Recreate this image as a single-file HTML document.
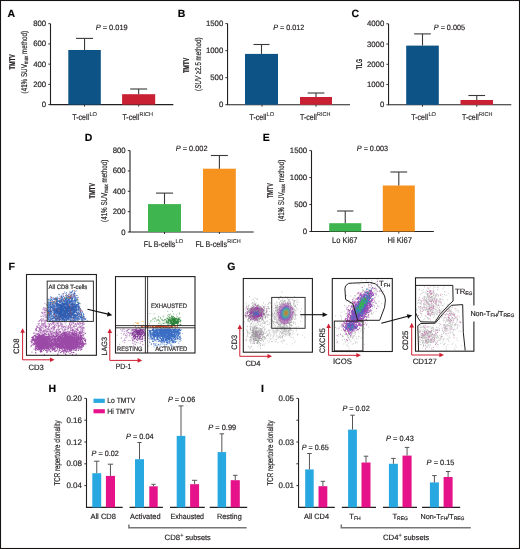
<!DOCTYPE html>
<html><head><meta charset="utf-8"><style>
html,body{margin:0;padding:0;background:#fff;}
body{width:520px;height:549px;overflow:hidden;}
svg{display:block;text-rendering:geometricPrecision;will-change:transform;font-family:"Liberation Sans",sans-serif;}
text{fill:#231f20;stroke:#231f20;stroke-width:0.18px;}
</style></head><body>
<svg width="520" height="549" viewBox="0 0 520 549">
<defs><filter id="bl" x="-50%" y="-50%" width="200%" height="200%"><feGaussianBlur stdDeviation="0.6"/></filter><filter id="bl2" x="-50%" y="-50%" width="200%" height="200%"><feGaussianBlur stdDeviation="0.9"/></filter></defs>
<rect x="0" y="0" width="520" height="549" fill="#fff"/>
<text x="7.60" y="16.70" font-size="10.5" font-weight="bold" style="fill:#000">A</text>
<line x1="50.50" y1="23.70" x2="50.50" y2="104.60" stroke="#231f20" stroke-width="1.1"/>
<line x1="48.30" y1="23.70" x2="50.50" y2="23.70" stroke="#231f20" stroke-width="0.9"/>
<text x="46.20" y="26.20" font-size="7.8" text-anchor="end">800</text>
<line x1="48.30" y1="43.93" x2="50.50" y2="43.93" stroke="#231f20" stroke-width="0.9"/>
<text x="46.20" y="46.43" font-size="7.8" text-anchor="end">600</text>
<line x1="48.30" y1="64.15" x2="50.50" y2="64.15" stroke="#231f20" stroke-width="0.9"/>
<text x="46.20" y="66.65" font-size="7.8" text-anchor="end">400</text>
<line x1="48.30" y1="84.38" x2="50.50" y2="84.38" stroke="#231f20" stroke-width="0.9"/>
<text x="46.20" y="86.88" font-size="7.8" text-anchor="end">200</text>
<line x1="48.30" y1="104.60" x2="50.50" y2="104.60" stroke="#231f20" stroke-width="0.9"/>
<text x="46.20" y="107.10" font-size="7.8" text-anchor="end">0</text>
<line x1="49.95" y1="104.60" x2="173.30" y2="104.60" stroke="#231f20" stroke-width="1.1"/>
<line x1="84.50" y1="104.60" x2="84.50" y2="106.60" stroke="#231f20" stroke-width="0.9"/>
<line x1="138.70" y1="104.60" x2="138.70" y2="106.60" stroke="#231f20" stroke-width="0.9"/>
<rect x="68.30" y="50.00" width="32.50" height="54.60" fill="#0d5386"/>
<line x1="84.55" y1="50.00" x2="84.55" y2="38.40" stroke="#3a3a3a" stroke-width="1.1"/>
<line x1="76.05" y1="38.40" x2="93.05" y2="38.40" stroke="#3a3a3a" stroke-width="1.1"/>
<rect x="122.10" y="94.20" width="33.10" height="10.40" fill="#c92133"/>
<line x1="138.65" y1="94.20" x2="138.65" y2="89.00" stroke="#3a3a3a" stroke-width="1.1"/>
<line x1="130.15" y1="89.00" x2="147.15" y2="89.00" stroke="#3a3a3a" stroke-width="1.1"/>
<text x="95.70" y="29.80" font-size="7.7" textLength="32.00" lengthAdjust="spacingAndGlyphs"><tspan font-style="italic">P</tspan> = 0.019</text>
<text x="72.30" y="119.80" font-size="8.4" textLength="16.80" lengthAdjust="spacingAndGlyphs">T-cell</text>
<text x="89.40" y="116.20" font-size="5.6" textLength="7.60" lengthAdjust="spacingAndGlyphs" style="stroke-width:0.08px">LO</text>
<text x="122.40" y="119.80" font-size="8.4" textLength="16.80" lengthAdjust="spacingAndGlyphs">T-cell</text>
<text x="139.50" y="116.20" font-size="5.6" textLength="13.40" lengthAdjust="spacingAndGlyphs" style="stroke-width:0.08px">RICH</text>
<text x="15.50" y="61.80" font-size="8.4" text-anchor="middle" font-weight="bold" textLength="15.40" lengthAdjust="spacingAndGlyphs" transform="rotate(-90 15.50 61.80)">TMTV</text>
<text x="27.2" y="62.2" font-size="8.4" text-anchor="middle" transform="rotate(-90 27.2 62.2)" textLength="62.5" lengthAdjust="spacingAndGlyphs">(41% SUV<tspan font-size="6" dy="1">max</tspan><tspan dy="-1"> method)</tspan></text>
<text x="177.80" y="16.70" font-size="10.5" font-weight="bold" style="fill:#000">B</text>
<line x1="227.55" y1="23.60" x2="227.55" y2="104.70" stroke="#231f20" stroke-width="1.1"/>
<line x1="225.35" y1="23.60" x2="227.55" y2="23.60" stroke="#231f20" stroke-width="0.9"/>
<text x="223.25" y="26.10" font-size="7.8" text-anchor="end">1500</text>
<line x1="225.35" y1="50.63" x2="227.55" y2="50.63" stroke="#231f20" stroke-width="0.9"/>
<text x="223.25" y="53.13" font-size="7.8" text-anchor="end">1000</text>
<line x1="225.35" y1="77.67" x2="227.55" y2="77.67" stroke="#231f20" stroke-width="0.9"/>
<text x="223.25" y="80.17" font-size="7.8" text-anchor="end">500</text>
<line x1="225.35" y1="104.70" x2="227.55" y2="104.70" stroke="#231f20" stroke-width="0.9"/>
<text x="223.25" y="107.20" font-size="7.8" text-anchor="end">0</text>
<line x1="227.00" y1="104.70" x2="350.00" y2="104.70" stroke="#231f20" stroke-width="1.1"/>
<line x1="262.00" y1="104.70" x2="262.00" y2="106.70" stroke="#231f20" stroke-width="0.9"/>
<line x1="316.00" y1="104.70" x2="316.00" y2="106.70" stroke="#231f20" stroke-width="0.9"/>
<rect x="245.00" y="53.90" width="33.00" height="50.80" fill="#0d5386"/>
<line x1="261.50" y1="53.90" x2="261.50" y2="44.50" stroke="#3a3a3a" stroke-width="1.1"/>
<line x1="253.50" y1="44.50" x2="269.50" y2="44.50" stroke="#3a3a3a" stroke-width="1.1"/>
<rect x="300.00" y="97.00" width="32.00" height="7.70" fill="#c92133"/>
<line x1="316.00" y1="97.00" x2="316.00" y2="93.00" stroke="#3a3a3a" stroke-width="1.1"/>
<line x1="307.65" y1="93.00" x2="324.35" y2="93.00" stroke="#3a3a3a" stroke-width="1.1"/>
<text x="273.30" y="30.00" font-size="7.7" textLength="31.00" lengthAdjust="spacingAndGlyphs"><tspan font-style="italic">P</tspan> = 0.012</text>
<text x="249.50" y="119.80" font-size="8.4" textLength="16.80" lengthAdjust="spacingAndGlyphs">T-cell</text>
<text x="266.60" y="116.20" font-size="5.6" textLength="7.60" lengthAdjust="spacingAndGlyphs" style="stroke-width:0.08px">LO</text>
<text x="300.00" y="119.80" font-size="8.4" textLength="16.80" lengthAdjust="spacingAndGlyphs">T-cell</text>
<text x="317.10" y="116.20" font-size="5.6" textLength="13.40" lengthAdjust="spacingAndGlyphs" style="stroke-width:0.08px">RICH</text>
<text x="189.00" y="65.40" font-size="8.4" text-anchor="middle" font-weight="bold" textLength="15.40" lengthAdjust="spacingAndGlyphs" transform="rotate(-90 189.00 65.40)">TMTV</text>
<text x="200.6" y="64.2" font-size="8.4" text-anchor="middle" transform="rotate(-90 200.6 64.2)" textLength="53.5" lengthAdjust="spacingAndGlyphs">(<tspan font-style="italic">SUV</tspan> ≥2.5 method)</text>
<text x="351.40" y="16.70" font-size="10.5" font-weight="bold" style="fill:#000">C</text>
<line x1="388.55" y1="23.80" x2="388.55" y2="104.80" stroke="#231f20" stroke-width="1.1"/>
<line x1="386.35" y1="23.80" x2="388.55" y2="23.80" stroke="#231f20" stroke-width="0.9"/>
<text x="384.25" y="26.30" font-size="7.8" text-anchor="end">4000</text>
<line x1="386.35" y1="44.05" x2="388.55" y2="44.05" stroke="#231f20" stroke-width="0.9"/>
<text x="384.25" y="46.55" font-size="7.8" text-anchor="end">3000</text>
<line x1="386.35" y1="64.30" x2="388.55" y2="64.30" stroke="#231f20" stroke-width="0.9"/>
<text x="384.25" y="66.80" font-size="7.8" text-anchor="end">2000</text>
<line x1="386.35" y1="84.55" x2="388.55" y2="84.55" stroke="#231f20" stroke-width="0.9"/>
<text x="384.25" y="87.05" font-size="7.8" text-anchor="end">1000</text>
<line x1="386.35" y1="104.80" x2="388.55" y2="104.80" stroke="#231f20" stroke-width="0.9"/>
<text x="384.25" y="107.30" font-size="7.8" text-anchor="end">0</text>
<line x1="388.00" y1="104.80" x2="511.30" y2="104.80" stroke="#231f20" stroke-width="1.1"/>
<line x1="422.50" y1="104.80" x2="422.50" y2="106.80" stroke="#231f20" stroke-width="0.9"/>
<line x1="476.80" y1="104.80" x2="476.80" y2="106.80" stroke="#231f20" stroke-width="0.9"/>
<rect x="406.20" y="45.60" width="32.60" height="59.20" fill="#0d5386"/>
<line x1="422.50" y1="45.60" x2="422.50" y2="33.90" stroke="#3a3a3a" stroke-width="1.1"/>
<line x1="414.15" y1="33.90" x2="430.85" y2="33.90" stroke="#3a3a3a" stroke-width="1.1"/>
<rect x="460.50" y="100.00" width="32.50" height="4.80" fill="#c92133"/>
<line x1="476.75" y1="100.00" x2="476.75" y2="95.50" stroke="#3a3a3a" stroke-width="1.1"/>
<line x1="468.40" y1="95.50" x2="485.10" y2="95.50" stroke="#3a3a3a" stroke-width="1.1"/>
<text x="433.80" y="30.00" font-size="7.7" textLength="31.20" lengthAdjust="spacingAndGlyphs"><tspan font-style="italic">P</tspan> = 0.005</text>
<text x="411.30" y="119.80" font-size="8.4" textLength="16.80" lengthAdjust="spacingAndGlyphs">T-cell</text>
<text x="428.40" y="116.20" font-size="5.6" textLength="7.60" lengthAdjust="spacingAndGlyphs" style="stroke-width:0.08px">LO</text>
<text x="462.00" y="119.80" font-size="8.4" textLength="16.80" lengthAdjust="spacingAndGlyphs">T-cell</text>
<text x="479.10" y="116.20" font-size="5.6" textLength="13.40" lengthAdjust="spacingAndGlyphs" style="stroke-width:0.08px">RICH</text>
<text x="362.00" y="64.20" font-size="8.4" text-anchor="middle" font-weight="bold" textLength="10.20" lengthAdjust="spacingAndGlyphs" transform="rotate(-90 362.00 64.20)">TLG</text>
<text x="84.80" y="141.40" font-size="10.5" font-weight="bold" style="fill:#000">D</text>
<line x1="130.00" y1="150.60" x2="130.00" y2="232.00" stroke="#231f20" stroke-width="1.1"/>
<line x1="127.80" y1="150.60" x2="130.00" y2="150.60" stroke="#231f20" stroke-width="0.9"/>
<text x="125.70" y="153.10" font-size="7.8" text-anchor="end">800</text>
<line x1="127.80" y1="170.95" x2="130.00" y2="170.95" stroke="#231f20" stroke-width="0.9"/>
<text x="125.70" y="173.45" font-size="7.8" text-anchor="end">600</text>
<line x1="127.80" y1="191.30" x2="130.00" y2="191.30" stroke="#231f20" stroke-width="0.9"/>
<text x="125.70" y="193.80" font-size="7.8" text-anchor="end">400</text>
<line x1="127.80" y1="211.65" x2="130.00" y2="211.65" stroke="#231f20" stroke-width="0.9"/>
<text x="125.70" y="214.15" font-size="7.8" text-anchor="end">200</text>
<line x1="127.80" y1="232.00" x2="130.00" y2="232.00" stroke="#231f20" stroke-width="0.9"/>
<text x="125.70" y="234.50" font-size="7.8" text-anchor="end">0</text>
<line x1="129.45" y1="232.00" x2="253.70" y2="232.00" stroke="#231f20" stroke-width="1.1"/>
<line x1="164.50" y1="232.00" x2="164.50" y2="234.00" stroke="#231f20" stroke-width="0.9"/>
<line x1="219.40" y1="232.00" x2="219.40" y2="234.00" stroke="#231f20" stroke-width="0.9"/>
<rect x="148.00" y="204.10" width="33.00" height="27.90" fill="#3eb54f"/>
<line x1="164.50" y1="204.10" x2="164.50" y2="193.10" stroke="#3a3a3a" stroke-width="1.1"/>
<line x1="156.00" y1="193.10" x2="173.00" y2="193.10" stroke="#3a3a3a" stroke-width="1.1"/>
<rect x="203.00" y="168.70" width="32.80" height="63.30" fill="#f6921e"/>
<line x1="219.40" y1="168.70" x2="219.40" y2="155.50" stroke="#3a3a3a" stroke-width="1.1"/>
<line x1="210.90" y1="155.50" x2="227.90" y2="155.50" stroke="#3a3a3a" stroke-width="1.1"/>
<text x="175.80" y="151.30" font-size="7.7" textLength="31.70" lengthAdjust="spacingAndGlyphs"><tspan font-style="italic">P</tspan> = 0.002</text>
<text x="143.80" y="247.00" font-size="8.4" textLength="31.50" lengthAdjust="spacingAndGlyphs">FL B-cells</text>
<text x="175.60" y="243.40" font-size="5.6" textLength="7.60" lengthAdjust="spacingAndGlyphs" style="stroke-width:0.08px">LO</text>
<text x="195.50" y="247.00" font-size="8.4" textLength="31.50" lengthAdjust="spacingAndGlyphs">FL B-cells</text>
<text x="227.30" y="243.40" font-size="5.6" textLength="13.40" lengthAdjust="spacingAndGlyphs" style="stroke-width:0.08px">RICH</text>
<text x="95.20" y="190.80" font-size="8.4" text-anchor="middle" font-weight="bold" textLength="15.60" lengthAdjust="spacingAndGlyphs" transform="rotate(-90 95.20 190.80)">TMTV</text>
<text x="107.0" y="190.8" font-size="8.4" text-anchor="middle" transform="rotate(-90 107.0 190.8)" textLength="62.2" lengthAdjust="spacingAndGlyphs">(41% SUV<tspan font-size="6" dy="1">max</tspan><tspan dy="-1"> method)</tspan></text>
<text x="262.80" y="141.40" font-size="10.5" font-weight="bold" style="fill:#000">E</text>
<line x1="311.50" y1="150.60" x2="311.50" y2="231.50" stroke="#231f20" stroke-width="1.1"/>
<line x1="309.30" y1="150.60" x2="311.50" y2="150.60" stroke="#231f20" stroke-width="0.9"/>
<text x="307.20" y="153.10" font-size="7.8" text-anchor="end">1500</text>
<line x1="309.30" y1="177.57" x2="311.50" y2="177.57" stroke="#231f20" stroke-width="0.9"/>
<text x="307.20" y="180.07" font-size="7.8" text-anchor="end">1000</text>
<line x1="309.30" y1="204.53" x2="311.50" y2="204.53" stroke="#231f20" stroke-width="0.9"/>
<text x="307.20" y="207.03" font-size="7.8" text-anchor="end">500</text>
<line x1="309.30" y1="231.50" x2="311.50" y2="231.50" stroke="#231f20" stroke-width="0.9"/>
<text x="307.20" y="234.00" font-size="7.8" text-anchor="end">0</text>
<line x1="310.95" y1="231.50" x2="433.80" y2="231.50" stroke="#231f20" stroke-width="1.1"/>
<line x1="345.30" y1="231.50" x2="345.30" y2="233.50" stroke="#231f20" stroke-width="0.9"/>
<line x1="398.80" y1="231.50" x2="398.80" y2="233.50" stroke="#231f20" stroke-width="0.9"/>
<rect x="329.20" y="223.20" width="32.10" height="8.30" fill="#3eb54f"/>
<line x1="345.25" y1="223.20" x2="345.25" y2="211.00" stroke="#3a3a3a" stroke-width="1.1"/>
<line x1="337.10" y1="211.00" x2="353.40" y2="211.00" stroke="#3a3a3a" stroke-width="1.1"/>
<rect x="382.80" y="185.50" width="32.00" height="46.00" fill="#f6921e"/>
<line x1="398.80" y1="185.50" x2="398.80" y2="172.00" stroke="#3a3a3a" stroke-width="1.1"/>
<line x1="390.45" y1="172.00" x2="407.15" y2="172.00" stroke="#3a3a3a" stroke-width="1.1"/>
<text x="356.80" y="150.80" font-size="7.7" textLength="31.20" lengthAdjust="spacingAndGlyphs"><tspan font-style="italic">P</tspan> = 0.003</text>
<text x="332.00" y="243.30" font-size="8.4" textLength="25.50" lengthAdjust="spacingAndGlyphs">Lo Ki67</text>
<text x="387.50" y="243.30" font-size="8.4" textLength="24.50" lengthAdjust="spacingAndGlyphs">Hi Ki67</text>
<text x="273.00" y="190.60" font-size="8.4" text-anchor="middle" font-weight="bold" textLength="14.80" lengthAdjust="spacingAndGlyphs" transform="rotate(-90 273.00 190.60)">TMTV</text>
<text x="284.2" y="190.5" font-size="8.4" text-anchor="middle" transform="rotate(-90 284.2 190.5)" textLength="61.6" lengthAdjust="spacingAndGlyphs">(41% SUV<tspan font-size="6" dy="1">max</tspan><tspan dy="-1"> method)</tspan></text>
<text x="48.50" y="392.40" font-size="10.5" font-weight="bold" style="fill:#000">H</text>
<line x1="86.50" y1="398.40" x2="86.50" y2="507.40" stroke="#231f20" stroke-width="1.1"/>
<line x1="84.30" y1="398.40" x2="86.50" y2="398.40" stroke="#231f20" stroke-width="0.9"/>
<text x="82.00" y="400.90" font-size="8.0" text-anchor="end">0.20</text>
<line x1="84.30" y1="420.20" x2="86.50" y2="420.20" stroke="#231f20" stroke-width="0.9"/>
<text x="82.00" y="422.70" font-size="8.0" text-anchor="end">0.16</text>
<line x1="84.30" y1="442.00" x2="86.50" y2="442.00" stroke="#231f20" stroke-width="0.9"/>
<text x="82.00" y="444.50" font-size="8.0" text-anchor="end">0.12</text>
<line x1="84.30" y1="463.80" x2="86.50" y2="463.80" stroke="#231f20" stroke-width="0.9"/>
<text x="82.00" y="466.30" font-size="8.0" text-anchor="end">0.08</text>
<line x1="84.30" y1="485.60" x2="86.50" y2="485.60" stroke="#231f20" stroke-width="0.9"/>
<text x="82.00" y="488.10" font-size="8.0" text-anchor="end">0.04</text>
<line x1="85.95" y1="507.40" x2="122.70" y2="507.40" stroke="#231f20" stroke-width="1.1"/>
<line x1="129.60" y1="507.40" x2="162.90" y2="507.40" stroke="#231f20" stroke-width="1.1"/>
<line x1="170.00" y1="507.40" x2="204.80" y2="507.40" stroke="#231f20" stroke-width="1.1"/>
<line x1="209.70" y1="507.40" x2="247.20" y2="507.40" stroke="#231f20" stroke-width="1.1"/>
<rect x="93.50" y="398.70" width="11.30" height="4.20" fill="#27a8e0"/>
<rect x="93.50" y="409.20" width="11.30" height="4.10" fill="#e5128a"/>
<text x="107.30" y="403.40" font-size="7.7" textLength="27.90" lengthAdjust="spacingAndGlyphs">Lo TMTV</text>
<text x="107.30" y="414.00" font-size="7.7" textLength="27.30" lengthAdjust="spacingAndGlyphs">Hi TMTV</text>
<rect x="92.30" y="473.20" width="8.90" height="34.20" fill="#27a8e0"/>
<line x1="96.75" y1="473.20" x2="96.75" y2="461.20" stroke="#555" stroke-width="1"/>
<line x1="94.05" y1="461.20" x2="99.45" y2="461.20" stroke="#555" stroke-width="1"/>
<rect x="105.90" y="475.90" width="9.10" height="31.50" fill="#e5128a"/>
<line x1="110.45" y1="475.90" x2="110.45" y2="464.20" stroke="#555" stroke-width="1"/>
<line x1="107.75" y1="464.20" x2="113.15" y2="464.20" stroke="#555" stroke-width="1"/>
<rect x="135.00" y="459.20" width="9.00" height="48.20" fill="#27a8e0"/>
<line x1="139.50" y1="459.20" x2="139.50" y2="442.50" stroke="#555" stroke-width="1"/>
<line x1="137.40" y1="442.50" x2="141.60" y2="442.50" stroke="#555" stroke-width="1"/>
<rect x="149.30" y="486.30" width="8.40" height="21.10" fill="#e5128a"/>
<line x1="153.50" y1="486.30" x2="153.50" y2="484.30" stroke="#555" stroke-width="1"/>
<line x1="151.40" y1="484.30" x2="155.60" y2="484.30" stroke="#555" stroke-width="1"/>
<rect x="176.70" y="435.90" width="8.60" height="71.50" fill="#27a8e0"/>
<line x1="181.00" y1="435.90" x2="181.00" y2="405.90" stroke="#555" stroke-width="1"/>
<line x1="178.55" y1="405.90" x2="183.45" y2="405.90" stroke="#555" stroke-width="1"/>
<rect x="190.10" y="484.20" width="9.00" height="23.20" fill="#e5128a"/>
<line x1="194.60" y1="484.20" x2="194.60" y2="480.30" stroke="#555" stroke-width="1"/>
<line x1="192.00" y1="480.30" x2="197.20" y2="480.30" stroke="#555" stroke-width="1"/>
<rect x="217.60" y="452.10" width="8.50" height="55.30" fill="#27a8e0"/>
<line x1="221.85" y1="452.10" x2="221.85" y2="433.80" stroke="#555" stroke-width="1"/>
<line x1="219.60" y1="433.80" x2="224.10" y2="433.80" stroke="#555" stroke-width="1"/>
<rect x="230.70" y="480.20" width="9.10" height="27.20" fill="#e5128a"/>
<line x1="235.25" y1="480.20" x2="235.25" y2="475.30" stroke="#555" stroke-width="1"/>
<line x1="233.00" y1="475.30" x2="237.50" y2="475.30" stroke="#555" stroke-width="1"/>
<text x="91.50" y="456.00" font-size="7.7" textLength="27.30" lengthAdjust="spacingAndGlyphs"><tspan font-style="italic">P</tspan> = 0.02</text>
<text x="126.00" y="439.20" font-size="7.7" textLength="27.60" lengthAdjust="spacingAndGlyphs"><tspan font-style="italic">P</tspan> = 0.04</text>
<text x="167.90" y="402.30" font-size="7.7" textLength="27.30" lengthAdjust="spacingAndGlyphs"><tspan font-style="italic">P</tspan> = 0.06</text>
<text x="208.30" y="429.60" font-size="7.7" textLength="27.90" lengthAdjust="spacingAndGlyphs"><tspan font-style="italic">P</tspan> = 0.99</text>
<text x="90.40" y="518.80" font-size="7.7" textLength="25.60" lengthAdjust="spacingAndGlyphs">All CD8</text>
<text x="130.10" y="518.50" font-size="7.7" textLength="30.40" lengthAdjust="spacingAndGlyphs">Activated</text>
<text x="170.60" y="518.50" font-size="7.7" textLength="33.40" lengthAdjust="spacingAndGlyphs">Exhausted</text>
<text x="217.10" y="518.50" font-size="7.7" textLength="24.60" lengthAdjust="spacingAndGlyphs">Resting</text>
<path d="M128.9 524.6 V527.7 H246.6" fill="none" stroke="#767676" stroke-width="1.5"/>
<text x="164.6" y="539.9" font-size="7.7" textLength="46.2" lengthAdjust="spacingAndGlyphs">CD8<tspan font-size="5.5" dy="-3.4">+</tspan><tspan dy="3.4" font-size="7.3"> subsets</tspan></text>
<text x="60.20" y="453.00" font-size="8.4" text-anchor="middle" textLength="65.20" lengthAdjust="spacingAndGlyphs" transform="rotate(-90 60.20 453.00)">TCR repertoire clonality</text>
<text x="261.00" y="392.40" font-size="10.5" font-weight="bold" style="fill:#000">I</text>
<line x1="298.55" y1="398.40" x2="298.55" y2="507.40" stroke="#231f20" stroke-width="1.1"/>
<line x1="296.35" y1="398.40" x2="298.55" y2="398.40" stroke="#231f20" stroke-width="0.9"/>
<text x="294.05" y="400.90" font-size="8.0" text-anchor="end">0.05</text>
<line x1="296.35" y1="420.20" x2="298.55" y2="420.20" stroke="#231f20" stroke-width="0.9"/>
<line x1="296.35" y1="442.00" x2="298.55" y2="442.00" stroke="#231f20" stroke-width="0.9"/>
<text x="294.05" y="444.50" font-size="8.0" text-anchor="end">0.03</text>
<line x1="296.35" y1="463.80" x2="298.55" y2="463.80" stroke="#231f20" stroke-width="0.9"/>
<line x1="296.35" y1="485.60" x2="298.55" y2="485.60" stroke="#231f20" stroke-width="0.9"/>
<text x="294.05" y="488.10" font-size="8.0" text-anchor="end">0.01</text>
<line x1="298.00" y1="507.40" x2="334.80" y2="507.40" stroke="#231f20" stroke-width="1.1"/>
<line x1="341.80" y1="507.40" x2="376.00" y2="507.40" stroke="#231f20" stroke-width="1.1"/>
<line x1="382.90" y1="507.40" x2="417.00" y2="507.40" stroke="#231f20" stroke-width="1.1"/>
<line x1="422.00" y1="507.40" x2="460.20" y2="507.40" stroke="#231f20" stroke-width="1.1"/>
<rect x="305.20" y="469.40" width="8.50" height="38.00" fill="#27a8e0"/>
<line x1="309.45" y1="469.40" x2="309.45" y2="453.50" stroke="#555" stroke-width="1"/>
<line x1="307.20" y1="453.50" x2="311.70" y2="453.50" stroke="#555" stroke-width="1"/>
<rect x="318.50" y="486.20" width="8.80" height="21.20" fill="#e5128a"/>
<line x1="322.90" y1="486.20" x2="322.90" y2="481.30" stroke="#555" stroke-width="1"/>
<line x1="320.65" y1="481.30" x2="325.15" y2="481.30" stroke="#555" stroke-width="1"/>
<rect x="348.10" y="429.60" width="8.80" height="77.80" fill="#27a8e0"/>
<line x1="352.50" y1="429.60" x2="352.50" y2="415.20" stroke="#555" stroke-width="1"/>
<line x1="350.25" y1="415.20" x2="354.75" y2="415.20" stroke="#555" stroke-width="1"/>
<rect x="361.50" y="462.50" width="9.00" height="44.90" fill="#e5128a"/>
<line x1="366.00" y1="462.50" x2="366.00" y2="456.20" stroke="#555" stroke-width="1"/>
<line x1="363.75" y1="456.20" x2="368.25" y2="456.20" stroke="#555" stroke-width="1"/>
<rect x="388.90" y="463.80" width="9.00" height="43.60" fill="#27a8e0"/>
<line x1="393.40" y1="463.80" x2="393.40" y2="458.40" stroke="#555" stroke-width="1"/>
<line x1="391.15" y1="458.40" x2="395.65" y2="458.40" stroke="#555" stroke-width="1"/>
<rect x="402.50" y="455.60" width="9.10" height="51.80" fill="#e5128a"/>
<line x1="407.05" y1="455.60" x2="407.05" y2="447.40" stroke="#555" stroke-width="1"/>
<line x1="404.80" y1="447.40" x2="409.30" y2="447.40" stroke="#555" stroke-width="1"/>
<rect x="429.90" y="482.40" width="9.00" height="25.00" fill="#27a8e0"/>
<line x1="434.40" y1="482.40" x2="434.40" y2="475.60" stroke="#555" stroke-width="1"/>
<line x1="432.15" y1="475.60" x2="436.65" y2="475.60" stroke="#555" stroke-width="1"/>
<rect x="443.60" y="477.00" width="9.00" height="30.40" fill="#e5128a"/>
<line x1="448.10" y1="477.00" x2="448.10" y2="471.50" stroke="#555" stroke-width="1"/>
<line x1="445.85" y1="471.50" x2="450.35" y2="471.50" stroke="#555" stroke-width="1"/>
<text x="301.70" y="450.20" font-size="7.7" textLength="27.00" lengthAdjust="spacingAndGlyphs"><tspan font-style="italic">P</tspan> = 0.65</text>
<text x="342.40" y="411.30" font-size="7.7" textLength="27.30" lengthAdjust="spacingAndGlyphs"><tspan font-style="italic">P</tspan> = 0.02</text>
<text x="386.10" y="441.40" font-size="7.7" textLength="27.70" lengthAdjust="spacingAndGlyphs"><tspan font-style="italic">P</tspan> = 0.43</text>
<text x="426.60" y="464.70" font-size="7.7" textLength="27.90" lengthAdjust="spacingAndGlyphs"><tspan font-style="italic">P</tspan> = 0.15</text>
<text x="304.00" y="518.80" font-size="7.7" textLength="25.00" lengthAdjust="spacingAndGlyphs">All CD4</text>
<text x="349.2" y="518.5" font-size="7.7">T<tspan font-size="5" dy="1.6">FH</tspan></text>
<text x="392.4" y="518.5" font-size="7.7">T<tspan font-size="5" dy="1.6">REG</tspan></text>
<text x="420.6" y="518.5" font-size="7.2">Non-T<tspan font-size="5" dy="1.6">FH</tspan><tspan dy="-1.6">/T</tspan><tspan font-size="5" dy="1.6">REG</tspan></text>
<path d="M341.3 524.6 V527.8 H470.8" fill="none" stroke="#767676" stroke-width="1.5"/>
<text x="382.9" y="539.9" font-size="7.7" textLength="46.4" lengthAdjust="spacingAndGlyphs">CD4<tspan font-size="5.5" dy="-3.4">+</tspan><tspan dy="3.4" font-size="7.3"> subsets</tspan></text>
<text x="272.70" y="453.00" font-size="8.4" text-anchor="middle" textLength="65.20" lengthAdjust="spacingAndGlyphs" transform="rotate(-90 272.70 453.00)">TCR repertoire clonality</text>
<path d="M55.5 333.9h0M48.5 333.5h0M64.9 326.2h0M48.8 324.0h0M48.0 332.6h0M44.6 323.6h0M82.5 329.9h0M55.1 331.0h0M70.1 331.3h0M71.7 324.4h0M57.4 334.4h0M58.4 327.2h0M53.1 327.4h0M63.0 336.2h0M83.1 339.3h0M44.0 319.9h0M64.0 339.1h0M60.9 325.3h0M33.2 336.9h0M82.5 332.7h0M82.5 325.2h0M45.1 314.2h0M81.8 328.5h0M81.2 333.0h0M43.2 309.3h0M69.2 332.8h0M69.6 337.3h0M40.7 332.4h0M78.0 339.8h0M54.1 338.8h0M39.1 337.1h0M82.3 333.9h0M45.1 312.0h0M55.2 337.6h0M58.4 329.7h0M63.3 332.2h0M46.6 331.7h0M56.6 325.1h0M60.7 328.4h0M82.6 338.6h0M63.6 338.7h0M70.2 332.1h0M39.3 329.4h0M38.6 336.2h0M43.2 339.1h0M49.1 329.6h0M77.3 339.8h0M64.2 328.7h0M42.1 312.8h0M74.0 322.6h0M58.5 338.3h0M59.7 334.2h0M50.6 334.1h0M80.5 335.7h0M46.9 309.9h0M73.4 326.4h0M80.1 336.6h0M74.0 333.3h0M80.1 333.0h0M65.0 336.6h0M80.1 322.9h0M67.6 327.9h0M62.1 327.0h0M58.7 328.0h0M67.0 326.4h0M70.3 328.4h0M37.1 336.6h0M79.2 339.7h0M42.6 323.8h0M61.4 339.1h0M83.2 328.8h0M75.0 334.4h0M36.1 334.2h0M45.9 320.9h0M52.4 339.2h0M75.2 326.4h0M32.9 338.0h0M45.6 326.9h0M42.5 337.1h0M43.2 337.2h0M83.2 330.7h0M43.0 311.1h0M53.5 338.0h0M81.3 339.9h0M73.3 326.5h0M57.4 322.6h0M45.1 326.1h0M61.5 323.9h0M43.4 324.6h0M77.8 330.3h0M42.3 339.8h0M43.3 331.2h0M42.8 339.9h0M53.6 336.8h0M41.1 338.4h0M51.1 339.2h0M51.4 333.7h0M51.9 336.8h0M54.6 333.3h0M33.8 337.7h0M74.8 336.8h0M46.3 339.3h0M45.7 329.4h0M75.3 337.6h0M45.1 317.6h0M78.2 330.3h0M76.4 324.9h0M41.8 330.9h0M59.9 329.1h0M70.4 330.7h0M44.8 310.1h0M83.1 323.7h0M79.1 334.5h0M77.7 322.5h0M63.0 326.2h0M39.8 328.5h0M48.7 323.2h0M55.4 333.6h0M61.3 337.9h0M39.6 332.2h0M54.3 334.7h0M66.0 322.6h0M44.1 331.3h0M74.0 331.9h0M52.7 339.0h0M73.9 333.4h0M60.1 337.7h0M45.8 320.7h0M39.7 338.4h0M61.8 326.1h0M82.4 322.8h0M53.7 332.7h0M51.6 331.4h0M40.6 330.5h0M65.2 327.2h0M39.0 325.3h0M60.8 336.7h0M43.6 326.8h0M43.5 323.9h0M42.3 325.6h0M38.1 338.4h0M68.3 335.7h0M44.9 337.0h0M63.1 338.6h0M42.0 324.9h0M68.5 333.3h0M32.9 336.5h0M80.7 330.6h0M50.1 330.7h0M80.7 329.2h0M43.0 336.1h0M49.6 336.1h0M44.4 337.2h0M58.2 334.4h0M73.5 323.4h0M42.7 325.5h0M68.0 328.6h0M51.8 333.5h0M82.1 337.5h0M80.9 333.3h0M79.5 325.9h0M47.0 329.3h0M49.2 339.5h0M81.1 325.3h0M72.3 322.1h0M59.5 332.7h0M42.9 328.7h0M36.6 326.1h0M77.3 328.6h0M75.2 326.5h0M80.6 327.1h0M57.7 336.3h0M41.4 340.0h0M36.1 339.5h0M77.7 330.1h0M41.8 326.2h0M42.4 315.9h0M53.9 332.4h0M60.0 325.9h0M38.5 324.8h0M74.5 337.2h0M64.4 330.7h0M70.8 326.3h0M48.8 325.8h0M55.2 332.1h0M70.5 338.1h0M69.3 331.9h0M59.4 340.0h0M76.9 338.6h0M62.5 329.4h0M68.4 334.0h0M54.6 338.9h0M43.1 332.9h0M76.6 333.2h0M58.1 323.0h0M68.3 333.6h0M46.9 310.0h0M68.2 327.0h0M84.3 332.1h0M79.9 326.0h0M44.0 331.8h0M39.2 337.1h0M40.1 336.5h0M77.3 334.4h0M56.3 336.2h0M45.9 309.6h0M62.4 335.4h0M68.2 326.1h0M73.1 325.6h0M63.2 333.9h0M60.4 340.0h0M83.1 322.4h0M41.4 337.8h0M66.7 325.3h0M71.8 324.4h0M42.8 327.3h0M76.5 337.5h0M52.1 333.7h0M68.5 338.3h0M37.1 333.2h0M65.5 338.4h0M44.5 330.1h0M72.8 335.1h0M69.0 333.5h0M48.7 329.9h0M68.7 325.8h0M77.1 323.2h0M33.6 339.9h0M79.9 324.6h0M55.7 336.4h0M80.0 333.3h0M81.1 333.1h0M75.0 338.2h0M66.4 327.8h0M35.3 333.1h0M58.6 324.2h0M68.0 332.3h0M79.1 339.5h0M84.3 334.3h0M77.2 329.1h0M65.5 331.1h0M38.6 327.8h0M43.2 338.3h0M50.4 333.7h0M72.8 322.7h0M46.3 334.4h0M40.1 320.1h0M83.7 327.4h0M45.5 308.3h0M47.4 336.7h0M43.1 323.4h0M40.8 331.6h0M42.4 325.1h0M78.7 323.9h0M54.5 329.6h0M80.5 335.4h0M58.6 335.8h0M41.2 334.1h0M72.9 333.5h0M49.3 329.2h0M82.4 339.1h0M60.8 321.8h0M43.4 307.5h0M45.0 333.5h0M35.8 328.7h0M82.2 329.4h0M53.7 338.6h0M61.0 339.3h0M51.9 321.8h0M78.6 336.3h0M45.9 327.8h0M62.5 337.9h0M45.0 321.3h0M48.3 326.5h0M65.7 339.2h0M46.1 319.1h0M62.8 334.4h0M64.2 326.7h0M62.9 325.1h0M43.3 321.0h0M51.2 335.3h0M47.7 331.7h0M34.0 335.7h0M56.4 330.2h0M43.5 339.3h0M51.1 327.7h0M81.0 333.7h0M74.3 330.5h0M58.5 332.2h0M75.9 324.0h0M55.1 332.1h0M53.4 322.8h0M49.3 332.3h0M38.7 323.6h0M35.3 337.7h0M51.5 324.4h0M83.7 328.3h0M40.9 325.8h0M54.7 332.3h0M48.3 334.5h0M59.9 322.7h0M61.3 333.7h0M49.4 329.3h0M36.0 337.1h0M56.4 325.4h0M32.6 338.2h0M48.9 336.9h0M59.7 338.9h0M53.4 329.5h0M48.5 335.9h0M41.2 339.8h0M37.4 333.9h0M44.7 307.8h0M39.4 328.9h0M46.2 334.2h0M56.6 334.3h0M43.6 318.6h0M84.0 324.1h0M44.8 324.9h0M60.8 322.2h0M69.5 323.3h0M40.6 334.9h0M54.2 337.3h0M83.0 335.3h0M70.8 327.2h0M54.8 327.0h0M44.9 334.7h0M36.9 337.4h0M41.9 312.4h0M80.4 323.4h0M80.1 331.8h0M42.6 337.5h0M53.6 330.7h0M55.4 338.1h0M74.3 334.0h0M60.7 338.1h0M72.2 333.0h0M62.8 339.7h0M72.4 327.5h0M44.5 321.1h0M48.0 336.3h0M40.2 327.3h0M57.7 331.4h0M41.8 328.8h0M41.4 322.3h0M67.7 338.3h0M45.1 310.1h0M77.1 334.0h0M52.1 322.6h0M67.7 333.6h0M84.3 338.7h0M48.0 323.8h0M56.6 339.8h0M41.4 329.6h0M80.4 335.1h0M81.9 339.9h0M67.2 333.3h0M70.6 325.0h0M64.3 339.1h0M50.6 336.3h0M41.3 327.8h0M52.3 323.8h0M61.8 323.2h0M83.4 322.5h0M45.1 320.1h0M43.6 323.5h0M60.8 324.1h0M56.4 335.4h0M72.9 331.0h0M36.1 334.0h0M40.3 339.4h0M44.2 315.3h0M48.0 329.0h0M63.8 337.6h0M40.1 330.6h0M74.2 338.9h0M80.3 323.8h0M38.7 335.9h0M40.9 333.6h0M39.5 334.6h0M82.4 325.0h0M83.6 324.2h0M58.1 323.7h0M38.7 327.5h0M46.4 320.5h0M63.6 331.6h0M76.5 326.0h0M77.7 335.8h0M75.8 330.3h0M44.6 309.6h0M56.7 323.3h0M50.4 337.8h0M51.4 331.8h0M59.1 336.9h0M66.2 335.4h0M78.6 335.9h0M62.2 335.9h0M49.6 330.7h0M54.3 327.8h0M66.8 329.7h0M38.6 331.5h0M62.3 324.1h0M69.4 324.7h0M72.7 331.3h0M61.4 338.6h0M69.3 331.7h0M74.3 337.8h0M59.9 326.1h0M49.4 337.0h0M45.1 310.8h0M81.8 335.6h0M75.1 333.7h0M71.0 324.5h0M64.8 336.2h0M76.8 335.4h0M36.7 339.9h0M40.1 328.0h0M50.4 337.7h0M77.5 328.3h0M49.0 336.0h0M59.8 337.7h0M42.9 339.7h0M69.2 322.3h0M82.4 329.4h0M44.4 308.1h0M49.5 326.5h0M48.9 339.8h0M74.8 335.0h0M44.1 325.8h0M52.7 329.2h0M61.6 325.1h0M49.3 325.8h0M43.4 325.1h0M38.5 338.0h0M83.6 335.6h0M52.9 334.1h0M58.7 332.7h0M39.0 327.9h0M42.1 323.4h0M40.7 329.4h0M68.2 335.2h0M55.4 332.5h0M64.7 337.9h0M52.3 327.3h0M59.8 337.0h0M58.4 336.5h0M79.5 327.5h0M35.3 330.9h0M79.0 335.7h0M46.5 310.8h0M45.3 335.2h0M82.0 332.9h0M45.4 308.3h0M46.4 332.6h0M72.6 332.9h0M57.3 338.3h0M56.0 326.2h0M70.4 327.7h0M42.7 334.4h0M77.1 339.0h0M84.4 328.1h0M52.8 326.3h0M57.9 329.9h0M59.1 335.4h0M83.6 334.7h0M65.9 339.7h0M77.3 324.4h0M37.9 323.7h0M52.5 327.2h0M40.2 338.6h0M80.5 335.8h0M59.8 322.0h0M77.5 323.4h0M43.8 330.8h0M47.5 336.5h0M65.7 332.1h0M71.5 333.4h0M44.7 330.1h0M76.8 337.2h0M67.5 334.7h0M35.5 329.4h0M39.7 339.6h0M79.7 338.4h0M74.7 334.1h0M79.5 332.2h0M47.9 339.4h0M45.1 334.4h0M41.9 318.8h0M59.6 337.2h0M77.0 332.5h0M69.1 334.3h0M65.7 334.3h0M51.2 334.6h0M46.3 328.7h0M69.7 333.1h0M46.3 339.3h0M43.5 336.5h0M60.0 339.2h0M40.5 338.7h0M63.2 335.4h0M52.6 338.1h0M69.7 325.9h0M80.1 328.0h0M73.7 330.7h0M38.7 324.1h0M74.8 326.3h0M78.3 327.7h0M39.7 330.3h0M42.2 337.3h0M63.5 327.5h0M79.6 323.2h0M62.9 330.9h0M54.8 333.1h0M68.0 328.4h0M53.7 338.6h0M41.1 335.7h0M60.1 334.9h0M80.7 332.3h0M39.1 327.5h0M60.0 336.8h0M74.6 333.7h0M72.2 328.9h0M66.2 333.8h0M42.8 309.2h0M70.6 340.0h0M51.6 328.7h0M63.3 333.1h0M43.5 325.8h0M49.9 323.3h0M80.4 333.2h0M67.8 329.7h0M78.3 339.4h0M57.2 328.0h0M41.4 316.5h0M41.7 330.2h0M45.9 323.0h0M73.4 329.5h0M81.8 329.6h0M45.8 314.6h0M83.9 333.0h0M39.2 331.9h0M56.2 330.0h0M78.7 334.5h0M59.1 326.2h0M44.6 337.1h0M57.4 324.0h0M54.0 327.6h0M44.4 326.6h0M53.5 332.3h0M68.0 330.4h0M70.3 338.1h0M41.2 333.1h0M77.2 336.5h0M63.4 333.7h0M79.8 333.3h0M37.3 326.7h0M73.8 334.8h0M48.2 331.3h0M71.5 324.5h0M80.2 329.4h0M70.9 334.8h0M69.2 338.2h0M45.0 316.9h0M43.8 336.3h0M49.7 331.6h0M83.4 332.6h0M36.3 333.8h0M62.2 339.6h0M61.9 326.6h0M71.4 330.6h0M44.9 310.5h0M45.6 339.5h0M65.5 326.9h0M59.6 339.8h0M46.4 331.5h0M54.5 328.3h0M81.3 332.9h0M41.4 337.1h0M69.6 324.1h0M53.0 326.7h0M37.8 339.5h0M52.8 331.4h0M69.8 334.3h0M58.2 338.4h0M36.6 338.7h0M45.9 337.9h0M42.3 327.2h0M58.2 330.4h0M44.0 320.5h0M78.2 338.8h0M54.1 327.8h0M43.0 334.2h0M43.6 339.4h0M57.2 323.0h0M37.2 339.4h0M38.2 321.4h0M33.1 337.5h0M47.3 339.6h0M78.4 326.8h0M83.9 339.5h0M34.6 336.8h0M40.9 328.4h0M44.2 315.0h0M74.5 325.6h0M70.3 332.8h0M58.5 327.8h0M69.8 331.4h0M43.4 308.8h0M51.3 328.9h0M40.5 319.7h0M52.2 339.5h0M80.1 326.3h0M72.3 339.6h0M45.3 333.7h0M81.0 335.9h0M62.1 329.8h0M40.4 328.5h0M36.9 338.3h0M77.5 329.9h0M77.8 332.9h0M72.5 333.0h0M69.8 323.2h0M41.6 323.9h0M45.5 317.4h0M47.4 326.2h0M66.9 337.0h0M48.7 327.2h0M76.3 333.9h0M39.1 338.2h0M45.2 327.4h0M72.7 331.6h0M56.8 338.0h0M57.3 326.1h0M58.0 325.4h0M35.6 339.5h0M47.3 331.5h0M44.6 339.8h0M73.0 330.1h0M41.6 339.3h0M40.4 330.5h0M81.8 323.6h0M80.9 333.6h0M68.1 336.4h0M44.7 337.7h0M75.3 333.3h0M80.6 334.8h0M38.3 338.5h0M70.6 326.8h0M82.2 322.5h0M50.4 332.1h0" stroke="#b47dbd" stroke-width="0.84" stroke-linecap="round"/>
<path d="M41.9 318.9h0M78.1 339.1h0M67.9 336.7h0M84.0 330.1h0M82.4 323.5h0M65.2 334.0h0M82.8 327.3h0M37.5 337.5h0M79.2 332.3h0M43.3 330.5h0M72.6 338.1h0M63.7 332.6h0M75.6 335.6h0M83.9 336.9h0M60.6 338.2h0M55.4 324.7h0M46.6 317.2h0M73.0 330.7h0M45.3 321.2h0M66.2 337.1h0M65.1 329.6h0M72.7 329.1h0M80.3 337.9h0M77.8 327.8h0M50.2 331.4h0M54.6 325.3h0M41.0 319.7h0M41.9 324.3h0M72.1 339.6h0M51.1 328.3h0M39.1 335.4h0M67.8 337.7h0M63.3 327.2h0M52.0 334.9h0M65.4 327.8h0M36.9 336.8h0M51.8 336.7h0M61.9 338.1h0M45.6 315.2h0M51.8 337.4h0M39.6 328.3h0M45.8 330.1h0M63.1 337.8h0M41.6 330.7h0M82.4 330.9h0M61.8 327.9h0M56.4 332.4h0M57.1 336.1h0M53.0 328.3h0M78.1 332.2h0M54.8 327.4h0M46.1 337.1h0M46.5 337.8h0M38.9 331.2h0M84.4 324.0h0M56.5 329.8h0M73.8 326.6h0M59.6 329.6h0M52.2 337.7h0M64.3 333.1h0M57.4 335.4h0M37.1 330.7h0M44.9 333.4h0M81.1 336.6h0M73.1 329.9h0M38.2 333.4h0M41.2 320.5h0M39.8 338.1h0M76.3 325.9h0M35.9 337.5h0M70.9 330.5h0M71.0 322.7h0M75.7 324.2h0M53.1 322.4h0M62.6 335.4h0M51.6 324.8h0M42.3 320.8h0M80.2 327.4h0M70.7 329.2h0M54.9 337.0h0M49.4 339.6h0M36.6 330.6h0M69.7 339.1h0M73.6 322.6h0M39.6 320.6h0M44.2 331.0h0M70.2 334.2h0M60.2 337.9h0M60.7 338.4h0M49.5 337.3h0M80.8 326.6h0M36.1 330.4h0M43.4 316.3h0M46.0 327.5h0M54.0 328.2h0M41.6 327.5h0M71.1 328.6h0M72.9 332.8h0M65.0 329.6h0M73.6 335.5h0M39.3 335.8h0M49.1 337.3h0M68.6 338.9h0M41.8 321.3h0M60.6 324.1h0M46.6 320.6h0M55.1 327.2h0M76.2 328.9h0M54.1 329.1h0M59.0 330.0h0M75.3 330.1h0M44.0 332.2h0M70.6 326.0h0M70.2 339.6h0M43.8 313.8h0M77.7 330.2h0M80.9 335.6h0M49.9 334.9h0M37.2 337.0h0M53.8 324.4h0M52.3 331.2h0M70.8 325.6h0M42.0 335.1h0M44.0 324.0h0M49.5 326.4h0M42.8 312.8h0M51.8 337.0h0M67.5 331.9h0M45.6 330.9h0M47.4 328.8h0M52.3 335.3h0M50.1 325.2h0M36.9 326.9h0M55.0 339.2h0M69.7 327.3h0M43.2 339.4h0M40.4 326.5h0M45.5 326.4h0M59.0 325.3h0M48.5 327.8h0M67.0 332.0h0M64.0 330.9h0M56.9 339.8h0M56.4 334.0h0M62.0 335.4h0M46.7 337.7h0M56.4 332.6h0M35.5 337.9h0M66.7 335.3h0M41.8 339.2h0M74.7 334.1h0M50.8 330.0h0M39.2 337.7h0M60.4 332.3h0M46.6 326.1h0M52.6 323.7h0M79.8 322.6h0M81.8 332.2h0M70.4 339.1h0M43.3 335.5h0M58.5 322.0h0M60.2 334.3h0M64.2 322.1h0M64.4 326.6h0M68.6 328.3h0M63.0 330.1h0M80.3 335.7h0M44.9 303.4h0M45.0 312.3h0M52.3 332.3h0M36.5 328.6h0M54.7 338.2h0M76.1 334.1h0M54.5 327.1h0M57.7 323.6h0M63.4 335.5h0M52.1 336.1h0M67.9 334.6h0M72.8 329.9h0M68.6 326.9h0M49.5 324.5h0M37.7 327.5h0M62.8 333.1h0M40.8 316.2h0M68.8 334.1h0M56.9 335.8h0M56.4 331.3h0M39.2 321.3h0M44.3 323.0h0M65.2 329.1h0M48.1 329.4h0M41.7 321.2h0M35.9 338.7h0M65.9 335.4h0M65.3 329.6h0M46.5 326.3h0M54.7 336.6h0M45.4 333.4h0M68.9 333.2h0M34.8 335.4h0M45.5 325.3h0M57.8 329.3h0M58.5 326.6h0M71.8 330.4h0M54.1 323.4h0M41.3 338.9h0M57.9 334.4h0M80.0 336.1h0M77.9 334.6h0M39.3 323.3h0M39.3 329.4h0M46.0 316.2h0M36.0 329.1h0M47.2 339.8h0M37.5 334.8h0M72.7 333.2h0M63.0 333.3h0M78.7 323.2h0M72.4 338.2h0M69.8 338.4h0M71.0 336.6h0M50.1 338.9h0M56.7 332.5h0M40.4 339.8h0M54.7 339.1h0M81.0 332.0h0M44.3 312.5h0M53.7 326.5h0M42.2 313.8h0M55.4 334.3h0M65.2 323.8h0M36.1 330.0h0M82.7 327.3h0M47.8 331.2h0M64.0 337.5h0M58.7 326.0h0M72.3 338.8h0M49.2 335.9h0M68.9 332.8h0M72.3 321.7h0M76.8 339.0h0M50.8 332.9h0M59.6 338.4h0M62.9 338.0h0M72.0 323.8h0M38.6 333.6h0M43.0 338.5h0M82.0 333.9h0M76.0 331.7h0M49.7 334.2h0M48.8 328.0h0M80.9 323.2h0M45.1 322.3h0M81.6 336.5h0M71.8 327.6h0M76.7 331.4h0M69.8 335.8h0M77.3 329.3h0M61.9 328.7h0M46.9 330.3h0M81.8 326.2h0M52.8 337.8h0M45.4 310.6h0M60.1 331.5h0M80.4 336.6h0M37.4 326.1h0M58.1 337.4h0M80.9 333.6h0M78.0 330.0h0M64.6 336.5h0M61.1 323.9h0M40.3 338.5h0M45.0 312.9h0M50.7 332.1h0M44.2 332.0h0M62.3 321.8h0M63.2 326.8h0M78.4 324.4h0M53.6 323.0h0M61.9 326.2h0M56.7 335.6h0M43.9 328.9h0M42.5 332.1h0M43.1 319.3h0M45.5 327.3h0M74.0 327.4h0M62.1 324.5h0M41.9 312.7h0M73.8 323.7h0M83.0 338.5h0M75.0 328.5h0M45.3 338.9h0M55.8 336.8h0M46.3 308.7h0M76.4 329.7h0M83.1 324.9h0M46.4 304.8h0M67.4 335.3h0M43.0 331.4h0M53.9 339.3h0M37.0 334.8h0M75.0 324.6h0M77.0 329.7h0M81.6 327.8h0M72.2 329.8h0M83.9 327.3h0M60.7 332.9h0M82.7 328.6h0M36.4 329.7h0M68.9 332.0h0M63.7 337.8h0M69.4 324.1h0M75.4 323.5h0M55.9 323.0h0M52.3 339.8h0M82.4 338.5h0M33.5 336.6h0M77.9 335.4h0M34.1 333.2h0M58.4 336.6h0M45.0 338.1h0M50.6 323.5h0M56.4 333.3h0M49.6 324.8h0M54.6 325.6h0M67.1 336.9h0M45.3 324.0h0M76.5 337.0h0M51.6 328.6h0M70.9 322.3h0M42.7 333.7h0M50.8 332.4h0M71.9 336.3h0M61.7 333.7h0M68.6 328.0h0M56.2 338.2h0M39.9 325.8h0M66.1 332.1h0M47.7 334.9h0M36.5 328.1h0M53.1 322.6h0M54.2 332.8h0M49.8 338.3h0M62.1 332.3h0M35.8 335.9h0M54.4 322.1h0M72.3 332.6h0M38.7 331.2h0M39.2 334.1h0M74.7 336.2h0" stroke="#9a4aa6" stroke-width="0.84" stroke-linecap="round"/>
<path d="M40.6 339.2h0M46.2 337.9h0M38.5 341.4h0M40.8 350.0h0M43.0 339.7h0M44.2 343.8h0M43.1 342.4h0M43.8 338.5h0M37.4 341.1h0M37.8 345.1h0M49.4 346.9h0M43.7 343.8h0M39.4 338.0h0M44.1 337.4h0M43.2 342.1h0M44.9 342.8h0M42.4 340.6h0M35.4 341.4h0M44.7 346.3h0M47.3 339.1h0M38.4 345.1h0M40.3 351.6h0M43.2 337.3h0M39.9 348.1h0M35.0 343.1h0M36.7 348.2h0M40.3 339.0h0M35.5 340.1h0M32.3 340.9h0M50.3 342.9h0M41.0 338.5h0M43.3 340.9h0M38.8 347.5h0M43.7 339.5h0M47.6 342.4h0M43.9 343.1h0M46.5 344.8h0M40.7 345.1h0M40.5 343.1h0M48.3 338.9h0M38.1 341.2h0M40.1 347.2h0M35.9 350.6h0M48.0 341.0h0M42.7 341.3h0M44.6 344.9h0M44.9 345.3h0M49.4 342.0h0M44.7 341.9h0M42.1 343.4h0M41.8 343.8h0M38.8 342.1h0M39.7 338.5h0M39.3 340.9h0M41.4 337.1h0M41.0 338.6h0M38.9 343.3h0M46.2 343.6h0M40.1 341.1h0M47.1 336.9h0M46.3 337.3h0M39.6 342.8h0M41.2 348.4h0M43.9 342.4h0M45.6 342.7h0M38.9 346.5h0M47.7 347.1h0M37.5 349.3h0M40.4 345.3h0M46.6 351.0h0M35.8 339.0h0M46.5 344.3h0M40.8 332.3h0M43.7 341.9h0M32.0 352.0h0M32.5 340.6h0M42.0 343.4h0M44.9 341.7h0M38.6 341.3h0M34.0 338.7h0M49.5 340.2h0M41.7 349.3h0M46.0 343.0h0M44.8 341.7h0M38.5 346.1h0M42.5 348.2h0M41.0 341.3h0M43.3 341.9h0M40.8 339.5h0M43.0 343.7h0M49.0 342.5h0M35.3 344.2h0M50.7 341.0h0M38.9 342.0h0M31.1 341.4h0M41.3 337.3h0M44.2 339.5h0M34.9 340.1h0M44.4 349.4h0M46.8 343.3h0M40.0 341.7h0M45.7 340.8h0M43.6 346.0h0M38.5 340.5h0M43.7 342.6h0M41.5 340.7h0M41.8 349.1h0M47.2 336.9h0M42.2 342.9h0M42.1 337.7h0M41.5 343.1h0M39.4 343.7h0M32.7 337.3h0M42.4 344.0h0M41.4 341.0h0M42.7 346.4h0M45.4 342.3h0M40.2 346.3h0M44.1 345.7h0M40.9 339.6h0M42.7 340.4h0M46.4 345.6h0M33.7 344.9h0M47.1 346.3h0M40.2 339.6h0M45.7 346.2h0M42.2 338.5h0M36.2 343.5h0M38.8 340.2h0M43.7 346.3h0M34.1 340.2h0M47.0 342.5h0M40.7 344.9h0M37.6 338.3h0M42.1 348.1h0M45.9 342.6h0M45.9 341.2h0M37.5 336.7h0M43.0 345.8h0M43.4 342.5h0M40.5 346.4h0M41.8 337.5h0M47.2 340.3h0M43.5 342.6h0M46.0 343.5h0M46.7 343.3h0M40.2 340.8h0M44.5 339.7h0M45.6 341.8h0M38.4 339.5h0M41.4 348.8h0M45.0 342.7h0M38.5 349.3h0M40.9 342.6h0M40.4 347.3h0M42.7 341.0h0M42.7 339.1h0M38.0 342.0h0M31.0 346.7h0M49.6 338.7h0M41.5 337.0h0M42.7 343.3h0M44.8 337.9h0M39.7 340.3h0M41.1 350.7h0M41.2 342.5h0M40.1 345.4h0M51.8 346.7h0M47.9 338.8h0M46.1 342.7h0M46.8 346.3h0M44.5 336.7h0M42.5 340.8h0M43.7 342.7h0M46.0 336.9h0M39.2 342.3h0M43.2 341.2h0M41.9 342.8h0M46.0 342.2h0M42.9 336.2h0M32.0 337.4h0M43.4 334.5h0M43.6 342.3h0M42.0 340.0h0M40.4 345.5h0M43.4 342.5h0M40.1 343.3h0M46.6 342.5h0M40.6 338.4h0M42.4 339.4h0M36.5 345.7h0M39.6 335.4h0M39.2 349.1h0M41.6 337.9h0M37.8 345.1h0M43.6 343.4h0M41.2 344.3h0M47.9 344.3h0M41.4 337.7h0M43.7 348.1h0M44.5 338.2h0M42.7 347.2h0M39.6 344.4h0M46.6 348.4h0M35.9 336.4h0M43.4 345.1h0M40.6 342.5h0M40.4 346.8h0M33.5 343.5h0M37.1 340.2h0M36.1 339.4h0M41.9 342.7h0M48.9 341.8h0M43.3 343.9h0M43.0 347.8h0M42.5 343.1h0M41.6 342.6h0M41.8 346.1h0M42.1 342.8h0M41.8 345.3h0M40.2 345.9h0M39.8 345.1h0M49.4 343.4h0M41.7 338.4h0M44.8 342.6h0M45.5 340.3h0M44.0 349.0h0M43.5 341.4h0M37.0 342.6h0M44.5 344.7h0M37.7 339.0h0M38.2 339.0h0M40.9 343.5h0M49.4 343.3h0M47.6 336.7h0M47.9 345.4h0M43.7 345.5h0M44.4 349.4h0M45.1 336.4h0M35.3 348.3h0M41.7 347.3h0M40.7 340.3h0M40.7 343.7h0M42.7 340.4h0M44.1 344.8h0M38.5 338.6h0M34.4 341.5h0M42.0 340.1h0M39.7 342.1h0M42.1 344.6h0M45.2 344.2h0M46.3 339.2h0M44.3 343.9h0M38.0 340.2h0M43.7 342.9h0M37.2 340.6h0M47.9 345.6h0M42.3 347.4h0M38.5 342.0h0M45.7 341.4h0M37.7 344.7h0M48.2 333.6h0M42.6 338.2h0M40.9 337.6h0M52.0 340.2h0M42.2 340.1h0M38.2 341.0h0M42.8 348.8h0M43.1 348.2h0M37.9 342.9h0M40.3 337.0h0M56.4 341.7h0M42.9 339.9h0M39.8 338.9h0M46.0 341.2h0M41.4 343.2h0M37.3 343.4h0M41.3 344.2h0M40.5 342.7h0M44.0 346.0h0M39.3 346.1h0M38.2 341.9h0M42.5 343.1h0M32.4 339.1h0M41.3 345.9h0M39.3 348.0h0M35.1 342.9h0M44.1 342.7h0M43.0 345.9h0M38.9 344.7h0M46.1 341.8h0M33.1 338.4h0M38.7 338.8h0M43.7 339.7h0M51.6 344.6h0M37.0 341.6h0M47.9 345.0h0M38.1 346.3h0M40.2 350.5h0M39.9 344.7h0M44.2 341.0h0M41.4 346.7h0M43.9 342.4h0M43.7 348.8h0M45.6 344.3h0M43.3 337.0h0M42.5 340.9h0M44.8 340.4h0M43.7 338.9h0M45.5 340.0h0M41.9 344.7h0M40.8 342.6h0M46.1 348.9h0M35.0 339.4h0M44.6 345.9h0M40.2 342.9h0M41.3 350.7h0M41.2 338.4h0M36.0 338.1h0M47.0 341.2h0M49.5 344.9h0M43.5 344.9h0M45.0 345.9h0M38.2 340.6h0M39.9 343.0h0M41.0 338.2h0M39.3 349.0h0M50.2 339.6h0M43.5 342.5h0M38.7 345.1h0M41.7 348.5h0M43.8 341.5h0M31.8 342.2h0M45.3 340.1h0M45.4 345.0h0M35.2 341.9h0M43.2 345.3h0M42.6 342.5h0M40.7 341.6h0M42.0 338.8h0M44.5 341.4h0M44.0 340.8h0M43.6 343.1h0M45.4 344.2h0M45.6 342.0h0M41.8 341.7h0M37.2 342.2h0M46.2 345.3h0M38.7 343.7h0M44.9 337.8h0M43.3 343.8h0M44.9 343.5h0M35.3 335.4h0M49.6 341.2h0M46.9 347.1h0M42.3 338.5h0M47.3 342.5h0M44.0 344.3h0M45.7 346.2h0M36.5 337.6h0M42.5 342.6h0M45.0 342.1h0M41.3 349.8h0M47.3 346.7h0M46.0 339.8h0M41.7 342.4h0M37.8 339.5h0M42.6 338.3h0M44.1 344.3h0M41.1 341.4h0M44.3 344.3h0M43.4 338.3h0M35.7 349.9h0M39.5 341.3h0M35.0 339.8h0M39.2 345.4h0M31.8 337.6h0M40.4 340.9h0M39.0 341.0h0M35.9 343.5h0M46.6 343.1h0M39.9 347.1h0M43.9 339.0h0M39.8 340.4h0M41.8 346.9h0M39.3 342.1h0M42.4 338.4h0M40.2 344.8h0M46.4 336.0h0M44.7 341.6h0M47.0 344.8h0M49.6 343.7h0M40.5 339.7h0M36.5 344.6h0M44.0 345.5h0M43.4 337.3h0M40.4 341.7h0M42.6 345.3h0M47.5 343.6h0M34.0 339.0h0M33.8 339.9h0M37.4 343.4h0M41.1 346.5h0M46.2 341.0h0M45.6 342.6h0M43.8 347.4h0M37.6 342.4h0M47.9 339.9h0M42.8 343.1h0M40.4 338.0h0M39.4 339.1h0M46.2 343.5h0M44.7 338.4h0M43.9 343.1h0M46.0 340.1h0M45.1 347.4h0M48.9 339.3h0M37.7 337.4h0M45.7 344.7h0M43.3 339.5h0M46.8 348.3h0M41.9 342.2h0M46.6 344.4h0M47.2 341.2h0M43.3 341.4h0M39.8 341.6h0M40.9 344.4h0M40.8 342.8h0M38.9 338.3h0M47.5 339.1h0M49.0 345.9h0M33.2 340.3h0M40.4 342.7h0M41.3 340.5h0M46.8 342.2h0M45.7 340.2h0M39.3 347.3h0M40.9 338.7h0M41.3 346.3h0M41.4 340.1h0M44.5 346.1h0M41.2 341.5h0M40.6 352.1h0M41.3 348.8h0M41.4 344.0h0M34.2 343.2h0M42.2 341.5h0M40.4 337.8h0M36.3 343.2h0M39.5 342.3h0M41.3 340.8h0M39.2 349.1h0M37.8 340.8h0M40.9 338.5h0M38.3 345.6h0M45.6 343.1h0M54.5 345.5h0M46.8 339.7h0M46.2 348.5h0M40.5 349.0h0M38.9 338.6h0M41.8 339.8h0M44.5 338.7h0M42.3 335.7h0M41.9 346.3h0M41.0 343.7h0M46.2 338.7h0M37.1 342.9h0M43.1 341.7h0M38.3 346.9h0M37.5 341.7h0M41.8 345.2h0M40.3 339.7h0M49.8 339.6h0M45.1 342.1h0M40.2 342.4h0M41.0 343.7h0M32.2 342.5h0M42.3 339.2h0M40.5 350.8h0M49.1 344.9h0M42.9 341.5h0M47.4 341.0h0M38.9 345.0h0M38.3 339.8h0M47.6 337.0h0M41.8 343.0h0M43.0 337.5h0M41.1 341.4h0M49.4 346.1h0M39.1 345.7h0M44.5 342.2h0M41.1 341.6h0M36.1 340.4h0M45.6 347.7h0M49.2 341.3h0M44.4 334.1h0M41.0 338.2h0M45.2 336.8h0M38.0 338.7h0M43.5 345.5h0M38.5 348.9h0M42.6 339.7h0M43.4 342.6h0M45.2 343.8h0M50.4 346.7h0M39.6 345.4h0M44.9 339.1h0M39.1 339.8h0M32.5 344.8h0M41.2 346.9h0M39.9 342.9h0M44.8 346.0h0M43.2 338.9h0M50.5 345.7h0M47.3 348.3h0M47.4 344.1h0M43.8 344.8h0M36.2 345.5h0M38.3 344.1h0M38.1 345.1h0M40.1 351.3h0M42.8 344.4h0M38.5 341.6h0M41.8 341.6h0M40.3 339.5h0M45.0 341.3h0M38.9 343.9h0M38.9 342.0h0M40.1 339.4h0M41.2 339.7h0M37.2 343.8h0M40.9 337.5h0M40.5 343.3h0M43.7 343.9h0M43.0 344.7h0M40.1 339.8h0M44.4 341.2h0M42.1 344.9h0M45.6 346.9h0M39.4 341.3h0M44.2 337.6h0M37.2 344.7h0M39.7 339.4h0M45.1 344.5h0M45.6 341.4h0M40.9 341.4h0M43.2 335.5h0M39.4 345.1h0M39.0 342.4h0M42.5 344.4h0M40.2 338.6h0M51.6 340.1h0M48.6 336.4h0M42.5 341.9h0M49.3 349.7h0M45.8 339.1h0M38.9 340.0h0M40.1 343.5h0M39.0 341.7h0M47.7 347.6h0M34.9 339.3h0M40.6 347.1h0M40.8 349.3h0M43.4 347.6h0M38.7 341.5h0M45.9 344.6h0M34.9 341.6h0M42.7 344.8h0M39.6 348.7h0M42.6 347.7h0M43.6 342.9h0M40.8 338.5h0M45.4 345.3h0M45.6 341.3h0M38.2 341.3h0M40.8 342.6h0M45.8 339.4h0M40.2 345.0h0M45.5 350.3h0M44.1 339.6h0M38.1 339.8h0M42.3 343.5h0M41.8 340.5h0M41.3 342.3h0M44.3 342.9h0M38.9 338.5h0M47.7 342.3h0M41.4 342.5h0M46.4 341.5h0M42.7 341.8h0M44.3 339.1h0M42.8 346.2h0M46.6 344.8h0M43.2 348.1h0M44.8 347.5h0M37.5 338.8h0M45.1 341.7h0M40.4 339.3h0M47.7 338.4h0M42.5 337.7h0M41.4 350.4h0M51.4 340.9h0M38.2 348.3h0M38.8 336.4h0M43.4 338.8h0M36.5 346.5h0M39.3 338.9h0M42.7 341.9h0M46.3 342.9h0M48.1 346.6h0M48.9 346.5h0M42.3 344.5h0M42.1 337.2h0M37.6 345.2h0M33.0 339.7h0M37.1 342.4h0M38.1 343.5h0M41.3 341.0h0M38.8 334.9h0M42.3 338.1h0M40.9 343.9h0M46.1 345.1h0M47.7 337.7h0M44.6 348.1h0M43.6 338.7h0M43.6 340.8h0M39.6 346.3h0M41.4 338.7h0M39.5 349.4h0M38.8 345.0h0M42.7 346.7h0M41.0 339.3h0M39.6 339.0h0M52.0 343.3h0M40.8 347.0h0M44.6 342.0h0M44.4 343.6h0M46.4 348.4h0M40.9 342.5h0M41.4 346.9h0M43.5 345.3h0M45.5 340.4h0M42.6 347.4h0M45.6 345.4h0M41.0 341.4h0M38.8 341.7h0M41.8 337.6h0M46.5 339.9h0M43.0 344.7h0M40.0 336.3h0M45.7 344.0h0M41.1 346.6h0M45.5 339.3h0M41.8 336.5h0M41.1 347.5h0M38.9 345.5h0M36.3 341.6h0M45.7 348.6h0M43.8 345.2h0M48.6 334.1h0M35.6 349.2h0M51.5 344.7h0M42.3 343.5h0M42.2 340.5h0M42.0 342.2h0M44.6 345.0h0M45.8 344.7h0M38.4 347.5h0M31.9 343.0h0M43.3 340.8h0M49.2 338.8h0M37.6 340.9h0M43.7 345.4h0M42.5 344.9h0M39.4 340.5h0M42.6 337.9h0M42.8 341.2h0M44.7 339.1h0M40.1 340.6h0M40.7 339.1h0M41.1 337.9h0M44.1 344.9h0M42.0 342.0h0M38.7 339.3h0M41.2 339.5h0M37.6 343.2h0M42.0 341.2h0M39.0 342.4h0M39.4 341.1h0M42.8 345.1h0M44.9 340.5h0M46.6 338.6h0M41.4 347.1h0M51.1 343.1h0M40.7 341.3h0M37.5 342.1h0M40.5 340.0h0M46.6 339.9h0M48.5 345.5h0M44.5 340.6h0M40.1 335.7h0M43.1 341.7h0M43.5 340.3h0M43.9 337.4h0M33.8 344.3h0M46.1 331.7h0M46.9 341.4h0M41.5 337.3h0M38.3 345.1h0M39.3 342.5h0M41.5 349.5h0M45.4 338.0h0M40.2 338.6h0M36.8 340.2h0M46.2 342.8h0M44.6 342.1h0M40.5 342.9h0M41.8 349.3h0M48.8 343.9h0M44.3 335.7h0M41.6 350.9h0M39.0 345.4h0M46.7 341.2h0M41.2 341.0h0M45.1 342.7h0M47.7 346.7h0M42.0 351.7h0M40.9 340.5h0M41.2 339.5h0M40.5 342.4h0M45.4 337.1h0M36.8 339.9h0M40.9 344.2h0M39.1 347.9h0M40.1 341.9h0M42.3 346.7h0M43.2 342.7h0M40.0 343.2h0M43.6 341.4h0M42.0 336.2h0M40.1 346.7h0M47.4 342.4h0M33.9 349.0h0M41.4 351.6h0M40.5 346.1h0M39.7 347.4h0M46.4 338.9h0M46.9 352.6h0M41.2 338.4h0M43.1 341.2h0M36.4 338.9h0M43.0 337.3h0M46.1 344.2h0M41.4 347.5h0M38.6 345.0h0M37.0 341.5h0M44.5 340.7h0M41.6 344.9h0M47.8 347.1h0M43.8 341.7h0M36.6 348.6h0M49.1 335.1h0M45.3 342.5h0M44.7 343.7h0M41.3 342.6h0M41.9 346.7h0M41.1 340.7h0M44.5 344.9h0M43.7 343.6h0M47.6 346.5h0M42.8 341.9h0M44.5 336.1h0M40.1 340.1h0M42.7 341.3h0M51.3 345.2h0M43.6 350.5h0M42.0 341.5h0M46.7 345.5h0M45.5 346.8h0M40.7 340.3h0M39.3 343.0h0M45.8 338.9h0M40.0 337.9h0M49.5 345.4h0M42.9 338.3h0M38.2 340.3h0M42.2 338.2h0M41.2 346.9h0M42.1 342.9h0M34.2 341.7h0M41.5 340.2h0M36.8 342.4h0M38.2 340.7h0M36.1 342.3h0M45.4 339.7h0M43.3 337.3h0M44.2 344.5h0M40.6 345.7h0M38.7 342.8h0M48.3 342.5h0M37.8 346.6h0M44.0 341.6h0M35.2 336.0h0M36.3 347.8h0M43.1 339.6h0M46.4 347.7h0M38.9 344.3h0M35.9 343.9h0M48.8 337.6h0M42.2 340.4h0M41.7 342.9h0M43.1 345.7h0M44.0 346.3h0M45.8 346.5h0M39.5 344.0h0M40.6 339.6h0M49.4 343.6h0M42.2 335.2h0M41.2 345.3h0M41.3 340.7h0M47.6 341.5h0M40.8 342.2h0M41.2 346.3h0M44.2 342.4h0M40.7 341.8h0M48.4 341.5h0M44.5 337.1h0M43.2 345.0h0M46.8 343.7h0M44.2 343.7h0M46.0 349.8h0M42.8 339.7h0M44.3 342.2h0M44.4 345.3h0M42.6 341.1h0M43.2 338.2h0M43.1 339.5h0M43.7 343.0h0M41.2 338.4h0M42.2 340.2h0M41.5 345.0h0M45.6 338.1h0M45.5 347.4h0M46.2 343.6h0M41.7 348.7h0M40.8 337.2h0M42.4 343.6h0M38.2 338.3h0M49.4 343.0h0M45.0 340.6h0M36.4 342.0h0M47.0 340.3h0M35.4 342.0h0M41.0 342.7h0M38.1 341.5h0M40.0 345.7h0M42.6 345.7h0M41.9 335.1h0M34.7 344.5h0M45.3 345.7h0M41.8 336.3h0M40.2 344.0h0M47.2 341.4h0M39.9 339.9h0M45.8 345.7h0M35.2 346.9h0M38.6 337.4h0M36.1 340.0h0M50.7 351.6h0M37.4 340.2h0M42.6 344.1h0M40.3 337.0h0M40.5 340.2h0M35.4 343.1h0M36.6 336.5h0M47.7 345.9h0M47.4 343.0h0M40.5 342.3h0M36.9 345.2h0M43.1 341.5h0M35.1 342.2h0M48.1 347.7h0M45.3 341.4h0M42.6 344.6h0M42.8 346.3h0M39.6 334.4h0M33.0 339.4h0M36.9 344.9h0M46.1 342.6h0M44.1 342.9h0M42.7 340.9h0M40.5 346.8h0M41.0 342.5h0M46.5 346.1h0M40.6 343.5h0M38.3 343.1h0M43.2 342.6h0M42.7 343.9h0M32.6 339.7h0M42.3 340.9h0M38.4 341.8h0M48.0 341.8h0M39.6 340.9h0M37.6 344.3h0M38.4 345.8h0M45.4 344.6h0M45.9 342.3h0M35.5 342.4h0M44.4 337.2h0M37.5 346.5h0M43.7 347.3h0M44.5 342.8h0M43.6 345.6h0M41.9 341.9h0M43.2 341.5h0M51.1 339.9h0M36.4 338.1h0M46.0 341.2h0M42.6 341.8h0M43.1 337.5h0M42.4 340.6h0M46.1 344.8h0M37.3 339.2h0M44.2 346.8h0M44.9 342.1h0M46.2 334.3h0M40.0 339.2h0M38.2 344.6h0M43.1 343.6h0M41.6 344.8h0M45.0 340.6h0M45.6 339.3h0M48.7 338.0h0M41.0 338.8h0M42.2 347.2h0M39.2 348.9h0M47.4 344.0h0M39.8 345.8h0M31.3 339.9h0M45.7 342.5h0M51.4 340.2h0M37.0 341.8h0M44.2 348.6h0M35.4 343.2h0M46.8 340.2h0M40.3 338.3h0M44.9 345.5h0M44.3 343.5h0M45.8 342.2h0M44.8 345.5h0M47.0 344.4h0M42.4 345.1h0M36.2 336.4h0M48.2 343.1h0M38.1 340.5h0M41.5 342.9h0M39.2 346.1h0M35.6 352.5h0M38.0 348.5h0M44.6 336.7h0M37.4 342.8h0M43.1 341.1h0M42.1 343.2h0M37.7 342.8h0M50.7 340.3h0M38.2 344.9h0M47.2 346.3h0M39.7 342.3h0M42.8 341.9h0M43.6 346.4h0M44.1 342.6h0M41.3 348.9h0M37.4 349.7h0M44.9 342.9h0M39.2 349.1h0M46.7 345.8h0M50.0 336.2h0M42.4 341.5h0M39.3 342.9h0M44.1 344.5h0M41.5 337.9h0M44.2 344.8h0M50.1 345.9h0M42.1 338.5h0M52.5 340.2h0M42.8 345.3h0M44.0 347.3h0M38.1 340.2h0M42.7 338.2h0M39.7 347.5h0M43.2 342.2h0M39.9 342.8h0M41.9 338.8h0M45.1 338.1h0M47.0 341.4h0M33.3 337.1h0M43.2 339.5h0M49.0 347.5h0M50.1 345.8h0M47.2 340.4h0M47.1 341.0h0M41.9 337.8h0M42.3 344.0h0M41.8 338.7h0M45.5 345.9h0M41.7 345.4h0M45.9 339.1h0M41.9 336.0h0M38.1 344.1h0M38.7 344.0h0M43.4 335.2h0M40.2 348.0h0M42.1 343.0h0M39.3 336.9h0M35.9 352.9h0M41.3 339.5h0M42.5 335.7h0M47.5 348.7h0M39.1 343.8h0M38.6 345.7h0M38.8 342.1h0M47.1 344.5h0M40.8 337.2h0M35.9 346.9h0M44.0 342.8h0M46.9 343.1h0M39.2 342.2h0M41.7 342.6h0M51.7 344.7h0M43.1 341.7h0M39.4 339.0h0M34.7 341.0h0M36.1 336.0h0M38.4 335.3h0M47.4 347.1h0M38.3 349.9h0M44.6 333.5h0M42.1 339.0h0M35.3 341.7h0M46.5 344.2h0M36.4 340.2h0M39.1 346.7h0M41.7 339.1h0M38.5 335.5h0M38.8 345.8h0M34.6 343.3h0M41.6 345.5h0M37.6 345.9h0M48.1 350.8h0M35.7 342.5h0M41.2 343.0h0M38.2 345.7h0M51.2 348.0h0M38.3 340.5h0M44.9 343.1h0M39.1 347.0h0M44.1 346.3h0M41.3 347.2h0M40.2 338.6h0M42.0 337.6h0M46.9 345.2h0M35.5 343.2h0M45.4 341.3h0M43.7 340.5h0M41.8 342.3h0M43.9 339.1h0M37.6 343.8h0M40.0 344.5h0M40.1 337.9h0M44.9 343.6h0M44.9 341.4h0M40.6 347.2h0M35.4 348.9h0M44.0 342.4h0M42.4 344.8h0M39.0 343.6h0M38.3 335.9h0M42.8 343.0h0M44.6 344.6h0M44.8 345.5h0M37.9 347.0h0M52.5 340.6h0M37.1 345.1h0M45.6 346.3h0M48.0 337.6h0M43.5 344.3h0M46.9 339.4h0M42.1 341.3h0M41.4 342.1h0M41.4 336.2h0M41.9 342.8h0M40.5 329.8h0M39.3 340.2h0M38.6 348.4h0M45.6 341.9h0M44.4 354.5h0M38.2 344.3h0M39.7 348.0h0M46.4 342.2h0M44.4 339.7h0M35.8 345.6h0M48.4 341.5h0M39.9 336.1h0M50.4 338.3h0M38.2 341.9h0M46.8 342.8h0M41.9 342.7h0M45.3 342.5h0M42.6 342.3h0M37.7 347.5h0M39.3 337.8h0M40.3 342.7h0M45.2 337.3h0M37.0 343.2h0M43.5 338.6h0M37.6 343.2h0M41.4 336.8h0M38.6 348.0h0M37.9 346.4h0M36.0 348.0h0M48.3 340.3h0M39.3 344.9h0M37.1 344.6h0M46.8 343.6h0M43.3 342.0h0M45.9 339.6h0M48.2 342.5h0M40.7 336.7h0M40.3 343.5h0M46.9 336.8h0M41.5 340.1h0M37.3 342.6h0M39.0 345.7h0M31.4 345.3h0M34.5 335.6h0M44.0 341.4h0M42.5 339.1h0M37.9 339.9h0M41.8 339.6h0M40.4 339.5h0M42.9 338.5h0M33.8 333.1h0M41.9 342.9h0M45.8 339.9h0M37.5 337.2h0M45.0 340.3h0M45.9 342.3h0M40.9 335.9h0M39.4 345.5h0M39.6 345.1h0M35.6 346.3h0M52.9 346.6h0M43.3 338.1h0M39.9 340.2h0M42.7 335.3h0M38.6 345.5h0M42.6 345.3h0M45.3 338.5h0M36.7 344.3h0M42.1 342.9h0M38.8 346.3h0M43.9 346.7h0M40.6 345.1h0M41.8 339.2h0M41.7 336.6h0M41.3 343.2h0M44.7 338.8h0M36.8 340.0h0M33.9 340.2h0M52.2 343.1h0M39.0 340.1h0M48.9 338.4h0M41.6 342.3h0M39.1 340.0h0M35.4 339.6h0M47.1 347.7h0M40.9 345.1h0M43.8 343.0h0M41.5 347.0h0M44.2 341.8h0M41.1 346.0h0M39.7 340.0h0M40.9 340.8h0M46.9 343.9h0M41.7 340.7h0M47.5 344.2h0M50.1 345.9h0M41.2 340.6h0M40.9 343.3h0M45.1 344.4h0M48.1 337.1h0M42.1 337.5h0M38.0 340.4h0M39.5 339.1h0M36.1 346.7h0M40.7 346.1h0M37.7 334.2h0M39.7 345.8h0M39.8 344.0h0" stroke="#9a4aa6" stroke-width="1.20" stroke-linecap="round"/>
<path d="M60.1 348.0h0M71.9 346.5h0M66.3 347.5h0M69.1 339.9h0M63.5 342.2h0M61.4 336.9h0M69.5 345.1h0M66.2 345.6h0M80.9 336.5h0M70.5 337.8h0M63.5 342.8h0M75.1 344.3h0M73.6 349.8h0M65.6 346.7h0M79.8 344.1h0M54.5 341.3h0M66.2 335.0h0M68.0 345.3h0M66.5 341.2h0M80.0 339.3h0M61.1 342.2h0M77.3 344.6h0M69.1 339.9h0M78.1 345.8h0M54.9 343.4h0M73.3 339.3h0M58.4 340.7h0M54.8 344.4h0M64.5 334.4h0M68.3 347.1h0M58.6 340.5h0M82.7 342.8h0M64.2 342.8h0M74.6 337.7h0M67.7 335.0h0M56.1 335.4h0M75.1 343.3h0M74.2 347.2h0M68.9 343.0h0M71.7 344.0h0M60.2 340.8h0M67.3 342.1h0M62.6 341.4h0M70.7 342.8h0M73.1 345.5h0M72.8 346.2h0M75.1 348.0h0M73.4 339.3h0M78.3 345.1h0M68.9 337.1h0M71.9 340.5h0M65.4 332.8h0M80.6 337.0h0M59.9 344.0h0M72.9 338.6h0M68.4 343.1h0M69.7 344.3h0M74.6 340.4h0M55.8 351.3h0M65.5 337.7h0M74.4 344.5h0M63.7 352.1h0M50.1 347.5h0M68.2 343.3h0M71.0 341.0h0M71.0 336.4h0M65.4 350.0h0M51.0 338.3h0M75.4 340.2h0M64.0 335.5h0M67.6 341.2h0M63.5 335.3h0M69.7 343.8h0M77.4 344.2h0M80.4 347.2h0M67.7 337.5h0M71.9 346.1h0M56.4 336.7h0M73.9 339.6h0M79.9 342.9h0M64.2 336.3h0M73.2 334.6h0M58.3 336.3h0M81.8 349.4h0M66.8 340.3h0M74.0 347.4h0M62.2 351.5h0M66.9 346.9h0M63.0 350.6h0M66.8 336.5h0M83.8 339.0h0M68.5 336.6h0M73.8 342.8h0M66.2 340.3h0M64.0 338.9h0M57.5 347.2h0M75.5 336.0h0M59.4 343.8h0M66.0 340.9h0M70.4 341.2h0M77.0 346.2h0M72.8 348.8h0M66.7 339.6h0M56.3 331.8h0M71.3 337.4h0M76.8 332.9h0M67.4 340.3h0M60.0 346.8h0M65.4 343.9h0M64.4 342.6h0M65.0 342.3h0M67.7 339.1h0M71.9 341.2h0M60.9 337.5h0M72.0 347.7h0M58.2 340.2h0M72.0 346.5h0M74.1 336.9h0M68.8 345.9h0M70.4 341.0h0M59.2 342.7h0M68.0 342.1h0M80.3 347.1h0M62.3 343.0h0M66.1 342.4h0M81.3 345.9h0M68.8 339.2h0M67.2 343.6h0M64.6 346.8h0M68.7 336.9h0M66.4 341.5h0M76.2 346.8h0M79.9 348.7h0M71.0 342.5h0M76.5 341.9h0M58.6 340.0h0M73.7 344.6h0M59.8 347.2h0M70.9 335.5h0M72.2 346.3h0M72.7 340.7h0M62.2 346.8h0M70.3 342.0h0M65.4 337.5h0M53.8 340.5h0M77.2 345.3h0M63.2 348.6h0M66.7 337.7h0M76.2 348.0h0M65.4 336.7h0M68.0 331.5h0M68.9 348.6h0M70.6 338.8h0M74.1 339.9h0M78.4 340.5h0M84.5 340.5h0M70.0 337.9h0M58.5 343.5h0M71.2 337.8h0M72.9 340.2h0M64.2 341.7h0M71.6 345.1h0M78.2 343.6h0M62.8 339.0h0M71.4 336.8h0M67.2 340.3h0M67.7 342.8h0M76.6 349.1h0M75.4 346.4h0M60.1 346.5h0M78.6 336.2h0M69.0 338.5h0M64.0 346.6h0M70.5 340.4h0M77.5 338.0h0M61.8 339.6h0M62.6 345.0h0M66.7 337.5h0M64.9 333.4h0M69.8 342.4h0M73.3 341.0h0M71.6 338.0h0M68.7 342.7h0M59.0 344.5h0M69.6 342.2h0M64.8 350.6h0M68.5 338.7h0M61.8 344.5h0M66.9 338.6h0M62.8 346.0h0M69.2 346.5h0M68.4 336.9h0M75.3 343.4h0M63.4 340.7h0M60.9 345.6h0M65.2 344.1h0M70.5 340.9h0M71.4 340.9h0M59.3 340.2h0M59.3 345.2h0M73.6 339.5h0M73.3 343.1h0M76.1 338.0h0M68.7 337.7h0M63.2 347.9h0M52.8 338.1h0M72.3 345.3h0M62.4 333.3h0M55.1 343.6h0M77.1 345.9h0M62.8 347.8h0M67.0 344.6h0M67.0 348.8h0M64.5 332.8h0M66.0 342.8h0M70.7 338.9h0M66.7 337.1h0M66.7 342.4h0M70.4 349.1h0M52.9 344.2h0M71.9 337.0h0M69.0 342.0h0M60.7 345.1h0M83.4 344.9h0M74.6 346.6h0M67.5 346.2h0M62.2 342.8h0M74.0 347.6h0M66.3 340.7h0M72.1 341.7h0M69.6 345.4h0M62.5 345.8h0M71.5 340.9h0M58.8 339.3h0M68.2 346.0h0M53.2 345.0h0M70.0 337.2h0M75.2 343.7h0M71.9 337.8h0M59.9 345.9h0M79.4 343.6h0M67.0 340.1h0M55.2 346.2h0M67.8 347.3h0M62.9 346.5h0M63.0 344.5h0M79.2 339.0h0M75.5 342.0h0M61.2 342.9h0M73.5 338.9h0M66.4 339.6h0M62.5 341.1h0M74.9 339.9h0M78.1 340.4h0M63.2 346.6h0M79.4 339.2h0M73.0 337.0h0M65.3 340.4h0M74.0 336.6h0M64.5 339.1h0M69.3 336.8h0M58.1 354.0h0M70.1 335.6h0M74.9 336.4h0M53.9 349.1h0M78.2 338.4h0M60.1 344.0h0M84.2 344.6h0M73.6 337.0h0M54.7 343.6h0M76.3 342.6h0M68.5 347.9h0M62.0 346.7h0M74.9 339.3h0M69.4 342.5h0M73.0 337.8h0M66.7 342.4h0M68.7 342.1h0M70.4 341.2h0M64.7 346.4h0M63.5 340.6h0M61.7 337.1h0M71.9 341.8h0M67.5 343.9h0M67.2 344.9h0M82.4 343.5h0M66.5 349.0h0M73.9 334.9h0M78.7 342.9h0M75.1 337.1h0M62.0 339.2h0M72.7 337.2h0M63.0 346.0h0M63.6 342.5h0M61.6 334.8h0M67.9 341.5h0M57.5 346.1h0M74.8 345.7h0M64.6 337.1h0M67.8 342.7h0M67.2 339.5h0M60.9 338.9h0M67.9 339.9h0M81.3 340.8h0M72.0 340.0h0M67.1 337.9h0M64.8 335.7h0M52.6 347.7h0M60.4 343.8h0M67.5 339.6h0M74.1 339.6h0M71.8 340.4h0M75.9 346.0h0M69.0 346.6h0M72.4 348.6h0M67.6 335.5h0M70.1 343.0h0M65.7 341.1h0M66.4 336.7h0M81.6 338.7h0M60.3 335.3h0M62.0 341.8h0M79.8 344.5h0M62.9 336.7h0M59.9 341.6h0M75.1 340.0h0M80.7 350.1h0M69.7 332.9h0M76.8 341.6h0M73.6 346.2h0M60.8 342.3h0M69.8 338.8h0M73.8 341.4h0M65.4 349.9h0M69.8 348.9h0M67.3 346.4h0M62.7 342.6h0M76.7 332.8h0M72.6 340.8h0M76.8 342.7h0M67.9 336.6h0M66.0 338.9h0M66.2 342.9h0M58.3 346.4h0M66.5 344.5h0M52.4 339.8h0M66.2 340.4h0M63.4 343.3h0M71.6 337.9h0M53.5 345.1h0M66.0 346.5h0M75.1 341.5h0M57.6 340.5h0M62.9 347.2h0M55.5 345.8h0M56.7 339.6h0M57.7 339.1h0M65.1 343.6h0M64.0 344.9h0M81.8 342.7h0M59.7 341.2h0M67.7 340.5h0M77.2 346.9h0M83.7 344.2h0M73.6 338.6h0M63.9 345.8h0M69.6 337.2h0M68.4 336.8h0M68.1 337.0h0M61.4 339.8h0M59.4 339.7h0M76.5 345.4h0M73.7 340.6h0M69.4 338.7h0M67.1 338.6h0M57.4 337.8h0M83.1 343.7h0M62.7 341.5h0M65.0 347.1h0M68.2 339.3h0M73.6 343.3h0M63.2 338.7h0M69.5 335.1h0M61.5 346.2h0M75.0 346.7h0M65.1 339.5h0M66.4 340.0h0M78.2 341.0h0M78.7 339.0h0M71.3 348.8h0M62.8 339.2h0M63.9 335.2h0M66.2 339.3h0M85.2 340.0h0M52.2 346.0h0M75.7 341.8h0M70.6 345.0h0M64.2 342.2h0M69.5 349.0h0M79.2 342.7h0M58.2 345.7h0M68.0 346.9h0M68.8 342.7h0M73.4 338.9h0M63.4 351.6h0M61.8 345.9h0M73.6 345.4h0M78.8 336.3h0M75.7 333.3h0M68.8 343.4h0M76.2 346.5h0M61.3 340.8h0M67.2 339.1h0M62.2 339.2h0M77.1 347.7h0M74.1 349.1h0M69.1 337.4h0M63.4 342.8h0M76.2 347.1h0M61.6 346.0h0M64.4 344.5h0M75.4 348.2h0M64.4 343.0h0M71.7 340.2h0M69.1 344.5h0M55.9 339.3h0M85.9 343.9h0M64.2 334.2h0M61.1 344.2h0M73.6 343.9h0M72.9 339.4h0M80.5 337.2h0M72.3 340.9h0M55.4 345.8h0M66.3 345.0h0M78.1 342.7h0M63.4 341.1h0M67.9 348.1h0M74.9 348.7h0M74.2 338.8h0M75.4 346.1h0M67.5 343.9h0M66.0 336.7h0M67.7 345.2h0M65.7 332.5h0M62.3 346.6h0M70.1 346.7h0M62.7 340.2h0M60.8 338.7h0M72.3 342.6h0M64.7 343.2h0M58.5 340.3h0M57.0 335.7h0M58.1 337.4h0M80.4 347.8h0M77.9 339.5h0M73.1 337.2h0M64.3 343.0h0M56.3 342.8h0M73.0 333.2h0M67.4 342.6h0M59.8 344.4h0M69.3 338.9h0M80.8 343.1h0M74.0 349.8h0M64.6 341.1h0M55.2 341.0h0M71.7 352.6h0M72.6 342.8h0M58.8 338.4h0M54.3 336.2h0M69.2 343.3h0M61.4 341.1h0M62.3 344.6h0M73.2 339.6h0M64.9 336.8h0M64.8 351.3h0M68.3 345.6h0M72.8 348.3h0M65.9 338.2h0M76.3 345.9h0M63.4 346.6h0M68.3 341.8h0M82.3 344.2h0M70.8 340.6h0M69.9 346.5h0M71.8 338.8h0M71.8 341.5h0M70.7 341.2h0M51.8 335.1h0M65.4 332.6h0M56.9 350.6h0M73.6 340.0h0M70.9 332.5h0M70.3 346.2h0M69.8 336.4h0M75.7 339.7h0M64.0 342.8h0M66.1 350.7h0M67.3 351.1h0M71.8 336.7h0M68.4 342.2h0M79.3 347.4h0M65.0 351.9h0M61.5 343.5h0M80.6 337.7h0M65.7 338.8h0M72.4 343.7h0M68.1 344.8h0M62.4 340.4h0M71.9 350.6h0M68.1 342.3h0M78.4 342.3h0M78.3 343.0h0M77.2 342.8h0M61.4 338.4h0M71.6 350.0h0M82.6 340.6h0M61.9 346.0h0M56.8 345.9h0M71.3 344.7h0M59.2 343.6h0M75.5 341.8h0M76.2 342.1h0M71.0 340.7h0M58.0 341.3h0M72.2 338.8h0M53.5 335.4h0M78.4 341.0h0M62.5 347.3h0M67.1 335.6h0M65.0 338.2h0M67.0 338.1h0M68.9 344.0h0M64.0 341.1h0M67.2 345.5h0M62.9 345.2h0M77.9 341.2h0M61.0 340.7h0M54.8 339.7h0M59.2 341.3h0M65.5 344.2h0M69.3 343.8h0M68.0 343.2h0M59.7 344.8h0M78.3 346.8h0M58.1 343.8h0M55.9 345.2h0M66.8 340.0h0M62.7 341.0h0M68.3 337.9h0M68.8 343.1h0M72.4 341.8h0M68.3 351.9h0M76.1 343.4h0M57.8 344.7h0M72.8 330.6h0M67.1 343.6h0M68.7 342.4h0M67.2 347.9h0M71.3 340.8h0M66.6 351.0h0M61.8 339.7h0M70.9 342.6h0M70.7 347.8h0M77.1 343.8h0M68.7 341.7h0M66.6 346.3h0M58.7 337.5h0M64.9 337.9h0M62.7 347.1h0M51.1 344.5h0M58.3 341.0h0M64.0 337.7h0M57.0 342.3h0M65.4 346.7h0M82.6 340.7h0M62.2 340.8h0M72.0 346.0h0M61.1 344.0h0M68.2 346.9h0M65.3 341.1h0M61.9 336.3h0M70.5 345.1h0M77.1 343.2h0M64.9 338.1h0M59.5 338.9h0M71.0 342.4h0M50.8 341.6h0M66.2 337.5h0M68.2 344.3h0M60.4 336.2h0M65.9 343.1h0M66.4 348.6h0M69.5 337.7h0M74.4 339.2h0M73.7 342.4h0M77.9 337.7h0M74.0 343.8h0M61.4 345.0h0M85.9 343.5h0M62.5 341.3h0M78.5 343.1h0M79.8 339.2h0M78.5 335.2h0M67.1 340.7h0M64.6 347.3h0M63.8 343.5h0M82.7 345.6h0M65.2 338.9h0M52.9 343.6h0M75.3 346.8h0M70.3 351.3h0M74.4 332.1h0M61.6 345.4h0M65.3 345.6h0M85.5 341.7h0M57.1 342.4h0M75.4 339.5h0M80.7 338.2h0M66.9 346.0h0M66.8 339.6h0M68.3 344.8h0M81.9 347.8h0M83.0 341.9h0M55.6 341.8h0M65.3 337.7h0M64.5 341.7h0M68.9 345.9h0M61.4 346.9h0M68.8 345.2h0M78.1 336.7h0M80.8 338.9h0M71.6 346.7h0M75.6 335.3h0M69.7 346.9h0M67.5 341.7h0M69.0 349.1h0M64.3 337.9h0M59.9 339.7h0M66.6 343.5h0M67.8 334.6h0M56.2 344.9h0M74.1 336.2h0M75.8 331.5h0M55.6 344.2h0M68.2 340.0h0M65.6 341.0h0M67.7 338.1h0M64.1 344.4h0M72.6 336.3h0M64.6 348.7h0M74.0 349.1h0M58.0 337.5h0M51.6 333.7h0M65.6 337.5h0M60.0 339.0h0M67.0 345.6h0M72.9 334.4h0M80.1 340.6h0M60.7 341.9h0M65.4 336.0h0M80.6 339.5h0M63.8 344.3h0M81.5 344.1h0M61.5 343.9h0M77.1 343.6h0M73.5 339.9h0M68.0 334.8h0M62.9 337.1h0M68.5 348.4h0M50.9 336.3h0M61.2 341.6h0M77.6 338.7h0M62.4 347.2h0M71.4 344.3h0M75.0 338.8h0M70.2 339.2h0M62.9 342.6h0M71.9 336.5h0M62.5 344.6h0M69.8 344.9h0M66.0 338.5h0M74.6 344.6h0M62.5 344.9h0M80.8 340.8h0M60.9 343.1h0M69.2 344.4h0M57.5 343.1h0M75.5 345.0h0M73.4 347.2h0M62.0 347.3h0M70.1 337.7h0M66.2 343.2h0M71.1 347.8h0M70.0 339.8h0M85.6 340.6h0M62.0 346.0h0M65.2 338.6h0M60.2 347.1h0M60.2 342.4h0M64.9 341.2h0M62.1 342.7h0M73.2 346.5h0M65.7 337.0h0M56.9 342.0h0M68.7 342.5h0M57.6 339.2h0M62.7 344.9h0M65.3 344.7h0M72.5 333.7h0M66.7 347.5h0M64.5 342.6h0M67.5 336.7h0M85.6 341.4h0M73.5 340.1h0M79.5 347.0h0M77.7 346.1h0M74.0 348.0h0M71.7 342.6h0M74.8 338.2h0M69.7 339.0h0M66.4 337.9h0M61.9 342.8h0M69.5 345.6h0M67.8 344.8h0M73.8 339.0h0M55.3 339.1h0M66.5 339.7h0M85.8 339.1h0M72.2 338.7h0M73.9 336.6h0M75.9 342.8h0M65.4 336.9h0M81.6 339.5h0M79.8 331.7h0M59.1 349.8h0M82.5 342.1h0M76.3 344.7h0M65.7 342.6h0M59.5 336.3h0M69.5 345.2h0M69.7 336.8h0M75.1 342.4h0M74.4 340.8h0M66.4 346.6h0M79.2 336.9h0M59.8 346.2h0M71.3 342.3h0M60.8 346.4h0M70.0 343.0h0M71.5 339.8h0M71.6 342.6h0M74.1 343.7h0M58.5 339.0h0M66.4 347.0h0M63.4 346.9h0M76.9 345.8h0M71.0 347.3h0M71.7 346.3h0M67.5 348.1h0M71.3 333.8h0M77.0 341.2h0M61.6 340.8h0M66.3 347.0h0M71.1 341.8h0M68.4 338.2h0M63.5 340.1h0M66.7 337.1h0M65.4 346.4h0M72.0 342.1h0M71.2 341.0h0M59.2 345.8h0M73.9 352.6h0M59.0 344.3h0M65.8 340.9h0M55.5 341.7h0M71.6 335.2h0M66.8 340.0h0M60.7 344.8h0M81.4 343.8h0M76.6 345.3h0M68.0 344.6h0M78.9 340.2h0M67.3 336.2h0M53.9 338.6h0M75.5 343.6h0M70.5 347.7h0M54.7 348.0h0M69.2 345.4h0M79.3 338.6h0M61.7 343.8h0M68.1 339.6h0M67.5 339.0h0M69.6 340.4h0M81.8 337.6h0M73.0 342.4h0M80.9 337.9h0M64.9 349.5h0M63.4 340.4h0M65.4 337.9h0M78.1 348.5h0M67.3 338.9h0M57.9 344.9h0M64.3 344.4h0M73.4 343.8h0M69.5 342.0h0M65.8 340.2h0M69.6 344.2h0M75.8 341.1h0M78.1 338.1h0M83.5 346.2h0M65.3 353.8h0M79.8 348.8h0M59.1 341.6h0M72.2 346.5h0M69.1 336.5h0M78.1 341.3h0M71.9 340.7h0M67.6 336.2h0M73.7 339.4h0M54.6 343.8h0M68.2 346.1h0M74.9 336.9h0M67.1 342.1h0M69.2 337.6h0M69.1 346.2h0M78.2 348.3h0M74.4 331.3h0M66.4 339.7h0M75.6 342.0h0M71.3 344.1h0M66.8 347.9h0M82.8 345.5h0M64.1 343.1h0M76.2 345.1h0M63.1 346.1h0M74.2 344.5h0M65.2 341.9h0M53.6 341.9h0M65.0 340.8h0M66.3 340.7h0M69.2 342.5h0M63.7 341.5h0M67.8 344.1h0M72.0 340.5h0M62.0 335.1h0M58.7 343.8h0M61.3 348.9h0M67.3 340.4h0M67.3 339.7h0M63.6 342.3h0M57.2 342.6h0M67.8 338.2h0M76.5 343.6h0M77.0 339.2h0M58.8 337.0h0M56.2 334.0h0M80.8 340.0h0M70.0 339.8h0M67.4 348.7h0M54.9 337.9h0M69.6 338.2h0M73.9 347.5h0M75.5 345.2h0M67.2 346.3h0M62.2 337.0h0M66.5 341.0h0M78.1 337.8h0M77.5 338.7h0M58.6 334.8h0M68.2 335.9h0M70.2 342.2h0M65.4 333.8h0M64.4 343.9h0M54.5 345.0h0M68.6 339.7h0M70.1 344.8h0M68.3 338.7h0M74.6 339.1h0M71.3 346.2h0M78.7 348.8h0M76.5 342.6h0M66.9 342.8h0M72.6 354.7h0M73.7 338.5h0M80.4 335.3h0M76.4 336.6h0M60.0 339.9h0M66.3 336.3h0M73.3 341.5h0M79.0 337.7h0M54.3 344.9h0M66.7 346.2h0M50.2 336.7h0M69.2 350.3h0M58.9 333.9h0M64.9 348.0h0M80.9 336.2h0M63.7 334.2h0M61.9 337.9h0M71.8 346.9h0M74.9 343.0h0M69.5 350.2h0M74.0 348.7h0M70.9 345.7h0M72.5 341.6h0M63.1 340.3h0M68.6 340.4h0M65.8 339.0h0M75.2 341.0h0M67.6 341.1h0M78.8 339.7h0M79.5 338.4h0M80.5 344.6h0M64.7 344.0h0M77.4 338.0h0M66.7 343.3h0M66.9 340.8h0M68.7 343.4h0M74.6 348.3h0M66.0 354.5h0M66.0 349.6h0M67.5 335.8h0M65.1 340.6h0M76.9 333.4h0M63.6 341.5h0M73.6 343.7h0M75.2 341.3h0M66.7 347.2h0M81.9 343.6h0M69.7 338.4h0M84.9 343.7h0M73.3 335.2h0M73.2 352.4h0M67.2 341.2h0M80.5 341.2h0M75.1 350.3h0M59.4 338.5h0M73.8 342.5h0M68.8 341.3h0M69.5 343.5h0M64.8 340.8h0M70.3 337.4h0M72.0 332.7h0M73.5 341.5h0M59.4 347.8h0M59.4 350.8h0M62.9 347.2h0M68.0 348.9h0M66.8 346.4h0M66.0 334.0h0M71.6 344.0h0M71.6 349.1h0M62.8 335.9h0M70.5 339.1h0M67.7 342.0h0M62.2 346.7h0M67.6 349.6h0M70.5 346.5h0M66.3 339.2h0M64.4 338.3h0M72.0 342.6h0M60.1 335.5h0M61.9 334.2h0M61.7 335.6h0M74.0 337.1h0M64.0 341.5h0M68.8 343.8h0M74.5 344.8h0M65.9 347.3h0M71.4 339.0h0M80.1 337.0h0M72.2 347.4h0M69.4 343.5h0M69.5 344.9h0M70.3 342.0h0M74.0 333.9h0M70.5 340.7h0M83.7 343.2h0M63.4 344.8h0M65.6 337.0h0M66.4 344.2h0M77.7 346.5h0M70.3 341.3h0M70.1 347.2h0M67.6 347.0h0M62.4 342.0h0M74.5 345.0h0M70.1 339.8h0M54.7 340.1h0M62.0 340.3h0M80.7 338.7h0M75.1 341.9h0M60.0 342.5h0M74.3 337.0h0M59.6 340.4h0M74.1 339.5h0M71.8 344.0h0M68.6 343.9h0M78.3 341.2h0M71.0 337.5h0M63.0 341.6h0M74.8 339.2h0M57.8 345.9h0M60.4 342.5h0M72.3 338.0h0M71.1 346.7h0M66.4 345.1h0M69.5 338.1h0M63.8 339.4h0M78.7 346.9h0M70.4 335.4h0M64.8 340.3h0M53.7 341.9h0M70.7 336.4h0M65.3 340.1h0M82.7 344.8h0M74.4 342.4h0M58.7 345.9h0M63.4 333.8h0M74.1 340.5h0M68.5 344.2h0M66.8 343.8h0M78.4 340.6h0M65.8 342.1h0M73.5 340.3h0M69.2 339.1h0M68.0 344.3h0M62.3 341.2h0M57.4 339.0h0M69.1 344.3h0M60.7 341.6h0M61.4 343.4h0M70.5 343.9h0M66.9 336.0h0M64.3 336.3h0M63.4 341.8h0M76.8 339.3h0M62.6 342.9h0M52.8 350.4h0M56.8 346.3h0M76.0 346.1h0M67.7 345.1h0M65.9 346.1h0M63.6 338.5h0M71.4 340.1h0M73.6 338.4h0M70.6 337.8h0M67.7 351.1h0M60.3 336.8h0M56.3 341.0h0M80.8 340.1h0M75.6 341.2h0M63.7 350.5h0M76.7 334.2h0M61.1 343.8h0M73.5 341.1h0M70.9 344.3h0M65.9 346.2h0M62.1 345.2h0M75.5 342.9h0M65.9 341.9h0M51.7 343.1h0M57.7 333.5h0M74.3 338.1h0M71.2 342.2h0M55.2 338.2h0M66.5 344.0h0M69.0 336.7h0M64.5 342.4h0M58.9 340.1h0M64.4 333.0h0M81.6 345.7h0M65.0 346.0h0M60.6 348.5h0M65.7 342.6h0M64.1 342.4h0M71.0 342.1h0M62.3 345.2h0M72.7 342.0h0M76.5 338.9h0M78.2 341.3h0M80.0 340.1h0M66.6 342.9h0M76.8 348.1h0M65.1 338.9h0M74.3 347.3h0M73.8 340.6h0M78.1 341.9h0M69.8 344.6h0M64.2 332.4h0M70.2 345.0h0M71.8 344.3h0M69.7 346.4h0M69.4 348.3h0M68.9 345.4h0M64.4 343.3h0M71.7 342.6h0M80.2 342.2h0M77.0 343.5h0M76.8 338.2h0M65.8 346.1h0M62.3 343.7h0M72.8 342.8h0M71.8 344.3h0M66.7 343.7h0M64.6 340.1h0M56.5 341.6h0M55.7 342.1h0M70.1 337.4h0M69.0 343.2h0M65.9 338.1h0M67.7 343.7h0M75.5 350.2h0M53.6 343.5h0M71.8 339.3h0M70.9 350.9h0M69.4 347.8h0M76.5 340.1h0M51.0 346.9h0M80.1 334.5h0M67.0 339.0h0M70.1 342.3h0M77.1 339.5h0M83.1 334.8h0M70.1 353.4h0M67.8 344.7h0M75.3 340.5h0M54.1 342.9h0M74.0 333.3h0M64.8 344.4h0M50.4 341.2h0M56.5 336.3h0M71.6 346.8h0M77.3 339.2h0M72.3 334.5h0M57.3 344.3h0M65.5 337.7h0M54.4 341.0h0M85.4 333.4h0M60.6 346.8h0M54.0 339.4h0M69.0 346.8h0M68.0 349.7h0M68.3 341.5h0M71.8 343.5h0M57.2 338.0h0M66.7 343.5h0M59.2 339.0h0M62.9 343.4h0M65.3 344.6h0M71.4 338.1h0M66.3 336.7h0M69.3 345.5h0M61.0 334.5h0M72.4 340.8h0M68.3 344.0h0M71.4 345.9h0M65.0 332.6h0M64.8 340.7h0M65.4 343.7h0M66.6 347.5h0M63.7 342.0h0M65.8 351.0h0M61.3 337.7h0M65.6 345.3h0M68.6 341.3h0M57.4 333.1h0M66.9 341.0h0M81.9 343.6h0M71.7 346.1h0M61.7 336.7h0M65.7 348.3h0M76.0 339.5h0M59.1 346.0h0M76.8 337.3h0M80.7 338.7h0M74.2 341.1h0M66.0 339.4h0M73.8 344.6h0M74.6 340.8h0M62.1 351.2h0M81.5 341.2h0M59.8 348.4h0M69.5 342.2h0M75.0 343.5h0M69.4 350.5h0M54.1 344.8h0M61.0 342.3h0M67.2 343.1h0M50.1 345.0h0M75.4 344.7h0M70.8 339.9h0M73.4 343.2h0M79.6 345.6h0M80.0 344.1h0M69.8 339.4h0M69.2 340.4h0M72.9 347.8h0M72.5 346.0h0M70.5 343.5h0M58.8 342.5h0M68.9 341.7h0M66.7 343.3h0M64.1 341.2h0M58.5 351.9h0M61.7 336.8h0M64.4 340.2h0M60.3 331.5h0M81.1 346.4h0M65.6 344.4h0M60.0 335.1h0M71.1 344.5h0M63.2 342.0h0M76.6 342.7h0M69.9 344.5h0M52.4 336.5h0M58.7 343.0h0M63.7 333.9h0M75.4 341.2h0M76.2 350.6h0M55.7 336.5h0M76.8 348.0h0M71.6 343.5h0M73.9 344.8h0M58.7 345.2h0M76.1 340.3h0M61.4 339.9h0M64.0 344.3h0M74.5 342.1h0M66.1 334.4h0M65.2 337.7h0M64.2 343.5h0M61.7 339.7h0M59.6 340.9h0M66.3 346.3h0M53.4 345.9h0M73.5 339.8h0M63.2 342.8h0M72.5 341.3h0M67.3 342.1h0M60.1 343.2h0M73.0 342.2h0M59.7 342.0h0M67.6 343.4h0M65.3 345.6h0M76.9 345.5h0M70.3 347.2h0M68.2 341.3h0M57.4 342.1h0M77.9 337.9h0M74.5 336.6h0M70.8 349.8h0M68.8 337.0h0M70.7 341.4h0M74.6 339.8h0M55.1 340.0h0M73.0 346.4h0M70.6 342.1h0M73.8 341.2h0M65.0 343.0h0M76.9 339.9h0M72.3 339.3h0M62.8 342.7h0M58.2 338.4h0M59.2 339.5h0M61.4 351.9h0M73.2 342.3h0M58.1 332.0h0M71.9 339.4h0M76.6 340.3h0M58.3 339.3h0M56.6 336.0h0M74.0 339.8h0M73.8 339.7h0M66.7 339.7h0M64.2 339.2h0M80.0 341.8h0M53.3 349.2h0M78.2 346.7h0M67.6 341.4h0M64.7 342.5h0M72.1 342.0h0M62.1 338.0h0M81.4 349.1h0M58.8 339.3h0M68.1 344.5h0M67.5 343.0h0M71.3 346.8h0M58.3 346.6h0M71.8 344.3h0M56.7 341.0h0M66.4 344.7h0M73.7 344.9h0M58.4 347.3h0M68.9 345.9h0M68.3 339.1h0M74.3 340.1h0M66.7 346.7h0M71.9 349.3h0M77.7 337.5h0M56.5 346.9h0M73.1 340.9h0M66.1 339.7h0M82.3 341.3h0M57.7 345.8h0M67.7 343.5h0M65.4 341.9h0M53.8 344.3h0M63.1 340.4h0M70.9 347.3h0M51.7 341.5h0M72.6 346.2h0M61.3 343.3h0M71.5 345.9h0M63.6 341.2h0M64.4 346.8h0M76.8 340.2h0M67.3 342.9h0M61.4 341.6h0M75.1 345.2h0M63.1 339.3h0M67.5 335.9h0M70.8 342.5h0M58.0 341.1h0M63.2 340.9h0M61.6 347.7h0M60.9 345.2h0M70.0 348.0h0M67.9 342.0h0M68.9 334.3h0M65.9 337.4h0M67.3 348.7h0M62.5 343.9h0M76.4 345.9h0M65.2 334.9h0M71.5 344.4h0M65.8 340.3h0M82.0 335.5h0M64.4 339.5h0M56.2 339.2h0M62.2 347.2h0M54.8 336.4h0M70.4 335.7h0M52.8 339.5h0M59.0 338.0h0M67.1 343.9h0M63.3 340.9h0M73.9 341.4h0M74.1 339.6h0M72.2 347.3h0M57.6 354.3h0M65.8 340.7h0M67.1 343.9h0M59.0 342.2h0M63.8 347.9h0M54.9 344.7h0M65.9 339.0h0M69.4 341.1h0M68.7 343.0h0M77.7 340.4h0M81.4 331.0h0M82.5 347.0h0M80.5 342.9h0M70.6 337.9h0M78.8 337.3h0M62.2 342.1h0M70.2 343.4h0M59.3 340.7h0M72.2 346.9h0M74.3 343.7h0M66.3 339.8h0M64.4 341.7h0M72.5 340.0h0M84.4 338.0h0M74.7 341.2h0M67.3 340.5h0M80.3 340.8h0M72.6 342.5h0M74.2 344.4h0M81.2 339.1h0M62.0 349.0h0M78.3 342.4h0M66.1 343.1h0M78.5 338.9h0M79.6 341.8h0M65.5 340.5h0M52.1 343.4h0M58.1 339.8h0M61.4 343.0h0M74.0 342.2h0M69.8 343.7h0M80.8 344.4h0M80.6 341.8h0M71.1 339.4h0M73.0 338.6h0M72.0 339.5h0M65.6 347.0h0M69.5 345.3h0M66.5 334.5h0M79.8 341.3h0M63.3 345.9h0M59.5 339.0h0M77.3 339.2h0M77.1 340.8h0M66.7 342.3h0M64.5 346.4h0M76.9 342.3h0M73.1 344.3h0M81.4 335.6h0M76.3 345.8h0M65.9 342.1h0M65.7 347.1h0M59.5 344.5h0M78.3 344.4h0M64.6 340.2h0M51.9 337.9h0M76.9 338.2h0M55.6 341.1h0M56.8 343.9h0M61.6 345.9h0M67.4 336.3h0M62.4 339.4h0M61.8 347.1h0M60.6 343.5h0M63.8 344.5h0M57.3 335.7h0M72.3 347.9h0M57.6 340.8h0M64.4 338.3h0M75.9 342.3h0M57.6 341.2h0M78.7 339.2h0M64.4 338.7h0M69.6 339.8h0M75.3 338.7h0M57.0 343.9h0M70.6 343.1h0M63.9 340.3h0M62.1 341.3h0M64.8 344.3h0M68.4 344.3h0M81.1 341.0h0M66.1 343.6h0M84.7 340.6h0M81.5 346.9h0M60.7 343.7h0M78.7 342.3h0M69.6 350.9h0M71.1 350.8h0M61.4 348.7h0M64.4 332.2h0M61.9 340.2h0M68.0 345.1h0M73.7 344.2h0M62.6 349.3h0M77.7 342.2h0M63.9 341.9h0M66.6 339.3h0M68.3 339.4h0M73.4 339.4h0M72.2 343.4h0M69.7 344.2h0M60.4 352.5h0M63.0 345.0h0M68.6 340.3h0M81.9 346.5h0M66.2 344.4h0M73.7 348.5h0M76.3 341.4h0M66.4 337.4h0M70.4 345.6h0M65.4 344.8h0M69.4 340.2h0M58.9 346.6h0M60.0 337.9h0M70.4 344.7h0M80.2 332.3h0M82.8 342.7h0M69.5 343.6h0M65.6 340.9h0M76.6 335.0h0M67.5 344.3h0M55.6 341.4h0M80.3 343.6h0M73.9 344.9h0M70.1 343.5h0M62.1 341.2h0M82.8 337.1h0M67.1 336.9h0M64.3 338.9h0M58.9 343.0h0M61.1 344.2h0M82.5 331.6h0M67.1 333.5h0M67.5 343.6h0M70.1 347.0h0M69.7 335.0h0M80.2 338.2h0M67.7 343.4h0M61.6 342.4h0M80.1 335.2h0M55.4 340.2h0M67.1 336.8h0M50.5 345.8h0M71.5 336.7h0M72.9 341.8h0M69.7 336.6h0M66.7 344.0h0M54.8 337.8h0M76.0 350.2h0M73.6 341.8h0M60.0 340.4h0M66.5 343.9h0M66.5 352.2h0M78.8 333.1h0M59.3 342.0h0M76.1 343.7h0M79.0 344.5h0M72.1 348.3h0M65.0 339.8h0M60.6 343.1h0M71.9 345.9h0M79.8 344.6h0M78.1 341.0h0M60.9 345.1h0M76.4 347.5h0M67.2 340.1h0M65.6 343.5h0M68.1 341.3h0M70.5 340.9h0M71.1 339.6h0M56.4 340.8h0M83.2 338.7h0M75.6 347.6h0M64.2 343.1h0M50.6 344.4h0M80.5 342.8h0M52.9 339.7h0M62.7 342.5h0M70.7 340.3h0M66.1 338.7h0M73.0 342.9h0M71.2 340.0h0M72.3 340.8h0M70.8 341.4h0M63.3 337.5h0M53.9 336.4h0M55.6 338.7h0M66.9 337.2h0M71.8 350.6h0M78.2 337.2h0M67.7 339.4h0M74.5 336.0h0M70.9 342.9h0M72.9 343.8h0M69.7 334.7h0M66.0 338.1h0M72.6 341.1h0M69.7 346.6h0M67.6 349.0h0M75.0 335.9h0M63.9 347.1h0M64.6 347.0h0M64.1 341.5h0M76.5 335.5h0M69.1 340.1h0M69.8 349.1h0M72.3 336.4h0M76.0 340.1h0M69.8 346.8h0M66.1 346.0h0M69.9 338.3h0M66.1 336.4h0M77.7 342.7h0M76.1 337.4h0M75.1 337.1h0M70.7 342.0h0M63.9 343.3h0M68.8 338.4h0M62.7 336.6h0M79.2 342.6h0M65.7 344.9h0M61.8 337.2h0M71.3 348.6h0M70.8 342.7h0M82.1 335.6h0M67.9 336.4h0M59.0 341.0h0M63.7 343.1h0M60.5 340.9h0M74.9 332.9h0M66.1 340.8h0M64.5 341.5h0M54.5 340.2h0M64.4 337.7h0M78.4 350.3h0M74.7 338.4h0M79.6 344.1h0M62.1 344.5h0M64.0 344.4h0M75.7 346.8h0M60.3 341.5h0M68.5 336.9h0M71.7 344.9h0M57.7 339.7h0M59.9 336.7h0M60.2 347.7h0M63.3 340.4h0M76.2 346.3h0M79.5 333.4h0M74.4 334.7h0M63.6 340.3h0M64.0 350.2h0M67.2 346.9h0M67.1 341.8h0M72.5 343.8h0M72.4 334.8h0M72.5 343.3h0M73.2 341.8h0M71.7 336.6h0M77.3 336.9h0M79.4 346.2h0M68.0 340.8h0M74.6 340.7h0M59.2 343.2h0M59.0 340.1h0M82.5 345.4h0M65.0 341.7h0M63.4 342.0h0M57.2 344.9h0M68.6 339.4h0M63.7 353.0h0M65.0 340.0h0M64.0 339.9h0M78.7 344.8h0M71.8 343.5h0M59.6 331.9h0M80.3 345.0h0M70.2 343.2h0M70.1 342.1h0M66.5 332.7h0M72.9 342.2h0M76.1 343.3h0M66.3 344.5h0M70.0 340.1h0M65.6 340.2h0M66.2 340.1h0M76.2 354.2h0M67.6 346.7h0M64.8 341.3h0M62.7 336.3h0M61.9 339.9h0M69.7 340.6h0M59.1 340.5h0M80.3 338.3h0M69.0 346.2h0M62.2 339.6h0M64.4 342.7h0M69.3 342.6h0M72.1 340.7h0M51.2 338.0h0M69.7 336.3h0M66.0 348.3h0M70.4 339.3h0M69.6 346.4h0M55.1 336.8h0M63.3 340.2h0M67.8 339.6h0M69.3 342.4h0M59.4 339.4h0M58.8 343.2h0M70.5 344.7h0M61.7 339.8h0M51.2 342.0h0M55.9 343.4h0M76.9 343.9h0M73.4 342.9h0M71.4 345.9h0M78.3 350.4h0M66.4 345.5h0M75.3 343.8h0M70.6 336.7h0M77.0 338.3h0M63.4 338.4h0M72.9 338.0h0M72.1 344.4h0M69.3 340.6h0M73.1 347.5h0M64.9 337.6h0M63.8 338.3h0M66.6 341.4h0M50.6 348.1h0M62.2 340.2h0M53.2 333.8h0M60.6 343.0h0M75.1 334.4h0M70.2 348.3h0M66.3 345.8h0" stroke="#9a4aa6" stroke-width="1.20" stroke-linecap="round"/>
<path d="M54.2 343.3h0M57.0 344.2h0M54.4 344.8h0M52.1 346.4h0M58.3 341.1h0M48.5 346.3h0M56.9 345.5h0M52.2 347.5h0M59.3 343.4h0M46.6 345.2h0M56.1 342.2h0M57.5 348.7h0M56.1 343.5h0M47.8 347.9h0M54.0 348.0h0M47.6 337.4h0M57.5 348.9h0M51.9 346.0h0M54.8 348.2h0M52.2 344.5h0M49.1 349.0h0M53.4 336.1h0M54.4 344.3h0M47.9 344.5h0M47.9 344.7h0M50.8 347.5h0M49.0 340.7h0M50.6 342.0h0M56.0 345.4h0M46.3 343.5h0M52.9 345.9h0M45.6 345.6h0M54.2 348.9h0M57.4 345.6h0M47.8 344.9h0M55.6 343.3h0M58.0 343.2h0M48.5 348.4h0M52.6 346.9h0M51.8 346.1h0M50.7 351.5h0M55.6 345.6h0M54.9 348.4h0M50.9 346.5h0M53.8 344.4h0M49.9 345.4h0M51.8 344.8h0M45.2 346.2h0M55.6 346.2h0M59.8 348.5h0M51.6 344.0h0M55.0 344.9h0M46.5 346.3h0M51.8 345.3h0M55.4 346.6h0M61.1 343.8h0M52.6 346.9h0M51.2 344.5h0M60.0 341.8h0M54.4 340.9h0M54.3 340.4h0M48.3 349.3h0M59.1 346.4h0M42.2 348.9h0M54.0 342.8h0M51.6 342.2h0M52.6 345.7h0M53.5 348.3h0M50.4 339.6h0M48.3 342.3h0M51.5 344.7h0M52.8 350.0h0M53.1 342.9h0M51.8 343.5h0M52.0 347.7h0M48.5 348.0h0M60.1 350.4h0M59.5 346.3h0M47.6 351.8h0M52.8 346.7h0M51.6 343.3h0M55.5 342.0h0M47.5 347.6h0M51.5 343.6h0M55.0 350.1h0M51.9 345.6h0M55.2 348.7h0M57.1 348.0h0M50.4 347.5h0M53.0 341.1h0M57.9 347.7h0M58.5 345.8h0M55.9 345.8h0M53.6 348.6h0M53.2 347.8h0M52.9 349.5h0M55.6 341.2h0M59.6 347.3h0M51.0 344.2h0M60.9 346.3h0M55.0 347.7h0M50.6 351.0h0M61.4 343.8h0M57.5 341.3h0M51.7 346.2h0M53.2 347.6h0M54.6 347.1h0M52.5 346.9h0M50.8 351.7h0M53.2 349.6h0M53.4 345.6h0M52.3 342.3h0M61.3 347.2h0M53.5 344.7h0M58.1 345.1h0M51.2 344.4h0M59.1 346.9h0M52.4 344.2h0M58.1 346.8h0M51.7 348.6h0M56.5 343.1h0M57.6 349.1h0M52.0 342.2h0M57.4 345.0h0M52.2 345.2h0M51.9 348.4h0M48.7 347.5h0M57.6 349.0h0M55.9 346.8h0M52.2 345.7h0M49.5 350.8h0M52.6 343.1h0M56.3 350.3h0M54.1 345.1h0M48.6 347.9h0M52.1 344.1h0M55.4 342.3h0M55.9 339.0h0M50.6 341.9h0M52.1 348.3h0M47.9 349.9h0M50.3 344.6h0M56.9 343.9h0M58.8 345.4h0M52.7 343.3h0M57.6 345.8h0M51.1 343.3h0M50.5 345.7h0M50.2 348.3h0M52.9 344.2h0M54.9 350.1h0M44.8 347.0h0M57.3 346.4h0M56.3 341.6h0M50.1 348.9h0M52.7 346.2h0M55.5 347.1h0M54.8 344.6h0M51.9 349.7h0M51.1 341.9h0M51.7 348.6h0M60.1 346.4h0M50.6 347.7h0M54.2 349.4h0M55.1 348.2h0M55.1 347.2h0M49.5 345.5h0M59.3 349.8h0M56.8 347.1h0M52.6 347.0h0M51.8 349.1h0M51.8 343.8h0M46.8 350.4h0M50.1 343.6h0M54.7 351.1h0M55.7 345.1h0M55.3 343.7h0M52.1 346.1h0M53.1 348.2h0M55.2 351.4h0M56.3 345.2h0M54.1 343.6h0M50.7 345.0h0M57.1 344.0h0M47.0 343.1h0M48.4 345.5h0M51.9 342.7h0M50.0 344.8h0M54.6 347.7h0M58.3 345.3h0M55.6 346.2h0M48.9 344.2h0M61.6 345.6h0M59.5 348.4h0M59.6 345.5h0M56.7 345.1h0M48.8 342.7h0M54.8 341.4h0M54.6 343.5h0M54.5 342.1h0" stroke="#9a4aa6" stroke-width="1.10" stroke-linecap="round"/>
<path d="M81.2 311.0h0M48.5 309.8h0M79.3 319.2h0M59.8 316.4h0M64.3 316.8h0M60.9 311.2h0M66.3 311.5h0M56.2 303.3h0M78.4 302.4h0M66.8 307.8h0M74.2 319.0h0M57.0 300.2h0M48.5 313.1h0M79.3 313.6h0M66.7 305.9h0M52.0 306.9h0M47.9 319.6h0M59.9 299.5h0M52.9 303.6h0M61.1 298.5h0M63.8 316.1h0M62.8 298.5h0M84.0 316.9h0M68.0 311.9h0M63.1 310.6h0M53.3 303.1h0M77.0 302.1h0M56.3 319.3h0M51.0 311.1h0M49.3 303.3h0M49.1 311.8h0M60.7 315.9h0M72.1 301.0h0M69.3 301.4h0M58.7 317.0h0M67.3 313.6h0M70.2 307.4h0M78.2 312.7h0M77.0 300.7h0M50.2 317.2h0M57.5 311.3h0M73.7 295.8h0M71.0 297.2h0M71.5 297.3h0M58.8 319.3h0M65.2 296.7h0M63.7 312.2h0M61.9 320.8h0M75.1 297.4h0M65.6 301.5h0M71.5 310.0h0M48.2 317.1h0M56.8 310.2h0M65.3 307.2h0M50.9 320.4h0M66.2 298.9h0M52.2 307.0h0M68.2 314.6h0M52.8 307.2h0M55.6 312.9h0M82.0 319.9h0M68.6 320.0h0M67.8 299.6h0M49.3 311.5h0M66.5 318.4h0M53.2 318.6h0M76.0 299.7h0M50.6 314.7h0M52.7 303.0h0M70.5 307.0h0M68.7 310.1h0M53.5 308.2h0M75.1 301.4h0M68.2 308.9h0M65.7 293.7h0M73.7 308.5h0M51.5 305.0h0M50.3 312.0h0M59.2 300.7h0M74.8 314.8h0M51.4 314.6h0M48.9 313.2h0M63.4 320.2h0M64.4 310.1h0M78.2 319.8h0M66.9 301.6h0M48.0 318.1h0M53.6 313.4h0M55.8 300.7h0M59.8 301.0h0M79.4 315.4h0M67.7 300.4h0M72.4 316.2h0M50.6 297.3h0M55.4 313.7h0M51.0 299.6h0M70.5 316.0h0M78.2 300.7h0M65.9 317.5h0M78.0 318.5h0M57.0 299.3h0M56.6 316.7h0M52.0 308.9h0M79.9 316.7h0M71.3 317.3h0M57.0 306.8h0M64.9 298.5h0M81.3 311.0h0M58.8 304.5h0M55.4 299.3h0M61.0 299.6h0M61.7 304.7h0M51.0 317.2h0M50.8 302.4h0M71.1 303.1h0M78.5 320.3h0M62.0 314.3h0M70.7 295.7h0M55.8 302.8h0M52.8 318.3h0M78.2 302.6h0M55.6 303.2h0M70.1 308.4h0M76.5 307.9h0M74.3 318.7h0M49.1 304.4h0M82.3 319.9h0M68.6 308.1h0M64.1 311.5h0M50.2 313.1h0M70.0 305.8h0M65.1 300.1h0M71.0 296.3h0M69.4 316.0h0M61.3 296.8h0M74.1 303.4h0M75.1 316.5h0M73.7 304.6h0M55.0 309.2h0M52.2 302.7h0M51.4 315.2h0M47.8 314.6h0M59.0 307.5h0M65.7 302.8h0M77.7 308.3h0M68.2 316.2h0M61.9 297.2h0M65.7 319.6h0M76.2 310.8h0M79.2 306.9h0M53.9 311.0h0M66.7 308.9h0M70.3 309.9h0M74.9 302.1h0M69.3 299.5h0M78.3 315.0h0M78.3 317.3h0M71.8 319.7h0M70.8 311.7h0M61.6 318.4h0M81.0 310.6h0M48.2 316.2h0M53.3 299.1h0M56.0 317.5h0M60.8 305.1h0M70.7 301.4h0M62.7 315.9h0M73.9 312.9h0M69.8 301.3h0M68.4 294.6h0M71.4 309.6h0M57.8 313.5h0M58.8 301.3h0M54.5 312.0h0M60.1 297.0h0M75.7 300.7h0M77.7 314.8h0M70.4 309.0h0M71.4 302.8h0M69.7 315.6h0M75.0 299.9h0M65.9 305.6h0M54.5 301.8h0M76.1 318.2h0M68.2 314.3h0M58.1 317.7h0M64.3 306.4h0M63.0 304.9h0M59.5 310.8h0M50.9 316.5h0M51.1 303.3h0M49.0 307.5h0M62.5 307.5h0M72.7 298.3h0M49.3 320.6h0M68.2 318.6h0M52.3 302.0h0M75.6 315.0h0M51.7 316.4h0M57.0 313.4h0M72.9 306.4h0M70.5 295.8h0M81.4 315.2h0M48.6 308.5h0M53.0 313.6h0M68.4 305.1h0M63.5 307.7h0M55.0 301.6h0M56.0 318.5h0M58.3 307.9h0M75.3 301.5h0M56.0 298.6h0M56.6 315.9h0M71.9 317.9h0M77.2 309.4h0M58.5 294.6h0M60.4 302.6h0M55.8 310.7h0M71.6 312.9h0M52.2 317.3h0M68.8 309.4h0M71.3 296.9h0M66.5 293.8h0M55.0 298.1h0M70.7 304.2h0M75.2 293.8h0M72.7 307.9h0M79.9 318.9h0M48.9 306.0h0M72.2 299.8h0M70.0 310.0h0M80.7 312.8h0M63.1 312.7h0M72.3 298.9h0M49.7 309.4h0M74.0 296.1h0M61.6 309.7h0M76.2 310.9h0M54.9 303.7h0M62.5 314.6h0M49.0 301.8h0M53.7 303.8h0M73.4 301.7h0M72.0 304.5h0M57.6 307.3h0M61.6 306.0h0M65.8 305.1h0M63.4 317.6h0M75.7 304.8h0M78.6 314.6h0M70.1 300.6h0M67.0 315.0h0M81.2 316.7h0M73.3 305.4h0M55.6 313.5h0M63.5 305.5h0M58.8 307.8h0M50.8 301.0h0M84.1 314.6h0M53.3 314.3h0M63.2 295.6h0M80.5 308.6h0M61.6 311.2h0M55.4 303.9h0M52.6 310.3h0M77.8 308.1h0M70.0 302.9h0M55.4 315.0h0M61.9 315.2h0M83.9 319.1h0M48.6 318.9h0M68.9 311.7h0M55.3 314.2h0M79.8 314.2h0M70.5 316.0h0M54.8 311.1h0M78.9 318.4h0M65.6 303.2h0M75.2 306.8h0M74.7 305.5h0M60.9 299.0h0M69.9 302.7h0M67.3 303.2h0M57.6 320.4h0M68.6 299.4h0M60.8 319.2h0M65.7 309.8h0M72.1 305.6h0M70.3 297.2h0M61.9 309.3h0M49.1 310.0h0M58.0 310.4h0M69.7 309.0h0M61.0 304.4h0M75.3 306.3h0M56.7 301.4h0M57.6 313.7h0M64.7 298.0h0M60.2 307.4h0M49.1 311.8h0M67.9 307.3h0M64.1 318.6h0M78.1 312.6h0M77.4 311.2h0M82.6 320.3h0M65.6 314.3h0M80.9 311.8h0M75.0 295.3h0M58.2 318.7h0M65.7 316.4h0M51.8 318.3h0M75.6 305.1h0M69.6 318.4h0M50.1 311.4h0M69.5 291.7h0M79.1 308.6h0M77.5 313.3h0M72.0 297.0h0M57.3 308.6h0M75.8 310.3h0M57.8 318.5h0M48.4 315.7h0M62.5 299.3h0M75.5 298.0h0M76.4 309.5h0M77.4 320.2h0M53.7 317.6h0M73.4 316.8h0M69.7 308.7h0M75.4 314.1h0M64.3 302.3h0M57.1 311.2h0M76.4 316.4h0M62.3 299.3h0M58.6 315.5h0M52.3 306.4h0M80.8 317.7h0M66.8 300.4h0M58.1 318.2h0M76.0 304.4h0M61.1 301.5h0M52.2 310.0h0M62.0 298.8h0M57.3 317.2h0M67.5 306.0h0M56.6 302.2h0M55.9 309.5h0M60.5 311.7h0M70.0 306.7h0M65.7 306.7h0M75.4 315.1h0M59.7 304.8h0M55.9 307.2h0M77.5 309.1h0M60.9 302.2h0M72.2 295.9h0M59.0 303.1h0M59.5 319.2h0M80.5 313.6h0M80.6 314.1h0M64.2 300.2h0M84.8 318.6h0M62.2 297.1h0M53.6 314.7h0M69.2 303.5h0M47.8 315.8h0M72.4 314.0h0M53.6 320.8h0M68.2 320.7h0M61.2 295.0h0M66.4 297.5h0M65.2 307.6h0M65.6 304.4h0M53.3 313.3h0M53.5 320.8h0M71.2 309.1h0M68.4 318.8h0M76.9 314.8h0M69.6 315.9h0M57.7 300.8h0M51.9 299.9h0M48.1 303.0h0M62.3 316.5h0M66.6 318.7h0M54.8 314.6h0M73.6 300.8h0M68.7 306.6h0M72.5 296.4h0M80.6 315.0h0M56.3 305.3h0M48.8 318.2h0M61.7 315.6h0M72.5 308.3h0M67.9 302.2h0M72.1 300.9h0M63.2 319.3h0M80.0 314.5h0M59.0 319.1h0M85.3 319.2h0M63.3 301.1h0M65.6 318.3h0M65.4 310.1h0M77.4 317.1h0M62.0 301.8h0M58.4 315.8h0M76.2 297.7h0M59.5 313.1h0M81.2 318.1h0M71.6 295.6h0M84.6 318.4h0M74.6 306.0h0M66.0 304.4h0M73.7 312.8h0M55.8 315.7h0M52.6 300.3h0M68.8 303.6h0M66.3 295.6h0M80.2 311.5h0M49.8 303.3h0M77.1 307.8h0M59.8 301.9h0M57.0 304.2h0M80.9 318.2h0M59.4 309.3h0M73.0 302.5h0M64.1 318.6h0M48.8 304.0h0M64.1 302.4h0M58.3 315.6h0M61.5 309.4h0M54.8 303.2h0M76.1 302.6h0M65.4 306.9h0M64.8 297.8h0M54.0 303.6h0M57.4 318.6h0M57.6 312.3h0M71.8 310.0h0M74.9 314.8h0M59.0 301.3h0M74.2 314.2h0M65.6 297.9h0M72.2 302.5h0M62.7 320.8h0M76.0 308.8h0M62.4 319.3h0M67.1 315.2h0M62.0 298.7h0M50.2 309.2h0M61.6 317.8h0M66.6 301.8h0M65.3 301.4h0M57.1 301.5h0M52.9 310.6h0M63.4 302.3h0M63.7 298.5h0M71.6 313.3h0M50.4 314.1h0M75.9 299.5h0M58.8 305.7h0M77.8 313.5h0M61.8 312.8h0M69.8 306.9h0M49.8 313.7h0M69.0 299.8h0M59.9 319.6h0M61.4 311.1h0M74.9 311.0h0M72.9 313.9h0M67.7 314.0h0M54.5 306.9h0M59.8 305.9h0M54.8 302.8h0M68.3 313.9h0M72.3 307.4h0M47.9 320.0h0M74.5 299.2h0M55.0 318.8h0M56.2 305.3h0M57.5 303.8h0M80.8 310.4h0M52.9 298.3h0M61.7 317.5h0M47.9 303.4h0M60.1 310.9h0M74.3 297.5h0M51.0 313.8h0M86.1 318.2h0M56.7 310.8h0M64.3 291.8h0M60.4 317.1h0M58.9 303.5h0M64.6 313.1h0M59.0 316.5h0M50.1 312.4h0M65.8 313.1h0M61.3 304.6h0M78.6 319.9h0M75.8 301.5h0M79.5 316.2h0M56.7 315.3h0M68.2 296.7h0M48.2 314.2h0M58.8 305.6h0M66.6 314.2h0M69.2 310.7h0M67.5 307.2h0M61.5 297.7h0M54.1 302.9h0M62.8 300.8h0M80.6 319.2h0M77.4 319.1h0M71.0 309.3h0M67.4 309.6h0M64.2 312.4h0M61.4 307.1h0M57.4 320.7h0M56.7 313.5h0M62.2 316.4h0M62.9 307.4h0M61.2 308.5h0M62.9 307.5h0M56.6 299.0h0M69.0 314.1h0M48.6 315.3h0M49.5 305.0h0M49.9 304.3h0M67.2 307.1h0M81.6 319.8h0M64.4 304.6h0M58.6 309.7h0M49.9 317.0h0M76.0 304.4h0M62.4 315.7h0M78.7 302.2h0M82.7 319.1h0M75.7 315.2h0M67.7 296.0h0M84.1 319.5h0M74.8 295.4h0M55.1 317.2h0M69.9 316.6h0M69.0 299.9h0M69.9 300.8h0M52.4 308.1h0M62.2 304.5h0M72.3 304.7h0M60.0 319.3h0M68.8 293.4h0M69.3 311.7h0" stroke="#86a8de" stroke-width="0.90" stroke-linecap="round"/>
<path d="M58.7 312.0h0M64.0 313.2h0M67.0 308.0h0M49.5 305.2h0M50.5 304.4h0M74.5 300.5h0M54.7 298.6h0M74.7 306.4h0M50.9 314.3h0M57.9 319.6h0M75.8 300.8h0M48.6 302.9h0M68.5 310.3h0M77.5 314.4h0M62.8 312.8h0M72.1 306.9h0M72.8 310.9h0M50.8 320.1h0M75.8 306.4h0M48.3 305.9h0M66.5 304.2h0M50.3 320.5h0M64.7 315.4h0M73.7 311.8h0M77.3 319.4h0M69.7 300.1h0M48.5 311.0h0M67.6 295.5h0M70.7 312.6h0M66.0 317.8h0M68.6 296.5h0M56.9 318.8h0M57.8 318.7h0M65.8 317.3h0M77.1 295.6h0M62.9 301.2h0M59.6 317.5h0M59.6 301.0h0M52.0 297.9h0M69.1 309.6h0M72.0 305.4h0M66.4 316.6h0M57.5 299.5h0M64.4 310.5h0M54.4 311.8h0M67.3 317.3h0M54.6 299.4h0M63.6 305.5h0M69.2 309.4h0M54.3 320.7h0M75.4 309.3h0M67.3 298.3h0M61.1 302.2h0M54.6 307.1h0M57.2 297.1h0M56.6 304.5h0M59.9 311.9h0M67.4 302.2h0M66.7 313.2h0M55.0 316.6h0M59.1 310.6h0M48.6 311.5h0M81.8 319.9h0M67.8 319.5h0M72.9 294.2h0M64.6 304.6h0M62.6 320.0h0M68.0 301.2h0M73.7 319.0h0M74.2 296.0h0M59.0 318.7h0M63.7 304.2h0M66.4 299.6h0M75.2 302.9h0M59.4 300.1h0M60.3 312.0h0M76.4 298.1h0M63.9 314.6h0M72.4 317.5h0M75.6 316.9h0M71.4 299.9h0M70.6 296.4h0M51.1 310.8h0M68.0 298.8h0M55.3 311.1h0M56.9 311.6h0M64.5 297.3h0M57.0 302.8h0M76.1 316.1h0M58.8 314.5h0M54.3 308.7h0M66.3 319.1h0M59.3 304.6h0M65.3 314.2h0M73.5 301.0h0M87.2 320.4h0M66.9 313.6h0M67.4 318.4h0M64.7 306.9h0M56.2 304.5h0M63.9 310.6h0M48.1 311.0h0M71.9 307.5h0M79.0 305.2h0M68.7 317.8h0M70.9 318.8h0M59.9 296.1h0M58.5 315.3h0M67.3 304.4h0M72.8 310.4h0M57.1 313.7h0M48.0 307.3h0M79.1 307.7h0M63.2 318.6h0M52.0 307.0h0M77.9 305.0h0M71.9 308.2h0M55.9 319.7h0M59.8 302.3h0M62.4 298.2h0M70.9 303.8h0M62.7 318.2h0M77.6 315.6h0M70.7 320.8h0M55.5 315.9h0M63.2 296.4h0M48.0 315.4h0M62.5 318.7h0M58.9 311.2h0M62.5 303.1h0M57.6 302.9h0M56.8 309.0h0M82.5 318.9h0M60.5 314.0h0M65.5 299.4h0M57.9 300.9h0M61.6 309.3h0M65.2 312.4h0M53.6 301.9h0M83.2 314.9h0M73.2 308.4h0M61.6 320.9h0M81.3 318.3h0M78.4 312.1h0M63.6 293.7h0M67.6 307.9h0M69.2 316.3h0M75.2 318.8h0M58.0 309.7h0M72.1 303.8h0M76.6 318.6h0M72.6 298.7h0M73.6 307.2h0M65.3 306.1h0M48.3 317.0h0M58.7 308.3h0M53.8 305.8h0M52.5 318.6h0M51.2 312.0h0M57.6 298.8h0M60.4 314.4h0M51.7 311.8h0M58.4 314.4h0M75.2 300.9h0M48.7 311.7h0M55.0 304.0h0M69.3 306.2h0M71.2 297.5h0M58.1 319.8h0M48.5 300.9h0M72.0 309.7h0M56.9 308.1h0M65.4 309.1h0M48.0 318.6h0M68.7 306.3h0M66.8 309.5h0M51.2 297.5h0M58.5 304.8h0M74.5 315.8h0M55.0 308.4h0M78.3 309.9h0M77.3 313.5h0M73.6 311.5h0M65.4 299.7h0M71.3 301.2h0M49.0 319.3h0M49.9 306.4h0M64.5 316.6h0M53.5 315.1h0M57.4 307.7h0M63.5 308.4h0M63.2 299.1h0M75.9 316.1h0M69.2 316.2h0M61.9 297.3h0M82.3 317.2h0M74.7 300.8h0M62.9 311.2h0M79.9 310.7h0M74.1 317.1h0M54.1 305.7h0M60.6 310.9h0M70.9 317.4h0M78.9 308.4h0M59.9 305.1h0M77.4 306.6h0M67.0 305.1h0M49.4 314.7h0M78.8 306.8h0M70.9 299.8h0M50.9 296.8h0M65.4 303.5h0M48.0 306.7h0M77.9 302.2h0M53.7 301.5h0M56.9 304.7h0M74.7 316.3h0M65.5 298.9h0M56.2 315.5h0M76.9 306.5h0M75.9 305.6h0M70.3 298.3h0M63.9 304.4h0M62.6 306.9h0M75.1 312.4h0M63.0 309.1h0M79.1 317.9h0M74.5 296.9h0M72.9 300.1h0M60.8 305.0h0M59.0 316.1h0M57.5 304.9h0M68.6 300.9h0M60.7 311.1h0M62.9 317.2h0M57.7 313.5h0M72.4 313.6h0M67.5 308.3h0M72.9 318.4h0M71.3 294.0h0M59.8 306.9h0M68.8 309.9h0M72.2 301.0h0M72.2 305.1h0M50.4 320.0h0M50.8 309.2h0M60.9 319.8h0M79.2 314.0h0M83.3 314.9h0M52.9 318.8h0M74.2 311.6h0M63.4 303.6h0M58.3 298.4h0M66.1 316.8h0M55.3 305.1h0M74.5 317.7h0M65.5 318.3h0M65.0 315.9h0M73.4 314.0h0M67.2 317.2h0M70.3 316.9h0M59.5 315.9h0M74.0 294.9h0M49.2 305.3h0M72.2 298.5h0M66.5 320.3h0M58.5 301.4h0M59.8 319.7h0M81.7 317.5h0M77.1 319.0h0M67.8 311.9h0M48.2 309.0h0M49.9 317.7h0M53.0 302.2h0M49.8 311.2h0M66.5 294.7h0M72.3 304.5h0M65.1 316.1h0M80.2 311.4h0M67.8 299.9h0M60.6 306.9h0M69.5 314.9h0M57.1 298.0h0M73.2 307.7h0M81.6 313.9h0M60.1 307.6h0M64.2 319.5h0M74.5 292.2h0M70.6 302.8h0M71.9 320.6h0M48.5 312.7h0M64.1 320.7h0M50.5 300.8h0M62.2 311.2h0M77.7 314.3h0M77.0 314.3h0M73.4 317.5h0M80.4 308.9h0M71.8 292.0h0M79.1 318.7h0M67.5 301.0h0M68.2 307.5h0M69.0 305.2h0M60.4 305.6h0M60.7 302.0h0M49.2 299.2h0M61.5 296.0h0M71.9 295.7h0M61.0 301.7h0M73.2 311.5h0M54.8 306.3h0M67.7 316.8h0M67.2 302.7h0M83.6 318.6h0M78.1 313.7h0M48.7 309.3h0M67.6 310.7h0M78.0 309.4h0M75.4 307.6h0M76.6 312.8h0M52.5 308.9h0M57.6 318.4h0M56.7 300.3h0M65.0 314.7h0M50.4 311.5h0M72.0 308.5h0M62.7 302.2h0M75.8 319.7h0M70.4 307.1h0M75.1 291.5h0M48.4 311.4h0M50.3 305.6h0M49.9 302.1h0M64.8 320.3h0M78.1 306.2h0M81.1 315.1h0M76.4 320.0h0M71.1 315.0h0M83.8 318.2h0M66.3 320.7h0M57.1 316.6h0M51.8 318.8h0M59.2 306.4h0M61.3 313.8h0M75.8 310.3h0M80.1 312.8h0M50.2 315.0h0M74.3 296.1h0M61.9 316.0h0M59.6 317.5h0M48.6 314.0h0M61.3 297.5h0M54.0 309.2h0M62.6 316.7h0M74.4 301.1h0M56.0 308.4h0M69.2 310.6h0M54.9 311.9h0M75.5 300.6h0M74.2 309.9h0M73.4 316.8h0M58.7 305.1h0M76.2 290.8h0M48.2 304.5h0M73.0 305.9h0M76.7 295.4h0M57.5 304.2h0M59.3 294.3h0M51.0 313.1h0M66.8 314.6h0M56.1 320.0h0M70.9 296.8h0M52.8 320.7h0M71.5 297.4h0M49.8 307.9h0M65.4 315.3h0M60.4 311.5h0M63.3 303.8h0M71.4 300.7h0M51.2 311.0h0M77.9 316.8h0M56.3 299.0h0M83.8 316.3h0M64.5 301.4h0M56.3 302.6h0M72.9 315.3h0M68.0 306.4h0M61.1 309.2h0M83.2 318.0h0M65.2 299.2h0M77.3 315.4h0M75.3 296.3h0M65.0 316.1h0M48.7 311.3h0M67.6 312.3h0M72.3 297.4h0M63.0 318.8h0M72.7 319.1h0M63.4 300.6h0M48.4 319.8h0M75.3 303.8h0M75.2 306.7h0M55.9 299.8h0M79.5 313.9h0M64.7 319.5h0M50.9 303.5h0M78.3 305.9h0M58.0 311.1h0M65.9 319.9h0M56.9 300.8h0M77.8 317.9h0M68.6 313.5h0M57.5 318.7h0M62.3 299.7h0M52.0 306.2h0M64.3 303.8h0M62.9 305.9h0M70.2 316.9h0M77.1 300.3h0M60.4 310.5h0M63.3 318.9h0M55.3 315.4h0M61.4 307.4h0M62.3 314.0h0M73.2 293.4h0M75.4 318.2h0M67.2 298.5h0M77.2 310.5h0M61.8 317.8h0M74.4 305.5h0M66.8 299.4h0M51.9 307.3h0M67.9 318.5h0M51.7 319.2h0M56.4 311.6h0M71.6 298.1h0M53.2 311.4h0M69.6 294.1h0M57.0 318.0h0M71.5 314.1h0M57.0 297.5h0M70.0 312.3h0M73.4 302.2h0M68.5 299.2h0M74.7 293.0h0M56.9 320.6h0M69.6 314.9h0M55.1 315.0h0M75.7 310.6h0M57.6 301.3h0M71.7 292.4h0M84.0 320.8h0M59.6 320.2h0M65.7 314.4h0M75.7 307.0h0M78.8 314.0h0M60.9 308.8h0M56.7 299.6h0M76.1 319.0h0M71.1 314.4h0M69.0 309.0h0M67.1 319.9h0M61.6 312.1h0M73.5 318.8h0M72.4 306.3h0M71.3 317.7h0M50.3 305.2h0M60.3 301.2h0M79.5 319.3h0M72.7 291.7h0M61.9 320.1h0M50.2 308.2h0M57.7 305.5h0M55.4 318.5h0M54.7 306.1h0M56.2 318.5h0M53.5 309.2h0M83.3 313.9h0M66.1 310.2h0M62.2 303.2h0M76.7 312.5h0M53.2 310.1h0M70.7 304.5h0M66.4 309.6h0M70.0 304.2h0M70.3 301.9h0M62.1 311.3h0M76.5 315.4h0M82.1 317.7h0M47.9 311.4h0M67.4 313.0h0M64.9 292.9h0M81.3 317.0h0M65.4 310.4h0M61.0 297.3h0M67.3 313.4h0M48.1 304.8h0M50.9 309.1h0M52.9 305.5h0M49.7 320.2h0M50.3 300.3h0M68.8 297.8h0M49.0 319.1h0M75.2 306.2h0M78.5 303.8h0M50.2 303.0h0M60.2 319.6h0M48.4 313.3h0M72.3 301.7h0M57.4 299.4h0M73.8 304.0h0M69.0 317.4h0M69.9 298.1h0M61.2 317.7h0M48.3 310.6h0M58.1 312.0h0M59.6 313.2h0M66.4 320.1h0M70.0 292.3h0M57.7 303.4h0M79.4 307.6h0M54.9 310.2h0M61.6 301.4h0M69.8 314.0h0M68.8 306.9h0M49.2 307.3h0M77.3 313.0h0M54.2 307.0h0M62.7 319.9h0M49.3 315.2h0M62.1 310.8h0M71.2 294.6h0M83.5 316.6h0M73.4 311.8h0M57.4 318.8h0M62.5 306.8h0M61.1 300.1h0M53.9 317.9h0M52.3 303.7h0M50.1 302.6h0M60.8 306.6h0M71.2 292.6h0M48.6 306.9h0M78.2 312.8h0M53.7 308.4h0M68.4 313.8h0M69.2 302.6h0M79.8 306.5h0M56.4 305.3h0M50.1 314.1h0M51.0 304.6h0M62.3 319.1h0M83.1 319.8h0M67.2 312.5h0M77.2 320.8h0M74.3 319.0h0M66.0 317.2h0M69.0 312.3h0M66.7 292.6h0M51.5 299.8h0M64.1 311.2h0M73.8 317.7h0M50.8 307.2h0M69.5 316.1h0M77.6 297.8h0M70.0 297.7h0M48.6 305.9h0M74.6 293.6h0M50.8 318.4h0M69.6 314.4h0M70.2 297.1h0M70.6 302.1h0M55.5 318.4h0M52.0 307.2h0M68.4 316.8h0M85.3 319.6h0M69.5 299.7h0M75.1 303.0h0M66.9 298.1h0M63.6 303.4h0M48.2 315.9h0M61.8 308.1h0M76.7 299.7h0M62.0 314.2h0M60.4 305.4h0M61.2 298.8h0M58.5 320.9h0M65.3 320.8h0M58.3 313.6h0M66.2 319.8h0M70.7 292.1h0M77.2 313.6h0M47.9 314.9h0M64.3 320.3h0M78.1 305.6h0M56.6 310.4h0M61.3 313.2h0M49.6 314.0h0M57.0 315.4h0M80.1 314.8h0M81.6 314.5h0M50.9 298.5h0M81.0 309.9h0M65.6 302.0h0M74.7 293.7h0M76.3 307.9h0M67.9 301.1h0M69.3 308.3h0M52.6 320.2h0M59.8 304.9h0M73.1 320.4h0M73.3 307.8h0M68.3 308.3h0M76.6 317.4h0M49.1 302.4h0M62.3 308.3h0M72.6 309.3h0M49.1 317.1h0M71.8 308.4h0M73.8 300.9h0M49.8 317.4h0M50.5 302.6h0M57.4 301.9h0M77.7 304.8h0M53.3 306.6h0M64.4 304.1h0M70.6 314.6h0M62.8 309.8h0M50.3 319.7h0M74.8 314.6h0M60.1 311.2h0M50.8 308.3h0M57.0 302.8h0M64.3 320.6h0M57.4 308.3h0M75.6 301.8h0M76.3 306.2h0M54.2 302.2h0M60.3 308.5h0M53.1 299.5h0M48.0 311.8h0M71.7 308.8h0M65.5 308.3h0M77.7 302.3h0M68.1 305.2h0M62.4 306.0h0M78.6 306.2h0M59.1 312.7h0M49.5 310.3h0M82.2 312.0h0M56.4 303.7h0M61.4 312.1h0M72.2 314.2h0M85.6 319.3h0M55.4 298.3h0M64.7 304.6h0M68.8 319.2h0M51.1 313.1h0M68.0 297.6h0M69.1 301.5h0M66.3 300.5h0M65.3 312.2h0M65.8 310.6h0M80.7 309.0h0M73.1 307.9h0M74.2 317.1h0M73.8 297.8h0M60.1 301.6h0M51.6 319.6h0M81.7 314.5h0M49.9 309.6h0M65.0 310.9h0M60.0 309.5h0M58.0 303.8h0M53.2 304.6h0M56.6 302.7h0M51.2 306.7h0M69.8 318.7h0M68.6 302.7h0M62.6 310.9h0M56.7 311.5h0M48.0 315.5h0M73.8 297.7h0M73.5 320.5h0M76.9 304.6h0M75.3 317.6h0M48.7 315.0h0M64.1 320.5h0M82.6 319.3h0M83.9 317.4h0M72.6 291.1h0M70.9 298.3h0M53.7 305.7h0M47.9 302.3h0M47.8 305.2h0M53.8 309.8h0M53.3 302.7h0M61.0 307.4h0M48.3 310.3h0M78.2 297.2h0M59.7 317.1h0M80.4 316.5h0M50.4 310.0h0M60.6 300.6h0M65.8 318.1h0M72.1 299.1h0M53.1 304.9h0M63.3 310.2h0M59.5 320.1h0M55.6 315.6h0M67.4 318.0h0M73.4 314.5h0M50.2 318.5h0M49.9 316.1h0M78.7 307.3h0M60.8 304.9h0M52.7 308.1h0M62.8 318.4h0M65.2 309.3h0M51.5 313.6h0M75.0 294.0h0M56.1 298.9h0M70.1 308.2h0M68.9 299.4h0M64.5 301.8h0M48.4 299.6h0M48.9 319.3h0M57.4 305.9h0M60.5 301.7h0M83.8 317.0h0M77.5 314.9h0M72.8 307.6h0M68.1 317.3h0M66.8 303.6h0M65.9 295.5h0M65.4 300.3h0M74.1 314.1h0M60.2 317.8h0M59.3 314.0h0M70.0 304.0h0M47.9 317.5h0M48.6 303.9h0M51.6 299.5h0M70.1 319.1h0M54.1 312.9h0M59.2 305.2h0M62.8 297.4h0M53.6 298.0h0M73.1 315.4h0M60.9 316.1h0M74.7 307.9h0M61.3 301.1h0M57.3 311.4h0M56.5 311.4h0M73.2 320.3h0M73.7 294.9h0M75.5 318.0h0M72.9 307.6h0M56.5 319.9h0M69.6 296.5h0M71.9 298.3h0M65.8 318.2h0M66.8 299.4h0M64.6 304.9h0M81.0 317.2h0M65.9 307.2h0M71.6 300.9h0M58.1 305.8h0M61.3 311.6h0M56.1 319.0h0M72.2 301.9h0M82.0 312.5h0M47.9 299.2h0M74.5 318.1h0M78.4 312.7h0M49.6 315.4h0M49.4 307.5h0M69.7 312.8h0M74.6 320.2h0M50.7 302.3h0M55.0 313.1h0M80.7 312.7h0M76.2 299.0h0M62.0 318.1h0M74.0 294.6h0M64.5 301.8h0M54.1 299.0h0M62.9 302.0h0M60.7 319.8h0M73.8 311.6h0M49.8 320.8h0M78.5 307.3h0M60.3 300.7h0M61.5 306.0h0M68.0 310.8h0M56.8 309.9h0M62.8 317.8h0M60.0 312.0h0M71.1 301.8h0M76.2 309.0h0M61.2 307.4h0M66.3 308.5h0M61.8 300.8h0M49.0 314.1h0M51.3 302.9h0M66.7 300.3h0M49.3 315.2h0M62.7 315.8h0M74.4 302.0h0M51.1 307.6h0M68.6 296.1h0M64.7 308.2h0M48.3 311.6h0M82.7 320.8h0M63.4 308.4h0M73.0 290.6h0M61.1 308.2h0M70.0 298.2h0M60.0 302.7h0M51.1 311.9h0M78.9 318.2h0M81.2 317.0h0M58.7 311.2h0M75.7 298.2h0M68.8 314.2h0M66.1 298.7h0M76.5 316.1h0M71.1 309.9h0M59.9 311.2h0M68.1 307.7h0M50.6 304.7h0M65.5 317.0h0M73.5 318.3h0M68.4 305.9h0M67.9 307.9h0M51.7 305.2h0M68.3 304.4h0M50.1 307.2h0M56.5 305.8h0M84.1 316.9h0M62.4 312.1h0M53.1 304.5h0M50.5 306.3h0M54.7 305.0h0M78.5 310.9h0M66.0 309.4h0M62.1 303.5h0M74.4 299.2h0M68.4 306.0h0M81.6 316.7h0M50.9 318.6h0M74.7 311.9h0M79.2 303.2h0M52.4 300.8h0M70.3 301.6h0M79.5 309.7h0M62.2 307.5h0M64.4 308.2h0M80.0 311.8h0M59.8 305.5h0M55.7 303.4h0M51.9 315.3h0M59.8 305.1h0M69.0 315.6h0M50.5 311.2h0M59.5 304.9h0M58.8 307.3h0M50.3 305.0h0M53.9 316.3h0M55.9 311.7h0M70.0 298.1h0M53.7 318.3h0M65.4 316.6h0M58.3 316.8h0M67.1 296.6h0M74.0 315.8h0M66.1 298.5h0M52.5 312.2h0M64.5 298.8h0M68.9 297.1h0M77.9 299.4h0M56.7 320.7h0M81.3 319.1h0M71.2 315.8h0M57.8 311.9h0M63.6 316.8h0M49.6 310.2h0M74.9 320.9h0M59.5 305.6h0M55.5 313.9h0M69.9 318.9h0M79.2 314.0h0M73.9 320.5h0M62.5 319.3h0M70.9 310.7h0M69.4 316.8h0M58.3 307.9h0M78.3 304.3h0M75.5 315.0h0M56.7 309.5h0M77.6 318.9h0M85.3 318.9h0M54.6 310.9h0M81.8 320.7h0M63.1 299.6h0M65.6 299.7h0M62.0 310.6h0M81.6 313.4h0M57.3 308.8h0M75.7 297.2h0M74.3 306.5h0M51.2 302.0h0M73.8 317.0h0M57.4 316.7h0M84.5 319.0h0M71.6 312.9h0M70.0 316.8h0M68.4 315.4h0M72.8 303.2h0M78.9 307.4h0M66.2 315.9h0M50.7 310.5h0M66.2 306.9h0M56.5 313.2h0M57.2 303.0h0M74.3 293.7h0M65.7 317.4h0M81.8 318.2h0M72.1 320.0h0M70.6 320.2h0M70.6 292.8h0M71.4 298.3h0M49.8 304.1h0M61.8 308.7h0M51.7 302.4h0M72.8 302.8h0M61.7 304.6h0M65.0 320.8h0M73.3 296.3h0M58.2 303.8h0M54.6 313.2h0M71.6 302.9h0M75.7 301.7h0M73.2 309.3h0M64.4 319.8h0M61.3 300.5h0M82.8 317.5h0M53.9 312.3h0M62.3 315.2h0M67.4 308.0h0M54.9 309.6h0M80.6 317.0h0M56.7 305.6h0M55.1 310.0h0M56.2 304.5h0M64.4 319.2h0M54.5 309.8h0M74.6 315.7h0M76.2 300.2h0M75.7 320.1h0M78.9 313.7h0M61.3 304.2h0M61.4 305.2h0M71.0 294.8h0M68.6 296.7h0M66.7 297.1h0M71.6 307.7h0M66.7 302.9h0M52.3 318.5h0M77.5 313.6h0M66.6 301.6h0M80.3 310.1h0M59.7 302.4h0M67.6 311.9h0M76.3 305.4h0M59.5 318.7h0M75.6 309.9h0M70.3 295.7h0M54.3 299.9h0M62.8 294.0h0M71.6 313.1h0M63.8 300.6h0M79.3 310.8h0M62.4 318.7h0M67.5 306.7h0M75.3 320.8h0M67.2 308.1h0M71.0 316.2h0M81.6 315.3h0M71.7 307.3h0M54.1 305.8h0M48.5 307.8h0M50.0 311.6h0M61.5 315.8h0M61.1 299.6h0M57.1 304.4h0M60.2 315.6h0M52.1 304.5h0M54.3 314.6h0M69.9 301.5h0" stroke="#4470c0" stroke-width="1.00" stroke-linecap="round"/>
<path d="M73.8 312.5h0M66.7 310.1h0M65.6 315.8h0M61.7 311.4h0M58.1 314.8h0M65.2 308.1h0M64.4 300.4h0M49.3 312.0h0M72.5 307.9h0M60.9 305.7h0M68.0 311.3h0M62.4 303.2h0M66.0 315.5h0M58.0 317.5h0M63.7 315.4h0M61.6 312.9h0M75.3 306.8h0M79.6 308.8h0M74.9 298.7h0M68.8 303.6h0M73.1 306.1h0M78.1 304.4h0M60.3 308.9h0M50.7 308.2h0M72.4 303.6h0M61.1 307.5h0M66.4 310.3h0M58.2 300.6h0M76.0 309.3h0M69.3 311.9h0M64.9 313.9h0M67.7 301.0h0M61.7 306.1h0M60.3 314.3h0M71.3 317.4h0M59.8 317.4h0M74.1 311.6h0M62.0 319.2h0M66.7 312.0h0M60.7 313.9h0M75.6 307.2h0M67.0 309.6h0M69.3 307.6h0M67.3 311.5h0M63.5 304.6h0M58.5 306.2h0M63.7 309.4h0M73.1 312.6h0M66.0 306.4h0M59.6 313.7h0M64.0 313.5h0M53.9 310.0h0M52.1 314.9h0M62.2 307.0h0M55.6 298.1h0M66.6 304.8h0M64.7 306.0h0M56.4 309.6h0M65.3 307.7h0M70.8 306.3h0M71.1 310.1h0M63.1 309.7h0M66.6 311.1h0M59.2 307.8h0M74.2 304.5h0M67.2 302.0h0M67.2 312.9h0M73.5 311.7h0M59.3 307.3h0M58.7 313.4h0M64.4 317.0h0M69.1 301.2h0M73.9 312.3h0M59.6 313.2h0M54.9 312.6h0M63.8 314.6h0M61.1 315.4h0M63.1 312.1h0M69.7 301.3h0M73.0 312.9h0M56.4 299.0h0M73.6 304.0h0M66.4 316.3h0M69.2 303.2h0M51.8 306.9h0M55.8 319.8h0M66.4 315.5h0M73.5 310.0h0M56.8 300.8h0M69.0 308.0h0M55.6 319.8h0M64.2 306.5h0M67.8 313.0h0M61.5 315.2h0M62.1 314.5h0M67.1 305.5h0M64.6 304.8h0M64.3 307.2h0M66.6 306.0h0M61.8 306.0h0M72.3 303.1h0M68.3 307.3h0M73.2 309.2h0M70.5 310.5h0M71.1 310.5h0M62.6 315.2h0M63.6 304.2h0M67.5 310.9h0M52.7 316.8h0M71.7 313.4h0M72.7 308.0h0M62.0 307.8h0M69.7 320.0h0M60.5 308.0h0M49.5 314.7h0M57.3 313.8h0M68.5 317.3h0M74.5 312.4h0M76.5 312.0h0M68.6 319.0h0M63.3 304.4h0M52.6 308.8h0M67.7 307.0h0M65.1 312.5h0M68.6 308.8h0M58.9 305.3h0M63.0 299.9h0M66.5 302.0h0M55.8 299.7h0M77.7 317.7h0M75.7 316.6h0M76.8 304.5h0M68.9 315.4h0M73.0 312.7h0M69.0 308.0h0M60.7 308.3h0M64.1 313.1h0M67.6 311.1h0M54.4 313.7h0M56.8 311.1h0M83.5 314.0h0M69.8 301.2h0M70.3 306.1h0M48.1 312.9h0M54.4 310.6h0M66.4 303.5h0M69.5 314.9h0M71.7 315.9h0M74.9 316.0h0M64.4 319.6h0M72.1 315.8h0M60.4 313.2h0M68.5 299.5h0M74.5 309.3h0M76.8 309.8h0M59.4 305.1h0M64.4 316.6h0M59.4 311.7h0M75.4 309.3h0M63.2 296.2h0M55.9 312.7h0M72.1 308.1h0M63.0 315.6h0M66.5 317.5h0M71.8 314.6h0M60.8 311.0h0M58.5 317.6h0M69.1 313.3h0M78.2 309.0h0M63.1 309.5h0M57.2 312.2h0M52.9 318.8h0M50.2 313.2h0M73.5 308.3h0M63.1 312.7h0M66.2 308.2h0M53.9 303.0h0M59.6 312.7h0M69.9 301.3h0M71.9 320.0h0M65.1 317.0h0M73.4 310.8h0M60.3 309.3h0M69.0 316.3h0M72.0 313.7h0M66.1 319.4h0M59.1 309.7h0M70.3 313.6h0M68.5 300.0h0M71.6 306.1h0M69.4 302.2h0M53.6 310.5h0M70.4 311.4h0M72.0 312.0h0M75.9 318.1h0M60.9 305.7h0M67.6 316.2h0M63.6 313.3h0M72.9 313.2h0M75.0 311.4h0M70.0 308.8h0M60.1 314.2h0M57.2 305.2h0M77.2 315.4h0M70.7 310.8h0M68.0 314.1h0M74.3 310.4h0M47.9 315.9h0M60.4 311.8h0M55.1 319.9h0M64.3 311.7h0M51.8 316.4h0M65.0 311.3h0M73.1 304.6h0M69.2 309.3h0M72.5 304.4h0M58.6 314.0h0M54.9 317.6h0M61.8 306.9h0M65.1 317.5h0M64.3 309.0h0M61.5 308.1h0M67.8 317.9h0M67.9 318.7h0M66.3 313.7h0M73.7 306.1h0M59.1 319.0h0M63.3 314.7h0M71.6 309.5h0M74.4 307.7h0M72.3 305.1h0M71.3 308.6h0M60.5 313.6h0M63.6 316.0h0M67.3 315.6h0M57.0 306.4h0M81.7 317.3h0M57.1 310.3h0M64.9 304.7h0M61.8 314.3h0M60.9 312.6h0M66.0 311.9h0M59.7 309.6h0M69.8 312.5h0M57.7 310.1h0M73.0 307.7h0M60.4 315.6h0M56.5 301.6h0M63.3 317.9h0M59.1 305.0h0M66.9 308.7h0M65.9 308.1h0M70.8 315.3h0M67.4 311.0h0M58.3 311.3h0M61.7 309.9h0M70.9 316.0h0M66.6 311.9h0M64.3 316.7h0M73.4 311.3h0M56.2 318.4h0M69.1 307.4h0M72.7 300.3h0M62.7 302.8h0M61.7 314.6h0M79.3 303.4h0M68.0 314.6h0M75.3 315.7h0M53.4 307.7h0M62.1 316.6h0M67.5 315.6h0M63.5 315.4h0M62.7 306.5h0M69.9 311.3h0M67.1 317.8h0M48.7 313.8h0M59.9 298.4h0M61.2 305.5h0M71.6 310.3h0M56.6 305.7h0M71.0 317.4h0M71.3 301.3h0M56.2 316.2h0M61.7 306.0h0M65.2 311.9h0M68.3 313.9h0M72.9 309.4h0M59.3 315.2h0M67.6 314.8h0M63.6 304.1h0M69.2 311.5h0M61.0 307.8h0M59.4 309.2h0M59.8 304.4h0M74.6 308.1h0M62.0 309.2h0M66.6 307.5h0M52.6 304.7h0M61.7 312.1h0M68.2 309.3h0M67.3 308.6h0M58.4 313.9h0M61.4 314.1h0M60.0 309.1h0M61.6 316.9h0M56.1 308.2h0M59.2 313.6h0M61.1 303.0h0M62.9 307.4h0M61.0 313.8h0M56.4 319.1h0M69.2 301.7h0M54.1 317.5h0M71.3 303.7h0M65.2 314.3h0M67.1 318.1h0M62.9 317.1h0M70.8 310.1h0M69.0 303.5h0M54.9 306.7h0M68.5 317.2h0M75.7 306.4h0M74.1 313.6h0M52.8 306.3h0M78.4 317.0h0M50.8 312.8h0M58.9 312.5h0M76.1 309.4h0M68.7 306.2h0M64.7 306.7h0M62.2 308.7h0M71.9 315.1h0M70.0 308.4h0M57.3 318.2h0M51.9 317.3h0M57.8 311.9h0M64.4 313.2h0M53.0 320.1h0M61.0 315.5h0M58.0 310.6h0M60.5 315.4h0M68.7 311.7h0M74.4 319.7h0M78.6 309.3h0M72.2 310.3h0M60.7 312.5h0M52.6 315.7h0M68.1 313.1h0M72.8 313.8h0M56.4 315.1h0M60.4 310.2h0M76.6 305.6h0M64.2 306.6h0M58.6 318.8h0M67.9 319.2h0M70.4 315.0h0M69.1 306.8h0M67.4 307.4h0M62.7 309.8h0M63.6 310.8h0M58.4 308.1h0M59.2 309.8h0M60.6 316.7h0M66.6 310.0h0M65.3 308.5h0M60.7 311.0h0M73.0 316.9h0M74.6 311.8h0M64.6 320.6h0M65.5 303.5h0M68.3 311.7h0M74.1 303.7h0M71.7 301.5h0M71.7 305.2h0M61.2 307.9h0M60.7 313.1h0M73.1 314.8h0M78.4 308.0h0M56.1 316.0h0M62.4 310.4h0M68.0 311.0h0M64.1 310.5h0M60.8 317.5h0M63.5 310.6h0M56.4 311.8h0M66.0 309.1h0M53.5 314.2h0M59.6 308.9h0M72.4 307.4h0M57.3 307.1h0M73.8 311.5h0M72.1 307.3h0M64.0 307.4h0M60.0 318.0h0M54.4 310.6h0M59.1 313.9h0M78.2 310.2h0M73.0 311.9h0M60.6 317.4h0M72.9 306.5h0M73.7 309.1h0M68.0 304.2h0M65.0 300.6h0M55.2 308.1h0M59.9 318.7h0M54.8 316.9h0M54.9 318.0h0M59.4 319.9h0M64.5 306.5h0M49.0 312.1h0M71.6 307.4h0M59.5 301.5h0M50.1 306.8h0M54.5 314.6h0M58.8 304.9h0M70.2 310.8h0M63.5 314.7h0M62.6 305.5h0M63.4 306.3h0M63.3 319.0h0M71.4 317.0h0M79.1 316.3h0M64.4 311.8h0M57.8 303.8h0M55.2 316.5h0M64.9 305.9h0M69.6 309.7h0M65.9 304.5h0M67.4 306.6h0M61.3 312.1h0M74.6 307.8h0M56.5 313.3h0M65.5 299.9h0M65.8 312.6h0M72.0 304.5h0M65.5 302.8h0M50.0 316.5h0M71.3 318.2h0M59.6 312.3h0M54.6 313.5h0M55.1 310.9h0M56.5 313.6h0M67.3 306.9h0M48.1 317.8h0M57.0 305.0h0M75.5 308.1h0M65.6 310.9h0M64.3 314.7h0M56.4 311.8h0M70.9 314.0h0M70.4 316.6h0M58.9 313.1h0M56.5 310.6h0M71.8 310.1h0M68.8 308.0h0M65.0 306.7h0M54.6 313.9h0M65.1 307.2h0M60.7 316.0h0M73.2 305.9h0M71.3 315.5h0M76.2 309.2h0M67.4 301.3h0M70.9 317.4h0M62.2 304.1h0M59.7 312.0h0M68.4 309.8h0M69.9 313.0h0M64.4 315.5h0M60.1 304.9h0M65.0 301.5h0M71.1 304.8h0M55.4 312.5h0M75.1 299.3h0M50.3 311.0h0M65.9 316.5h0M62.2 319.4h0M57.6 312.4h0M57.9 309.3h0M78.3 306.5h0M63.0 310.7h0M67.8 308.2h0M73.4 317.7h0M68.6 308.6h0M70.5 310.2h0M76.0 310.4h0M58.3 309.8h0M61.5 306.8h0M67.3 309.7h0M66.8 310.4h0M61.2 315.7h0M66.1 305.2h0M71.9 299.6h0M74.6 306.9h0M60.6 306.7h0M60.3 315.1h0M60.4 312.2h0M63.5 310.1h0M59.7 312.7h0M67.6 308.4h0M61.2 301.1h0M66.0 317.9h0M73.3 312.0h0M52.3 310.2h0M63.2 304.6h0M66.1 309.4h0M63.1 310.0h0M71.9 311.9h0M77.3 304.9h0M64.5 311.2h0M65.0 310.8h0M67.5 312.7h0M57.1 317.6h0M73.7 309.1h0M56.6 316.3h0M66.6 309.6h0M71.5 310.3h0M73.2 314.8h0M68.2 318.6h0M61.4 313.1h0M56.7 311.0h0M63.6 318.3h0M56.8 308.6h0M64.1 309.8h0M78.4 319.0h0M57.4 310.9h0M71.7 308.7h0M59.9 308.0h0M67.9 316.1h0M56.8 312.0h0M80.5 317.1h0M53.3 308.7h0M64.4 306.8h0M63.1 314.4h0M70.0 306.4h0M75.6 311.8h0M56.9 311.3h0M58.2 311.6h0M62.4 304.2h0M60.4 304.2h0M64.7 318.0h0M62.5 315.7h0M70.6 307.6h0M63.3 316.3h0M78.2 316.2h0M76.7 307.4h0M59.3 317.0h0M64.9 314.7h0M67.6 304.7h0M68.8 317.7h0M56.2 303.5h0M66.5 310.2h0M58.8 313.2h0M61.1 312.3h0M60.6 310.3h0M66.7 319.6h0M61.4 318.4h0M59.1 308.3h0M66.4 312.1h0M67.2 307.2h0M66.0 304.7h0M72.2 309.3h0M63.9 319.5h0M59.7 313.0h0M61.6 309.6h0M59.3 317.5h0M62.1 304.8h0M58.3 316.0h0M68.4 307.6h0M57.9 311.0h0M56.7 314.1h0M73.1 311.8h0M66.8 309.8h0M72.3 314.6h0M60.5 306.1h0M71.9 304.5h0M57.8 312.7h0M61.8 309.3h0M61.9 313.5h0M69.9 306.1h0M64.2 313.7h0M60.1 319.5h0M65.9 308.9h0M69.4 311.2h0M60.4 307.1h0M63.3 313.2h0M65.7 309.5h0M79.6 313.2h0M51.6 311.4h0M63.3 301.1h0M79.6 315.9h0M69.0 310.3h0M69.9 315.2h0M74.8 304.1h0M54.5 317.9h0M82.6 312.0h0M49.2 312.0h0M64.1 308.4h0M65.5 307.8h0M61.9 303.4h0M63.7 306.0h0M63.9 311.3h0M60.6 311.6h0M59.1 304.8h0M49.9 307.9h0M59.3 301.8h0M66.5 304.2h0M62.1 314.7h0M70.0 313.7h0M70.1 311.1h0M72.4 310.5h0M59.8 305.8h0M70.9 320.7h0M55.6 302.9h0M61.9 309.3h0M64.6 307.7h0M60.3 310.3h0M60.4 313.2h0M61.7 307.5h0M69.2 309.6h0M61.1 313.4h0M51.8 307.6h0M70.3 319.7h0M68.7 305.6h0M59.8 311.2h0M60.8 313.8h0M67.1 307.2h0M67.3 301.3h0M58.9 312.5h0M55.7 311.3h0M57.5 310.0h0M73.3 313.5h0M74.5 317.8h0M67.9 313.6h0M66.5 310.2h0M71.8 311.3h0M57.0 303.8h0M67.2 311.4h0M61.9 305.2h0M78.0 315.9h0M78.1 303.6h0M64.6 306.2h0M50.3 314.8h0M59.6 313.3h0M61.0 311.7h0M75.1 311.0h0M77.1 318.9h0M64.9 304.5h0M59.9 308.1h0M72.8 304.4h0M62.5 309.6h0M78.0 306.4h0M66.4 302.4h0M69.4 312.1h0M57.2 310.4h0M60.2 316.7h0M75.4 300.5h0M51.9 307.3h0M70.6 311.9h0M65.6 313.4h0M49.8 313.2h0M83.0 316.2h0M63.9 319.0h0M62.6 316.3h0M65.3 303.0h0M63.2 305.6h0M76.5 310.5h0M64.6 303.7h0M58.0 306.3h0M59.7 313.6h0M60.3 307.0h0M73.9 315.0h0M57.7 307.5h0M65.3 314.3h0M54.4 314.1h0M64.1 310.8h0M53.8 316.7h0M70.9 307.0h0M56.8 311.6h0M68.4 305.2h0M55.7 309.9h0M71.7 309.9h0M67.7 308.1h0M54.6 308.9h0M64.4 307.5h0M56.0 308.3h0M70.3 315.2h0M53.8 316.9h0M53.7 310.0h0M74.1 315.1h0M72.3 298.8h0M50.5 300.2h0M63.4 314.1h0M57.3 309.9h0M62.9 308.7h0M60.7 308.6h0M68.8 308.0h0M58.6 309.0h0M62.4 315.1h0M69.4 306.8h0M63.7 311.3h0M67.8 313.9h0M60.4 311.3h0M64.1 312.4h0M73.8 309.7h0M62.4 310.0h0M55.4 312.1h0M65.4 316.6h0M71.4 309.1h0M53.2 312.1h0M48.6 312.2h0M73.1 304.6h0M64.0 316.8h0M74.5 304.3h0M74.1 309.7h0M65.0 311.9h0M67.1 309.9h0M75.1 316.0h0M67.5 305.2h0M61.9 307.1h0M58.2 305.3h0M58.7 316.7h0M55.8 315.0h0M56.8 316.6h0M63.3 315.2h0M61.5 315.2h0M76.1 312.1h0M73.7 308.5h0M73.9 315.3h0M71.3 300.5h0M54.3 310.0h0M72.5 305.2h0M70.8 311.9h0M74.5 310.4h0M67.1 301.6h0M69.0 309.8h0M57.6 311.4h0M65.0 316.7h0M57.6 315.2h0M65.5 313.5h0M81.3 315.3h0M64.8 315.5h0M63.9 306.5h0M54.4 314.9h0M69.1 309.0h0M76.7 308.6h0M65.2 310.9h0M61.6 312.4h0M69.0 306.0h0M62.0 306.5h0M70.6 308.3h0M63.1 313.4h0M76.3 305.7h0M80.0 316.8h0M60.2 313.2h0M74.2 307.1h0M63.3 308.1h0M76.7 312.5h0M64.1 320.8h0M73.2 306.3h0M66.1 308.9h0M66.4 308.5h0M75.1 305.0h0M55.2 306.1h0M70.5 304.7h0M65.5 316.3h0M55.8 312.3h0M66.2 303.5h0M50.1 309.4h0M71.2 307.5h0M61.0 312.3h0M55.7 311.2h0M50.6 303.0h0M63.2 306.6h0M63.7 317.1h0M70.3 309.3h0M75.1 314.7h0M71.8 312.8h0M72.0 310.5h0M62.6 305.7h0M62.7 318.1h0M68.6 306.0h0M59.2 303.9h0M68.3 318.0h0M63.6 304.1h0M64.2 303.8h0M67.7 304.2h0M77.7 314.6h0M77.0 311.9h0M66.8 310.8h0M61.4 296.4h0M61.2 299.3h0M76.7 314.1h0M48.7 307.6h0M70.3 298.6h0M75.1 312.3h0M64.0 313.4h0M61.3 310.1h0M55.5 309.4h0M61.1 308.6h0M59.2 316.1h0M68.5 311.3h0M69.2 306.4h0M57.4 319.0h0M65.9 313.3h0M71.3 313.1h0M65.0 316.6h0M69.2 316.3h0M64.1 305.1h0M70.4 310.2h0M70.6 312.9h0M61.5 309.0h0M59.1 307.1h0M60.0 313.2h0M76.2 315.7h0M70.6 315.0h0M72.7 308.8h0M66.8 310.7h0M58.6 309.5h0M53.8 306.2h0M56.1 317.0h0M67.4 304.6h0M64.5 303.4h0M68.8 314.1h0M67.9 307.2h0M57.5 309.7h0M66.5 310.9h0M63.1 308.3h0M58.7 311.2h0M75.2 305.5h0M78.5 303.8h0M65.8 315.1h0M61.7 309.1h0M72.1 307.2h0M60.2 316.3h0M59.7 312.2h0M76.0 306.0h0M67.9 315.4h0M58.6 310.3h0M64.6 315.4h0M51.8 307.3h0M60.1 314.8h0M57.9 311.4h0M65.5 310.7h0M61.1 314.1h0M66.9 304.4h0M50.8 311.8h0M69.4 308.4h0M54.8 309.8h0M71.0 316.9h0M62.7 312.1h0M69.3 313.6h0M48.4 312.5h0M54.1 316.6h0M67.5 302.6h0M58.2 317.4h0M68.3 315.1h0M72.0 313.9h0M72.7 306.8h0M78.1 307.7h0M69.9 313.3h0M68.6 317.3h0M59.1 319.8h0M69.3 302.1h0M66.0 312.1h0M54.1 308.0h0M74.5 310.7h0M75.9 307.4h0M51.0 311.6h0M65.5 309.9h0M73.0 312.9h0M55.9 320.5h0M61.9 306.0h0M76.2 304.8h0M61.5 310.5h0M74.6 309.7h0M56.8 311.3h0M64.0 308.6h0M60.1 314.7h0M60.8 317.8h0M61.4 309.2h0M56.4 308.2h0M55.8 312.0h0M66.3 298.1h0M55.2 311.9h0M61.1 309.9h0M66.2 312.7h0M54.2 305.3h0M64.6 307.6h0M65.6 316.7h0M67.7 303.4h0M54.9 318.3h0M73.0 307.1h0M56.1 306.8h0M60.1 314.7h0M60.4 308.6h0M69.7 317.2h0M66.0 316.3h0M56.6 305.7h0M73.9 306.7h0" stroke="#2f5cb0" stroke-width="1.00" stroke-linecap="round"/>
<path d="M69.1 294.9h0M83.7 318.1h0M70.3 297.7h0M80.5 311.0h0M77.9 298.9h0M70.1 296.1h0M67.4 297.5h0M55.5 298.5h0M72.2 297.3h0M52.2 301.5h0M65.8 295.8h0M63.4 300.0h0M82.0 310.9h0M59.3 298.7h0M54.8 302.8h0M68.8 295.1h0M70.3 296.9h0M80.0 308.2h0M51.7 297.6h0M74.7 290.5h0M71.3 295.9h0M61.2 297.2h0M73.1 294.7h0M52.5 303.6h0M69.7 297.5h0M74.9 295.6h0M69.0 298.3h0M54.9 301.5h0M56.5 300.3h0M61.0 300.9h0" stroke="#d9452f" stroke-width="0.84" stroke-linecap="round"/>
<path d="M58.2 317.2h0M48.6 312.7h0M80.6 314.3h0M54.6 308.8h0M70.4 309.4h0M72.9 318.4h0M80.9 310.5h0M58.5 310.7h0M72.3 305.9h0M70.3 315.0h0M54.5 316.5h0M59.6 318.8h0M49.7 315.0h0M69.8 305.8h0M64.6 298.3h0M71.5 313.4h0M55.9 315.4h0M70.1 311.8h0M54.4 314.4h0M78.5 314.2h0M56.2 319.1h0M50.5 310.7h0M69.4 304.8h0M49.0 313.5h0M63.1 293.8h0" stroke="#d9452f" stroke-width="0.84" stroke-linecap="round"/>
<path d="M49.1 300.2h0M77.3 299.6h0M65.2 297.8h0M52.8 302.8h0M69.2 298.4h0M82.4 316.0h0M66.5 298.2h0M48.2 302.8h0M76.9 301.1h0M66.6 296.1h0M80.3 303.7h0M56.6 298.8h0M62.9 300.2h0M55.1 301.0h0M78.7 302.5h0" stroke="#3b9a48" stroke-width="0.84" stroke-linecap="round"/>
<rect x="26.50" y="274.50" width="69.90" height="80.80" fill="none" stroke="#231f20" stroke-width="1.1"/>
<rect x="47.20" y="281.10" width="46.20" height="40.30" fill="none" stroke="#333" stroke-width="1.0"/>
<text x="48.50" y="288.90" font-size="6.3" textLength="38.80" lengthAdjust="spacingAndGlyphs">All CD8 T-cells</text>
<line x1="87.50" y1="309.20" x2="107.93" y2="314.14" stroke="#111" stroke-width="1.1"/>
<path d="M112.3 315.2 L106.9 316.4 L108.0 311.7 Z" fill="#111"/>
<path d="M22.6 331.2 V359.8 H51.6" fill="none" stroke="#cf1f33" stroke-width="1.0"/>
<path d="M20.3 332.8 L22.6 328.2 L24.9 332.8 Z" fill="#cf1f33"/>
<path d="M50.0 357.5 L54.6 359.8 L50.0 362.1 Z" fill="#cf1f33"/>
<text x="19.30" y="346.20" font-size="7.9" text-anchor="middle" textLength="15.60" lengthAdjust="spacingAndGlyphs" transform="rotate(-90 19.30 346.20)">CD8</text>
<text x="28.40" y="369.60" font-size="7.7" textLength="15.40" lengthAdjust="spacingAndGlyphs">CD3</text>
<path d="M137.2 329.8h0M136.5 342.6h0M138.9 343.0h0M129.1 333.0h0M135.3 336.4h0M123.9 333.2h0M143.0 344.4h0M124.3 340.3h0M132.1 339.6h0M131.9 331.5h0M121.1 338.0h0M125.1 330.2h0M137.4 336.5h0M129.9 336.9h0M122.3 329.6h0M122.0 331.1h0M134.2 334.5h0M127.5 332.8h0M132.2 333.2h0M135.0 338.0h0M120.7 329.6h0M129.3 329.4h0M132.4 343.1h0M125.6 335.5h0M142.7 344.9h0M138.7 333.2h0M135.3 335.1h0M123.2 328.9h0M138.7 329.4h0M127.9 329.3h0M132.5 339.8h0M144.8 335.0h0M124.7 339.0h0M136.3 338.0h0M140.3 337.2h0M126.4 335.8h0M144.3 335.6h0M140.3 341.1h0M127.0 336.3h0M126.7 337.8h0M133.3 339.4h0M132.6 334.2h0M132.2 337.8h0M128.9 340.6h0M125.4 337.7h0M135.3 338.5h0M135.9 332.4h0M140.2 330.3h0M130.2 340.6h0M129.1 335.1h0M133.4 329.5h0M126.4 333.2h0M137.3 333.2h0M121.2 333.5h0M135.2 334.8h0M131.0 329.8h0M131.7 335.6h0M124.1 340.4h0M133.2 343.8h0M132.4 340.1h0M121.7 337.9h0M130.6 333.1h0M122.9 341.3h0M133.6 340.9h0M140.6 329.5h0M117.2 335.1h0M130.1 332.3h0M125.2 334.9h0M127.3 334.9h0M141.5 339.4h0M134.9 342.8h0M132.6 335.8h0M144.4 336.7h0M125.8 340.6h0M132.4 329.7h0M140.6 339.1h0M137.0 342.6h0M129.4 335.6h0M124.3 331.6h0M140.3 337.4h0M134.6 331.4h0M124.0 329.2h0M123.6 334.7h0M122.2 331.1h0M133.6 346.0h0M119.6 344.3h0M124.7 342.5h0M134.1 338.4h0M126.5 331.4h0M124.4 333.6h0" stroke="#a66fb3" stroke-width="0.84" stroke-linecap="round"/>
<path d="M137.4 332.7h0M137.3 336.6h0M134.0 335.6h0M140.4 336.7h0M139.1 338.8h0M137.6 338.9h0M135.2 334.6h0M140.9 331.4h0M140.8 331.8h0M141.1 333.5h0M133.4 332.2h0M141.6 334.3h0M143.8 332.4h0M135.4 330.0h0M137.0 336.1h0M144.7 334.0h0M137.0 336.4h0M134.0 336.9h0M137.8 332.7h0M134.8 335.8h0M142.0 337.2h0M137.6 340.5h0M128.4 332.7h0M141.4 335.0h0M136.5 333.0h0M136.9 334.5h0M140.3 329.1h0M137.8 334.5h0M134.6 332.1h0M140.7 343.1h0M140.0 334.9h0M140.7 330.3h0M139.2 331.7h0M138.3 332.2h0M140.3 334.7h0M138.2 332.2h0M141.0 334.4h0M137.3 330.4h0M132.1 329.9h0M141.7 332.3h0M135.0 329.6h0M144.5 332.8h0M143.6 331.4h0M138.0 336.5h0M142.1 333.2h0M137.1 333.8h0M138.2 335.4h0M135.0 341.4h0M141.1 338.9h0M139.6 332.0h0M136.7 331.7h0M142.3 337.2h0M136.7 329.7h0M140.9 334.3h0M138.5 330.6h0M132.9 335.2h0M143.6 332.4h0M134.3 335.3h0M144.7 334.8h0M135.1 333.7h0M141.0 336.3h0M135.5 337.0h0M139.5 332.0h0M143.9 329.2h0M139.7 330.3h0M143.3 335.5h0M139.6 332.5h0M131.9 330.2h0M141.9 341.4h0M139.1 329.0h0M134.1 331.2h0M134.0 336.8h0M134.7 338.7h0M143.1 333.7h0M135.7 329.3h0M142.5 338.7h0M134.3 331.6h0M133.0 333.4h0M138.2 334.3h0M137.4 332.6h0M142.3 338.6h0M140.5 334.2h0M142.6 341.6h0M139.9 328.8h0M136.6 334.0h0M142.6 336.4h0M133.7 337.3h0M138.7 333.9h0M144.6 333.3h0M136.9 330.7h0M144.3 334.1h0M139.7 331.0h0M131.4 333.1h0M139.1 333.8h0M133.6 333.1h0M144.2 329.6h0M139.7 333.1h0M144.6 340.3h0M144.3 330.4h0M135.8 334.3h0M142.4 333.1h0M139.4 332.1h0M138.4 332.7h0M136.4 330.2h0M137.4 330.9h0M138.2 332.7h0M134.1 329.9h0M136.5 331.8h0M140.4 333.8h0M135.4 337.3h0M144.0 333.8h0M137.9 331.2h0M139.8 330.2h0M144.4 331.8h0M142.3 339.6h0M136.9 334.0h0M127.6 330.8h0M139.6 337.3h0M138.5 332.0h0M142.6 334.2h0M144.7 335.2h0M140.4 330.0h0M133.7 331.9h0M136.9 330.7h0M142.5 331.7h0M140.0 334.2h0M137.1 328.8h0M132.9 330.7h0M142.9 336.8h0M141.2 330.4h0M137.4 331.1h0M141.1 335.4h0M137.9 337.8h0M134.7 335.9h0M136.4 332.0h0M139.9 332.7h0M142.7 331.1h0M133.5 336.4h0M140.2 337.8h0M135.1 329.4h0M140.3 330.6h0M133.9 336.0h0M138.6 330.5h0M138.7 332.9h0M138.3 332.2h0M140.6 330.9h0M137.3 333.3h0M134.8 335.3h0M135.0 337.8h0M139.6 338.8h0M142.4 330.7h0M135.9 336.3h0M135.7 336.8h0M141.0 333.3h0M142.2 333.2h0M136.3 331.5h0M133.9 338.7h0M142.8 330.6h0M142.3 336.5h0M140.3 330.0h0M138.2 333.3h0M141.2 329.3h0M132.8 334.2h0M144.1 333.5h0M134.7 339.0h0M136.3 331.3h0M132.8 340.7h0M133.2 329.7h0M136.8 333.6h0M134.7 333.4h0M131.1 333.9h0M142.9 339.0h0M135.2 332.2h0M133.4 336.4h0M135.1 331.2h0M139.7 336.4h0M135.7 330.2h0M135.1 334.9h0M132.5 332.8h0M138.6 335.7h0M139.4 333.7h0M139.5 334.2h0M137.4 332.7h0M143.7 332.3h0M139.0 339.7h0M136.9 336.5h0M136.1 332.1h0M136.3 332.0h0M135.2 344.4h0M134.0 336.2h0M137.5 336.3h0M137.8 331.6h0M139.2 330.6h0M139.4 334.5h0M136.3 339.5h0M140.5 329.5h0M138.2 334.9h0M140.3 331.6h0M135.8 338.1h0M137.3 335.0h0M138.2 334.3h0M138.8 332.4h0M142.7 330.2h0M138.2 332.0h0M139.2 338.4h0M141.6 329.7h0M141.3 330.2h0M128.6 329.7h0M142.7 330.4h0M140.5 332.3h0M140.0 336.1h0M137.6 337.2h0M130.0 333.8h0M139.9 337.5h0M143.6 335.5h0M140.2 336.4h0M137.5 337.1h0M137.4 331.3h0M137.0 339.8h0M133.8 334.4h0M142.0 333.1h0M127.1 330.3h0M140.8 335.3h0M143.1 331.8h0M131.8 334.9h0M139.2 334.0h0M132.4 334.1h0M143.5 329.9h0M142.8 334.6h0M144.4 338.1h0M142.6 331.9h0M139.0 331.9h0M135.5 332.0h0M136.6 329.1h0M141.4 334.9h0M142.2 329.8h0M142.3 330.5h0M140.9 331.6h0M132.0 338.0h0M140.8 339.4h0M139.2 331.0h0M138.8 332.8h0M134.8 335.6h0M138.2 331.7h0M135.6 336.1h0M141.8 332.0h0M135.6 330.6h0M142.9 329.4h0M132.6 333.0h0M141.4 332.3h0M135.4 332.5h0M142.0 330.0h0M133.4 333.0h0M132.8 333.8h0M142.2 332.8h0M139.1 335.7h0M138.9 338.7h0M140.2 334.2h0M138.6 334.0h0M134.0 330.8h0" stroke="#7d3390" stroke-width="0.90" stroke-linecap="round"/>
<path d="M152.7 329.6h0M162.4 329.9h0M166.8 337.6h0M174.1 338.6h0M164.9 335.8h0M151.7 333.5h0M151.2 336.2h0M173.1 340.6h0M179.3 336.3h0M161.0 343.1h0M149.4 339.8h0M158.2 334.1h0M171.1 342.7h0M151.3 332.7h0M157.0 336.7h0M153.2 336.0h0M153.8 335.6h0M156.7 332.3h0M164.0 339.9h0M155.4 345.1h0M159.4 336.4h0M171.7 341.1h0M163.3 335.1h0M167.3 332.0h0M148.7 346.1h0M169.9 340.1h0M170.2 334.9h0M148.4 334.6h0M166.9 331.7h0M173.9 339.9h0M170.0 339.0h0M158.2 335.5h0M171.0 345.2h0M167.1 331.0h0M162.9 344.3h0M170.6 336.4h0M159.9 345.1h0M161.1 338.7h0M155.8 331.0h0M173.3 336.6h0M164.9 329.3h0M159.1 334.1h0M160.5 341.0h0M168.0 332.3h0M169.4 335.9h0M161.1 344.3h0M175.6 342.2h0M168.5 331.9h0M166.3 339.5h0M170.4 345.1h0M177.2 336.5h0M173.9 339.9h0M180.1 341.6h0M150.2 337.8h0M159.4 340.4h0M165.1 331.5h0M165.6 332.2h0M156.7 337.9h0M168.8 343.3h0M168.4 337.5h0M166.1 333.7h0M171.4 349.0h0M176.3 329.8h0M172.0 338.0h0M180.2 335.3h0M172.8 345.8h0M153.9 336.4h0M166.3 342.9h0M151.4 336.0h0M153.0 334.1h0M167.3 342.9h0M165.2 336.0h0M155.3 334.8h0M175.4 338.8h0M181.8 329.5h0M157.4 337.2h0M168.3 332.2h0M159.8 332.6h0M169.9 332.7h0M156.3 343.5h0M169.9 331.6h0M155.7 330.6h0M170.9 330.8h0M168.8 330.9h0M171.0 332.3h0M182.6 333.5h0M162.3 339.7h0M165.4 333.1h0M158.3 334.3h0M148.6 334.8h0M173.0 337.5h0M163.3 347.0h0M162.1 331.4h0M161.5 334.2h0M178.3 339.2h0M154.7 336.4h0M164.1 343.9h0M170.8 333.8h0M175.0 341.2h0M170.2 338.0h0M167.8 336.9h0M163.8 332.1h0M171.4 333.6h0M154.9 343.9h0M163.7 332.9h0M158.4 335.8h0M164.4 332.4h0M179.0 332.8h0M155.9 345.7h0M172.5 338.5h0M166.8 335.8h0M161.8 331.0h0M149.1 342.0h0M156.8 341.4h0M159.6 332.5h0M171.9 335.4h0M164.1 346.9h0M168.8 338.0h0M165.5 341.5h0M169.8 336.7h0M157.8 332.8h0M169.4 337.9h0M170.9 330.6h0M159.1 333.8h0M151.2 339.2h0M163.4 330.6h0M173.4 336.4h0M161.3 334.7h0M161.5 339.9h0M171.7 337.7h0M169.3 339.7h0M149.3 329.9h0M177.6 338.6h0M178.2 341.1h0M149.7 337.1h0M172.3 343.1h0M156.5 345.5h0M174.1 334.8h0M158.2 334.4h0M169.6 341.0h0M171.3 338.3h0M161.8 342.6h0M165.7 336.9h0M155.4 344.2h0M159.7 346.0h0M157.4 333.1h0M163.5 338.9h0M164.2 345.1h0M175.8 332.0h0M170.6 334.0h0M153.9 330.6h0M162.8 340.5h0M163.5 337.1h0M173.3 348.6h0M153.1 330.1h0M173.5 340.2h0M174.5 342.6h0M152.0 334.2h0M162.5 343.1h0M177.9 332.3h0M159.5 332.1h0M154.4 340.7h0M166.0 336.7h0M169.0 331.2h0M153.8 344.5h0M161.9 331.8h0M151.9 332.7h0M160.5 344.3h0M168.8 334.9h0M153.9 334.9h0M161.3 332.5h0M179.8 341.3h0M161.4 336.1h0M173.6 331.6h0M175.3 337.7h0M150.8 334.5h0M148.5 333.1h0M171.5 346.5h0M176.1 347.7h0M160.5 341.0h0M149.8 335.2h0M163.6 341.3h0M151.5 344.6h0M172.4 339.0h0M160.1 337.2h0M165.8 344.7h0M154.8 334.2h0M150.6 339.2h0M166.3 331.3h0M178.8 343.6h0M172.0 340.2h0M179.4 346.4h0M169.2 332.2h0M157.4 331.3h0M168.5 338.0h0M162.5 332.1h0M161.7 342.6h0M153.1 335.9h0M169.2 332.2h0M160.2 338.5h0M169.5 343.7h0M160.6 341.4h0M170.3 337.5h0M157.2 331.4h0M171.0 332.7h0M166.2 334.7h0M155.6 340.9h0M160.5 337.8h0M153.8 336.1h0M165.9 332.3h0M179.2 345.8h0M152.7 333.1h0M169.4 341.8h0M162.9 335.4h0M169.8 330.2h0M178.0 329.8h0M153.9 346.2h0M160.7 341.8h0M166.1 342.4h0M176.5 337.1h0M165.5 338.1h0M157.6 335.3h0M165.4 335.1h0M172.3 339.5h0M164.3 342.1h0M165.3 340.1h0M159.5 340.3h0M176.6 341.2h0M172.3 339.6h0M178.6 343.2h0M161.3 338.6h0M162.7 331.9h0M162.1 341.7h0M162.1 342.8h0M168.9 339.9h0M154.9 332.5h0M174.9 341.0h0M153.1 339.5h0M154.2 347.3h0M148.7 338.5h0M160.0 330.0h0M169.5 341.0h0M162.1 330.4h0M170.6 341.1h0M164.7 332.3h0M164.6 344.9h0M162.4 341.3h0M157.1 335.0h0M158.6 339.6h0M157.9 334.3h0M171.6 332.3h0M161.8 336.3h0M153.9 340.9h0M164.9 339.9h0M160.1 349.0h0M156.9 345.5h0M175.0 330.2h0M177.4 332.3h0M173.1 337.3h0M165.0 329.3h0M156.1 335.9h0M171.5 337.9h0M154.7 339.3h0M166.1 332.9h0M166.8 341.0h0M164.9 333.4h0M167.9 334.7h0M166.7 341.2h0M172.0 334.8h0M165.4 339.5h0M162.8 334.9h0M179.6 346.7h0M157.5 331.0h0M181.2 340.4h0M173.7 335.7h0M169.6 338.6h0M169.8 335.9h0M174.6 338.6h0M159.3 337.5h0M168.2 342.5h0M173.2 341.2h0M157.8 339.4h0M179.0 333.4h0M149.5 334.1h0M180.0 338.8h0M169.7 342.1h0M170.9 345.8h0M166.0 339.3h0M167.2 342.4h0M164.0 341.8h0M171.5 332.9h0M169.3 336.4h0M165.3 335.6h0M166.4 337.7h0M150.7 330.4h0M164.5 331.2h0M172.7 337.5h0M168.5 336.4h0M160.8 338.6h0M149.4 338.3h0" stroke="#85a7dc" stroke-width="0.90" stroke-linecap="round"/>
<path d="M172.7 336.6h0M170.6 333.5h0M174.6 336.5h0M148.8 330.6h0M153.7 330.9h0M179.9 330.1h0M163.2 330.3h0M165.1 331.2h0M159.0 336.3h0M173.8 342.7h0M163.9 330.2h0M156.2 336.2h0M160.4 331.3h0M154.0 332.7h0M169.9 329.2h0M168.2 331.6h0M169.1 328.9h0M159.3 329.2h0M164.6 330.6h0M154.4 332.2h0M172.2 336.2h0M165.1 331.9h0M168.0 334.6h0M158.0 333.4h0M162.8 336.1h0M167.8 329.3h0M155.2 339.9h0M158.1 331.0h0M169.5 332.4h0M152.5 339.8h0M177.4 333.2h0M151.3 334.8h0M168.3 332.3h0M173.0 340.3h0M163.4 332.4h0M166.8 333.9h0M163.6 339.7h0M173.6 338.3h0M154.4 335.4h0M155.5 334.6h0M176.9 337.2h0M167.5 336.9h0M162.0 332.8h0M163.8 329.3h0M166.6 333.6h0M168.2 329.5h0M166.2 331.1h0M165.0 330.9h0M163.2 336.7h0M168.4 334.8h0M170.8 334.0h0M159.0 332.5h0M154.3 336.1h0M169.5 337.4h0M170.9 335.6h0M179.7 334.0h0M174.7 335.5h0M166.6 338.9h0M164.4 333.7h0M167.6 333.3h0M161.0 332.9h0M168.8 338.5h0M165.2 334.7h0M169.6 329.2h0M157.1 333.5h0M162.4 328.8h0M174.1 335.1h0M164.7 334.1h0M159.1 336.7h0M164.8 334.8h0M164.7 331.8h0M161.3 333.2h0M175.9 332.5h0M159.0 330.3h0M172.0 339.1h0M170.1 334.9h0M161.5 335.2h0M168.0 341.3h0M161.1 336.8h0M178.0 329.1h0M164.0 335.9h0M168.4 334.5h0M177.4 338.3h0M157.3 330.0h0M157.9 332.1h0M171.1 333.9h0M172.7 335.6h0M154.4 331.5h0M180.7 330.8h0M171.3 335.8h0M165.4 329.2h0M180.3 333.0h0M164.3 333.1h0M161.3 330.1h0M170.0 329.6h0M150.7 331.8h0M174.0 329.8h0M180.9 338.2h0M164.1 338.2h0M162.9 332.8h0M168.6 332.8h0M162.6 332.0h0M156.1 335.6h0M153.6 328.8h0M177.5 330.4h0M165.3 333.2h0M163.8 335.8h0M163.1 333.1h0M159.1 332.3h0M164.8 337.1h0M162.0 330.5h0M162.8 338.4h0M161.4 340.8h0M174.8 333.1h0M164.2 333.5h0M158.3 335.4h0M169.1 331.7h0M161.2 335.2h0M154.4 330.6h0M157.0 335.4h0M175.2 329.1h0M160.5 335.4h0M166.3 330.1h0M159.8 337.5h0M165.0 334.4h0M158.1 328.9h0M174.2 333.7h0M155.3 334.5h0M162.9 337.9h0M172.4 329.1h0M159.2 332.9h0M161.2 335.3h0M162.9 340.4h0M160.7 330.7h0M160.8 330.3h0M157.8 334.8h0M164.5 331.6h0M153.4 335.2h0M176.1 332.3h0M165.1 337.9h0M164.5 336.6h0M161.6 329.7h0M170.8 338.3h0M166.4 333.2h0M164.2 334.4h0M167.0 331.1h0M175.9 341.6h0M153.3 334.2h0M170.0 343.1h0M161.5 340.2h0M177.1 335.2h0M166.5 340.5h0M150.8 332.1h0M157.3 335.1h0M165.7 334.5h0M169.1 342.1h0M177.0 333.5h0M163.1 338.7h0M168.3 337.4h0M165.7 334.7h0M151.2 338.0h0M168.1 328.8h0M158.1 332.8h0M165.6 330.9h0M167.6 338.5h0M166.2 332.8h0M180.5 337.8h0M162.1 333.0h0M160.4 332.4h0M162.0 329.4h0M170.5 331.4h0M158.2 330.8h0M156.8 332.5h0M163.4 329.3h0M172.6 334.0h0M171.8 333.5h0M162.6 337.1h0M160.8 334.5h0M153.2 341.4h0M169.8 329.5h0M168.2 332.5h0M168.1 331.2h0M164.6 337.5h0M171.4 333.7h0M170.0 333.6h0M167.6 328.9h0M163.5 339.1h0M166.1 334.9h0M177.8 337.9h0M179.8 337.6h0M169.3 333.4h0M152.2 334.4h0M167.2 333.8h0M168.9 333.2h0M178.9 331.5h0M163.7 335.4h0M168.9 335.9h0M166.4 334.1h0M161.3 339.9h0M157.1 332.2h0M154.5 337.2h0M162.7 332.9h0M154.4 339.8h0M160.3 337.8h0M165.5 333.1h0M164.0 330.1h0M169.4 336.0h0M163.5 329.3h0M157.3 336.4h0M160.8 331.9h0M172.2 334.1h0M167.8 332.6h0M166.2 331.2h0M176.1 332.5h0M160.3 331.6h0M167.4 330.6h0M178.0 334.8h0M170.4 333.7h0M156.9 331.2h0M169.7 333.8h0M158.5 335.4h0M176.7 332.0h0M161.7 334.6h0M159.0 333.7h0M160.3 330.8h0M161.4 339.0h0M175.4 338.6h0M157.3 332.0h0M171.9 339.4h0M153.4 336.8h0M161.3 331.2h0M172.6 341.7h0M174.8 329.6h0M167.8 335.3h0M157.2 339.7h0M164.5 337.7h0M164.1 331.0h0M161.7 335.8h0M169.4 338.4h0M171.5 332.2h0M175.4 335.6h0M163.6 334.1h0M162.2 329.2h0M167.0 331.1h0M164.5 332.2h0M154.6 332.5h0M167.8 329.1h0M170.8 330.6h0M174.7 340.0h0M167.3 329.1h0M164.5 341.2h0M163.5 335.0h0M165.6 331.5h0M168.0 339.0h0M162.7 331.8h0M174.0 330.8h0M159.6 330.9h0M165.7 335.5h0M155.0 345.1h0M165.2 329.2h0M175.5 328.8h0M162.6 337.9h0M169.9 340.3h0M166.5 336.2h0M159.1 332.6h0M177.7 335.0h0M165.1 328.9h0M173.0 341.5h0M168.5 339.7h0M169.3 329.8h0M171.1 330.7h0M167.5 338.6h0M166.6 333.7h0M155.2 330.7h0M171.8 336.4h0M167.0 330.1h0M156.5 329.3h0M166.5 331.5h0M152.9 333.1h0M162.9 332.7h0M165.1 335.6h0M169.6 329.8h0M158.5 332.5h0M164.5 335.2h0M151.2 330.8h0M164.8 334.2h0M163.0 330.5h0M161.8 329.1h0M163.5 335.7h0M166.6 333.7h0M160.8 341.6h0M153.2 335.0h0M167.6 336.3h0M161.0 335.1h0M157.4 332.1h0M174.6 333.0h0M177.3 335.9h0M158.5 333.9h0M158.0 333.7h0M157.6 335.5h0M161.9 340.2h0M159.8 330.4h0M154.9 332.0h0M163.7 331.4h0M168.3 329.1h0M154.5 334.6h0M156.9 335.5h0M178.0 334.6h0M161.8 331.1h0M157.4 339.0h0M171.1 335.2h0M162.8 330.3h0M161.0 330.2h0M159.9 333.7h0M152.7 341.4h0M153.2 330.0h0M165.4 332.6h0M163.2 331.1h0M170.6 329.6h0M169.3 330.9h0M174.2 337.3h0M172.8 342.3h0M164.4 331.1h0M167.0 331.4h0M168.6 330.7h0M166.4 342.5h0M153.0 333.1h0M156.3 333.9h0M150.5 333.8h0M169.8 329.9h0M172.5 336.6h0M163.5 339.4h0M165.2 333.8h0M167.7 332.4h0M151.1 335.2h0M167.1 339.4h0M169.3 334.1h0M158.7 333.9h0M157.4 337.2h0M179.0 329.4h0M167.0 330.4h0M178.1 331.0h0M163.5 334.9h0M175.4 331.2h0M162.8 340.9h0M180.1 333.0h0M163.1 337.8h0M162.2 332.2h0M169.3 337.3h0M170.9 338.2h0M153.9 331.0h0M163.2 329.9h0M161.1 334.4h0M167.5 342.6h0M170.1 330.4h0M165.1 333.4h0M159.0 338.9h0M154.8 329.0h0M175.3 331.6h0M155.6 335.8h0M157.8 329.1h0M154.6 333.6h0M158.4 334.2h0M174.5 330.6h0M177.3 336.3h0M180.5 330.7h0M175.1 333.3h0M179.3 336.9h0M155.5 334.7h0M159.1 332.1h0M165.6 335.3h0M165.9 334.1h0M166.6 331.1h0M165.8 337.3h0M175.4 335.4h0M170.0 341.3h0M160.3 330.8h0M171.4 332.3h0M170.3 331.3h0M172.4 336.9h0M171.2 330.4h0M172.8 335.2h0M169.9 331.0h0M176.1 329.8h0M170.9 335.9h0M169.8 338.2h0M174.7 334.1h0M164.4 335.7h0M160.7 330.3h0M169.9 330.9h0M159.6 335.8h0M176.4 334.9h0M160.4 334.6h0M173.6 332.8h0M167.0 332.6h0M166.4 333.4h0M160.3 331.2h0M160.0 329.0h0M171.4 340.4h0M160.8 335.3h0M178.1 329.5h0M164.2 332.1h0M170.9 329.2h0M157.3 329.0h0M154.4 331.7h0M156.1 332.1h0M166.8 333.3h0M170.0 332.5h0M165.7 329.1h0M160.0 330.2h0M180.3 336.2h0M161.8 334.5h0M168.9 339.4h0M165.6 338.7h0M162.7 332.7h0M175.3 329.7h0M179.6 329.8h0M164.2 330.4h0M167.3 336.4h0M175.8 336.2h0M158.6 344.2h0M155.4 336.8h0M160.3 331.7h0M159.7 331.1h0M153.7 332.0h0M171.2 334.4h0M173.5 334.2h0M161.9 332.0h0M160.8 329.8h0M161.7 339.3h0M169.2 333.5h0M150.0 333.2h0M158.4 332.6h0M153.8 343.6h0M163.1 331.9h0M170.3 335.8h0M167.3 333.5h0M152.1 333.0h0M155.1 335.1h0M165.4 330.3h0M163.9 339.9h0M159.7 333.5h0M171.3 338.2h0M159.1 334.2h0M177.3 336.5h0M170.8 338.0h0M172.2 342.0h0M168.2 336.2h0M172.3 334.3h0M151.0 336.4h0M158.5 339.6h0M152.9 337.4h0M151.5 339.0h0M173.0 335.6h0M173.3 330.0h0M156.3 339.7h0M162.3 336.0h0M159.1 341.2h0M163.3 340.9h0M173.3 329.6h0M159.7 331.2h0M152.3 329.4h0M160.5 336.3h0M167.8 333.2h0M172.6 332.5h0M166.1 333.1h0M154.3 336.5h0M175.4 339.4h0M161.9 342.0h0M166.9 337.3h0M164.0 334.0h0M168.5 337.3h0M162.6 335.1h0M170.7 337.5h0M179.4 329.7h0M171.9 329.9h0M163.1 331.0h0M150.2 330.8h0M163.2 340.5h0M164.1 331.0h0M170.2 336.1h0M165.3 335.5h0M153.1 329.9h0M159.6 340.8h0M180.4 339.8h0M176.5 331.2h0M179.7 339.5h0M166.8 331.0h0M162.7 336.5h0M171.7 333.5h0M175.7 336.5h0M169.4 334.4h0M153.9 335.3h0M169.2 336.0h0M174.8 331.1h0M165.3 329.7h0M165.1 330.0h0M158.5 334.3h0M162.3 333.7h0M166.4 332.6h0M163.0 329.5h0M168.9 337.1h0M163.2 339.5h0M167.1 338.0h0M155.1 333.2h0M153.6 336.0h0M163.1 339.2h0M170.0 330.7h0M177.5 338.9h0M153.5 334.5h0M153.7 329.8h0M164.0 332.2h0M172.5 341.8h0M168.1 337.3h0M179.1 334.3h0M178.8 338.2h0M172.0 331.9h0M162.7 332.7h0M162.9 336.2h0M169.6 338.2h0M167.7 333.0h0M174.3 335.7h0M154.3 338.3h0M163.7 329.2h0M161.7 329.3h0M164.4 329.0h0M156.6 330.9h0M172.1 333.2h0M166.2 334.9h0M168.3 331.6h0M171.0 336.0h0M165.3 339.2h0M167.5 334.3h0M166.1 333.4h0M172.5 336.7h0M180.8 330.1h0M166.3 337.5h0M160.0 329.0h0M169.3 328.9h0M171.4 334.8h0M170.8 333.0h0M161.4 336.4h0M167.4 331.5h0M167.3 330.4h0M163.4 339.7h0M160.6 329.1h0M174.7 335.5h0M166.9 341.8h0M171.4 331.5h0M172.2 331.7h0M162.4 337.2h0M155.3 335.1h0M161.9 330.3h0M170.4 329.1h0M163.3 332.1h0M165.9 340.4h0M155.3 332.2h0M171.2 344.9h0M165.8 337.4h0M170.5 329.8h0M168.6 338.1h0M169.8 332.1h0M156.5 329.3h0M178.3 330.2h0M174.3 330.2h0M175.9 329.3h0M154.9 334.2h0M171.4 330.3h0M164.9 330.0h0M157.9 337.0h0M176.9 335.0h0M171.7 332.9h0M165.1 329.5h0M169.9 334.2h0M172.4 335.0h0M163.8 333.4h0M153.4 333.0h0M153.5 333.9h0M154.4 331.5h0M166.3 331.3h0M166.6 332.0h0M152.3 329.7h0M164.0 332.6h0M154.4 337.1h0M166.5 329.4h0M177.9 332.5h0M173.8 330.9h0M158.6 335.0h0M175.5 342.5h0M161.3 333.5h0M154.8 330.8h0M174.8 336.2h0M164.1 342.4h0M154.4 333.7h0M156.4 330.6h0M167.6 329.0h0M164.2 331.9h0M162.2 333.3h0M150.3 334.2h0M179.4 332.4h0M152.5 335.7h0M160.4 331.3h0M163.0 338.0h0M160.9 330.3h0M168.8 330.3h0M164.3 336.4h0M165.9 335.4h0M166.4 339.5h0M166.4 334.1h0M161.8 336.2h0M177.5 331.8h0M169.7 339.5h0M159.0 336.7h0M156.6 331.2h0M175.1 332.5h0M157.4 330.9h0M170.9 336.9h0M152.7 330.4h0M151.5 337.1h0M176.9 332.5h0M164.2 331.9h0M171.3 335.6h0M170.9 329.7h0M172.5 341.3h0M171.2 336.7h0M163.5 331.6h0M163.8 330.3h0M171.4 339.4h0M160.8 334.4h0M159.4 331.9h0M174.3 337.2h0M156.0 334.3h0M163.6 334.6h0M166.0 335.2h0M157.4 334.8h0M151.8 330.7h0M156.8 330.9h0M168.1 338.1h0M160.7 338.6h0M161.9 332.4h0M154.8 331.3h0M170.7 335.9h0M151.9 330.5h0M173.3 332.1h0M158.6 330.2h0M174.7 334.6h0M175.3 332.8h0M168.6 338.9h0M155.7 331.6h0M171.2 335.2h0M168.2 333.2h0M162.3 332.7h0M178.8 333.5h0M162.6 338.2h0M160.3 337.8h0M154.4 330.9h0M155.7 329.1h0M172.9 334.6h0M162.1 334.4h0M163.4 331.7h0M166.9 336.0h0M169.6 332.8h0M178.2 332.9h0M154.1 339.1h0M166.1 333.5h0M163.2 335.1h0M178.3 335.0h0M175.0 339.2h0M172.9 336.5h0M172.0 335.6h0M159.1 335.3h0M175.6 331.9h0M161.7 339.0h0M173.8 334.0h0M175.0 334.6h0M164.3 333.2h0M162.8 335.1h0M164.9 332.1h0M165.5 330.4h0M173.9 341.9h0M169.1 338.1h0M174.1 333.1h0M165.1 340.0h0M168.1 336.1h0M150.2 333.4h0M174.6 330.0h0M161.4 334.4h0M165.9 335.7h0M154.2 336.4h0M150.3 337.1h0M170.5 338.6h0M162.6 333.5h0M157.8 338.3h0M163.7 332.6h0M155.8 330.9h0M149.5 331.6h0M158.8 333.1h0M150.4 331.8h0M169.7 331.4h0M163.9 329.0h0M161.0 333.6h0M160.9 336.4h0M154.9 331.3h0M169.3 337.5h0M150.5 334.7h0M161.3 332.8h0M165.4 332.3h0M168.7 332.0h0M171.8 335.3h0M150.3 335.2h0M153.0 329.1h0M171.1 334.6h0M166.2 333.1h0M167.6 335.4h0M166.8 331.1h0M171.1 335.5h0M166.7 329.2h0M166.3 331.0h0M165.4 337.1h0M169.3 332.8h0M166.0 333.3h0M164.0 331.3h0M169.6 330.9h0M165.3 334.6h0M163.6 333.6h0M176.1 334.8h0M166.1 331.0h0M158.5 333.4h0M166.5 338.1h0M157.3 338.0h0M163.6 333.6h0M172.3 336.3h0M168.6 329.9h0M164.8 332.1h0M174.1 329.3h0M175.1 333.6h0M160.1 333.5h0M174.7 332.3h0M173.3 331.2h0M160.4 336.0h0M170.2 333.1h0M153.0 337.2h0M153.0 332.0h0M169.0 333.6h0M153.8 334.1h0M168.5 335.2h0M163.6 330.1h0M158.7 336.7h0M166.8 333.3h0M168.0 336.0h0M168.3 337.1h0M154.3 337.7h0M171.7 330.6h0M170.2 330.0h0M167.9 331.2h0M154.9 336.4h0M163.5 340.3h0M152.8 334.9h0M158.4 330.1h0M168.5 335.7h0M166.9 331.3h0M172.8 334.8h0M160.3 330.5h0M179.5 329.1h0M156.4 329.0h0M168.2 334.2h0M166.9 329.0h0M157.8 331.5h0M168.0 330.0h0M165.7 335.7h0M176.9 337.8h0M173.9 337.3h0M153.8 330.5h0M164.4 332.9h0M175.2 335.4h0M171.1 334.6h0M152.5 338.4h0M167.7 332.7h0M170.3 336.6h0M167.1 330.0h0M175.2 335.1h0M178.4 331.9h0M155.9 334.5h0M161.7 335.6h0M173.7 329.2h0M167.8 335.3h0M180.0 333.5h0M168.7 331.7h0M161.4 330.6h0M160.5 335.6h0M166.1 339.1h0M153.7 330.9h0M163.6 338.2h0M157.8 335.1h0M174.4 337.8h0M162.2 332.5h0M173.2 332.2h0M170.7 333.3h0M173.6 334.9h0M169.1 331.6h0M169.9 332.5h0M166.5 331.8h0M149.3 332.9h0M168.9 334.9h0M163.9 338.1h0M168.9 330.4h0M156.7 338.0h0M161.9 330.7h0M155.7 330.3h0M170.7 335.4h0M164.7 336.5h0M173.5 336.5h0M150.3 332.9h0M161.7 340.6h0M178.5 334.8h0M157.9 337.5h0M164.1 330.7h0M174.6 334.1h0M165.7 330.0h0M159.3 340.7h0M176.7 331.4h0M164.2 333.3h0M167.8 334.3h0M168.4 334.7h0M167.8 343.6h0M168.2 338.6h0M165.4 330.0h0M176.7 331.1h0M162.9 330.4h0M160.5 329.1h0M164.4 333.9h0M166.7 338.4h0M178.8 329.7h0M163.3 332.7h0M158.4 341.2h0M161.7 334.3h0M158.9 330.3h0M164.0 332.8h0M168.3 329.1h0M173.7 336.6h0M168.7 331.2h0M175.3 333.1h0M170.8 335.1h0M155.9 334.1h0M150.8 336.3h0M172.0 336.2h0M162.8 338.7h0M174.9 337.5h0M167.8 332.0h0M163.7 330.6h0M163.7 340.4h0M160.4 338.2h0M164.7 337.8h0M160.2 331.7h0M162.9 331.1h0M167.3 331.9h0M166.2 333.2h0M179.4 332.6h0M172.2 340.3h0M157.2 334.3h0M166.3 335.3h0M152.9 330.7h0M177.2 330.8h0M166.0 334.5h0M169.1 341.9h0M163.6 336.4h0M154.5 332.6h0M161.2 334.1h0M175.7 332.9h0M170.2 336.1h0M169.2 335.2h0M159.9 337.3h0M165.8 330.1h0M149.8 342.2h0M166.5 336.2h0M173.1 332.6h0M158.4 336.1h0M167.6 340.6h0M163.7 332.1h0M153.7 331.1h0M164.5 333.6h0M175.6 330.9h0M168.9 332.7h0M157.6 331.9h0M164.5 331.9h0M166.2 334.9h0M155.9 331.5h0M169.0 329.4h0M174.5 329.7h0M167.1 333.0h0M163.9 330.5h0M165.6 333.0h0M167.2 333.5h0M158.7 335.8h0M161.7 333.8h0M176.3 339.0h0M159.0 336.8h0M166.7 344.6h0M173.1 330.6h0M168.0 334.6h0M166.4 329.3h0M166.1 336.8h0M172.3 331.2h0M171.1 335.3h0M168.2 330.7h0M151.7 334.0h0M171.2 338.4h0M166.4 336.8h0M153.1 338.5h0M179.2 330.1h0M157.0 334.0h0M172.2 331.6h0M174.8 333.0h0M172.1 329.8h0M170.9 329.1h0M172.3 333.5h0M161.9 331.2h0M168.0 331.8h0M161.2 328.9h0M160.4 333.1h0M162.1 340.1h0M174.8 335.0h0M165.6 330.8h0M162.9 330.5h0M160.9 338.5h0M168.8 332.5h0M163.5 332.1h0M156.5 337.9h0M176.2 330.7h0M166.9 332.9h0M166.2 333.7h0M168.1 334.0h0M148.8 335.9h0M163.8 335.4h0M154.5 335.2h0M174.1 341.3h0M177.1 330.7h0M169.6 335.7h0M156.7 332.6h0M160.8 330.6h0M176.5 333.8h0M164.9 335.1h0M164.2 337.8h0M156.4 330.3h0M159.7 329.2h0M161.6 332.3h0M167.2 332.1h0M161.0 329.9h0M176.8 334.0h0M154.8 332.4h0M168.0 335.3h0M164.9 334.4h0M163.2 330.7h0M162.0 331.6h0M169.7 338.7h0M163.9 333.9h0M151.3 343.9h0M165.9 332.9h0M165.3 330.8h0M159.4 333.5h0M157.0 332.7h0M167.6 330.9h0M161.9 331.8h0M171.1 330.8h0M159.5 335.2h0M174.7 329.1h0M175.1 337.2h0M168.3 336.7h0M169.3 338.0h0M167.6 336.1h0M174.2 332.1h0M158.8 336.6h0M176.7 329.3h0M169.8 335.5h0M163.0 333.6h0M169.4 338.0h0M169.5 329.3h0M154.2 330.5h0M178.7 335.9h0M155.9 332.6h0M168.3 329.9h0M155.5 332.4h0M168.3 337.4h0M156.4 329.6h0M170.4 333.6h0M154.2 333.0h0M161.8 335.8h0M173.0 334.3h0M165.5 332.7h0M166.8 332.3h0M157.1 331.0h0M165.9 335.6h0M169.5 338.4h0M162.9 335.4h0M158.1 344.7h0M149.9 330.3h0M162.7 333.6h0M173.6 338.4h0M156.8 334.4h0M162.0 329.1h0" stroke="#3a6dc4" stroke-width="1.10" stroke-linecap="round"/>
<path d="M170.4 314.1h0M154.4 321.3h0M153.1 318.6h0M162.1 320.7h0M171.9 316.8h0M161.0 325.2h0M166.2 322.6h0M158.8 316.3h0M169.5 319.6h0M154.1 313.9h0M154.7 318.5h0M158.9 320.4h0M175.2 323.2h0M173.2 323.5h0M177.0 320.4h0M179.5 313.1h0M167.2 322.6h0M151.9 321.0h0M174.6 322.0h0M158.5 319.7h0M160.5 318.6h0M180.3 319.9h0M172.7 322.5h0M173.8 321.5h0M178.5 319.4h0M173.2 323.1h0M157.2 320.7h0M174.2 317.7h0M174.5 319.1h0M156.2 321.1h0M150.0 313.6h0M176.3 314.9h0M155.4 318.9h0M171.1 321.3h0M172.5 323.2h0M166.1 319.0h0M173.4 321.7h0M167.1 317.3h0M172.5 311.4h0M152.9 319.4h0M162.7 323.1h0M179.7 313.9h0M168.7 319.8h0M180.4 324.9h0M179.8 319.5h0M173.1 320.5h0M176.7 322.0h0M158.7 317.2h0M167.6 315.3h0M158.0 319.5h0M160.6 317.5h0M162.3 319.6h0M172.8 321.1h0M168.5 320.0h0M172.5 318.0h0M177.3 321.3h0M171.4 317.9h0M159.8 321.5h0M170.8 321.4h0M175.7 318.6h0M166.4 321.3h0M167.8 311.2h0M163.9 320.7h0M173.6 314.0h0M150.6 321.9h0M163.2 316.8h0M161.5 319.4h0M168.3 322.1h0M163.8 316.0h0M169.7 315.4h0M167.0 318.5h0M159.9 323.6h0M160.0 322.7h0M173.5 323.4h0M150.9 320.4h0M168.2 320.2h0M171.1 320.4h0M168.5 316.4h0M179.5 325.0h0M157.0 319.8h0M162.5 320.4h0M159.0 320.6h0M171.3 319.0h0M149.3 323.7h0M158.4 323.6h0M155.1 317.5h0M170.6 319.6h0M161.2 324.3h0M167.8 318.4h0M167.6 319.1h0" stroke="#63ad67" stroke-width="0.90" stroke-linecap="round"/>
<path d="M172.0 325.1h0M164.8 323.2h0M174.4 322.6h0M177.7 324.7h0M174.0 325.2h0M176.9 321.1h0M176.6 322.7h0M174.7 319.1h0M170.5 318.0h0M170.0 321.6h0M174.5 321.9h0M173.4 318.5h0M171.0 321.7h0M175.1 320.6h0M177.0 319.3h0M178.4 319.1h0M177.1 322.3h0M170.7 322.9h0M175.1 319.6h0M176.5 318.5h0M173.4 320.8h0M166.1 321.3h0M174.6 321.3h0M172.2 324.9h0M175.6 322.1h0M171.1 319.3h0M174.0 324.1h0M176.7 322.2h0M169.3 320.5h0M174.4 324.9h0M164.8 319.5h0M171.8 324.8h0M177.5 323.7h0M174.4 321.8h0M171.3 322.6h0M178.7 322.5h0M175.9 318.9h0M176.9 319.8h0M168.2 322.7h0M177.1 316.9h0M167.7 323.1h0M177.9 322.8h0M177.6 323.4h0M171.7 323.5h0M175.7 322.4h0M176.2 322.0h0M174.5 318.3h0M173.0 319.6h0M174.0 319.7h0M169.2 323.1h0M180.1 320.7h0M170.7 323.7h0M175.8 322.6h0M177.2 322.0h0M178.6 322.9h0M173.4 322.7h0M178.9 325.3h0M173.1 318.2h0M169.6 318.1h0M175.2 320.7h0M173.9 319.6h0M174.6 319.9h0M173.2 323.9h0M173.8 323.4h0M169.1 317.0h0M176.4 321.5h0M172.0 317.0h0M172.4 321.3h0M175.9 318.2h0M167.6 321.2h0M173.1 323.3h0M173.7 321.9h0M171.8 318.4h0M174.1 320.6h0M176.6 321.6h0M173.3 324.2h0M174.2 317.8h0M165.7 319.8h0M167.4 322.3h0M173.7 320.3h0M168.6 322.4h0M177.4 320.8h0M175.7 321.5h0M171.6 324.2h0M172.3 320.6h0M173.7 322.8h0M175.3 323.3h0M176.1 323.6h0M177.6 321.2h0M169.9 317.7h0M180.0 317.6h0M175.0 321.1h0M179.4 319.4h0M172.6 324.1h0M177.3 320.5h0M178.7 318.7h0M166.8 320.8h0M179.2 319.0h0M171.1 319.4h0M168.5 321.3h0M180.6 324.4h0M176.3 321.9h0M166.2 322.9h0M164.0 320.8h0M177.5 319.9h0M169.0 321.8h0M171.0 321.9h0M169.1 325.1h0M174.7 318.2h0M173.2 319.1h0M169.0 319.3h0M168.4 322.9h0M172.4 319.5h0M171.6 321.3h0M172.4 317.1h0M180.9 320.7h0M173.8 324.1h0M172.9 319.7h0M173.3 316.5h0M178.9 318.9h0M172.1 319.2h0M167.9 318.6h0M169.0 314.5h0M170.8 320.4h0M175.4 319.2h0M170.8 322.1h0M176.4 323.4h0M173.0 322.6h0M167.9 324.2h0M172.0 316.1h0M174.3 322.5h0M175.3 323.4h0M175.1 323.2h0M172.6 324.4h0M180.9 324.8h0M173.5 322.5h0M171.2 321.0h0M173.9 324.8h0M172.9 324.1h0M168.9 320.1h0M169.2 320.0h0M174.0 321.5h0M170.2 320.9h0M173.3 323.2h0M172.7 324.1h0M174.5 323.9h0M178.9 321.1h0M178.9 321.3h0M171.4 322.1h0M180.4 321.9h0M175.2 319.7h0M173.7 324.0h0M171.6 322.6h0M169.0 319.9h0M175.8 323.4h0M172.7 318.0h0M171.6 323.7h0M178.3 319.3h0M166.5 322.2h0M173.9 320.4h0M163.4 323.4h0M175.9 321.2h0M175.3 323.6h0M173.6 320.5h0M173.2 320.2h0M174.5 320.2h0M178.0 325.3h0M178.2 321.8h0M170.4 323.0h0M176.6 322.4h0M171.2 320.7h0M179.0 321.5h0M177.3 323.1h0M172.0 323.0h0M172.4 323.9h0M173.6 321.1h0M172.4 320.3h0M168.9 320.1h0M176.0 322.7h0M173.4 320.8h0M176.8 319.1h0M172.1 318.3h0M174.5 325.0h0M168.9 319.2h0M178.2 320.4h0M177.6 321.3h0M173.4 320.6h0M173.7 319.9h0M175.2 320.2h0M173.4 323.2h0M173.7 318.4h0M174.3 322.8h0M172.6 322.8h0M178.5 321.0h0M174.3 321.3h0M174.8 318.7h0M173.5 323.3h0M177.7 324.9h0M171.5 316.2h0M174.9 320.8h0M177.8 319.1h0M173.9 318.9h0M173.6 325.2h0M178.0 322.9h0M177.0 322.5h0M173.2 325.1h0M177.8 322.2h0M177.7 322.6h0M178.3 318.0h0M170.6 320.7h0M174.6 320.7h0M175.0 320.4h0M171.6 320.9h0M170.2 323.5h0M168.9 324.0h0M173.0 320.0h0M180.5 320.9h0M169.2 320.7h0M177.9 322.8h0M175.5 322.9h0" stroke="#2b8439" stroke-width="1.00" stroke-linecap="round"/>
<path d="M159.9 325.6h0M172.4 326.9h0M166.8 327.0h0M158.6 326.3h0M161.5 326.5h0M165.6 326.0h0M170.7 327.2h0M147.0 325.7h0M158.7 326.3h0M155.5 326.2h0M141.4 326.9h0M141.3 326.7h0M158.5 326.1h0M156.5 326.7h0M163.4 326.7h0M167.8 325.7h0M148.8 325.6h0M149.1 326.6h0M162.7 326.4h0M142.4 326.9h0M156.5 327.1h0M140.6 325.5h0M171.6 326.8h0M160.3 327.1h0M175.0 326.4h0M150.5 327.2h0M163.9 326.1h0M168.3 326.2h0M168.9 326.6h0M146.5 326.6h0M155.7 326.5h0M159.6 326.8h0M164.3 326.8h0M152.4 327.2h0M165.9 326.8h0M160.8 326.6h0M151.2 326.0h0M163.7 327.2h0M162.6 326.3h0M159.7 326.7h0M148.3 326.7h0M177.4 326.3h0M147.3 326.4h0M158.2 326.4h0M162.5 326.4h0M160.4 326.7h0M142.9 326.0h0M145.6 326.0h0M167.0 326.3h0M171.7 327.2h0M153.1 326.1h0M152.0 327.1h0M135.3 326.3h0M175.0 326.3h0M165.8 327.1h0M160.9 326.9h0M163.4 326.8h0M142.0 327.2h0M172.0 326.4h0M146.1 326.7h0M158.1 326.9h0M158.3 326.6h0M147.4 327.1h0M155.8 327.1h0M160.9 325.9h0M163.5 326.9h0M156.0 326.6h0M152.5 326.6h0M162.1 326.4h0M153.1 327.0h0M147.1 326.4h0M177.4 327.0h0M152.8 326.3h0M142.9 327.0h0M163.5 327.6h0M157.8 326.9h0M164.5 326.3h0M176.0 327.1h0M171.1 326.3h0M156.6 326.4h0M159.9 326.9h0M158.3 325.9h0M167.4 326.8h0M155.7 327.0h0M150.3 326.5h0M167.0 327.1h0M162.0 326.4h0M162.6 326.6h0M153.7 327.2h0M141.8 326.6h0M175.7 325.4h0M172.9 327.0h0M158.7 325.6h0M163.7 326.4h0M157.3 326.9h0M157.9 326.3h0M154.3 327.1h0M172.0 326.8h0M166.6 327.1h0M160.2 327.1h0M153.9 327.2h0M138.7 327.2h0M144.9 326.5h0M169.8 327.4h0M169.1 326.8h0M165.4 326.8h0M155.7 326.7h0M170.7 326.6h0M168.7 326.9h0M158.1 326.7h0" stroke="#d2481f" stroke-width="1.00" stroke-linecap="round"/>
<path d="M143.4 325.0h0M137.4 323.0h0M138.4 323.3h0M136.5 323.1h0M138.9 322.8h0M141.9 321.4h0M135.5 322.5h0M143.3 321.4h0M138.2 325.0h0M137.4 323.1h0M137.0 323.5h0M133.7 324.1h0" stroke="#e8b54a" stroke-width="0.90" stroke-linecap="round"/>
<rect x="115.50" y="276.60" width="79.50" height="76.40" fill="none" stroke="#231f20" stroke-width="1.1"/>
<line x1="145.40" y1="276.60" x2="145.40" y2="353.00" stroke="#231f20" stroke-width="0.9"/>
<line x1="147.60" y1="276.60" x2="147.60" y2="353.00" stroke="#231f20" stroke-width="0.9"/>
<line x1="115.50" y1="325.60" x2="195.00" y2="325.60" stroke="#231f20" stroke-width="0.9"/>
<line x1="115.50" y1="327.80" x2="195.00" y2="327.80" stroke="#231f20" stroke-width="0.9"/>
<text x="150.90" y="308.30" font-size="6.4" textLength="36.00" lengthAdjust="spacingAndGlyphs">EXHAUSTED</text>
<text x="117.10" y="351.10" font-size="6.4" textLength="25.40" lengthAdjust="spacingAndGlyphs">RESTING</text>
<text x="155.20" y="351.10" font-size="6.4" textLength="32.20" lengthAdjust="spacingAndGlyphs">ACTIVATED</text>
<path d="M109.8 331.4 V360.4 H139.2" fill="none" stroke="#cf1f33" stroke-width="1.0"/>
<path d="M107.5 333.0 L109.8 328.4 L112.1 333.0 Z" fill="#cf1f33"/>
<path d="M137.6 358.1 L142.2 360.4 L137.6 362.7 Z" fill="#cf1f33"/>
<text x="107.20" y="346.30" font-size="7.7" text-anchor="middle" textLength="18.50" lengthAdjust="spacingAndGlyphs" transform="rotate(-90 107.20 346.30)">LAG3</text>
<text x="115.70" y="368.60" font-size="7.7" textLength="15.70" lengthAdjust="spacingAndGlyphs">PD-1</text>
<path d="M261.1 320.9h0M260.0 307.4h0M258.8 311.7h0M255.7 311.8h0M258.4 315.3h0M250.6 311.2h0M252.9 325.1h0M262.6 308.5h0M259.9 313.3h0M253.7 315.7h0M258.5 308.3h0M254.3 313.0h0M254.4 318.2h0M256.2 312.9h0M255.3 320.7h0M260.0 310.9h0M257.6 318.6h0M253.3 313.7h0M250.6 313.6h0M256.3 309.5h0M265.6 312.7h0M257.3 320.7h0M256.6 306.6h0M259.9 311.2h0M254.0 315.5h0M261.0 318.6h0M265.3 316.8h0M252.0 319.5h0M263.2 312.8h0M263.6 306.7h0M261.0 309.2h0M247.5 311.6h0M253.0 311.6h0M261.5 308.8h0M252.7 307.5h0M255.1 308.1h0M255.5 315.4h0M251.7 317.4h0M257.2 313.2h0M251.1 323.9h0M253.6 304.0h0M259.0 317.4h0M245.0 314.3h0M250.9 309.9h0M262.7 312.1h0M262.3 309.0h0M247.6 312.5h0M251.9 311.9h0M251.6 308.5h0M253.6 315.9h0M255.3 317.1h0M250.4 311.5h0M248.4 311.3h0M266.3 313.6h0M258.4 310.0h0M257.8 306.5h0M269.3 302.5h0M260.8 311.3h0M257.1 312.0h0M262.4 311.7h0M258.6 311.0h0M266.2 312.1h0M257.3 315.6h0M264.1 310.6h0M253.9 307.1h0M255.8 314.7h0M268.6 307.8h0M256.7 308.7h0M256.7 312.2h0M260.5 313.3h0M245.1 318.0h0M255.3 315.5h0M259.7 311.0h0M262.3 310.5h0M251.2 309.3h0M252.3 315.9h0M260.5 310.2h0M258.8 316.0h0M260.9 312.2h0M253.3 314.8h0M261.3 312.4h0M266.8 312.6h0M263.6 309.6h0M254.0 318.3h0M252.4 311.8h0M261.0 307.9h0M257.9 313.1h0M262.2 305.2h0M254.6 309.5h0M247.4 311.7h0M258.1 319.1h0M254.3 313.9h0M251.6 323.4h0M268.3 308.3h0M248.4 310.4h0M257.8 311.5h0M250.5 309.7h0M251.7 311.8h0M263.2 315.1h0M267.1 314.5h0M264.3 323.4h0M258.5 310.8h0M247.9 306.8h0M261.3 313.6h0M256.0 323.6h0M260.8 309.1h0M258.3 319.8h0M248.5 309.1h0M258.1 309.0h0M259.9 318.8h0M257.5 315.4h0M255.5 312.7h0M274.0 308.7h0M258.1 311.1h0M255.5 317.1h0M256.7 319.6h0M253.7 313.9h0M264.7 309.2h0M251.4 310.1h0M256.7 319.2h0M255.0 316.9h0M253.8 313.5h0M248.5 305.7h0M259.6 310.1h0M260.6 311.8h0M254.3 315.0h0M258.1 308.4h0M248.9 308.7h0M256.3 316.0h0M259.1 312.3h0M255.0 298.1h0M248.0 320.7h0M250.4 315.8h0M260.6 309.8h0M249.0 318.2h0M258.6 310.8h0M248.0 321.0h0M248.5 311.5h0M251.3 311.9h0M253.6 308.6h0M262.3 312.6h0M251.0 309.9h0M264.5 313.2h0M260.2 314.0h0M262.3 311.1h0M256.9 309.4h0M245.9 316.8h0M258.9 314.7h0M259.3 310.9h0M253.6 309.2h0M261.7 307.9h0M248.0 315.5h0M260.4 317.2h0M253.0 313.2h0M265.2 304.8h0M260.0 314.3h0M257.3 305.9h0M257.9 316.0h0M267.0 316.7h0M253.0 312.5h0M246.7 312.1h0M255.8 314.1h0M259.4 319.5h0M256.9 314.5h0M249.8 315.2h0M255.3 309.2h0M246.2 303.0h0M255.1 307.7h0M258.4 314.2h0M254.2 319.9h0M249.9 312.8h0M248.3 315.6h0M246.3 315.2h0M248.9 317.7h0M255.9 319.4h0M250.4 317.6h0M262.5 311.9h0M253.0 309.4h0M259.7 312.6h0M256.8 306.2h0M258.9 308.0h0M256.0 310.8h0M254.6 309.8h0M252.7 312.0h0M256.4 319.4h0M259.3 314.4h0M250.1 312.5h0M251.1 311.3h0M263.8 312.9h0M261.2 313.2h0M252.0 303.4h0M251.4 320.1h0M268.4 315.4h0M254.9 312.4h0M258.4 309.5h0M266.8 321.2h0M249.5 317.0h0M252.9 318.4h0M258.5 315.8h0M258.2 308.0h0M256.1 305.1h0M252.3 307.9h0M258.5 316.4h0M262.4 310.0h0M253.3 307.4h0M251.5 313.9h0M258.3 310.6h0M263.1 319.4h0M256.7 305.5h0M252.4 321.2h0M256.8 307.4h0M267.7 311.2h0M253.9 310.1h0M256.8 310.8h0M258.5 312.3h0M258.9 317.7h0M264.8 308.3h0M262.3 311.1h0M264.2 311.3h0M272.9 316.1h0M262.5 318.0h0M254.1 313.5h0M253.7 313.9h0M266.1 310.5h0M252.1 312.1h0M261.6 319.9h0M264.4 314.6h0M261.4 315.2h0M257.5 313.7h0M246.6 313.3h0M262.9 318.8h0M253.0 299.5h0M259.5 318.7h0M259.2 318.0h0M259.1 315.2h0M253.0 311.8h0M258.3 315.3h0M254.4 321.8h0M258.5 307.0h0M261.9 324.0h0M252.0 314.1h0M258.2 313.2h0M257.6 319.6h0M255.5 318.7h0M257.8 317.2h0M262.6 309.3h0M263.6 302.9h0M258.0 318.7h0M260.8 313.6h0M258.6 324.3h0M256.5 307.4h0M259.9 315.6h0M254.7 318.4h0M256.8 311.9h0M255.9 311.0h0M258.2 309.3h0M251.0 312.2h0M268.5 303.4h0M250.6 312.1h0M252.0 315.5h0M255.8 314.9h0M257.3 313.0h0M252.3 321.9h0M256.9 308.2h0M249.5 296.6h0M262.7 319.2h0M259.2 310.6h0M253.3 314.7h0M263.1 323.2h0M255.3 313.3h0M256.9 317.8h0M253.1 316.5h0M251.1 318.1h0M268.3 306.8h0M245.2 308.3h0M250.5 315.2h0M259.6 310.2h0M250.0 313.0h0M252.5 309.5h0M257.3 307.1h0M258.4 305.8h0M254.9 314.4h0M248.2 320.2h0M255.5 304.2h0M253.1 308.5h0M253.3 307.8h0M258.0 311.1h0M246.4 307.7h0M252.2 316.4h0M246.3 306.5h0M260.5 312.8h0M252.9 304.0h0M255.4 310.5h0M245.8 312.7h0M255.2 307.2h0M252.1 307.3h0M268.2 308.8h0M265.6 318.7h0M265.5 317.5h0M250.4 311.4h0M252.3 311.0h0M261.4 317.3h0M260.4 314.7h0M269.2 315.0h0M258.1 314.7h0M258.9 313.1h0M259.1 308.3h0M256.8 309.2h0M259.5 311.3h0M256.5 316.7h0M257.8 320.6h0M255.4 315.2h0M259.4 310.3h0M258.1 312.8h0M261.1 308.6h0M252.0 314.5h0M257.0 306.6h0M259.3 313.7h0M257.2 311.7h0M253.3 316.2h0M253.6 316.6h0M253.2 314.7h0M249.7 317.1h0M252.5 314.2h0M257.9 313.8h0M253.9 306.3h0M251.2 306.9h0M245.5 315.6h0M253.7 315.2h0M257.3 310.8h0M252.3 315.4h0M257.5 315.1h0M261.6 311.6h0M257.5 312.6h0M258.1 313.8h0M245.5 312.7h0M261.6 319.6h0M251.8 311.4h0M252.5 313.1h0M249.9 314.9h0M256.8 316.7h0M263.7 314.6h0M248.8 315.8h0M251.1 315.0h0M251.8 308.2h0M259.3 310.9h0M254.0 313.1h0M259.1 310.2h0M257.7 312.0h0M263.7 320.7h0M254.5 309.5h0M248.9 321.5h0M265.4 316.5h0M252.2 311.6h0M258.3 322.1h0M245.0 315.3h0M258.6 318.5h0M260.5 312.3h0M257.1 311.4h0M254.9 309.2h0M255.7 317.7h0M265.8 316.3h0M252.2 312.8h0M255.2 311.2h0M258.6 304.8h0M254.8 311.0h0M265.3 317.3h0M256.0 310.0h0M249.4 312.6h0M260.0 318.9h0M249.8 312.8h0M259.1 315.5h0M248.5 315.5h0M256.3 313.5h0M254.9 317.7h0M261.6 316.8h0M250.6 315.1h0M254.5 316.2h0M261.9 311.8h0M249.5 313.8h0M258.2 308.3h0M256.4 311.3h0M261.6 309.8h0M253.3 308.9h0M257.9 316.3h0M257.1 317.2h0M253.8 308.5h0M252.0 313.6h0M267.2 315.7h0M258.3 314.4h0M260.3 311.7h0M264.3 314.2h0M262.2 308.6h0M255.5 311.4h0M259.2 306.1h0M254.6 316.7h0M261.9 312.8h0M260.0 316.8h0M261.9 314.3h0M251.4 315.8h0M252.7 310.9h0M246.6 317.3h0M251.9 311.4h0M254.6 310.5h0M256.3 314.0h0M260.2 311.9h0M261.1 317.3h0M250.9 312.5h0M252.5 309.5h0M245.3 315.7h0M248.5 318.8h0M258.9 311.3h0M256.1 303.0h0M256.3 314.4h0M261.1 312.3h0M249.8 309.4h0M253.8 311.3h0M251.2 309.6h0M250.0 310.3h0M258.8 312.7h0M254.9 314.9h0M264.0 317.6h0M253.8 315.4h0M261.1 315.5h0M269.8 311.7h0M254.5 315.1h0M253.3 310.1h0M252.8 315.6h0M255.8 312.5h0M259.6 308.6h0M266.7 312.1h0M249.8 311.0h0M255.6 314.0h0M254.5 303.9h0M246.3 316.6h0M265.1 322.6h0M259.4 309.7h0M264.1 310.7h0M269.6 308.8h0M253.3 315.1h0M254.3 315.1h0M257.8 312.1h0M252.7 302.5h0M258.1 314.3h0M251.8 312.4h0M264.6 308.9h0M253.1 306.4h0M257.9 306.2h0M252.9 308.8h0M256.6 316.9h0M253.8 305.6h0M261.8 312.0h0M254.0 309.0h0M258.3 316.4h0M248.6 316.1h0M252.4 312.9h0M244.4 321.8h0M253.2 308.7h0M259.6 313.8h0M250.4 310.1h0M250.4 324.0h0M252.2 314.2h0M251.0 316.4h0M256.6 313.2h0M257.8 314.6h0M255.2 316.8h0M261.4 310.8h0M254.4 318.8h0M247.6 319.6h0M260.7 318.3h0M249.5 316.0h0M256.6 307.8h0M260.1 308.6h0M245.3 316.1h0M266.4 309.0h0M251.4 307.7h0M257.1 307.0h0M270.4 315.1h0M258.0 305.2h0M260.9 317.7h0M261.7 311.1h0M251.4 307.4h0M256.8 299.0h0M261.8 314.0h0M262.6 318.8h0M254.2 318.6h0M256.5 320.8h0M262.3 308.0h0M259.5 315.2h0M257.4 307.6h0M263.8 316.3h0M264.3 313.8h0M252.2 308.9h0M258.6 315.5h0M254.7 313.5h0M253.6 316.3h0M261.2 314.9h0M253.3 314.2h0M258.6 310.9h0M262.7 311.8h0M256.1 310.4h0M264.8 322.0h0M258.9 313.7h0M248.8 306.3h0M252.5 312.4h0M254.9 308.1h0M256.7 314.2h0M261.7 309.8h0M248.7 312.6h0M246.6 305.1h0M255.6 312.4h0M253.9 315.0h0M258.0 311.6h0M252.8 316.9h0M259.1 319.3h0M259.9 315.4h0M258.1 308.6h0M257.0 314.2h0M260.6 314.2h0M260.0 315.5h0M258.1 312.6h0M254.9 316.8h0M263.4 307.7h0M262.7 318.5h0M258.5 308.4h0M265.1 318.0h0M256.6 316.9h0M254.5 313.3h0M255.3 316.4h0M259.1 314.1h0M262.0 311.2h0M255.1 306.0h0M257.3 315.6h0M251.3 316.4h0M256.3 316.1h0M258.2 308.2h0M253.7 313.2h0M262.9 310.3h0M265.0 306.4h0M255.5 310.1h0M257.9 313.4h0M258.9 315.9h0M257.5 309.1h0M260.0 314.1h0M257.7 314.1h0M246.3 315.5h0M257.4 308.8h0M249.4 309.6h0M262.7 322.6h0M259.8 310.5h0M248.1 307.5h0M260.0 310.7h0M256.0 315.7h0M261.0 309.7h0M261.6 316.3h0M251.5 312.5h0M250.5 317.0h0M250.9 311.2h0M254.9 318.7h0M259.0 312.6h0M258.9 315.2h0M254.5 316.2h0M253.2 310.2h0M255.7 314.5h0M253.7 309.2h0M249.5 314.8h0M254.7 318.5h0M255.2 315.8h0M262.9 315.3h0M259.8 311.5h0M257.4 322.2h0M257.7 306.0h0M259.9 307.1h0M267.4 321.1h0M267.9 304.6h0M257.4 299.2h0M267.8 317.4h0M250.8 319.7h0M248.3 316.3h0M262.6 319.8h0M256.6 314.3h0M258.2 315.4h0M256.1 316.7h0M262.0 316.8h0M253.3 319.7h0M252.4 310.3h0M259.4 307.4h0M257.7 320.2h0M258.7 307.9h0M258.0 313.3h0M253.2 311.5h0M262.0 317.2h0M256.6 314.7h0M255.8 316.0h0M253.1 320.2h0M261.3 315.8h0M250.8 316.5h0M258.3 305.0h0M252.6 312.7h0M249.6 311.2h0M263.3 321.0h0M261.1 310.1h0M251.0 313.2h0M256.8 308.3h0M256.7 314.4h0M255.0 311.7h0M263.5 312.7h0M257.8 307.0h0M259.3 306.7h0M257.6 305.5h0M257.8 312.0h0M256.3 308.2h0M260.1 309.6h0M249.2 317.8h0M259.0 320.6h0M252.6 309.6h0M257.7 320.5h0M263.2 315.8h0M260.2 311.2h0M254.2 314.0h0M254.1 312.2h0M254.9 311.2h0M250.6 310.9h0M249.1 316.8h0M253.8 308.6h0M259.1 311.4h0M267.3 306.5h0M264.3 315.4h0M258.7 311.8h0M247.0 311.2h0M256.8 308.3h0M262.2 308.4h0M251.2 311.4h0M258.1 309.7h0M255.8 320.5h0M259.8 314.6h0M251.4 318.5h0M256.5 318.3h0M254.6 308.9h0M262.8 309.0h0M256.4 317.1h0M259.0 306.4h0M258.2 321.3h0M261.7 309.2h0M265.9 314.8h0M249.9 320.8h0M252.6 317.7h0M261.7 316.3h0M256.8 317.4h0M250.7 313.6h0M246.2 316.6h0M250.4 320.5h0M250.3 309.3h0M253.9 318.8h0M259.4 315.3h0M264.2 307.4h0M261.3 314.1h0M247.2 309.4h0M261.6 308.1h0M257.6 311.6h0M251.2 309.2h0M248.7 311.4h0M271.3 307.9h0M253.1 313.1h0M257.8 313.0h0M249.3 308.8h0M252.3 310.1h0M254.0 315.0h0M256.4 316.7h0M253.0 318.9h0M254.3 313.5h0M256.3 317.5h0M245.8 310.1h0M253.4 316.2h0M258.8 314.2h0M265.2 315.6h0M263.4 313.7h0M260.2 308.9h0M262.3 309.2h0M261.6 316.0h0M250.7 313.5h0M256.1 311.7h0M252.3 317.7h0M251.1 313.6h0M256.5 307.2h0M259.2 312.9h0M253.8 311.5h0M252.5 310.6h0M249.1 317.2h0M260.9 311.4h0M249.0 304.9h0M249.5 321.8h0M251.0 310.8h0M254.1 304.6h0M253.1 312.3h0M258.8 313.0h0M259.1 312.0h0M250.4 314.9h0M257.6 313.3h0M248.4 319.8h0" stroke="#8a8a8a" stroke-width="0.76" stroke-linecap="round" opacity="0.85"/>
<path d="M257.6 315.5h0M255.9 309.0h0M252.4 316.2h0M263.9 306.9h0M260.4 314.6h0M256.6 313.4h0M259.0 314.8h0M259.6 312.2h0M256.6 312.8h0M252.9 312.5h0M254.0 314.8h0M256.2 318.5h0M256.9 311.8h0M260.3 313.4h0M254.6 312.3h0M259.5 311.7h0M255.6 315.4h0M262.4 318.1h0M256.6 316.5h0M256.8 311.4h0M255.1 313.4h0M257.8 312.6h0M255.5 314.2h0M256.9 318.8h0M258.8 314.6h0M261.7 312.5h0M261.5 316.3h0M262.4 316.6h0M255.1 317.8h0M258.0 314.9h0M255.0 314.3h0M247.3 308.8h0M258.8 313.0h0M254.1 315.1h0M259.6 315.9h0M253.2 316.4h0M257.0 314.3h0M260.1 315.9h0M259.5 314.4h0M253.3 312.7h0M259.1 309.9h0M254.7 311.5h0M253.3 313.0h0M256.0 310.4h0M257.3 310.8h0M260.0 314.3h0M253.1 314.0h0M251.5 313.7h0M250.8 314.4h0M260.0 309.1h0M254.9 315.1h0M257.7 311.7h0M259.4 314.7h0M252.2 317.0h0M251.7 311.7h0M256.3 308.7h0M255.9 314.4h0M259.6 309.7h0M256.9 314.3h0M253.8 309.0h0M253.9 313.4h0M255.2 314.6h0M253.9 312.1h0M254.5 311.4h0M250.0 311.2h0M254.7 311.7h0M251.1 311.3h0M256.5 316.1h0M253.6 312.3h0M253.6 313.6h0M254.1 317.1h0M257.9 315.5h0M255.9 313.3h0M261.4 313.9h0M261.8 314.7h0M257.1 312.1h0M255.1 304.2h0M259.9 313.3h0M254.1 313.7h0M249.8 312.4h0M252.5 315.6h0M260.5 312.5h0M261.4 314.2h0M258.2 312.5h0M256.6 311.8h0M258.2 310.1h0M255.8 316.3h0M257.3 306.0h0M253.4 313.6h0M259.5 313.0h0M258.9 316.5h0M252.2 312.8h0M259.1 312.2h0M258.1 317.0h0M254.6 314.0h0M254.0 317.1h0M260.9 306.7h0M256.9 308.2h0M250.8 313.1h0M266.4 311.1h0M254.8 314.7h0M256.8 314.2h0M260.1 313.8h0M252.3 312.2h0M255.1 310.8h0M254.5 312.2h0M257.5 310.2h0M257.8 312.2h0M254.0 311.6h0M259.4 312.9h0M254.3 311.0h0M256.7 310.7h0M254.7 315.2h0M259.7 309.2h0M256.9 316.9h0M259.1 311.2h0M256.7 312.3h0M253.8 316.2h0M258.3 313.9h0M259.1 316.1h0M256.9 313.9h0M257.4 308.4h0M255.3 313.1h0M248.5 315.5h0M256.6 313.6h0M255.5 315.8h0M258.4 312.3h0M251.1 316.1h0M260.7 315.2h0M259.1 312.9h0M255.7 314.4h0M255.6 307.5h0M251.0 316.5h0M252.2 310.1h0M258.7 316.5h0M254.8 312.6h0M252.3 310.2h0M251.4 311.8h0M257.3 310.4h0M251.1 313.7h0M257.1 313.0h0M258.8 313.3h0M259.6 312.1h0M254.7 311.0h0M256.6 313.9h0M254.3 314.5h0M258.3 313.7h0M252.5 314.4h0M252.1 310.3h0M255.9 314.4h0M256.4 313.2h0M257.9 315.9h0M254.3 314.5h0M256.9 313.3h0M261.2 309.9h0M257.7 316.9h0M263.3 314.5h0M256.1 312.0h0M251.1 313.9h0M260.1 313.5h0M254.5 313.4h0M256.6 313.8h0M261.3 315.4h0M261.0 312.8h0M259.0 309.7h0M254.3 313.5h0M253.8 312.3h0M255.2 312.4h0M258.8 308.6h0M263.4 310.9h0M245.6 315.7h0M257.5 316.4h0M252.9 317.6h0M253.7 315.3h0M256.9 314.1h0M266.9 308.9h0M260.3 318.5h0M256.0 312.0h0M258.2 308.0h0M257.7 312.1h0M256.2 310.5h0M252.8 308.4h0M252.0 312.6h0M253.4 318.5h0M251.0 313.9h0M253.1 311.8h0M257.1 312.9h0M260.2 315.6h0M256.8 310.5h0M253.6 316.6h0M256.2 320.0h0M261.2 309.1h0M256.1 311.0h0M256.9 315.3h0M253.9 314.7h0M253.0 313.8h0M257.8 311.7h0M257.6 317.4h0M255.4 310.2h0M257.0 311.6h0M255.6 316.7h0M255.7 310.5h0M259.6 312.4h0M258.1 310.1h0M257.4 310.1h0M255.1 311.9h0M253.1 313.3h0M252.7 312.9h0M255.4 319.3h0M255.5 313.6h0M255.1 307.5h0M257.6 308.0h0M257.3 313.3h0M256.0 310.8h0M262.5 311.8h0M256.3 314.7h0M255.2 311.7h0M261.1 311.0h0M254.6 313.1h0M251.5 312.0h0M253.4 310.9h0M247.5 309.3h0M258.5 313.1h0M261.1 315.9h0M252.1 314.8h0M257.4 319.9h0M257.2 310.0h0M258.0 317.1h0M256.4 314.7h0M255.7 312.1h0M254.8 320.6h0M254.5 313.5h0M255.8 310.9h0M256.8 313.4h0M259.2 315.9h0M256.3 311.0h0M258.2 315.0h0M252.5 311.0h0M257.7 308.7h0M255.8 315.0h0M256.1 316.2h0M258.8 315.3h0M252.1 315.4h0M252.7 313.5h0M253.5 314.2h0M254.5 315.1h0M256.2 312.0h0M253.2 314.9h0M261.6 315.0h0M247.7 316.0h0M255.7 316.5h0M259.2 310.9h0M255.4 309.9h0M258.6 311.8h0M259.4 310.1h0M256.6 312.6h0M259.2 311.7h0M255.4 314.3h0M253.7 314.7h0M259.4 314.1h0M259.7 312.9h0M251.7 309.3h0M257.2 316.1h0M256.7 309.5h0M254.6 312.0h0M253.4 311.0h0M261.9 315.1h0M259.2 313.2h0M255.6 312.1h0M262.9 313.6h0M259.3 309.4h0M255.1 308.6h0M256.7 308.1h0M254.5 315.2h0M256.8 310.6h0M257.7 315.7h0M255.1 314.5h0M260.1 314.7h0M256.7 316.8h0M253.8 312.4h0M256.1 314.2h0M256.5 314.1h0M250.2 310.0h0M252.2 312.7h0M257.9 312.4h0M251.9 315.8h0M255.9 316.6h0M259.1 316.3h0M255.8 310.0h0M258.4 311.3h0M252.3 312.4h0M259.2 314.6h0M254.6 317.1h0M251.5 313.4h0M256.5 314.1h0M263.8 313.7h0M256.7 311.6h0M256.9 313.0h0M259.5 309.7h0M259.8 321.6h0M253.1 318.6h0M249.6 314.3h0M253.9 314.4h0M252.6 315.5h0M258.7 315.6h0M253.0 315.4h0M258.3 312.8h0M253.9 313.1h0M258.2 316.7h0M251.7 313.1h0M253.9 311.7h0M250.5 312.1h0M259.0 312.2h0M261.3 312.9h0M256.6 313.1h0M252.0 312.3h0M264.4 314.3h0M256.3 314.7h0M261.2 314.3h0M258.2 316.5h0M252.8 307.9h0M253.5 314.7h0M257.2 307.8h0M253.7 315.6h0M255.9 314.5h0M255.6 313.2h0M251.4 310.8h0M253.5 314.0h0M256.1 316.2h0M246.0 314.0h0M250.5 316.4h0M252.2 313.4h0M250.7 312.0h0M250.6 308.4h0M251.5 313.3h0M253.3 316.8h0M254.0 316.5h0M253.6 315.0h0M257.1 311.8h0M257.1 315.0h0M260.1 312.7h0M257.8 314.4h0M253.0 313.5h0M251.2 318.6h0M261.9 314.0h0M257.8 311.3h0M251.9 312.4h0M257.9 316.3h0M251.1 309.4h0M259.1 310.6h0M256.4 311.3h0M258.9 316.2h0M252.6 314.0h0M257.1 314.6h0M260.6 310.3h0M254.3 316.9h0M259.5 309.9h0M255.2 308.1h0M258.5 314.3h0M256.2 315.0h0M255.4 305.2h0M252.8 311.9h0M254.9 315.6h0M254.6 309.0h0M254.8 310.1h0M256.8 314.5h0M263.6 313.7h0M248.8 318.3h0M257.1 315.3h0M253.9 315.1h0M255.9 313.9h0M256.9 307.4h0M254.0 314.0h0M247.6 313.4h0M261.8 309.8h0M253.9 314.7h0M253.6 310.2h0M251.2 309.0h0M253.0 314.7h0M254.3 310.4h0M256.9 310.4h0M252.6 314.1h0M258.1 310.4h0M257.1 317.2h0M253.2 319.1h0M255.9 316.6h0M252.6 313.2h0M254.1 309.9h0M257.1 314.7h0M253.9 306.7h0M255.9 316.2h0M257.9 312.7h0M253.6 312.6h0M256.5 317.3h0M257.6 310.5h0M259.1 308.8h0M256.9 313.0h0M253.8 317.5h0M257.8 311.8h0M258.8 315.4h0M254.8 310.2h0M259.0 308.3h0M252.1 319.5h0M255.2 318.2h0M257.1 317.1h0M252.0 316.8h0M251.4 311.0h0M258.5 315.0h0M253.2 317.6h0M253.8 316.1h0M259.7 311.0h0M250.6 313.6h0M247.4 313.9h0M247.9 312.8h0M252.2 312.9h0M255.3 313.0h0M257.8 313.4h0M259.9 311.1h0M255.1 310.2h0M254.5 309.5h0M253.4 316.4h0M259.7 313.7h0M253.3 313.5h0M259.0 315.6h0M260.6 314.4h0M258.1 310.5h0M255.3 312.3h0M256.5 316.4h0M255.0 313.9h0M255.7 312.5h0M258.1 314.7h0M256.4 312.0h0M247.9 311.9h0M255.2 310.5h0M253.6 312.0h0M256.7 309.6h0M254.7 318.9h0M262.1 311.0h0M254.3 318.5h0M249.4 314.8h0M256.8 310.7h0M252.1 310.2h0M255.9 316.2h0M263.4 310.1h0M258.0 312.0h0M260.7 308.0h0M256.3 314.4h0M251.2 315.0h0M253.0 310.1h0M262.8 309.6h0M256.3 314.2h0M253.0 311.9h0M268.1 314.3h0M259.9 314.6h0M257.1 312.6h0M257.0 311.9h0M261.7 308.8h0M255.0 314.7h0M256.8 313.9h0M254.0 312.2h0M254.3 316.4h0M257.7 308.6h0M256.8 314.4h0M250.7 317.4h0M263.2 310.2h0M253.3 316.5h0M253.9 312.3h0M254.3 311.6h0M257.8 316.1h0M255.2 312.7h0M256.6 308.5h0M253.8 311.5h0M259.3 313.6h0M258.9 316.3h0M257.1 310.8h0M260.7 313.2h0M253.7 309.3h0M256.7 310.4h0M249.7 316.7h0M253.5 313.4h0M255.4 309.3h0M251.5 311.0h0M252.7 315.7h0M253.8 314.9h0M254.2 308.9h0M254.8 317.3h0M254.6 313.5h0M256.5 311.9h0M256.4 314.9h0M258.8 311.1h0M259.8 311.8h0M250.6 313.4h0M253.9 313.0h0M257.6 315.7h0M255.6 314.7h0M250.5 319.5h0M257.9 316.7h0M260.6 315.2h0M252.1 308.0h0M254.0 311.4h0" stroke="#a43ca9" stroke-width="1.00" stroke-linecap="round"/>
<path d="M256.0 310.2h0M258.8 313.0h0M257.1 317.9h0M263.1 311.1h0M252.4 314.1h0M253.8 319.3h0M251.3 316.6h0M252.7 313.5h0M255.2 309.7h0M257.1 313.6h0M255.3 311.6h0M249.2 316.6h0M255.1 311.3h0M253.7 315.6h0M254.9 315.5h0M250.3 314.6h0M254.8 312.0h0M259.6 310.1h0M260.4 312.4h0M255.9 314.2h0M253.3 314.8h0M255.8 313.3h0M256.1 312.9h0M252.3 314.7h0M257.3 312.0h0M257.5 310.7h0M256.4 311.5h0M253.6 310.6h0M258.9 314.2h0M263.2 310.0h0M255.0 312.0h0M258.8 313.7h0M252.7 315.0h0M252.4 309.2h0M254.9 312.7h0M258.9 313.5h0M252.5 310.7h0M252.3 308.1h0M260.1 309.9h0M255.9 313.3h0M255.2 314.9h0M258.0 313.7h0M256.8 317.3h0M251.0 310.6h0M252.9 313.2h0M253.3 317.7h0M249.5 318.7h0M253.4 317.6h0M255.1 311.0h0M251.8 311.0h0M255.9 313.9h0M248.8 318.3h0M257.8 314.7h0M258.9 312.0h0M257.7 314.5h0M250.5 309.7h0M251.5 314.6h0M260.1 318.0h0M259.4 312.9h0M251.3 315.2h0M258.7 312.3h0M253.8 312.1h0M256.9 313.8h0M256.9 312.3h0M250.2 318.6h0M260.6 317.4h0M254.5 312.6h0M261.7 310.6h0M262.5 314.8h0M249.4 310.9h0M248.7 310.5h0M255.4 315.0h0M254.6 301.7h0M260.3 311.5h0M254.8 319.7h0M264.1 314.6h0M263.3 313.0h0M253.5 308.2h0M258.2 312.3h0M252.8 312.1h0M252.7 317.1h0M258.4 309.2h0M258.0 313.4h0M255.8 318.9h0M253.6 310.2h0M254.8 314.2h0M256.1 316.2h0M251.4 317.3h0M252.4 314.6h0M255.5 312.8h0M260.1 309.3h0M260.0 311.9h0M254.0 307.5h0M256.6 312.5h0M257.6 310.8h0M260.4 313.7h0M264.0 313.8h0M254.3 310.4h0M259.3 311.8h0M256.6 310.6h0M263.0 313.1h0M254.2 310.7h0M255.9 312.9h0M256.1 313.6h0M260.5 310.0h0M254.5 314.9h0M260.0 313.3h0M259.3 313.9h0M254.9 308.9h0M256.9 311.1h0M252.6 305.6h0M263.4 311.1h0M256.8 310.2h0M255.5 313.0h0M252.9 315.9h0M254.7 314.0h0M251.6 313.9h0M254.7 314.9h0M256.8 310.4h0M260.8 316.6h0" stroke="#909090" stroke-width="0.80" stroke-linecap="round"/>
<path d="M257.5 313.9h0M253.8 315.2h0M255.9 312.2h0M255.3 312.6h0M255.2 310.4h0M257.6 313.4h0M253.5 311.8h0M258.0 313.9h0M255.9 312.7h0M256.6 313.8h0M254.2 314.0h0M257.0 314.4h0M254.2 312.7h0M256.1 311.8h0M255.0 312.9h0M257.5 312.2h0M254.3 313.7h0M256.6 312.4h0M257.1 314.9h0M255.7 313.8h0M259.0 313.0h0M255.2 312.7h0M258.5 313.7h0M255.9 312.2h0M255.2 315.4h0M253.5 315.0h0M255.4 313.0h0M254.3 312.8h0M256.4 313.6h0M254.4 314.6h0M252.8 312.7h0M258.3 313.4h0M256.2 312.9h0M254.8 315.4h0M256.8 314.5h0M255.6 314.5h0M257.6 313.0h0M257.5 314.6h0M255.8 313.0h0M255.9 313.0h0M258.5 313.3h0M256.1 313.2h0M255.6 313.1h0M259.0 314.5h0M257.0 315.9h0M256.5 313.4h0M257.6 311.7h0M255.8 312.5h0M254.9 314.1h0M255.5 314.1h0" stroke="#5a62bb" stroke-width="1.00" stroke-linecap="round"/>
<path d="M255.8 334.4h0M257.7 340.9h0M253.3 330.4h0M250.8 337.6h0M264.8 328.1h0M252.6 328.9h0M256.3 340.4h0M252.3 330.9h0M259.2 334.8h0M259.5 333.7h0M256.2 335.1h0M258.5 338.1h0M257.1 333.4h0M260.1 338.0h0M254.9 336.8h0M261.1 332.9h0M252.4 327.8h0M259.6 335.1h0M253.6 341.6h0M253.0 336.8h0M251.1 332.8h0M246.5 339.2h0M251.6 336.0h0M255.3 333.3h0M258.0 342.6h0M258.2 336.7h0M252.7 336.3h0M260.9 330.5h0M257.9 340.5h0M254.7 328.1h0M259.7 332.1h0M259.4 330.1h0M269.4 333.1h0M255.3 336.0h0M260.3 340.7h0M261.4 330.8h0M255.9 328.1h0M255.8 340.7h0M257.6 343.2h0M260.8 331.7h0M256.0 338.3h0M261.0 333.3h0M264.7 336.9h0M252.0 326.5h0M253.9 327.1h0M253.9 338.8h0M257.0 335.6h0M257.8 337.9h0M254.8 336.5h0M256.0 336.3h0M258.9 335.2h0M256.2 332.1h0M267.2 335.6h0M257.1 327.8h0M257.5 336.8h0M257.3 332.6h0M261.3 331.4h0M261.7 334.4h0M249.6 340.0h0M254.2 343.3h0M263.0 332.1h0M255.7 331.9h0M255.6 339.7h0M262.8 330.8h0M256.3 335.1h0M255.7 328.6h0M255.1 331.0h0M255.0 337.7h0M256.6 332.1h0M260.8 343.6h0M249.2 333.1h0M259.8 334.6h0M257.9 335.8h0M261.1 340.8h0M256.1 330.7h0M260.9 338.5h0M263.3 327.7h0M247.7 334.2h0M260.1 340.4h0M254.4 334.0h0M254.0 334.5h0M253.3 329.1h0M257.8 335.5h0M250.8 337.1h0M262.5 331.4h0M255.7 333.2h0M257.2 331.8h0M253.8 329.3h0M260.9 333.9h0M252.9 331.8h0M253.1 338.7h0M255.1 333.8h0M256.6 332.5h0M258.3 341.5h0M255.7 335.2h0M257.8 339.2h0M254.9 325.9h0M255.1 335.2h0M258.3 341.3h0M259.0 344.1h0M250.8 328.0h0M255.6 335.5h0M256.6 328.6h0M254.4 340.3h0M257.4 342.8h0M260.9 329.2h0M254.1 327.3h0M252.9 335.7h0M256.1 333.5h0M252.4 332.7h0M259.2 338.5h0M253.6 330.7h0M258.3 332.7h0M260.5 328.6h0M258.0 336.1h0M257.5 332.9h0M259.8 331.7h0M258.7 332.2h0M263.5 333.9h0M258.8 338.7h0M254.8 329.3h0M255.6 329.9h0M251.5 340.2h0M259.7 333.8h0M253.9 340.1h0M256.5 327.6h0M263.3 334.4h0M254.8 334.2h0M253.2 337.8h0M254.6 341.2h0M258.4 331.5h0M252.7 335.0h0M256.8 338.1h0M253.8 335.6h0M255.1 333.1h0M266.0 338.8h0M253.9 332.3h0M253.7 338.3h0M251.5 346.4h0M263.3 337.0h0M262.0 339.1h0M256.3 332.1h0M259.4 334.3h0M259.7 334.6h0M255.5 336.3h0M248.8 346.6h0M251.1 330.7h0M260.5 348.1h0M253.8 335.9h0M262.4 345.3h0M253.8 342.9h0M260.9 334.7h0M253.9 338.3h0M259.2 335.8h0M257.9 334.4h0M260.5 345.8h0M252.4 333.1h0M259.9 336.8h0M260.7 332.2h0M253.6 333.7h0M251.3 338.8h0M261.3 329.8h0M251.7 335.0h0M257.2 330.7h0M252.1 335.1h0M256.5 332.2h0M249.9 337.3h0M247.5 326.4h0M258.7 340.0h0M256.5 332.2h0M252.7 331.9h0M250.6 326.3h0M253.9 324.0h0M255.8 340.5h0M258.1 335.4h0M265.1 338.2h0M258.6 332.5h0M257.3 328.6h0M258.2 340.4h0M260.3 332.2h0M257.7 333.8h0M257.1 343.5h0M256.1 331.5h0M255.0 340.0h0M258.8 330.0h0M256.4 335.8h0M254.8 334.8h0M260.2 325.3h0M252.7 330.4h0M259.6 336.9h0M254.3 327.5h0M259.5 338.2h0M252.3 330.1h0M253.4 333.4h0M249.8 333.7h0M255.5 335.1h0M247.4 332.1h0M258.4 332.1h0M253.9 327.9h0M262.7 334.6h0M256.0 333.7h0M253.2 340.8h0M255.1 336.8h0M262.1 326.7h0M256.5 328.6h0M252.4 335.0h0M262.7 336.9h0M255.2 330.8h0M264.5 339.1h0M250.2 329.2h0M256.3 339.2h0M261.1 338.5h0M253.5 334.6h0M255.9 337.7h0M261.9 329.2h0M256.2 329.1h0M255.0 339.8h0M255.7 326.1h0M257.8 335.1h0M260.2 334.3h0M250.3 339.4h0M258.2 332.2h0M255.5 334.6h0M254.5 337.9h0M256.7 333.2h0M254.6 331.0h0M254.5 334.5h0M247.9 331.8h0M254.2 334.8h0M254.6 336.3h0M253.9 332.3h0M257.5 335.0h0M253.7 332.2h0M258.3 338.1h0M260.8 333.7h0M258.1 330.2h0M247.1 330.8h0M261.8 339.9h0M251.5 337.0h0M263.0 338.0h0M259.7 339.7h0M261.2 330.0h0M258.1 340.4h0M256.3 334.3h0M256.1 325.7h0M261.6 338.4h0M260.5 345.1h0M251.4 332.3h0M253.0 333.1h0M256.9 334.0h0M246.2 340.4h0M256.5 340.4h0M259.2 328.0h0M249.9 347.4h0M253.9 336.8h0M253.3 329.5h0M254.1 331.6h0M262.2 337.1h0M255.7 336.3h0M254.5 328.3h0M264.1 336.9h0M251.0 327.8h0M258.9 338.1h0M253.7 331.6h0M256.9 327.4h0M256.4 332.8h0M247.4 335.8h0M257.1 333.6h0M259.3 335.7h0M250.8 341.1h0M250.4 328.4h0M255.3 335.4h0M257.1 331.7h0M255.2 333.1h0M261.0 335.6h0M250.4 339.6h0M250.7 336.9h0M253.6 329.1h0M258.5 338.2h0M266.8 331.8h0M252.4 330.3h0M263.0 344.2h0M261.4 331.9h0M264.4 337.3h0M257.4 342.6h0M257.5 341.7h0M256.7 340.1h0M256.8 342.9h0M254.5 343.2h0M264.1 331.8h0M260.3 332.9h0M257.3 322.7h0M252.8 339.0h0M262.6 334.9h0M255.9 331.7h0M251.0 341.3h0M261.1 328.7h0M263.2 340.5h0M256.6 336.7h0M262.9 333.5h0M259.0 337.0h0M253.1 343.1h0M255.9 330.8h0M259.9 338.4h0M259.5 330.1h0M247.0 329.9h0M263.6 332.4h0M254.6 336.4h0M250.7 342.9h0M254.2 333.3h0M255.5 338.5h0M259.7 342.4h0M257.0 333.1h0M262.0 335.8h0M257.5 337.2h0M258.7 334.2h0M258.7 328.8h0M256.1 340.7h0M255.8 339.1h0M257.5 336.5h0M259.7 330.8h0M252.2 343.7h0M257.2 325.2h0M260.0 335.0h0M261.3 338.4h0M258.7 340.8h0M255.5 326.9h0M258.2 332.9h0M260.1 338.0h0M255.0 338.9h0M257.9 338.9h0M253.9 333.4h0M253.9 331.9h0M255.2 339.6h0M253.3 336.5h0M257.2 336.8h0M256.0 336.0h0M251.9 337.7h0M256.5 330.9h0M256.7 337.0h0" stroke="#8a8a8a" stroke-width="0.76" stroke-linecap="round" opacity="0.9"/>
<path d="M258.8 335.6h0M255.5 332.1h0M257.8 331.9h0M257.6 334.5h0M259.4 333.8h0M260.6 336.4h0M255.7 336.9h0M256.8 334.6h0M253.3 333.2h0M257.4 334.1h0M256.9 336.1h0M259.0 336.9h0M252.2 334.8h0M260.2 336.9h0M261.5 332.8h0M262.0 334.4h0M259.7 338.3h0M256.9 332.2h0M260.2 334.3h0M256.4 332.6h0M253.3 339.6h0M250.7 329.8h0M258.3 336.9h0M255.0 332.6h0M257.9 331.7h0" stroke="#a86fb0" stroke-width="0.80" stroke-linecap="round"/>
<path d="M277.9 329.0h0M292.7 332.8h0M293.5 338.2h0M286.8 332.9h0M297.9 334.3h0M281.6 329.4h0M254.8 342.8h0M248.0 336.8h0M271.8 341.3h0M276.4 332.2h0M277.7 329.7h0M280.4 337.2h0M288.8 332.8h0M253.6 327.8h0M258.7 336.1h0M245.2 340.2h0M289.3 331.2h0M282.3 326.5h0M253.0 349.7h0M283.9 340.0h0M274.7 322.2h0M271.3 323.4h0M277.7 322.7h0M268.2 330.4h0M265.3 329.2h0M259.2 329.0h0M289.5 327.2h0M264.8 326.1h0M262.8 326.0h0M285.5 328.3h0M252.1 335.7h0M280.5 338.2h0M257.6 331.3h0M247.3 332.9h0M248.1 333.2h0M263.1 335.0h0M283.1 340.8h0M259.5 342.8h0M277.9 342.6h0M296.7 331.0h0M266.9 335.7h0M259.9 325.6h0M270.6 323.8h0M289.8 334.6h0M280.3 332.0h0M260.6 331.2h0M302.6 335.7h0M270.3 336.4h0M250.0 348.6h0M270.3 326.9h0M265.2 343.0h0M263.4 336.0h0M271.0 327.2h0M297.6 334.0h0M275.1 339.9h0M280.0 336.0h0M290.4 330.3h0M276.6 339.6h0M278.9 337.1h0M269.2 324.3h0M257.8 332.0h0M284.8 324.6h0M281.1 341.6h0M266.1 333.0h0M289.7 333.9h0M278.4 324.9h0M291.9 337.4h0M278.2 326.6h0M277.6 326.6h0M267.9 324.6h0M282.5 337.2h0M304.9 325.9h0M284.2 340.6h0M277.0 335.8h0M276.0 341.5h0M258.5 339.2h0M250.4 329.8h0M276.6 331.1h0M289.8 334.0h0M257.6 331.8h0M262.9 339.5h0M259.3 343.0h0M257.9 338.2h0M272.3 341.8h0M270.8 338.7h0M290.2 333.5h0M268.4 342.8h0M273.5 332.5h0M284.8 334.1h0M258.0 327.4h0M269.8 330.2h0M285.3 334.0h0M262.2 332.5h0M280.2 331.8h0M265.5 333.1h0M277.6 327.6h0M304.7 337.3h0M249.8 340.8h0M295.2 340.8h0M257.9 346.2h0M263.4 341.6h0M272.9 331.1h0M260.4 323.4h0M293.3 330.9h0M277.1 331.8h0M297.3 335.0h0M273.1 327.9h0M270.4 334.6h0M269.1 331.2h0M268.9 330.1h0M294.3 342.5h0M283.9 340.7h0M282.0 336.5h0M246.5 336.8h0M285.9 330.6h0M288.3 327.8h0M258.0 331.0h0M273.1 335.8h0M274.6 331.8h0M294.0 333.8h0M275.4 328.6h0M270.9 330.1h0M281.7 341.0h0M294.4 327.7h0M273.5 336.4h0M276.0 336.9h0M257.3 333.6h0M263.7 333.0h0M264.3 345.1h0M270.2 339.7h0M269.3 338.2h0M273.2 330.2h0M274.8 335.0h0M276.0 339.4h0M262.3 339.7h0M264.3 333.5h0M273.6 334.6h0M282.3 342.8h0M252.5 331.1h0M249.8 326.2h0M298.5 326.6h0M285.2 329.1h0M265.9 324.0h0M268.4 335.8h0M282.3 338.1h0M271.3 341.6h0M275.2 332.5h0M267.4 324.5h0M275.1 330.5h0M271.0 335.6h0M260.1 325.0h0M293.2 331.3h0M279.0 330.5h0M282.3 336.8h0M269.9 333.0h0M291.4 330.3h0M272.8 337.4h0M279.6 333.1h0M260.7 330.4h0M276.9 335.0h0M272.1 332.3h0M265.5 337.6h0M267.9 335.1h0M289.7 333.4h0M273.9 333.1h0M264.5 330.1h0M255.8 339.7h0M277.5 330.4h0M257.4 331.4h0M258.2 332.4h0M254.5 330.8h0M250.1 330.8h0M252.9 333.6h0M285.6 334.6h0M282.5 329.1h0M266.7 336.1h0M279.7 336.2h0M267.7 334.5h0M277.3 331.3h0M263.9 336.6h0M256.6 331.6h0M279.6 334.2h0M267.3 334.0h0M272.3 330.1h0M292.6 343.8h0M275.0 342.0h0M268.3 335.2h0M276.4 333.6h0M253.1 336.3h0M267.4 340.8h0M283.0 329.5h0M269.5 322.3h0M259.7 336.2h0M273.4 325.8h0M286.7 344.2h0M264.4 330.0h0M273.0 338.9h0M270.8 320.9h0M282.0 337.0h0M257.3 330.7h0M271.0 338.7h0M282.5 336.1h0M284.9 336.7h0M285.3 327.8h0M268.8 333.8h0M269.3 341.3h0M262.7 328.6h0M289.7 335.8h0M289.8 334.2h0M260.1 335.5h0M266.4 336.2h0M288.0 334.0h0M289.4 335.3h0M277.7 338.0h0M258.1 338.1h0M274.2 333.8h0M285.6 335.1h0M254.4 326.5h0M261.5 330.9h0M282.5 333.0h0" stroke="#b5b5b5" stroke-width="0.76" stroke-linecap="round"/>
<path d="M286.4 335.1h0M285.1 319.9h0M276.0 328.9h0M279.0 323.2h0M286.9 331.0h0M284.2 325.9h0M284.5 333.9h0M284.3 329.7h0M286.7 325.8h0M290.1 335.0h0M283.1 331.1h0M281.8 334.1h0M289.2 328.5h0M281.6 333.9h0M282.1 329.1h0M280.1 325.1h0M285.1 327.2h0M284.4 331.4h0M286.3 334.1h0M289.7 326.2h0M280.0 324.8h0M288.0 333.0h0M289.0 330.2h0M287.3 331.5h0M287.5 328.1h0M289.8 331.1h0M279.5 327.8h0M279.5 337.0h0M284.5 328.5h0M284.6 327.7h0M283.3 327.7h0M285.7 331.2h0M289.3 332.8h0M283.2 326.9h0M284.3 325.4h0M279.9 327.0h0M283.5 331.3h0M283.2 335.1h0M287.3 333.3h0M284.0 328.9h0M281.2 332.7h0M280.6 327.4h0M283.9 331.3h0M286.5 331.4h0M289.2 329.0h0M287.9 327.8h0M282.0 332.5h0M285.0 330.0h0M277.1 329.0h0M290.1 337.1h0M283.0 332.8h0M282.7 327.1h0M287.9 335.8h0M280.1 326.9h0M288.5 334.8h0M283.4 326.7h0M284.5 330.8h0M288.5 330.8h0M284.6 319.7h0M280.8 329.2h0M282.7 327.1h0M287.5 326.0h0M288.4 332.0h0M287.4 322.7h0M284.9 330.5h0M280.1 326.8h0M289.3 326.2h0M286.2 323.7h0M281.5 328.5h0M290.1 324.3h0M290.5 327.9h0M280.4 331.9h0M279.8 328.4h0M283.5 328.3h0M290.3 324.2h0M282.0 327.7h0M280.1 325.2h0M296.2 329.6h0M286.2 330.5h0M279.0 330.1h0M283.3 333.8h0M278.2 330.8h0M278.9 327.0h0M289.3 329.6h0M284.1 332.1h0M281.6 333.4h0M283.9 328.9h0M281.7 322.9h0M282.7 332.9h0M282.1 330.6h0M285.5 331.8h0M284.9 327.4h0M290.9 333.1h0M288.0 329.2h0M283.2 331.7h0M292.1 334.7h0M281.9 322.9h0M280.5 335.8h0M280.9 331.4h0M281.7 327.2h0M288.6 323.3h0M281.1 326.2h0M285.6 329.8h0M280.9 327.3h0M283.8 327.5h0M282.8 332.6h0M278.4 324.8h0M290.4 329.6h0M291.7 329.8h0M285.0 324.3h0M284.6 331.5h0M289.7 334.9h0M282.4 332.0h0M284.5 327.5h0M290.9 327.7h0M289.5 327.7h0M284.3 329.6h0M285.8 332.7h0M287.7 326.7h0M283.4 335.2h0M291.7 324.7h0M275.4 331.9h0M278.0 327.2h0M287.2 329.6h0M283.2 327.9h0M278.2 336.9h0M283.4 324.3h0M281.2 329.7h0M286.1 327.2h0M282.4 335.8h0M278.3 337.9h0M285.2 327.4h0M286.8 325.6h0M282.2 338.1h0M289.7 332.8h0M292.1 325.1h0M283.9 330.7h0M287.0 328.0h0M284.3 329.5h0M281.6 318.4h0" stroke="#b5b5b5" stroke-width="0.76" stroke-linecap="round"/>
<path d="M291.0 321.8h0M288.3 316.1h0M279.1 320.0h0M285.9 305.9h0M282.9 314.2h0M278.5 311.6h0M284.0 323.3h0M288.8 313.5h0M281.4 306.6h0M291.7 313.8h0M277.8 308.8h0M278.6 318.5h0M280.6 316.5h0M289.6 323.6h0M280.4 314.0h0M284.0 314.2h0M283.5 310.2h0M280.6 328.3h0M273.6 323.6h0M286.1 310.3h0M287.3 308.4h0M292.5 317.2h0M295.9 310.1h0M284.6 305.8h0M279.1 316.0h0M284.9 321.7h0M281.0 316.0h0M288.6 311.7h0M288.2 304.3h0M285.7 322.0h0M286.7 325.9h0M283.0 321.0h0M273.9 330.8h0M288.5 320.6h0M288.6 312.5h0M272.5 321.8h0M291.5 314.7h0M285.8 308.5h0M283.3 318.6h0M278.7 313.3h0M279.1 299.1h0M288.7 311.5h0M286.1 310.3h0M280.0 297.3h0M290.0 314.6h0M290.6 307.5h0M287.4 321.2h0M290.6 307.1h0M276.0 310.8h0M294.8 305.2h0M281.8 312.3h0M295.6 324.0h0M276.8 302.1h0M279.9 314.0h0M295.7 306.9h0M281.4 308.0h0M283.0 312.7h0M281.9 321.0h0M286.7 316.1h0M288.4 320.1h0M286.4 328.2h0M278.8 309.2h0M295.3 306.3h0M288.3 300.3h0M287.0 320.7h0M287.1 313.2h0M270.1 319.4h0M280.9 320.6h0M290.0 299.3h0M279.2 317.5h0M295.2 300.5h0M284.9 314.0h0M293.4 317.0h0M291.7 310.3h0M280.1 308.1h0M284.1 311.3h0M300.4 311.8h0M290.3 302.3h0M294.1 308.9h0M281.5 316.7h0M281.4 302.9h0M289.2 315.0h0M284.6 318.2h0M284.9 300.7h0M287.1 318.4h0M284.3 305.1h0M282.1 301.0h0M284.4 320.5h0M277.6 321.6h0M286.3 311.6h0M288.2 299.5h0M286.4 319.3h0M279.5 309.2h0M286.7 320.6h0M287.3 311.3h0M283.8 304.2h0M287.4 322.9h0M280.2 312.8h0M288.7 320.9h0M282.3 309.7h0M290.5 309.6h0M284.7 313.9h0M279.8 317.2h0M300.8 321.2h0M290.3 317.8h0M276.1 312.3h0M289.9 324.9h0M284.3 312.4h0M285.2 303.9h0M283.3 317.6h0M293.7 321.8h0M282.1 309.0h0M275.5 319.2h0M282.3 313.7h0M296.3 302.3h0M290.3 319.6h0M276.1 308.5h0M289.2 316.9h0M281.7 306.8h0M294.0 315.1h0M283.8 310.7h0M286.6 319.2h0M271.1 302.3h0M288.2 316.6h0M288.5 315.8h0M288.4 330.7h0M291.4 319.4h0M280.8 315.4h0M272.4 320.3h0M278.6 307.1h0M284.3 308.9h0M285.6 321.2h0M286.2 311.3h0M284.4 324.1h0M285.0 322.4h0M291.4 321.8h0M285.2 307.9h0M276.9 313.2h0M282.9 303.9h0M279.5 308.6h0M292.2 299.6h0M283.6 306.0h0M284.2 312.1h0M287.5 307.8h0M285.5 315.7h0M279.6 319.3h0M282.3 320.9h0M283.0 317.3h0M279.3 324.3h0M274.6 319.5h0M287.6 298.4h0M291.1 320.0h0M283.7 319.7h0M282.4 318.1h0M291.6 305.4h0M292.2 308.5h0M282.0 306.7h0M290.0 311.2h0M282.5 303.3h0M289.6 320.3h0M293.3 307.8h0M290.1 313.5h0M288.2 310.4h0M291.4 317.5h0M280.4 313.4h0M277.4 309.3h0M284.6 306.4h0M283.9 321.2h0M298.3 302.0h0M294.0 312.3h0M281.6 315.0h0M288.0 303.8h0M294.7 319.5h0M291.4 318.5h0M279.0 298.8h0M281.6 316.5h0M284.3 309.7h0M291.5 311.1h0M292.9 314.9h0M275.2 307.2h0M295.7 317.9h0M293.0 322.4h0M291.2 326.0h0M282.4 319.1h0M283.7 310.3h0M288.0 314.4h0M289.0 299.8h0M287.3 308.9h0M278.9 313.6h0M291.8 307.9h0M292.7 308.5h0M291.8 320.1h0M287.6 313.7h0M276.9 315.7h0M282.2 311.3h0M283.7 310.7h0M290.0 308.5h0M275.7 322.6h0M279.4 312.6h0M289.5 318.5h0M289.8 320.1h0M280.9 304.6h0M287.9 316.2h0M272.0 314.4h0M287.7 303.3h0M292.1 309.5h0M282.6 310.2h0M295.9 311.0h0M287.4 320.9h0M276.8 309.9h0M286.4 304.4h0M271.4 306.1h0M285.0 310.9h0M282.9 307.2h0M289.6 309.6h0M284.6 308.8h0M287.3 309.6h0M286.0 323.8h0M280.2 317.4h0M285.2 306.8h0M287.9 297.0h0M282.6 313.5h0M277.5 323.1h0M285.3 320.9h0M293.7 323.5h0M287.5 316.4h0M275.6 307.5h0M281.9 319.3h0M281.5 318.6h0M273.3 322.3h0M281.3 316.2h0M277.8 322.3h0M275.2 311.0h0M290.2 311.0h0M287.6 306.4h0M290.7 312.9h0M287.7 317.3h0M290.9 316.6h0M283.4 315.5h0M283.5 303.7h0M288.8 313.5h0M280.3 306.2h0M288.0 317.2h0M279.5 320.0h0M289.0 312.1h0M275.5 326.1h0M264.9 322.2h0M283.4 310.3h0M283.4 314.7h0M290.2 312.5h0M281.6 327.1h0M275.7 308.9h0M285.8 316.6h0M285.6 315.3h0M287.2 322.5h0M290.1 322.3h0M289.0 321.0h0M283.3 311.4h0M297.9 309.1h0M284.9 310.6h0M290.2 316.9h0M290.6 322.3h0M275.8 315.2h0M282.9 314.6h0M291.3 310.4h0M276.8 311.7h0M289.1 310.8h0M281.5 312.8h0M285.0 322.5h0M280.2 326.5h0M290.2 307.9h0M277.1 309.8h0M283.1 313.7h0M286.4 313.8h0M282.7 311.3h0M286.1 317.2h0M289.6 329.0h0M289.0 320.3h0M276.9 302.8h0M277.2 308.1h0M280.3 305.1h0M286.1 314.5h0M289.3 323.6h0M284.0 314.2h0M289.3 312.3h0M278.6 319.6h0M290.6 304.4h0M272.7 313.2h0M285.9 309.8h0M288.7 312.3h0M276.4 320.6h0M281.0 317.9h0M281.7 314.2h0M282.8 314.7h0M286.7 315.0h0M276.7 313.8h0M295.9 318.9h0M285.1 311.0h0M276.7 307.4h0M278.4 315.8h0M285.3 315.1h0M283.9 325.1h0M290.8 307.7h0M285.7 310.1h0M285.5 308.6h0M273.4 321.5h0M278.5 314.1h0M294.6 300.5h0M285.1 318.0h0M293.8 318.2h0M287.7 309.3h0M282.1 316.0h0M287.2 320.8h0M284.5 318.2h0M277.6 310.9h0M280.2 312.5h0M280.4 315.1h0M280.5 314.0h0M284.8 313.7h0M286.2 319.9h0M285.1 311.5h0M291.4 325.3h0M282.0 312.8h0M279.8 314.5h0M279.9 304.5h0M281.4 308.8h0M281.7 315.6h0M283.4 323.3h0M284.5 314.6h0M286.1 317.4h0M285.8 296.8h0M281.0 316.0h0M285.7 311.9h0M280.6 317.3h0M288.5 316.6h0M282.9 314.2h0M281.1 300.5h0M281.4 318.7h0M292.1 312.5h0M284.3 311.1h0M287.1 314.3h0M284.6 325.3h0M286.6 318.2h0M283.1 320.9h0M283.2 310.8h0M294.6 309.6h0M289.1 312.0h0M284.6 314.4h0M286.7 319.2h0M284.6 300.7h0M280.6 322.6h0M281.7 323.5h0M280.9 324.1h0M286.7 317.0h0M278.0 308.1h0M278.9 314.9h0M274.7 313.7h0M270.5 303.3h0M281.8 292.2h0M282.6 311.6h0M287.2 318.5h0M280.0 306.7h0M294.5 312.1h0M279.5 320.3h0M288.1 317.7h0M279.0 316.4h0M289.1 308.9h0M288.1 307.5h0M274.0 315.3h0M301.5 308.9h0M280.7 314.8h0M284.7 312.1h0M292.5 316.1h0M283.1 304.5h0M276.5 307.5h0M282.8 306.9h0M276.8 330.0h0M286.3 329.4h0M288.9 316.0h0M290.2 303.5h0M282.1 318.2h0M278.0 324.0h0M284.9 302.0h0M287.5 309.0h0M278.7 324.6h0M290.5 310.4h0M289.3 309.2h0M283.7 311.8h0M284.6 317.9h0M279.2 325.7h0M290.7 307.3h0M287.4 308.5h0M280.3 301.5h0M274.0 317.7h0M291.0 311.4h0M282.3 317.4h0M287.4 311.9h0M284.0 307.7h0M286.3 314.7h0M277.1 311.2h0M281.4 319.4h0M294.7 306.5h0M287.5 310.4h0M289.6 306.9h0M288.3 303.9h0M284.7 320.4h0M287.4 322.2h0M301.7 317.3h0M288.5 312.1h0M280.2 307.4h0M280.9 296.6h0M277.4 320.0h0M281.5 322.0h0M282.5 315.9h0M291.2 318.9h0M288.2 312.5h0M286.9 306.0h0M295.2 313.1h0M289.9 314.9h0M281.7 303.6h0M280.9 320.5h0M287.4 317.2h0M290.6 309.6h0M281.1 317.8h0M285.1 312.8h0M277.6 305.1h0M284.2 300.9h0M284.0 319.1h0M281.3 313.0h0M283.8 318.8h0M293.9 304.1h0M284.9 311.7h0M291.1 322.1h0M274.7 316.5h0M286.8 314.1h0M278.5 320.4h0M293.3 303.3h0M284.8 329.3h0M284.5 315.2h0M290.9 312.5h0M287.9 305.7h0M285.0 315.2h0M282.7 316.0h0M283.2 306.2h0M291.7 310.1h0M292.3 309.4h0M292.6 318.9h0M297.6 304.3h0M288.0 303.0h0M281.4 312.6h0M280.7 308.9h0M280.5 319.4h0M288.7 303.7h0M285.1 305.2h0M279.2 321.6h0M286.1 319.6h0M285.3 306.8h0M289.7 307.2h0M283.4 307.2h0M285.9 311.3h0M297.0 299.9h0M283.7 318.8h0M279.7 310.4h0M286.6 309.7h0M280.9 324.6h0M280.0 312.8h0M284.9 311.7h0M279.4 315.8h0M279.2 316.9h0M289.5 323.1h0M277.6 310.5h0M277.0 307.6h0M280.5 316.9h0M282.4 318.1h0M289.7 307.9h0M289.0 322.7h0M288.3 308.1h0M289.0 311.7h0M290.5 303.7h0M278.8 322.8h0M288.5 309.3h0M278.1 309.5h0M284.1 312.4h0M274.7 328.0h0M282.7 324.9h0M295.2 322.3h0M288.9 323.6h0M284.0 310.0h0M281.2 302.9h0M286.4 313.5h0M291.9 309.9h0M283.6 317.5h0M282.3 319.8h0M286.5 317.8h0M280.9 315.9h0M281.4 322.7h0M271.3 307.9h0M292.3 315.1h0M292.7 316.0h0M291.8 307.6h0M279.5 303.9h0M280.1 304.1h0M287.1 309.8h0M290.6 303.6h0M282.2 300.7h0M288.7 308.0h0M290.3 325.6h0M282.1 320.1h0M279.4 302.7h0M290.0 313.7h0M279.9 323.7h0M288.1 314.3h0M281.1 321.4h0M282.7 313.4h0M279.3 310.5h0M281.4 316.6h0M288.0 316.0h0M284.8 321.5h0M283.8 310.8h0M292.4 317.6h0M287.0 309.3h0M291.3 307.5h0M275.1 305.5h0M279.8 318.9h0M285.3 308.3h0M281.1 320.1h0M288.8 311.6h0M276.2 316.8h0M288.9 318.7h0M284.0 313.7h0M285.9 314.0h0M282.2 312.5h0M277.5 310.9h0M287.6 311.6h0M284.6 304.8h0M289.7 310.8h0M287.5 302.8h0M282.1 306.1h0M287.0 309.5h0M274.8 321.3h0M286.1 317.6h0M280.0 310.9h0M294.7 301.7h0M285.3 314.8h0M276.4 322.0h0M277.1 306.4h0M280.8 310.9h0M294.0 303.3h0M286.8 318.3h0M275.8 327.6h0M285.3 307.1h0M288.5 306.7h0M279.7 317.5h0M280.0 317.0h0M291.7 306.7h0M274.9 303.8h0M289.6 311.1h0M293.9 302.2h0M292.7 313.6h0M289.8 316.4h0M291.1 307.2h0M276.9 314.9h0M288.0 302.4h0M285.0 317.1h0M290.2 320.0h0M290.0 302.7h0M280.7 308.3h0M276.8 307.0h0M283.3 319.6h0M285.3 308.8h0M287.8 307.3h0M280.9 310.5h0M282.3 322.8h0M286.9 309.4h0M289.5 319.6h0M288.0 309.3h0M288.2 316.1h0M288.0 314.5h0M282.6 314.4h0M285.4 316.3h0M289.9 301.6h0M281.2 317.3h0M281.9 313.2h0M289.6 327.8h0M292.3 319.4h0M289.2 317.4h0M295.6 315.9h0M277.7 305.6h0M283.0 298.8h0M287.4 305.5h0M287.0 322.7h0M275.6 317.9h0M292.8 307.3h0M274.5 324.7h0M284.8 314.8h0M288.3 313.1h0M279.7 312.7h0M295.3 314.7h0M292.7 313.3h0M286.6 310.6h0M276.5 322.7h0M279.2 315.4h0M276.0 310.4h0M284.8 311.7h0M283.1 314.7h0M275.2 316.5h0M284.3 313.6h0M282.0 309.7h0M283.5 318.4h0M290.3 314.4h0M284.2 316.1h0M285.7 311.2h0M294.3 296.5h0M284.3 319.8h0M289.1 301.7h0M290.8 306.3h0M293.6 312.7h0M293.0 300.0h0M283.9 314.6h0M280.2 308.0h0M285.1 309.7h0M276.9 307.7h0M287.1 316.1h0M277.2 323.8h0M281.4 311.8h0M286.3 310.5h0M288.8 303.5h0M287.4 328.1h0M274.3 317.8h0M284.9 309.7h0M286.9 312.2h0M287.0 321.7h0M287.0 305.8h0M279.9 306.5h0M282.7 313.3h0M283.3 302.5h0M284.8 319.5h0M284.7 309.9h0M290.2 314.6h0M286.4 319.2h0M286.0 303.3h0M279.6 321.0h0M290.9 315.1h0M282.8 315.2h0M283.8 301.3h0M285.8 313.9h0M292.1 314.8h0M287.4 322.8h0M278.4 298.3h0M284.6 309.5h0M296.0 314.4h0M293.4 304.9h0M281.2 313.3h0M292.6 307.3h0M280.6 324.9h0M290.8 319.4h0M284.1 315.7h0M285.7 300.8h0M289.8 322.9h0M276.2 305.2h0M283.2 314.6h0M294.8 315.2h0M286.7 306.7h0M285.8 317.3h0M279.8 317.5h0M285.1 313.8h0M280.2 322.2h0M278.1 305.9h0M296.6 307.9h0M285.9 314.1h0M279.0 314.3h0M287.0 303.8h0M286.5 319.1h0M282.3 317.6h0M282.8 327.4h0M289.5 314.1h0M276.0 318.2h0M289.5 309.3h0M278.4 309.4h0M285.4 320.9h0M292.7 316.2h0M281.8 318.9h0M289.1 314.5h0M283.7 315.8h0M288.1 331.0h0M280.5 316.5h0M283.8 306.7h0M282.6 313.9h0M275.4 314.2h0M288.5 306.9h0M290.7 316.9h0M286.9 314.5h0M285.6 325.2h0M282.1 323.7h0M283.1 316.6h0M286.0 319.0h0M275.3 305.6h0M289.1 316.5h0M288.9 309.3h0M287.7 311.2h0M292.0 297.7h0M276.3 319.3h0M287.9 309.8h0M290.6 313.2h0M280.3 315.9h0M291.0 311.4h0M284.3 323.4h0M284.7 312.3h0M285.7 314.5h0M288.3 312.2h0M287.9 317.7h0M295.6 305.4h0M286.3 310.4h0M284.7 306.1h0M285.1 311.7h0M285.4 321.8h0M279.0 314.9h0M283.5 319.2h0M288.1 304.5h0M274.5 312.7h0M278.0 316.6h0M295.1 314.3h0M297.0 315.2h0M283.2 313.9h0M279.4 318.6h0M286.9 312.3h0M283.7 308.0h0M288.7 304.0h0M287.8 301.8h0M271.7 305.8h0M284.3 327.2h0M296.2 327.1h0M288.7 311.1h0M280.8 309.0h0M285.9 310.6h0M294.9 310.6h0M291.0 313.8h0M290.5 304.6h0M285.5 309.9h0M291.0 319.2h0M289.1 300.9h0M284.9 311.8h0M282.3 316.6h0M283.2 314.4h0M289.3 324.3h0M282.9 302.0h0M287.9 314.0h0M289.4 307.0h0M288.8 312.7h0M284.5 307.1h0M280.9 296.4h0M283.2 320.5h0M283.4 327.0h0M281.2 321.9h0M288.6 314.6h0M293.7 300.9h0M286.6 307.9h0M283.7 314.5h0M290.0 304.2h0M274.1 318.6h0M288.7 310.4h0M283.2 314.7h0M285.2 320.6h0M279.5 306.7h0M283.9 309.0h0M288.8 323.3h0M290.9 322.5h0M284.5 309.5h0M275.6 310.4h0M273.8 311.1h0M284.7 309.4h0M291.6 318.2h0M286.2 322.8h0M293.3 311.3h0M273.1 315.2h0M290.0 321.0h0M277.5 312.6h0M273.7 313.9h0M289.8 312.8h0M287.9 315.4h0M288.0 311.0h0M284.0 313.5h0M286.0 308.8h0M283.0 310.2h0M293.5 309.4h0M289.0 322.1h0M282.6 304.2h0M286.7 309.9h0M295.3 316.3h0M293.7 312.2h0M278.7 313.3h0M288.2 319.2h0M277.0 322.3h0M290.1 329.8h0M279.6 309.7h0M294.6 313.9h0M287.2 306.1h0M274.5 313.5h0M280.4 318.0h0M289.0 319.8h0" stroke="#8a8a8a" stroke-width="0.76" stroke-linecap="round" opacity="0.85"/>
<g filter="url(#bl2)">
<ellipse cx="285.2" cy="313.3" rx="6.9" ry="9.4" transform="rotate(14 285.3 313.3)" fill="#a846ad"/>
<ellipse cx="285.5" cy="313.1" rx="5.3" ry="7.4" transform="rotate(14 285.3 313.3)" fill="#5c62c4"/>
<ellipse cx="285.8" cy="313.0" rx="4.1" ry="5.8" transform="rotate(14 285.3 313.3)" fill="#2aaec8"/>
<ellipse cx="286.0" cy="312.9" rx="3.0" ry="4.3" transform="rotate(14 285.3 313.3)" fill="#4db84a"/>
<ellipse cx="286.1" cy="312.8" rx="1.8" ry="2.6" transform="rotate(14 285.3 313.3)" fill="#dc6a2a"/>
</g>
<path d="M287.8 319.0h0M287.1 320.9h0M281.9 307.9h0M285.6 303.0h0M280.9 319.1h0M283.3 320.3h0M290.6 306.5h0M284.8 323.6h0M283.1 322.5h0M280.2 310.2h0M279.4 307.8h0M291.2 315.4h0M292.1 308.5h0M286.0 305.7h0M279.2 311.6h0M280.7 310.2h0M290.8 314.7h0M285.5 319.9h0M292.2 307.9h0M283.4 305.3h0M284.7 306.8h0M285.6 306.2h0M281.2 306.3h0M288.9 319.0h0M288.8 320.6h0M280.6 316.8h0M285.0 320.6h0M286.7 323.3h0M281.3 318.2h0M292.7 308.9h0M285.0 321.0h0M290.2 310.5h0M279.0 313.7h0M283.1 320.3h0M280.0 310.4h0M292.9 311.8h0M280.1 306.5h0M288.4 305.4h0M279.0 313.6h0M290.6 316.8h0M286.8 306.4h0M281.3 319.1h0M279.3 312.2h0M292.1 307.5h0M283.0 322.4h0M291.6 308.3h0M288.9 307.7h0M290.5 310.9h0M293.3 313.9h0M292.4 309.2h0M280.2 320.7h0M281.0 318.1h0M281.7 305.0h0M283.2 307.4h0M288.0 321.5h0M287.4 303.4h0M280.9 306.4h0M291.3 311.5h0M285.7 305.8h0M289.9 318.4h0M281.1 305.4h0M292.8 314.2h0M278.0 312.6h0M280.2 314.1h0M289.3 319.3h0M290.0 305.8h0M291.9 309.6h0M290.8 306.2h0M292.2 312.5h0M278.4 313.4h0M282.1 320.0h0M282.6 307.4h0M279.8 314.0h0M289.4 320.2h0M291.1 313.9h0M288.5 304.0h0M289.7 303.9h0M290.4 313.3h0M287.2 323.0h0M282.5 306.2h0M285.0 320.4h0M277.8 312.5h0M286.4 319.6h0M278.8 310.9h0M290.1 307.9h0M285.9 319.9h0M292.9 312.1h0M287.6 319.0h0M279.7 310.5h0M291.3 317.4h0M282.4 319.6h0M284.2 322.9h0M291.0 315.1h0M290.4 311.4h0M283.0 304.7h0M282.4 305.1h0M293.4 311.8h0M279.3 313.9h0M286.2 319.6h0M281.3 306.5h0M279.9 306.7h0M290.0 320.5h0M285.0 322.0h0M279.7 318.0h0M286.0 320.8h0M278.5 317.1h0M288.1 322.3h0M284.1 306.5h0M291.9 313.8h0M288.6 306.9h0M287.8 320.5h0M293.0 311.2h0M282.3 322.9h0M292.2 312.3h0M287.0 322.9h0M280.0 313.1h0M285.9 320.9h0M290.4 316.9h0M288.3 321.8h0M283.1 323.0h0M285.4 323.0h0M291.4 318.2h0M290.3 309.8h0M289.3 317.0h0M289.1 321.1h0M290.6 317.3h0M290.4 316.1h0M280.3 317.9h0M290.1 316.3h0M289.6 307.7h0M278.7 317.1h0M280.6 318.8h0M279.9 315.8h0M284.9 323.3h0M283.1 307.5h0M277.5 314.4h0M286.8 320.7h0M284.1 304.0h0M290.3 309.1h0M281.6 309.1h0M281.0 308.5h0M286.5 320.2h0M285.2 306.4h0M285.6 322.1h0M292.0 308.9h0M278.8 312.8h0M291.2 312.6h0M284.7 320.2h0M280.4 320.1h0M280.8 319.2h0M290.4 315.7h0M291.9 307.9h0M281.1 321.5h0M283.6 323.3h0M289.4 307.2h0M286.1 322.8h0M287.7 305.8h0M279.8 314.8h0M287.8 306.8h0M286.9 320.3h0" stroke="#b060b5" stroke-width="0.90" stroke-linecap="round"/>
<path d="M286.0 321.8h0M289.1 304.4h0M278.5 316.0h0M284.9 305.3h0M288.1 321.2h0M285.7 321.1h0M283.8 306.1h0M279.6 313.7h0M279.1 311.8h0M286.3 304.5h0M283.7 320.9h0M290.5 305.1h0M291.4 305.9h0M281.9 304.8h0M291.6 313.7h0M280.5 309.2h0M290.9 309.8h0M283.6 305.6h0M282.3 307.0h0M281.6 306.0h0M290.7 319.8h0M281.1 319.9h0M291.0 318.2h0M279.3 319.5h0M282.3 306.0h0M291.7 316.7h0M290.8 314.4h0M279.4 321.2h0M291.4 311.4h0M289.3 306.8h0M292.4 310.6h0M290.0 306.7h0M278.8 311.0h0M291.8 308.3h0M287.9 305.1h0M293.2 310.2h0M289.7 320.9h0M289.6 307.9h0M278.9 314.9h0M285.8 322.5h0M281.8 320.4h0M278.2 317.1h0M289.6 304.7h0M277.9 318.0h0M291.4 310.0h0M291.1 312.2h0M281.5 308.6h0M291.3 310.8h0M281.1 308.2h0M282.8 322.2h0M282.1 320.9h0M292.3 307.5h0M277.9 314.0h0M292.0 310.7h0M278.8 310.4h0M288.3 321.0h0M292.4 310.6h0M281.6 305.2h0M289.6 304.3h0M288.1 303.4h0" stroke="#c8c8c8" stroke-width="0.80" stroke-linecap="round"/>
<rect x="243.30" y="278.50" width="69.10" height="73.70" fill="none" stroke="#231f20" stroke-width="1.1"/>
<rect x="271.70" y="297.40" width="33.40" height="30.90" fill="none" stroke="#333" stroke-width="1.0"/>
<line x1="300.20" y1="314.70" x2="323.10" y2="314.70" stroke="#111" stroke-width="1.1"/>
<path d="M327.6 314.7 L322.6 317.1 L322.6 312.3 Z" fill="#111"/>
<path d="M239.8 327.4 V356.3 H269.1" fill="none" stroke="#cf1f33" stroke-width="1.0"/>
<path d="M237.5 329.0 L239.8 324.4 L242.1 329.0 Z" fill="#cf1f33"/>
<path d="M267.5 354.0 L272.1 356.3 L267.5 358.6 Z" fill="#cf1f33"/>
<text x="237.00" y="342.30" font-size="7.9" text-anchor="middle" textLength="14.80" lengthAdjust="spacingAndGlyphs" transform="rotate(-90 237.00 342.30)">CD3</text>
<text x="245.40" y="365.90" font-size="7.7" textLength="15.20" lengthAdjust="spacingAndGlyphs">CD4</text>
<path d="M353.5 299.8h0M358.1 302.7h0M376.0 282.5h0M358.2 319.6h0M346.8 316.5h0M354.6 318.8h0M363.2 296.9h0M353.9 311.2h0M341.4 316.8h0M350.4 325.5h0M355.3 329.5h0M373.0 304.5h0M358.8 308.3h0M362.9 304.7h0M366.5 314.5h0M364.8 299.1h0M366.2 304.5h0M368.6 317.3h0M368.1 291.7h0M355.9 322.2h0M361.4 312.3h0M362.8 308.7h0M351.9 316.6h0M359.6 309.9h0M356.9 312.3h0M361.0 311.2h0M366.6 302.2h0M349.4 303.0h0M362.9 317.0h0M371.4 313.4h0M345.9 318.0h0M353.7 314.6h0M360.4 306.9h0M360.7 293.0h0M370.9 291.4h0M368.4 295.3h0M348.5 313.8h0M360.1 311.5h0M353.8 305.3h0M376.7 289.7h0M360.1 308.0h0M361.2 313.2h0M368.7 301.7h0M376.0 311.4h0M358.2 315.8h0M356.6 310.4h0M356.0 310.3h0M358.0 312.1h0M361.8 326.5h0M349.4 317.3h0M359.2 305.3h0M362.7 317.1h0M368.1 297.8h0M377.5 280.1h0M368.0 289.8h0M351.2 320.0h0M367.5 303.0h0M366.2 300.8h0M361.3 305.1h0M352.9 323.9h0M358.1 330.2h0M354.2 322.2h0M336.8 328.2h0M373.2 298.6h0M349.0 318.3h0M350.8 296.1h0M364.0 299.8h0M352.7 301.5h0M360.6 315.8h0M367.3 302.5h0M353.6 305.6h0M358.8 321.1h0M352.8 310.4h0M362.6 315.5h0M370.2 291.7h0M351.0 315.2h0M354.1 318.0h0M352.5 327.9h0M357.3 317.3h0M354.6 315.9h0M343.1 325.7h0M357.9 307.8h0M371.0 291.6h0M355.5 311.6h0M359.4 325.5h0M342.6 337.0h0M358.6 308.5h0M364.1 307.5h0M371.4 314.0h0M357.7 315.3h0M366.3 317.8h0M372.9 300.1h0M364.1 310.8h0M350.5 321.2h0M341.3 327.0h0M358.7 307.6h0M335.5 315.8h0M359.7 297.0h0M352.5 320.4h0M376.1 292.0h0M364.2 299.6h0M341.1 312.2h0M353.9 317.2h0M370.5 301.2h0M381.5 291.1h0M349.2 325.3h0M363.8 308.3h0M352.3 302.8h0M364.4 316.2h0M345.9 323.8h0M375.3 302.9h0M354.5 328.8h0M358.1 304.7h0M349.1 325.0h0M368.5 287.1h0M349.1 310.7h0M361.3 298.6h0M372.5 308.7h0M368.4 289.9h0M365.0 304.6h0M348.8 300.7h0M357.1 310.9h0M371.8 280.6h0M349.0 332.4h0M364.4 297.7h0M362.1 306.9h0M369.9 317.2h0M347.4 308.9h0M345.0 326.6h0M355.4 313.2h0M375.5 287.2h0M336.6 342.8h0M361.2 310.4h0M365.1 290.6h0M355.7 311.7h0M350.2 336.3h0M365.2 310.9h0M347.6 310.1h0M370.9 296.2h0M364.2 301.3h0M342.4 340.1h0M373.2 289.3h0M346.3 331.3h0M379.9 290.4h0M353.5 325.4h0M368.5 327.1h0M358.4 301.5h0M375.9 301.3h0M358.9 284.5h0M368.3 292.8h0M383.3 291.6h0M367.6 306.5h0M362.7 320.0h0M363.1 295.3h0M360.9 322.4h0M361.5 309.0h0M349.1 317.2h0M382.5 280.9h0M365.9 313.5h0M369.1 302.5h0M356.2 321.3h0M353.4 306.9h0M345.3 341.1h0M347.7 335.8h0M345.0 331.8h0M360.6 305.3h0M374.2 291.0h0M359.1 310.4h0M351.8 316.4h0M353.5 338.0h0M361.8 299.8h0M368.6 295.5h0M344.1 311.2h0M350.2 337.4h0M356.4 304.8h0M347.0 339.9h0M379.6 286.4h0M355.0 298.0h0M358.8 297.5h0M353.3 323.2h0M347.2 327.6h0M339.9 323.1h0M356.6 318.3h0M355.6 314.2h0M356.7 315.1h0M377.6 305.3h0M356.8 326.7h0M356.8 313.3h0M368.0 307.9h0M360.2 317.9h0M354.5 312.0h0M379.2 291.5h0M352.4 316.3h0M371.3 312.7h0M361.5 322.6h0M355.1 295.9h0M355.1 316.5h0M369.7 313.0h0M374.6 307.2h0M345.4 329.4h0M358.3 306.7h0M354.1 308.4h0M350.1 318.9h0M366.5 306.2h0M350.4 313.1h0M367.7 312.7h0M345.7 313.7h0M381.7 303.7h0M366.0 293.2h0M369.0 297.4h0M355.1 310.9h0M367.5 307.1h0M359.2 295.0h0M364.6 309.8h0M359.4 308.9h0M372.8 300.0h0M360.6 303.0h0M357.3 312.0h0M375.5 290.1h0M349.7 315.6h0M350.4 303.2h0M364.4 310.7h0M371.6 294.2h0M340.2 325.9h0M369.4 304.3h0M361.4 321.6h0M355.6 313.3h0M346.8 318.5h0M345.2 324.4h0M366.3 300.7h0M360.2 303.9h0M353.4 312.2h0M366.1 304.7h0M369.1 312.5h0M363.1 289.2h0M378.0 306.5h0M367.3 304.9h0M352.8 324.9h0M363.5 291.2h0M355.7 315.3h0M351.8 319.8h0M346.8 328.2h0M361.9 322.2h0M354.2 308.7h0M358.2 311.9h0M364.1 320.9h0M362.6 311.4h0M360.7 331.3h0M352.9 325.2h0M351.8 310.8h0M371.5 298.7h0M338.6 334.7h0M354.5 322.7h0M359.6 327.9h0M344.4 305.3h0M361.9 309.2h0M347.8 320.7h0M346.3 327.2h0M365.5 309.7h0M353.1 319.4h0M350.5 319.3h0M349.0 323.3h0M363.1 309.7h0M349.4 328.5h0M359.3 314.2h0M376.8 294.9h0M361.3 319.4h0M358.7 302.9h0M382.2 287.4h0M363.1 302.0h0M361.7 312.6h0M364.7 298.8h0M363.9 317.4h0M362.1 321.4h0M363.9 296.4h0M347.2 345.6h0M355.7 303.8h0M364.6 293.3h0M356.7 326.6h0M354.4 327.5h0M349.2 312.7h0M366.0 293.7h0M358.7 332.1h0M363.8 301.8h0M362.6 311.6h0M362.0 307.3h0M355.8 301.3h0M359.9 295.8h0M343.6 325.6h0M354.6 317.5h0M363.4 322.1h0M362.2 330.0h0M348.8 309.9h0M357.0 294.2h0M367.2 323.9h0M379.1 306.8h0M359.5 294.1h0M348.7 337.3h0M366.5 280.4h0M358.2 308.2h0M360.7 311.7h0M355.1 322.4h0M353.1 298.0h0M350.7 320.4h0M370.1 301.3h0M362.6 291.6h0M364.8 311.4h0M365.5 309.9h0M364.5 328.6h0M347.3 331.1h0M350.2 334.1h0M380.5 291.0h0M363.1 298.3h0M353.2 322.1h0M346.7 301.1h0M345.8 332.7h0M359.1 305.2h0M340.6 315.6h0M363.8 319.1h0M356.9 320.8h0M351.7 307.1h0M359.9 313.1h0M373.4 312.4h0M373.4 295.2h0M370.2 296.9h0M366.7 305.6h0M376.2 293.8h0M361.2 310.0h0M370.2 291.6h0M354.2 309.0h0M367.5 317.4h0M371.3 291.4h0M370.3 303.0h0M361.4 316.1h0M358.3 313.4h0M345.9 306.1h0M353.4 302.6h0M372.1 304.1h0M355.2 324.8h0M346.5 316.1h0M351.8 324.3h0M351.9 315.7h0M367.0 316.9h0M350.0 312.6h0M363.5 324.8h0M357.4 306.1h0M356.3 313.7h0M375.2 288.4h0M360.3 294.4h0M363.3 332.1h0M364.3 285.6h0M368.1 283.6h0M355.7 296.0h0M357.8 312.4h0M365.9 294.9h0M367.9 288.7h0M354.9 295.5h0M353.1 332.8h0M357.7 308.6h0M360.5 300.9h0M372.9 291.5h0M356.6 298.6h0M348.0 321.0h0M360.4 313.2h0M354.1 314.1h0M352.4 306.9h0M355.4 332.4h0M377.8 284.7h0M344.2 324.7h0M369.3 293.8h0M364.2 311.1h0M355.6 320.8h0M364.1 291.1h0M369.8 310.5h0M370.0 284.6h0M358.7 312.8h0M335.4 327.4h0M365.9 316.2h0M353.8 304.5h0M359.9 301.1h0M352.4 311.6h0M358.9 336.5h0M368.9 306.5h0M359.0 313.1h0M369.2 308.4h0M354.2 298.0h0M338.1 336.3h0M368.9 303.4h0M363.1 315.9h0M347.8 335.4h0M359.3 310.0h0M359.0 325.0h0M365.4 304.5h0M372.0 302.5h0M349.5 339.7h0M368.9 285.0h0M352.0 323.2h0M375.8 296.0h0M362.7 296.0h0M355.3 319.7h0M353.9 319.1h0M369.3 311.6h0M353.8 316.5h0M360.1 300.7h0M364.5 313.2h0M360.8 325.6h0M372.8 296.3h0M351.8 333.7h0M354.6 306.1h0M365.4 313.1h0M362.5 290.1h0M366.9 316.2h0M365.2 310.9h0M378.9 301.3h0M361.2 280.8h0M362.9 305.4h0M365.3 300.9h0M377.3 279.2h0M353.9 317.8h0M347.8 318.1h0M357.7 298.3h0M352.6 313.4h0M363.8 316.2h0M366.1 298.9h0M354.6 319.6h0M349.5 321.2h0M350.6 309.6h0M345.0 319.2h0M364.9 297.7h0M346.9 313.7h0M368.9 291.3h0M349.2 326.5h0M367.7 320.5h0M353.8 311.0h0M360.2 304.5h0M359.4 317.0h0M381.7 293.2h0M350.1 329.6h0M367.9 295.2h0M357.7 322.7h0M358.2 304.4h0M367.5 320.7h0M367.5 300.9h0M353.5 311.4h0M361.4 304.7h0M358.0 315.8h0M368.7 302.0h0M341.5 318.9h0M354.9 320.3h0M351.0 324.0h0M366.6 312.3h0M364.0 303.1h0M354.9 302.9h0M368.5 308.4h0M374.2 283.3h0M368.9 292.0h0M355.2 313.3h0M346.4 313.8h0M350.7 335.3h0M369.7 290.6h0M349.3 305.4h0M371.2 289.9h0M372.7 314.0h0M368.6 293.2h0M368.5 298.0h0M357.1 316.6h0M368.2 312.5h0M360.2 320.7h0M365.5 297.4h0M348.4 316.5h0M366.1 280.0h0M366.2 314.2h0M353.4 308.9h0M346.0 322.0h0M363.5 290.5h0M342.3 335.8h0M361.1 329.1h0M378.3 296.1h0M360.3 298.4h0M347.7 321.7h0M355.1 332.3h0M346.5 295.5h0M357.9 306.8h0M366.8 298.1h0M342.5 335.9h0M351.0 332.2h0M354.8 333.8h0M363.3 313.4h0M341.6 330.2h0M362.6 308.5h0M362.8 308.6h0M363.2 315.0h0M362.7 292.7h0M370.9 284.2h0M354.9 322.7h0M366.4 318.8h0M383.3 284.6h0M360.6 305.1h0M353.1 319.0h0M383.1 294.8h0" stroke="#8a8a8a" stroke-width="0.76" stroke-linecap="round" opacity="0.75"/>
<path d="M345.7 342.4h0M352.9 327.3h0M348.5 338.2h0M353.3 343.6h0M355.3 331.0h0M344.7 339.5h0M356.0 336.8h0M348.9 333.4h0M350.3 329.4h0M352.8 335.2h0M347.6 329.7h0M342.2 324.1h0M344.2 339.2h0M356.0 329.2h0M350.5 330.8h0M348.9 334.2h0M354.7 340.1h0M353.6 324.1h0M352.2 344.4h0M338.1 329.2h0M350.2 340.1h0M348.8 333.0h0M350.7 341.4h0M344.3 330.5h0M350.8 336.1h0M346.9 344.8h0M341.0 334.8h0M363.3 326.6h0M346.7 334.2h0M347.9 335.1h0M348.7 333.6h0M354.6 335.8h0M343.1 328.3h0M355.6 343.1h0M347.7 331.4h0M347.0 334.8h0M349.2 349.2h0M351.2 318.3h0M343.3 329.5h0M347.7 336.1h0M343.5 336.4h0M353.7 336.1h0M355.3 334.2h0M364.3 344.3h0M356.6 338.4h0M351.3 325.6h0M343.6 330.8h0M357.9 338.8h0M354.2 331.8h0M361.1 337.8h0M352.5 338.8h0M338.8 343.2h0M336.7 339.9h0M352.1 337.0h0M358.8 336.6h0M343.8 344.0h0M344.1 334.0h0M348.8 346.7h0M341.4 326.3h0M349.3 339.3h0M350.2 334.5h0M355.7 342.8h0M348.3 343.2h0M350.2 328.3h0M350.7 337.1h0M342.7 336.3h0M346.8 327.7h0M350.4 335.5h0M352.6 333.2h0M352.8 337.4h0M355.9 341.6h0M348.4 337.7h0M352.7 336.9h0M357.5 342.4h0M352.4 330.7h0M347.6 337.8h0M353.9 335.9h0M345.6 330.1h0M350.9 335.6h0M351.2 330.3h0" stroke="#b5b5b5" stroke-width="0.76" stroke-linecap="round"/>
<path d="M370.0 293.5h0M361.8 302.4h0M354.1 315.2h0M360.4 311.9h0M363.1 303.5h0M376.0 288.8h0M366.1 306.0h0M360.8 294.8h0M373.1 293.4h0M358.5 309.5h0M358.6 320.5h0M365.1 303.4h0M365.4 300.9h0M351.5 311.6h0M360.3 300.1h0M358.9 310.4h0M359.9 315.9h0M347.5 320.5h0M363.9 303.7h0M356.4 320.4h0M356.3 302.9h0M364.0 324.4h0M366.0 311.3h0M370.5 290.6h0M359.8 316.2h0M348.6 309.5h0M351.8 315.6h0M367.2 305.8h0M371.7 310.8h0M369.8 297.2h0M353.8 313.8h0M360.4 301.1h0M353.4 313.4h0M357.7 312.5h0M359.6 308.2h0M356.2 314.7h0M362.9 306.8h0M348.5 315.1h0M370.1 296.0h0M365.7 294.5h0M358.3 319.9h0M366.8 299.2h0M372.6 292.5h0M352.0 320.7h0M359.9 304.9h0M356.9 320.0h0M351.3 312.6h0M351.6 315.3h0M359.1 309.4h0M352.1 316.9h0M364.8 310.2h0M345.1 330.5h0M358.9 298.0h0M362.7 307.3h0M369.2 298.7h0M359.4 314.2h0M367.1 301.7h0M355.1 319.2h0M351.7 316.0h0M364.8 299.1h0M367.6 308.7h0M374.9 297.7h0M359.6 301.6h0M361.4 316.1h0M363.3 297.2h0M363.3 307.2h0M362.3 308.9h0M357.3 309.1h0M361.8 294.9h0M351.9 305.4h0M370.8 310.8h0M358.7 317.9h0M363.4 307.6h0M356.9 317.9h0M346.7 339.8h0M357.2 319.7h0M365.8 298.6h0M373.3 295.4h0M353.9 310.0h0M358.3 308.9h0M357.9 311.7h0M353.1 309.5h0M358.9 297.9h0M362.8 304.5h0M363.4 303.2h0M348.6 313.9h0M364.7 307.0h0M354.2 319.9h0M361.3 297.1h0M362.3 308.2h0M362.2 313.3h0M358.1 307.8h0M361.3 324.4h0M370.0 303.3h0M355.8 320.4h0M359.3 309.7h0M370.4 307.5h0M364.3 311.8h0M356.9 325.6h0M364.8 310.6h0M369.1 300.3h0M361.4 305.6h0M354.9 314.9h0M356.8 320.7h0M366.8 305.2h0M358.0 312.3h0M363.8 309.3h0M358.0 317.0h0M348.3 320.0h0M357.2 306.0h0M350.1 317.9h0M351.9 318.3h0M365.1 307.0h0M361.3 306.2h0M363.6 306.9h0M353.8 316.1h0M369.9 305.9h0M355.7 309.2h0M353.2 303.1h0M354.3 326.0h0M357.4 320.4h0M365.2 299.0h0M366.9 301.5h0M355.4 322.0h0M356.0 304.2h0M367.3 302.4h0M363.4 318.2h0M380.1 288.3h0M357.7 305.9h0M357.9 318.3h0M361.4 325.2h0M359.7 311.0h0M370.0 287.7h0M354.9 322.9h0M363.4 300.2h0M366.5 308.1h0M366.0 302.8h0M364.2 309.0h0M366.2 312.1h0M357.5 299.4h0M355.5 315.3h0M369.8 310.8h0M364.2 306.0h0M361.1 300.6h0M365.7 319.8h0M363.5 297.3h0M369.1 293.3h0M359.4 315.2h0M374.5 301.0h0M363.6 314.1h0M350.7 316.5h0M363.6 309.3h0M372.1 295.1h0M356.3 313.8h0M355.0 306.1h0M368.0 293.7h0M360.4 309.8h0M368.7 301.2h0M361.0 308.1h0M366.9 304.4h0M352.8 313.3h0M354.6 323.3h0M356.4 317.9h0M370.9 293.0h0M367.8 297.0h0M359.5 312.1h0M363.7 307.7h0M364.8 300.2h0M347.6 315.5h0M366.3 317.1h0M349.8 325.0h0M358.2 293.0h0M362.2 319.7h0M366.0 303.7h0M360.2 319.0h0M365.7 292.9h0M362.2 287.5h0M360.8 303.1h0M371.2 305.2h0M354.7 312.3h0M361.1 310.8h0M366.5 305.5h0M363.8 320.0h0M356.8 320.6h0M354.1 301.0h0M370.0 294.0h0M360.1 324.2h0M345.4 334.1h0M361.4 304.8h0M362.0 302.5h0M347.3 318.8h0M365.3 322.9h0M368.5 312.5h0M369.8 304.3h0M350.8 319.6h0M368.1 311.7h0M352.8 319.0h0M353.7 315.7h0M354.0 318.0h0M359.1 309.0h0M347.9 320.8h0M359.4 306.5h0M352.6 321.6h0M362.2 298.3h0M369.7 302.6h0M360.5 318.7h0M349.9 319.3h0M363.3 303.1h0M358.5 329.4h0M362.1 318.9h0M356.9 318.8h0M358.0 308.8h0M366.7 297.4h0M365.1 313.3h0M360.1 315.0h0M358.3 297.3h0M356.0 316.6h0M354.3 330.0h0M356.9 308.1h0M354.3 307.2h0M352.0 310.2h0M356.3 311.7h0M354.0 302.0h0M361.6 303.9h0M358.2 309.2h0M369.6 299.3h0M365.4 305.1h0M367.9 306.1h0M368.3 292.3h0M366.4 302.1h0M357.1 315.2h0M363.0 314.8h0M363.0 304.8h0M371.3 296.5h0M349.0 323.6h0M351.1 324.3h0M362.7 315.8h0M363.9 311.6h0M357.8 309.4h0M365.2 302.8h0M362.9 309.7h0M365.0 316.6h0M355.6 317.7h0M363.3 299.0h0M349.2 327.2h0M357.8 316.1h0M366.4 299.1h0M363.0 307.2h0M363.9 307.6h0M366.2 306.0h0M347.1 307.5h0M361.3 315.2h0M366.3 303.3h0M351.0 318.4h0M358.8 311.7h0M354.8 308.1h0M358.7 314.6h0M364.1 314.2h0M365.8 298.9h0M361.8 319.9h0M362.3 310.3h0M364.1 307.7h0M367.3 302.9h0M366.4 299.9h0M354.1 308.7h0M366.9 294.6h0M357.3 309.6h0M365.4 314.4h0M350.6 315.2h0M368.0 303.5h0M356.1 319.1h0M362.4 304.1h0M356.5 304.7h0M367.9 303.7h0M350.0 320.8h0M361.2 305.7h0M370.5 306.6h0M363.1 304.2h0M359.4 308.0h0M377.4 281.5h0M357.6 305.2h0M360.2 299.5h0M356.6 317.2h0M340.4 334.2h0M360.4 304.6h0M346.9 318.8h0M366.6 304.8h0M368.9 300.2h0M355.5 306.5h0M369.3 295.5h0M357.6 307.6h0M363.2 308.4h0M354.8 314.6h0M357.1 322.0h0M367.3 306.6h0M361.6 316.0h0M350.4 315.8h0M355.5 308.8h0M377.3 284.1h0M347.5 340.7h0M356.8 330.4h0M363.6 308.1h0M357.0 308.6h0M367.8 300.7h0M352.8 317.9h0M359.3 304.0h0M347.7 317.4h0M371.9 300.6h0M365.3 303.2h0M354.2 318.3h0M357.7 301.8h0M364.8 308.5h0M363.9 296.8h0M366.4 301.1h0M367.9 309.4h0M363.8 294.7h0M369.8 302.6h0M356.2 321.6h0M361.2 303.0h0M364.1 313.2h0M371.7 305.2h0M365.7 306.0h0M361.4 307.2h0M363.9 302.6h0M360.8 307.1h0M347.5 319.6h0M358.5 309.2h0M358.4 304.2h0M380.0 291.2h0M362.7 302.7h0M362.1 307.5h0M352.7 312.8h0M358.5 309.0h0M366.5 311.0h0M373.8 302.5h0M353.8 316.8h0M367.8 310.3h0M360.0 322.9h0M363.1 304.7h0M369.1 296.3h0M371.4 301.1h0M351.7 306.8h0M356.1 308.9h0M362.4 303.1h0M359.8 313.7h0M355.3 318.3h0M354.3 322.4h0M365.1 311.7h0M357.8 312.3h0M366.2 305.5h0M349.8 318.3h0M363.0 304.4h0M363.0 301.2h0M370.3 298.4h0M360.5 293.8h0M356.7 312.1h0M365.8 305.9h0M353.7 312.1h0M357.2 309.5h0M358.7 315.9h0M359.0 308.5h0M370.1 304.6h0M362.9 308.4h0M351.0 325.4h0M372.5 299.1h0M349.3 333.8h0M359.4 306.4h0M364.0 300.4h0M362.9 302.0h0M361.1 311.9h0M362.1 302.7h0M370.2 307.5h0M352.7 301.6h0M362.0 303.0h0M356.0 309.0h0M363.8 312.3h0M356.0 314.7h0M347.7 323.9h0M360.9 315.5h0M356.2 321.6h0M364.1 306.9h0M368.6 297.4h0M355.4 306.2h0M360.3 317.4h0M360.8 315.2h0M358.5 304.0h0M363.3 306.7h0M358.0 306.6h0M368.7 314.6h0M363.0 318.3h0M363.3 309.9h0M369.6 305.5h0M359.6 320.5h0M356.4 321.9h0M365.4 309.3h0M365.5 309.0h0M366.5 298.6h0M361.5 318.6h0M363.3 306.6h0M362.6 299.7h0M367.8 308.0h0M362.7 306.3h0M361.4 310.4h0M352.1 318.3h0M360.5 306.0h0M356.5 307.1h0M362.1 303.8h0M361.1 306.4h0M354.2 321.5h0M374.1 305.8h0M357.2 303.9h0M349.6 314.9h0M359.1 313.8h0M360.5 310.4h0M364.9 301.3h0M360.6 302.3h0M360.2 312.6h0M363.2 307.7h0M352.1 316.9h0M369.1 294.1h0M366.9 299.8h0M359.4 324.3h0M362.1 295.2h0M370.6 292.9h0M371.9 299.9h0M363.9 304.1h0M347.3 323.5h0M358.5 318.6h0M366.8 295.5h0M368.2 302.1h0M353.1 323.5h0M362.5 303.0h0M368.1 312.4h0M363.5 305.1h0M360.1 298.9h0M365.6 299.2h0M355.3 313.7h0M358.6 322.3h0M354.0 319.1h0M361.5 300.9h0M369.3 295.2h0M364.9 299.5h0M363.6 305.0h0M355.6 322.1h0M361.5 312.1h0M363.9 300.6h0M364.4 315.6h0M364.7 300.2h0M366.0 310.6h0M361.1 315.9h0M361.1 301.6h0M364.2 312.5h0M349.5 314.3h0M371.1 304.7h0M353.1 314.3h0M361.3 306.2h0M348.2 321.8h0M359.0 317.4h0M358.2 301.9h0M371.1 297.2h0M359.7 299.1h0M364.9 297.6h0M358.3 302.6h0M367.4 309.4h0M372.1 306.6h0M366.9 313.3h0M350.5 308.8h0M362.7 313.1h0M357.3 308.4h0M361.5 302.1h0M371.3 305.0h0M362.4 305.8h0M377.2 291.2h0M365.5 308.1h0M366.5 319.7h0M354.4 326.0h0M358.6 306.7h0M358.3 301.2h0M361.2 306.5h0M360.8 305.8h0M367.6 308.2h0M359.8 306.2h0M362.7 305.5h0M360.2 306.1h0M364.3 294.7h0M359.2 303.3h0M359.9 307.0h0M358.4 297.9h0M371.5 285.8h0M347.1 326.1h0M358.7 317.3h0M362.2 309.6h0M363.5 302.7h0M364.4 301.9h0M363.1 311.1h0M353.1 316.8h0M348.0 320.5h0M353.8 314.4h0M364.8 292.8h0M356.3 316.9h0M359.0 307.8h0M360.5 312.0h0M359.2 302.1h0M361.1 292.9h0M362.0 318.5h0M358.4 308.0h0M352.5 327.8h0M348.1 310.1h0M362.6 296.1h0M354.6 315.6h0M361.5 310.3h0M369.2 307.6h0M348.0 316.1h0M363.7 311.4h0M350.2 325.9h0M352.3 315.2h0M352.9 307.8h0M362.1 311.9h0M369.6 303.9h0M362.4 304.7h0M353.5 308.7h0M358.6 304.6h0M356.2 323.9h0M354.9 302.7h0M346.5 323.3h0M353.3 326.3h0M354.0 318.3h0M365.4 307.8h0M364.3 312.5h0M366.0 305.4h0M362.3 316.1h0M351.4 311.3h0M353.9 310.2h0M345.5 323.6h0M365.0 299.3h0M372.9 288.1h0M375.0 293.2h0M359.5 315.5h0M362.6 307.0h0M357.5 311.6h0M361.2 312.5h0M353.1 324.1h0M364.1 297.0h0M364.6 306.3h0M356.8 307.1h0M359.2 316.8h0M353.9 316.4h0M359.9 305.0h0M352.8 317.6h0M357.4 309.1h0M358.5 315.4h0M352.8 306.8h0M363.3 296.1h0M365.1 301.5h0M355.8 310.4h0M364.3 304.4h0M356.0 308.1h0M370.5 297.7h0M366.3 302.7h0M365.4 310.8h0M362.5 314.3h0M363.1 307.5h0M346.4 321.7h0M364.8 313.8h0M359.7 309.4h0M361.7 302.2h0M360.0 304.0h0M358.9 305.5h0M355.6 312.6h0M363.7 311.1h0M351.9 313.0h0M361.1 308.0h0M349.9 321.0h0M358.8 313.9h0M354.8 315.1h0M346.9 320.8h0M346.7 328.4h0M347.7 329.6h0M360.0 315.7h0M352.5 310.5h0M357.2 313.5h0M364.4 298.8h0M356.4 314.6h0M367.5 305.6h0M363.4 311.6h0M349.4 311.0h0M367.1 311.5h0M362.3 308.3h0M368.8 308.1h0M353.3 323.7h0M359.8 323.9h0M355.0 315.0h0M367.4 308.3h0M356.8 318.1h0M363.5 311.5h0M366.1 293.1h0M365.0 307.2h0M359.0 305.5h0M369.8 311.2h0M363.5 300.3h0M356.6 319.5h0M358.7 316.6h0M361.4 307.1h0M371.2 293.0h0M352.0 315.7h0M357.8 310.0h0M365.1 302.0h0M370.3 293.8h0M353.2 313.5h0M359.1 313.8h0M360.8 305.5h0M355.4 304.5h0M356.2 322.3h0M360.2 312.4h0M354.9 322.5h0M368.1 315.4h0M360.2 294.2h0M369.2 290.7h0M367.6 310.2h0M352.6 311.1h0M357.3 317.0h0M371.5 299.5h0M353.9 314.3h0M365.3 297.6h0M356.9 307.1h0M356.2 319.4h0M368.7 285.0h0M361.3 316.6h0M362.3 314.1h0M354.5 310.3h0M354.6 306.1h0M360.9 314.6h0M352.5 321.4h0M368.2 316.8h0M350.2 328.5h0M358.0 310.5h0M337.6 341.9h0M360.2 309.4h0M366.3 296.4h0M348.7 317.2h0M351.1 318.2h0M349.0 320.4h0M360.2 308.1h0M355.1 315.7h0M355.1 314.9h0M355.9 315.6h0M363.1 311.5h0M354.7 310.0h0M358.2 325.1h0M355.0 313.9h0M348.6 306.0h0M369.6 296.5h0M363.3 302.1h0M358.3 309.7h0M352.4 299.7h0M361.1 303.0h0M351.8 322.3h0M370.0 301.3h0M369.1 297.1h0M365.6 303.0h0M354.1 320.3h0M361.0 313.3h0M356.7 315.5h0M367.3 302.7h0M355.9 319.5h0M361.1 312.4h0M369.0 301.1h0M360.4 325.7h0M361.9 306.7h0M360.2 301.7h0M361.9 303.7h0M356.7 307.5h0M356.3 316.5h0M359.7 309.9h0M365.3 311.2h0M370.0 291.2h0M349.3 310.4h0M365.3 311.5h0M352.5 320.7h0M352.5 313.3h0M371.9 282.7h0M359.9 312.0h0M360.9 313.0h0M365.4 300.5h0M345.5 318.7h0M358.4 319.5h0M360.1 305.5h0M362.8 310.3h0M372.0 301.2h0M372.6 293.4h0M355.2 313.7h0M360.9 305.3h0M356.7 319.5h0M362.1 306.8h0M354.8 314.6h0M362.9 310.6h0M344.9 331.1h0M358.0 305.2h0M364.2 301.1h0M359.2 319.0h0M365.1 301.0h0M358.9 323.7h0M366.1 311.4h0M364.8 304.9h0M359.5 324.6h0M360.4 306.5h0M352.5 320.6h0M347.7 329.8h0M360.4 305.5h0M370.2 292.4h0M368.4 314.8h0M359.4 303.7h0M346.7 327.4h0M361.3 297.9h0M359.2 296.2h0M362.9 300.6h0M358.3 316.5h0M351.9 311.2h0M356.8 315.3h0M365.5 303.6h0M354.4 315.0h0M356.9 309.1h0M366.0 298.0h0M353.1 311.9h0M371.4 291.6h0M358.4 310.4h0M368.4 297.1h0M353.8 304.1h0M358.5 315.7h0M376.1 303.4h0M362.7 301.1h0M363.8 308.8h0M360.3 315.3h0M365.4 302.6h0M357.9 313.5h0M357.3 313.8h0M368.2 300.7h0M364.5 298.6h0M355.3 310.6h0M361.6 304.8h0M352.7 317.9h0M369.8 294.0h0M358.1 309.3h0M362.2 296.7h0M354.6 313.7h0M367.9 307.9h0M363.5 310.6h0M350.4 321.8h0M356.2 320.5h0M348.2 316.5h0M357.9 299.0h0M354.0 314.4h0M351.2 322.3h0M365.9 309.2h0M354.9 311.8h0M361.0 308.9h0M367.4 310.6h0M351.3 331.0h0M356.2 309.3h0M352.8 315.4h0M370.8 309.6h0M362.1 319.0h0M361.3 304.6h0M358.9 292.4h0M363.7 306.7h0M354.6 302.3h0M363.1 303.2h0M364.0 309.7h0M355.4 327.3h0M369.5 298.8h0M355.6 315.9h0M346.8 322.4h0M364.0 308.5h0M357.4 307.0h0M358.3 315.7h0M368.6 296.0h0M367.7 296.0h0M364.4 302.4h0M354.5 314.1h0M366.4 300.0h0M354.9 326.4h0M365.7 303.0h0M366.6 300.7h0M358.4 305.7h0M364.2 309.6h0M355.5 304.3h0M372.0 293.9h0M352.8 313.0h0M354.1 305.6h0M362.5 314.2h0M355.0 312.8h0M365.1 306.4h0M356.1 321.4h0M362.6 298.5h0M365.3 292.6h0M366.5 302.4h0M361.7 303.4h0M365.9 314.3h0M352.8 318.7h0M371.3 290.1h0M362.5 316.7h0M356.0 310.5h0M358.5 314.0h0M362.7 306.8h0M359.5 318.8h0M374.4 288.4h0M347.3 319.2h0M359.7 309.2h0M354.8 318.5h0M360.1 311.1h0M350.1 317.1h0M356.4 313.3h0M358.8 318.7h0M351.8 306.0h0M360.8 315.6h0M353.2 313.2h0M350.9 306.8h0M356.8 317.6h0M366.8 305.4h0M364.2 301.2h0M368.0 308.4h0M361.4 312.8h0M364.6 309.1h0M364.5 310.7h0M355.9 309.7h0M358.0 309.6h0M367.5 303.0h0M357.1 309.2h0M364.5 302.2h0M364.8 313.8h0M364.8 306.9h0M353.0 309.4h0M368.1 301.1h0M369.1 295.2h0M346.4 309.1h0M362.7 304.3h0M354.9 316.6h0M368.1 294.1h0M365.1 308.3h0M358.5 297.5h0M359.8 311.5h0M352.5 310.0h0M358.0 307.9h0M368.4 303.1h0M363.3 310.6h0M358.4 302.9h0M364.5 304.2h0M363.0 304.7h0M359.9 314.5h0M368.5 305.6h0M370.7 293.9h0M365.4 306.9h0M362.0 302.2h0M366.8 303.7h0M368.1 298.4h0M349.2 321.6h0M361.7 304.2h0M357.0 307.1h0M357.8 314.1h0M364.9 291.9h0M358.7 316.9h0M359.4 311.4h0M372.6 300.1h0M350.4 317.5h0M366.0 312.1h0M355.0 320.4h0M356.1 308.5h0M351.6 325.4h0M339.0 328.1h0M362.2 299.3h0M362.1 313.4h0M366.4 308.7h0M364.4 298.6h0M358.3 304.2h0M359.5 305.8h0M353.2 319.6h0M365.8 310.5h0M364.9 308.2h0M358.7 318.3h0M364.7 305.2h0M354.4 314.8h0M370.5 306.8h0M357.0 317.1h0M349.2 311.9h0M365.1 305.3h0M362.0 298.2h0M371.1 305.3h0M357.7 302.8h0M370.1 297.3h0M364.2 311.2h0M364.1 300.4h0M354.1 313.3h0M355.9 301.6h0M352.1 330.5h0M358.9 311.4h0M358.3 317.5h0M360.7 314.2h0M354.1 311.9h0M362.5 305.7h0M358.9 306.0h0M360.4 309.4h0M363.6 310.9h0M365.4 308.6h0M366.9 307.5h0M357.1 315.2h0M356.6 319.0h0M368.7 296.2h0M361.9 312.9h0M360.7 311.7h0M368.2 292.9h0M360.2 311.7h0M360.4 307.8h0M350.6 327.2h0M363.2 318.5h0M364.0 295.4h0M367.1 291.5h0M370.3 306.9h0M347.5 312.9h0M363.6 302.4h0M362.5 309.7h0M370.3 300.7h0M360.9 314.8h0M358.4 309.6h0M369.7 308.1h0M351.5 326.6h0M356.4 320.4h0M359.8 319.6h0M357.2 319.6h0M373.6 294.5h0M361.7 303.5h0M357.9 293.5h0M366.1 316.8h0M358.3 309.9h0M357.8 312.7h0M345.4 331.2h0M366.8 297.1h0M359.5 311.7h0M351.9 312.8h0M368.7 309.3h0M370.9 302.1h0M363.3 305.5h0M355.2 315.0h0M366.3 291.2h0M357.7 298.1h0M367.4 296.9h0M364.6 316.9h0M355.6 311.0h0M367.5 297.9h0M348.1 311.4h0M364.1 312.7h0M360.6 307.7h0M352.3 329.7h0M360.7 321.1h0M343.1 324.0h0M350.5 317.8h0M365.2 297.8h0M357.9 310.1h0M366.1 300.3h0M373.2 295.4h0M366.2 313.1h0M345.6 329.0h0M361.3 303.5h0M355.0 314.3h0M362.5 300.6h0M363.7 321.6h0M365.7 307.1h0M357.0 318.2h0M357.6 302.5h0M357.0 304.6h0M365.2 307.1h0M370.5 298.5h0M371.0 291.6h0M348.8 327.1h0M352.1 302.9h0M356.9 325.2h0M363.4 297.7h0M350.8 335.8h0M356.6 310.1h0M355.2 313.2h0M354.4 318.1h0M348.9 333.4h0M350.1 319.6h0M361.5 301.8h0M355.1 302.3h0M352.8 319.3h0M360.3 306.8h0M372.1 303.0h0M351.9 314.3h0M369.5 304.6h0M369.2 295.6h0M360.2 312.2h0M364.1 317.8h0M364.4 308.9h0M363.1 304.9h0M365.6 299.5h0M369.6 306.7h0M371.0 292.0h0M365.7 303.3h0M363.1 304.1h0M361.2 311.9h0M350.9 332.4h0M363.5 301.3h0M371.8 295.1h0M364.2 312.5h0M366.4 299.5h0M349.1 313.8h0M363.0 305.8h0M359.5 322.8h0M370.1 298.0h0M354.3 303.2h0M359.2 311.3h0M363.9 307.1h0M368.3 296.0h0M358.7 298.0h0M369.7 304.5h0M351.5 329.5h0M362.0 319.8h0M352.6 314.5h0M357.0 317.4h0M355.7 315.2h0M367.4 301.7h0M362.9 312.0h0M354.9 304.0h0M361.3 294.1h0M361.3 297.8h0M362.7 312.1h0M356.3 317.2h0M370.1 294.0h0M358.9 303.3h0M359.6 314.9h0M358.6 305.5h0M350.7 316.0h0M360.6 317.3h0M356.8 310.1h0M370.2 304.2h0M365.9 305.3h0M364.9 304.0h0M363.2 309.5h0M358.7 313.5h0M364.4 298.5h0M353.6 314.8h0M355.9 319.5h0M364.0 317.5h0M361.9 305.5h0M357.4 311.8h0M351.3 327.5h0M350.1 310.8h0M366.2 307.2h0M361.9 295.0h0M364.2 309.0h0M350.2 321.9h0M368.3 310.4h0M366.4 295.4h0M363.2 299.5h0M355.7 310.6h0M364.9 312.5h0M367.1 305.7h0M369.2 292.8h0M365.3 302.4h0M361.0 306.2h0M361.3 315.0h0M366.3 297.1h0M368.2 305.6h0M376.5 308.6h0M348.0 314.5h0M360.1 295.3h0M371.7 294.7h0M366.7 291.7h0M366.4 324.9h0M366.6 308.3h0M365.9 310.5h0M355.1 310.4h0M368.6 307.4h0M362.9 301.3h0M358.5 307.4h0M359.3 311.5h0M360.8 311.4h0M356.7 298.9h0M363.5 303.0h0M354.1 315.0h0M365.8 297.5h0M363.9 307.7h0M355.5 319.3h0M356.0 317.3h0M359.4 305.4h0M366.3 298.0h0M363.0 323.9h0M356.2 328.2h0M369.2 303.3h0M353.6 314.5h0M373.8 299.1h0M364.5 308.7h0M357.3 308.3h0M358.3 316.4h0M358.0 305.7h0M366.3 309.2h0M363.8 308.0h0M351.5 317.1h0M360.2 308.7h0M364.6 303.5h0M350.0 321.5h0M367.8 298.7h0M361.1 318.2h0M363.1 304.4h0M363.4 306.2h0M367.3 304.3h0M365.4 297.5h0M358.8 309.9h0M355.7 317.0h0M346.5 334.3h0M367.0 312.0h0M355.8 299.4h0M361.7 303.0h0M364.2 306.7h0M353.4 320.8h0M364.1 294.2h0M357.5 316.5h0M364.1 300.6h0M357.1 319.0h0M362.5 303.2h0M365.5 313.4h0M337.1 335.6h0M370.0 304.5h0M356.3 315.1h0M368.0 304.8h0M360.5 320.1h0M362.9 296.8h0M359.7 302.4h0M349.9 310.4h0M365.0 306.2h0M359.1 311.6h0M344.4 330.5h0M359.6 307.8h0M353.0 303.4h0M364.0 316.6h0M355.1 309.2h0M364.4 298.0h0M369.9 303.3h0M359.2 314.1h0M351.6 318.9h0M359.4 305.0h0M369.2 297.0h0M356.3 327.8h0M363.1 303.6h0M365.0 308.9h0M364.8 315.7h0M354.5 314.1h0M368.5 300.5h0M359.4 304.6h0M364.5 306.0h0" stroke="#a83cac" stroke-width="0.96" stroke-linecap="round"/>
<path d="M353.1 328.2h0M352.2 331.8h0M346.7 325.4h0M350.0 326.2h0M349.2 321.1h0M351.8 327.1h0M357.5 322.5h0M350.2 322.6h0M349.1 329.4h0M350.0 328.0h0M348.5 326.6h0M351.1 328.1h0M346.3 329.0h0M350.2 325.3h0M354.8 327.7h0M343.6 328.8h0M349.1 324.9h0M352.2 328.9h0M348.1 326.6h0M351.0 325.4h0M345.5 319.4h0M346.2 327.7h0M351.4 328.9h0M358.5 324.4h0M354.1 325.8h0M348.1 330.4h0M345.8 328.1h0M348.9 326.9h0M359.8 325.6h0M351.0 321.8h0M352.8 325.4h0M349.9 326.2h0M345.2 330.3h0M347.2 326.9h0M351.3 321.2h0M348.4 324.7h0M347.6 325.4h0M353.2 324.3h0M357.4 326.2h0M351.1 324.7h0M351.6 325.0h0M350.5 327.3h0M350.7 327.9h0M349.2 331.3h0M349.4 324.6h0M348.6 327.8h0M350.9 332.4h0M343.9 329.5h0M351.4 334.1h0M350.6 324.2h0M354.7 328.1h0M349.9 320.9h0M344.8 327.1h0M348.8 323.7h0M346.5 320.9h0M355.4 328.3h0M350.2 332.6h0M353.4 323.6h0M344.0 323.2h0M351.5 325.1h0M355.3 325.0h0M350.4 329.0h0M354.8 326.4h0M350.0 327.4h0M350.6 326.7h0M350.0 322.4h0M350.3 323.2h0M353.8 321.4h0M345.4 327.3h0M350.8 327.6h0M348.0 326.5h0M348.9 323.7h0M350.3 329.7h0M351.9 327.2h0M351.0 327.6h0M349.1 328.2h0M348.5 328.1h0M348.2 325.0h0M355.2 327.1h0M351.9 329.2h0M348.4 325.7h0M346.8 327.8h0M349.8 326.2h0M348.3 327.2h0M354.1 327.4h0M350.5 323.7h0M346.4 333.5h0M347.5 326.5h0M354.6 322.3h0M351.3 327.8h0M352.1 329.3h0M348.2 328.0h0M353.5 324.7h0M355.6 326.3h0M357.2 321.0h0M357.2 325.6h0M347.0 323.4h0M351.5 326.8h0M347.1 322.2h0M358.9 325.4h0M348.8 330.1h0M345.4 325.6h0M350.3 327.6h0M353.9 330.8h0M354.2 323.8h0M345.8 326.4h0M344.4 322.9h0M352.6 330.2h0M353.1 324.6h0M353.9 326.4h0M344.8 323.1h0M355.1 328.3h0M349.8 325.7h0M349.1 328.8h0M351.5 327.0h0M347.4 329.2h0M351.7 325.6h0M350.8 328.6h0M353.4 328.2h0M353.8 330.9h0M346.6 324.8h0M356.5 327.7h0M352.6 322.2h0M353.2 323.5h0M355.7 326.8h0M352.9 324.0h0M342.1 325.4h0M352.0 324.5h0M350.5 327.6h0M350.9 327.1h0M346.9 325.6h0M351.4 322.4h0M353.7 319.4h0M351.3 325.5h0M354.0 328.8h0M351.0 321.9h0M355.4 327.0h0M361.0 325.8h0M359.7 328.4h0M348.8 327.0h0M351.0 325.9h0M350.7 326.0h0M357.2 327.1h0M353.2 321.1h0M343.2 325.3h0M347.7 330.8h0M348.7 321.1h0M341.9 324.3h0M351.7 321.6h0M346.2 321.8h0M343.1 325.2h0M353.0 327.7h0M357.6 329.6h0M354.0 325.1h0M348.6 332.5h0M346.7 327.4h0M353.0 324.0h0M348.1 331.0h0M346.3 320.8h0M345.1 320.1h0M356.0 327.6h0M350.2 325.0h0M346.2 324.0h0M350.9 324.6h0M356.7 327.5h0M351.7 327.0h0M353.4 323.1h0M348.8 331.5h0M342.3 326.9h0M352.8 323.7h0M352.4 327.8h0M352.6 329.3h0M351.0 324.3h0M356.4 324.3h0M357.2 329.0h0M349.2 330.9h0M351.8 327.6h0M347.0 329.0h0M351.8 327.6h0M352.2 322.0h0M352.0 325.5h0M348.9 325.8h0M348.0 324.3h0M353.3 325.7h0M349.3 323.5h0M343.3 321.8h0M356.5 324.4h0M346.9 324.6h0M351.5 327.0h0M350.6 333.2h0M348.9 324.4h0M352.4 326.7h0M352.9 326.7h0M348.9 326.8h0M355.1 325.0h0M352.1 329.9h0M347.5 319.8h0M350.4 329.3h0M350.1 329.8h0M348.1 325.5h0" stroke="#a83cac" stroke-width="0.96" stroke-linecap="round"/>
<path d="M358.5 300.9h0M372.3 306.1h0M358.2 319.5h0M367.3 299.9h0M354.4 318.9h0M359.4 311.1h0M367.7 291.8h0M362.3 313.9h0M353.5 316.9h0M363.8 303.8h0M349.4 334.3h0M355.5 316.2h0M360.2 306.6h0M361.1 309.1h0M369.6 301.8h0M362.2 304.4h0M359.7 307.5h0M361.1 309.2h0M357.1 312.6h0M364.5 295.5h0M352.6 316.6h0M358.1 305.4h0M359.4 302.9h0M352.8 313.3h0M370.9 290.3h0M361.0 306.7h0M362.0 308.3h0M363.4 311.5h0M363.9 305.3h0M366.2 302.8h0M366.1 309.5h0M364.5 307.1h0M363.4 309.1h0M358.1 303.2h0M359.4 305.3h0M355.6 307.7h0M344.7 327.5h0M364.5 304.8h0M363.1 310.4h0M349.5 329.2h0M359.6 306.5h0M361.7 310.6h0M357.8 314.3h0M351.7 317.0h0M360.6 295.4h0M362.1 311.0h0M362.7 311.1h0M355.8 314.9h0M359.7 316.4h0M352.6 311.4h0M356.7 317.0h0M362.1 309.8h0M370.1 311.0h0M361.1 302.1h0M365.7 304.5h0M355.9 305.5h0M359.5 310.5h0M360.6 309.6h0M357.3 314.8h0M360.5 310.4h0M356.4 318.2h0M363.4 302.8h0M367.5 299.4h0M361.3 306.5h0M363.7 302.2h0M371.2 296.6h0M361.1 316.0h0M373.0 293.0h0M370.0 294.0h0M356.7 308.0h0M362.4 315.7h0M359.0 315.2h0M371.4 288.8h0M363.2 294.6h0M356.3 312.0h0M360.0 303.9h0M358.6 301.0h0M353.5 321.3h0M370.1 302.7h0M350.3 318.4h0M356.3 309.0h0M364.7 307.4h0M364.3 306.0h0M368.5 299.4h0M366.2 312.3h0M361.8 313.2h0M359.4 317.6h0M365.4 302.9h0M358.2 303.7h0M359.4 307.4h0M363.0 312.2h0M356.9 316.8h0M356.7 314.1h0M361.4 306.8h0M364.0 293.8h0M363.5 313.8h0M356.9 305.7h0M367.5 298.5h0M358.3 298.9h0M356.8 316.0h0M349.0 321.5h0M360.4 310.8h0M359.0 312.5h0M356.0 309.6h0M361.9 302.7h0M358.5 310.6h0M367.9 293.1h0M360.9 306.9h0M355.8 319.5h0M365.9 308.0h0M370.3 301.6h0M355.7 314.6h0M362.8 307.7h0M358.8 315.2h0M364.1 298.9h0M356.7 312.5h0M361.2 309.9h0M363.1 304.6h0M362.2 318.1h0M352.3 312.8h0M365.4 316.3h0M361.9 308.9h0M358.9 323.7h0M350.1 322.4h0M358.1 316.2h0M353.0 315.9h0M361.2 311.6h0M359.7 305.9h0M365.4 302.8h0M360.3 324.2h0M352.2 318.4h0M366.3 304.5h0M366.7 289.3h0M366.2 301.8h0M363.6 310.8h0M367.4 307.8h0M363.9 302.5h0M361.4 295.8h0M359.5 315.4h0M359.7 311.5h0M357.0 310.7h0M358.1 307.9h0M351.4 319.5h0M358.4 310.9h0M354.5 313.9h0M363.1 302.0h0M360.7 311.5h0M359.6 307.9h0M360.9 314.8h0M365.4 300.6h0M363.9 301.9h0M363.5 302.3h0M363.6 297.7h0M366.1 304.5h0M357.8 312.0h0M355.6 310.1h0M361.8 309.3h0M361.8 313.1h0M367.8 295.5h0M357.3 306.7h0M352.5 310.8h0M369.9 297.5h0M365.9 304.8h0M362.2 312.5h0M358.0 312.4h0M364.4 303.6h0M358.4 307.0h0M364.3 314.0h0M370.1 290.4h0M363.5 306.4h0M354.8 312.1h0M359.4 310.6h0M362.8 300.6h0M368.6 294.4h0M354.6 316.1h0M355.6 312.4h0M361.6 306.8h0M353.1 319.4h0M359.0 309.6h0M356.2 312.3h0M357.8 320.9h0M360.6 298.5h0M351.8 317.9h0M352.1 323.3h0M357.6 311.9h0M358.9 308.5h0M364.4 301.0h0M363.8 312.2h0M367.1 304.7h0M360.3 312.3h0M364.6 297.9h0M352.7 319.1h0M367.4 298.5h0M352.3 323.6h0M358.3 306.1h0M364.6 309.3h0M358.3 309.7h0M370.2 303.3h0M366.7 294.4h0M352.9 319.8h0M363.6 299.5h0M359.0 314.3h0M361.6 307.1h0M367.9 293.6h0M361.9 312.9h0M359.8 308.6h0M362.3 305.2h0M353.9 322.1h0M367.2 301.3h0M355.5 327.4h0M355.1 307.5h0M367.0 294.7h0M361.8 302.4h0M352.3 316.8h0M349.6 312.8h0M364.7 296.6h0M362.5 309.1h0M360.5 303.8h0M362.6 301.8h0M353.6 311.9h0M359.7 310.3h0M366.5 303.3h0M356.0 308.9h0M362.3 302.2h0M364.4 310.0h0M360.3 318.9h0M357.6 315.6h0M358.3 315.9h0M357.3 310.6h0M363.2 315.5h0M361.6 306.4h0M362.8 306.7h0M360.8 311.1h0M363.8 306.4h0M369.6 294.3h0M352.2 311.9h0M365.9 292.6h0M362.3 301.8h0M351.6 321.0h0M363.6 306.8h0M372.6 295.4h0M361.6 309.6h0M360.4 311.9h0M368.3 296.6h0M354.2 320.5h0M362.8 310.1h0M359.4 309.7h0M360.3 310.6h0M365.5 298.8h0M369.2 297.6h0M364.9 301.0h0M367.8 293.4h0M358.8 304.1h0M355.9 307.4h0M368.6 294.2h0M359.5 304.8h0M353.9 327.5h0M359.4 308.6h0M359.5 314.6h0M362.0 308.3h0M356.4 313.8h0M356.3 312.1h0M359.1 313.3h0M365.9 295.6h0M355.0 310.9h0M370.7 295.1h0M360.6 303.1h0M357.5 311.1h0M356.8 312.7h0M360.2 312.4h0M366.9 300.6h0M357.5 326.4h0M358.2 311.5h0M356.7 322.7h0M358.7 304.4h0M359.8 309.6h0M354.0 311.9h0M355.7 316.7h0M358.4 312.1h0M355.2 313.0h0M363.8 299.6h0M360.8 308.3h0M363.6 305.7h0M364.3 296.0h0M363.8 300.1h0M365.7 301.7h0M365.0 301.6h0M364.9 295.7h0M369.3 290.2h0M369.8 291.9h0M351.9 307.8h0M353.1 314.8h0M357.1 309.1h0M366.6 304.7h0M354.8 318.2h0M355.3 309.3h0M361.2 301.5h0M358.8 314.2h0M359.8 306.5h0M358.0 309.2h0M365.7 302.4h0M354.0 317.2h0M357.2 317.3h0M359.0 314.3h0M360.9 315.3h0M358.4 306.5h0M373.0 288.1h0M354.0 310.2h0M361.2 306.4h0M366.8 292.7h0M367.3 297.6h0M361.7 311.9h0M363.1 299.4h0M360.8 307.5h0M369.2 290.8h0M367.1 298.6h0M362.1 316.2h0M356.6 312.7h0M358.9 316.1h0M349.0 326.4h0M352.7 325.4h0M360.4 303.8h0M357.8 321.1h0M362.9 308.3h0M363.3 318.0h0M363.0 302.5h0M363.4 310.1h0M356.3 314.8h0M365.9 301.0h0M353.5 317.5h0M355.9 317.6h0M360.0 310.3h0M367.7 303.4h0M351.7 313.7h0M364.2 296.1h0M368.2 298.8h0M358.9 304.3h0M366.7 308.5h0M365.7 300.3h0M371.6 301.3h0M358.3 308.7h0M361.0 305.6h0M365.7 308.7h0M377.6 285.1h0M353.5 318.2h0M360.2 301.5h0M360.1 313.4h0M355.8 311.1h0M357.9 319.0h0M367.7 301.8h0M357.2 309.2h0M355.4 307.8h0M361.3 296.2h0M361.7 306.9h0M357.8 316.8h0M369.2 296.7h0M370.3 304.0h0M365.2 299.3h0M364.3 304.3h0M356.3 317.3h0M362.7 307.0h0M367.5 296.6h0M359.8 308.2h0M361.8 307.3h0M362.3 305.2h0M359.7 309.3h0M354.3 317.5h0M364.9 304.4h0M361.7 305.1h0M361.0 310.9h0M362.2 307.0h0M357.5 312.3h0M354.4 307.0h0M358.9 311.6h0M365.4 300.9h0M353.8 317.7h0M351.8 319.3h0M361.2 296.4h0M358.3 310.3h0M358.9 313.3h0M364.8 294.7h0M352.1 315.7h0M365.5 306.6h0M366.1 299.7h0M352.1 317.1h0M365.1 305.5h0M357.4 307.9h0M360.8 308.3h0M369.7 296.9h0M361.6 310.2h0M366.7 306.4h0M353.9 327.6h0M351.5 323.3h0M364.8 299.3h0M363.7 296.9h0M352.9 320.5h0M367.8 300.9h0M367.6 309.1h0M357.5 319.4h0M363.3 306.4h0M365.3 295.4h0M365.7 301.9h0M360.0 309.6h0M367.9 302.8h0M359.7 309.8h0M360.1 299.3h0M367.5 296.9h0M358.6 311.7h0M361.9 304.1h0M366.9 289.0h0M371.4 306.4h0M358.2 306.5h0M357.2 309.6h0M357.9 307.2h0M364.6 304.5h0M361.6 303.6h0M363.1 303.8h0M364.4 302.8h0M359.6 315.5h0M362.5 298.1h0M358.6 308.2h0M361.5 300.9h0M361.8 306.8h0M356.9 310.8h0M372.7 287.6h0M349.9 330.0h0M352.3 318.8h0M362.2 309.0h0M366.6 306.1h0M361.3 314.2h0M365.1 302.4h0M360.0 318.6h0M365.9 304.9h0M358.2 317.7h0M362.0 307.2h0M364.6 299.1h0M361.4 305.8h0M353.8 320.1h0M363.2 296.5h0M366.5 310.6h0M362.9 306.0h0M360.3 300.3h0M360.1 314.3h0M364.3 303.9h0M361.6 310.9h0M363.5 304.8h0M371.5 290.8h0M367.7 297.9h0M356.3 316.9h0M362.4 299.7h0M361.4 316.1h0M355.1 319.5h0M364.3 296.1h0M369.4 301.1h0M357.0 314.5h0M359.2 307.3h0M363.6 307.3h0M363.9 299.8h0M367.1 299.2h0M356.7 316.9h0M358.6 313.1h0M351.9 321.1h0M356.5 307.2h0M347.0 326.8h0M353.1 314.2h0M362.5 309.6h0M362.7 301.6h0M362.2 309.6h0M359.5 303.2h0M361.3 311.7h0M356.5 307.4h0M353.1 312.1h0M365.5 306.8h0M363.9 308.6h0M360.0 306.3h0M362.0 303.4h0M357.2 306.7h0M364.7 301.5h0M354.3 312.6h0M367.4 312.6h0M359.1 304.5h0M355.8 314.0h0M355.6 319.0h0M368.9 304.8h0M365.7 303.6h0M358.0 309.9h0M371.4 293.3h0M376.0 294.3h0M360.6 314.2h0M361.4 304.5h0M363.1 300.7h0M372.0 295.4h0M359.8 311.7h0M357.9 311.3h0M367.1 298.1h0M362.0 299.3h0M362.2 313.1h0M361.7 304.8h0M359.9 302.4h0M356.6 303.8h0M361.2 312.0h0M356.8 314.1h0M355.4 305.7h0M370.7 306.2h0M361.2 310.5h0M355.4 309.0h0M363.5 305.8h0M357.9 317.4h0M367.8 297.4h0M359.9 303.8h0M366.2 296.4h0M370.7 295.7h0M367.5 293.1h0M360.5 307.1h0M359.3 305.4h0M365.9 298.3h0M364.9 308.9h0M362.8 308.2h0M362.9 310.8h0M360.0 311.4h0M356.3 316.7h0M355.2 311.6h0M368.0 298.3h0M362.4 299.8h0M358.4 312.6h0M356.3 311.3h0M368.3 303.2h0M364.4 300.4h0M358.0 318.4h0M364.6 303.9h0M367.2 295.7h0M364.8 303.6h0M355.1 315.8h0M355.4 321.6h0M355.6 305.1h0M351.6 324.3h0M354.8 313.6h0M353.5 317.7h0M359.1 303.5h0M354.5 310.9h0M349.5 322.8h0M364.5 310.7h0M352.5 316.8h0M362.2 304.9h0M362.7 312.4h0M355.4 314.2h0M361.9 313.8h0M355.3 312.6h0M364.0 306.9h0M369.6 299.6h0M366.1 302.0h0M355.4 321.2h0M356.8 312.8h0M366.7 300.0h0M363.2 311.5h0M360.0 306.1h0M360.7 311.5h0M361.6 312.3h0M352.2 306.0h0M363.8 307.4h0M362.0 300.1h0M354.0 315.1h0M358.3 315.8h0M366.7 302.3h0M354.4 320.6h0M363.2 304.0h0M356.4 309.5h0M360.3 297.7h0M362.4 311.1h0M356.4 316.1h0M371.5 282.9h0M360.4 299.8h0M354.6 318.4h0M357.8 298.0h0M359.2 306.1h0M364.3 304.5h0M363.2 305.3h0M362.9 305.0h0M357.8 313.3h0M356.1 312.9h0M368.3 299.9h0M360.7 311.6h0M363.6 300.1h0M364.4 307.4h0M356.7 309.9h0M360.1 302.9h0M366.5 295.5h0M360.8 313.4h0M364.1 302.9h0M367.4 303.3h0M372.6 295.5h0M359.7 315.8h0M358.8 306.6h0M357.6 306.0h0M361.2 297.6h0M362.8 316.7h0M355.0 309.9h0M356.9 305.4h0M363.7 301.3h0M365.4 297.2h0" stroke="#6458c6" stroke-width="0.96" stroke-linecap="round"/>
<path d="M351.5 326.3h0M354.2 325.2h0M350.4 329.2h0M346.2 329.2h0M348.3 325.1h0M349.6 324.9h0M352.7 326.0h0M350.5 330.3h0M351.8 326.0h0M350.3 328.1h0M352.4 323.9h0M347.3 325.6h0M345.6 326.1h0M354.0 328.5h0M355.8 328.3h0M349.4 327.2h0M348.5 323.2h0M343.5 326.5h0M350.5 327.8h0M351.9 325.7h0M350.1 325.2h0M351.3 326.3h0M347.8 328.8h0M347.1 324.8h0M351.9 331.6h0M351.2 327.9h0M349.6 325.2h0M356.0 326.4h0M350.7 329.5h0M349.8 330.0h0M349.0 325.6h0M355.0 324.6h0M351.3 328.7h0M352.2 326.1h0M348.8 326.7h0M351.4 329.5h0M353.0 327.4h0M347.2 324.0h0M351.5 327.7h0M350.7 322.2h0M351.7 327.7h0M348.4 327.6h0M348.8 325.8h0M353.2 327.1h0M348.6 326.8h0M353.6 325.5h0M353.1 329.4h0M350.8 330.5h0M351.0 322.1h0M346.0 328.4h0M349.2 323.6h0M352.7 326.5h0M347.5 324.2h0M349.2 325.5h0M351.0 325.3h0M348.6 324.0h0M349.2 329.1h0M351.7 325.1h0M352.4 326.3h0M356.1 328.5h0M356.2 327.1h0M353.4 322.6h0M348.2 325.7h0M343.9 326.8h0M352.7 325.9h0M349.4 329.4h0M349.8 325.1h0M348.0 326.6h0M349.8 323.0h0M349.3 328.4h0M355.4 327.0h0M349.5 326.0h0M348.9 326.5h0M347.6 327.8h0M353.6 325.9h0M349.4 326.0h0M353.1 324.1h0M352.0 327.3h0M351.5 327.5h0M352.3 325.4h0M353.6 329.8h0M346.2 328.7h0M350.1 326.1h0M356.6 327.2h0M353.8 326.4h0M352.6 325.4h0M356.3 322.7h0M349.1 325.0h0M352.2 327.5h0M352.4 329.8h0" stroke="#5a5fc6" stroke-width="0.96" stroke-linecap="round"/>
<path d="M356.9 311.6h0M362.5 305.7h0M361.3 303.8h0M356.8 309.8h0M360.8 304.0h0M363.8 306.9h0M360.8 306.4h0M367.1 302.3h0M369.0 301.5h0M365.6 302.2h0M361.2 308.9h0M361.3 309.2h0M360.9 303.7h0M362.5 304.5h0M362.7 302.1h0M369.7 290.8h0M360.7 308.0h0M366.7 304.4h0M358.4 308.5h0M363.7 305.2h0M364.3 302.4h0M360.4 305.1h0M368.0 296.4h0M363.7 300.4h0M356.0 307.7h0M365.9 299.5h0M356.9 306.3h0M361.5 301.7h0M365.1 298.9h0M358.7 311.1h0M362.6 301.9h0M356.7 310.5h0M359.9 305.3h0M364.9 298.5h0M367.5 298.7h0M361.6 304.3h0M361.9 306.7h0M362.1 302.4h0M362.7 306.2h0M358.6 309.3h0M364.0 305.2h0M365.8 303.9h0M365.7 292.1h0M363.1 298.4h0M361.7 307.5h0M359.0 309.4h0M356.9 310.9h0M362.1 305.5h0M362.5 307.6h0M362.7 305.9h0M367.6 300.4h0M364.4 298.9h0M356.3 309.6h0M356.3 308.8h0M359.2 311.9h0M370.5 298.7h0M360.4 308.7h0M364.9 306.0h0M366.0 302.1h0M359.5 307.5h0M369.3 301.8h0M360.8 314.6h0M355.9 312.2h0M355.4 314.2h0M352.1 317.7h0M365.8 301.5h0M362.9 302.1h0M362.7 307.4h0M366.8 296.2h0M360.0 305.9h0M361.8 305.1h0M363.0 304.6h0M357.9 309.1h0M359.2 306.1h0M359.0 310.5h0M362.4 304.4h0M361.5 302.0h0M362.4 299.2h0M366.5 300.9h0M366.1 297.5h0M367.2 301.2h0M360.2 307.7h0M366.5 295.1h0M360.8 306.0h0M372.2 298.5h0M364.0 302.5h0M367.1 292.7h0M360.2 311.4h0M365.0 300.4h0M357.1 307.3h0M359.6 311.0h0M359.3 307.5h0M365.7 302.4h0M362.9 307.1h0M363.4 303.1h0M359.0 308.5h0M360.8 304.6h0M359.6 303.1h0M356.2 311.4h0M361.0 303.5h0M362.0 303.8h0M361.3 302.4h0M361.5 305.0h0M362.0 304.8h0M362.4 300.9h0M358.7 308.4h0M367.1 289.3h0M361.1 307.0h0M351.2 315.8h0M356.3 311.8h0M362.0 303.7h0M364.3 303.5h0M360.4 308.4h0M359.0 305.7h0M363.0 306.5h0M362.1 298.3h0M367.4 298.0h0M369.4 298.7h0M364.2 312.6h0M360.4 302.5h0M360.4 312.7h0M363.1 300.6h0M360.6 304.2h0M358.7 305.0h0M364.0 303.5h0M364.4 301.8h0M365.0 299.7h0M359.5 310.0h0M357.8 307.8h0M358.1 310.9h0M364.0 302.1h0M359.1 311.7h0M358.6 309.6h0M354.4 308.6h0M358.5 309.8h0M368.9 296.8h0M362.8 309.4h0M362.8 307.8h0M362.6 313.7h0M364.6 302.3h0M361.3 309.7h0M366.9 302.0h0M362.5 304.4h0M358.8 312.9h0M363.4 297.9h0M362.4 300.8h0M362.0 304.7h0M359.3 306.0h0M362.4 303.7h0M361.8 308.4h0M359.6 306.8h0M360.9 305.2h0M363.3 301.3h0M358.2 306.3h0M367.1 300.7h0M361.2 306.7h0M358.0 308.5h0M363.4 306.8h0M365.1 303.5h0M364.1 302.8h0" stroke="#2aa5a8" stroke-width="0.96" stroke-linecap="round"/>
<path d="M362.7 305.4h0M357.3 308.4h0M361.4 302.7h0M362.0 303.5h0M362.3 300.3h0M359.1 305.6h0M363.2 303.5h0M360.4 305.1h0M361.9 304.4h0M362.0 301.2h0M360.9 311.4h0M361.4 308.8h0M361.5 299.4h0M360.8 303.9h0M363.6 305.1h0M364.6 299.1h0M359.4 306.4h0M362.4 300.8h0M364.3 299.7h0M364.5 299.2h0M368.3 293.3h0M365.5 299.1h0M360.0 305.8h0M369.5 295.3h0M363.8 297.6h0M364.9 299.6h0M356.2 314.1h0M361.5 305.1h0M360.0 303.5h0M363.5 306.0h0M364.9 303.6h0M362.3 304.2h0M361.8 303.2h0M360.0 307.1h0M362.9 304.1h0M359.8 309.1h0M357.3 312.6h0M360.4 306.0h0M361.2 304.2h0M361.3 302.8h0M363.8 303.9h0M360.0 306.4h0M365.6 298.0h0M360.5 310.1h0M363.6 303.9h0M360.5 306.4h0M365.9 303.5h0M362.6 304.1h0M363.0 308.0h0M356.6 313.6h0M363.8 301.9h0M360.9 307.2h0M359.3 307.8h0M359.3 307.8h0M360.8 304.6h0M360.1 308.3h0M360.5 306.2h0M364.1 299.2h0M362.8 300.4h0M363.2 302.5h0M359.6 304.1h0M361.5 304.0h0M365.0 300.7h0M359.1 301.8h0M364.4 302.2h0M366.7 300.0h0M360.6 304.3h0M362.1 303.8h0M359.2 308.2h0M360.8 310.3h0M360.8 303.8h0M357.4 308.4h0M360.5 307.3h0M356.8 308.6h0M365.2 302.2h0M362.8 303.4h0M362.0 301.7h0M362.9 305.3h0M361.9 300.5h0M361.1 307.4h0M361.3 305.4h0M361.4 302.6h0M359.3 307.4h0M365.7 299.5h0M361.0 305.6h0M360.6 302.0h0M360.2 306.6h0M362.0 300.6h0M357.9 308.1h0M361.3 304.4h0" stroke="#3cb54a" stroke-width="0.96" stroke-linecap="round"/>
<path d="M352.2 327.8h0M352.9 325.0h0M351.1 323.6h0M348.5 327.0h0M349.3 327.2h0M351.1 327.8h0M352.1 326.6h0M352.7 326.6h0M348.8 326.0h0M347.5 325.2h0M353.0 328.4h0M349.2 327.5h0" stroke="#30a8a0" stroke-width="0.90" stroke-linecap="round"/>
<rect x="332.30" y="278.50" width="60.00" height="73.00" fill="none" stroke="#231f20" stroke-width="1.1"/>
<path d="M345.6 285.9 L348.5 283.4 L352.7 283.1 L369.7 282.4 L375.4 283.8 L380.4 288.8 L384.6 295.9 L385.4 300.1 L384.6 307.2 L379.7 320.3 L363.4 320.3 L357.7 320.3 L354.8 310.1 L352.7 303.7 L345.6 299.4 L344.9 288.8 Z" fill="none" stroke="#231f20" stroke-width="1.0" stroke-linejoin="round"/>
<rect x="334.30" y="321.10" width="28.60" height="29.80" fill="none" stroke="#231f20" stroke-width="1.0"/>
<text x="379" y="286" font-size="7.7">T<tspan font-size="5" dy="1.4">FH</tspan></text>
<line x1="381.40" y1="323.30" x2="407.85" y2="316.34" stroke="#111" stroke-width="1.1"/>
<path d="M412.2 315.2 L408.0 318.8 L406.8 314.2 Z" fill="#111"/>
<path d="M328.6 326.4 V355.3 H358.0" fill="none" stroke="#cf1f33" stroke-width="1.0"/>
<path d="M326.3 328.0 L328.6 323.4 L330.9 328.0 Z" fill="#cf1f33"/>
<path d="M356.4 353.0 L361.0 355.3 L356.4 357.6 Z" fill="#cf1f33"/>
<text x="324.60" y="340.70" font-size="7.9" text-anchor="middle" textLength="25.20" lengthAdjust="spacingAndGlyphs" transform="rotate(-90 324.60 340.70)">CXCR5</text>
<text x="332.90" y="364.00" font-size="7.9" textLength="19.00" lengthAdjust="spacingAndGlyphs">ICOS</text>
<path d="M424.1 286.3h0M425.1 299.5h0M431.5 312.5h0M430.1 301.2h0M433.2 294.9h0M428.3 304.1h0M424.4 287.0h0M426.1 301.2h0M421.6 314.8h0M424.1 304.0h0M423.0 300.4h0M426.1 308.5h0M427.4 318.1h0M432.7 304.9h0M431.2 299.0h0M429.3 310.8h0M434.6 293.5h0M436.7 293.6h0M427.5 293.3h0M436.1 307.6h0M433.6 314.2h0M427.0 307.0h0M424.1 306.1h0M437.8 304.8h0M424.5 297.1h0M442.3 300.0h0M436.2 309.6h0M429.0 305.8h0M444.6 291.9h0M424.1 305.1h0M434.5 314.1h0M433.0 307.6h0M440.0 298.1h0M439.5 305.8h0M434.0 299.0h0M430.2 295.0h0M435.2 310.9h0M427.0 304.1h0M434.1 292.7h0M420.3 303.3h0M432.1 297.4h0M432.3 306.2h0M430.8 297.3h0M439.9 310.5h0M426.6 300.2h0M426.4 316.8h0M418.3 315.1h0M439.0 310.1h0M424.2 307.1h0M435.3 319.1h0M430.4 300.9h0M427.2 302.1h0M436.3 311.7h0M419.0 306.3h0M431.0 313.5h0M436.0 295.3h0M446.0 295.4h0M424.9 304.8h0M428.7 313.7h0M423.4 310.2h0M430.0 286.8h0M436.0 308.2h0M429.2 300.2h0M438.2 313.1h0M436.4 313.7h0M433.5 310.6h0M424.5 299.0h0M427.7 294.1h0M419.1 300.1h0M443.3 305.8h0M431.9 306.0h0M443.3 299.9h0M420.8 309.2h0M448.0 304.7h0M432.9 300.9h0M423.3 292.3h0M430.7 310.4h0M432.3 298.8h0M435.3 309.7h0M431.8 309.5h0M437.0 313.8h0M432.6 314.5h0M431.8 311.2h0M419.7 307.3h0M426.0 306.0h0M430.3 304.3h0M429.7 296.0h0M427.2 296.8h0M433.5 295.2h0M426.6 305.8h0M423.5 304.8h0M429.6 308.8h0M428.4 303.1h0M436.9 300.7h0M441.1 294.0h0M432.9 300.5h0M418.2 300.6h0M431.3 296.8h0M442.9 296.9h0M435.6 303.1h0M435.8 313.1h0M439.3 302.3h0M439.4 312.3h0M439.0 312.3h0M437.5 312.4h0M428.5 299.8h0M421.5 304.2h0M442.3 294.5h0M420.0 302.9h0M427.8 297.2h0M429.9 311.6h0M441.0 303.8h0M428.0 310.5h0M425.8 309.9h0M424.7 319.0h0M439.8 301.5h0M430.5 320.1h0M429.8 304.2h0M436.2 303.2h0M419.9 309.4h0M425.5 300.4h0M421.8 320.4h0M430.1 301.2h0M440.3 311.7h0M438.1 302.0h0M429.4 304.5h0M435.3 294.6h0M444.4 294.6h0M425.0 297.8h0M438.1 296.3h0M425.0 293.0h0M427.0 297.6h0M430.1 292.9h0M448.2 293.2h0M428.0 313.9h0M423.9 307.2h0M430.8 314.5h0M434.0 312.2h0M434.2 314.7h0M431.5 303.5h0M431.2 305.2h0M429.3 313.1h0M430.3 301.2h0M433.5 286.7h0M434.0 312.3h0M436.1 296.0h0M433.9 299.1h0M419.7 289.3h0M438.3 301.6h0M428.7 308.4h0M428.1 293.6h0M436.1 305.3h0M439.5 309.8h0M423.7 299.3h0M419.3 299.3h0M431.7 296.7h0M436.6 298.8h0M442.7 305.6h0M431.5 303.1h0M428.6 297.4h0M421.9 315.8h0M431.4 300.2h0M422.7 292.4h0M431.4 305.9h0M444.3 303.9h0M432.0 299.0h0M429.4 298.7h0M432.1 305.8h0M426.8 309.6h0M432.6 312.9h0M441.6 311.4h0M429.7 296.6h0M438.6 305.6h0M421.0 301.5h0M437.4 310.8h0M431.6 309.6h0M431.1 299.7h0M426.8 308.6h0M420.4 307.1h0M430.9 315.3h0M421.4 313.5h0M437.6 299.0h0M431.0 297.9h0M433.7 292.1h0M436.6 304.2h0M441.1 299.0h0M420.7 313.6h0M432.5 306.3h0M429.5 293.1h0M431.0 307.3h0M422.7 307.7h0M431.7 293.0h0M431.8 296.6h0M431.1 304.2h0M416.9 310.6h0M435.2 297.3h0M425.3 300.8h0M437.6 289.4h0M428.7 311.4h0M422.0 290.4h0M433.2 301.8h0M438.6 304.0h0M427.7 306.5h0M440.6 295.2h0M439.9 299.3h0M426.9 303.1h0M435.2 301.7h0M439.7 311.3h0M435.9 297.9h0M426.6 290.4h0M418.6 306.7h0M428.5 297.3h0M427.3 314.7h0M428.0 309.4h0M434.7 300.8h0M430.4 291.0h0M434.3 306.6h0M435.0 312.4h0M429.7 304.0h0M433.5 294.1h0M428.8 289.4h0M426.6 298.5h0M433.6 308.4h0M416.5 309.4h0M434.0 298.1h0M423.7 319.8h0M430.1 314.0h0M430.2 292.2h0M427.4 309.3h0M428.1 302.8h0M424.3 296.9h0M434.9 297.2h0M427.5 311.9h0M429.7 315.0h0M432.5 311.5h0M424.8 309.8h0M426.5 309.3h0M433.9 291.0h0M426.2 301.5h0M427.9 301.8h0M434.9 303.7h0M429.5 290.4h0M427.6 303.1h0M430.2 300.2h0M420.7 294.4h0M431.3 300.6h0M427.2 294.4h0M435.0 287.5h0M429.4 295.7h0M428.9 296.3h0M432.4 299.7h0M437.7 305.8h0M442.1 305.6h0M427.8 296.5h0M428.9 305.5h0M429.0 309.6h0M429.7 296.9h0M433.1 289.0h0M435.9 294.3h0M432.0 293.8h0M440.2 310.7h0M428.7 294.7h0M441.1 305.1h0M426.8 299.0h0M432.9 315.2h0M424.1 296.3h0M433.5 295.7h0M428.7 315.1h0M430.5 316.3h0M431.2 307.1h0M427.0 299.8h0M421.2 311.2h0M431.3 294.7h0M426.3 301.3h0M448.2 304.7h0M427.3 293.9h0M444.9 291.5h0M426.1 300.3h0M433.1 312.7h0M428.5 309.7h0M426.9 302.6h0M438.1 311.0h0M422.7 309.9h0M428.4 296.3h0M429.5 305.7h0M427.2 313.6h0M420.8 303.8h0M436.6 303.1h0M430.9 292.1h0M433.6 290.9h0M438.9 301.4h0M428.0 299.8h0M439.7 310.9h0M437.9 290.1h0M419.5 289.9h0M431.4 304.1h0M424.7 297.2h0M433.5 302.6h0M440.4 299.4h0M437.6 307.3h0M427.2 304.2h0M434.0 297.4h0M437.8 287.5h0M424.5 299.0h0M425.9 310.5h0M425.7 291.8h0M441.2 309.3h0M430.6 293.4h0M436.8 311.1h0M432.4 303.7h0M418.4 302.5h0M428.4 319.0h0M424.5 302.0h0M428.1 304.0h0M434.4 298.8h0M427.5 311.3h0M429.9 301.7h0M428.5 312.0h0M435.8 300.7h0M430.3 306.7h0M424.5 304.1h0M421.1 302.9h0M431.3 297.3h0M434.6 299.2h0M420.1 303.1h0M437.3 314.7h0M430.0 315.2h0M418.5 300.4h0M428.1 306.3h0M424.6 307.9h0M433.5 300.6h0M439.4 313.1h0M432.9 308.4h0M431.1 314.7h0M428.5 303.2h0M436.5 294.9h0M427.3 317.5h0M433.3 306.6h0M427.9 310.7h0M443.8 287.2h0M432.4 296.3h0M441.3 303.6h0M421.7 293.5h0M426.9 294.4h0M431.9 307.9h0M431.4 307.3h0M432.4 310.7h0M438.0 287.0h0M431.4 293.5h0M425.2 309.6h0M434.4 302.7h0M433.3 304.8h0M443.0 308.9h0M425.8 296.6h0M436.6 304.6h0M430.3 314.2h0M434.8 298.6h0M431.7 297.5h0M421.2 313.6h0M424.1 307.1h0M437.6 294.5h0M423.7 289.8h0M427.1 308.5h0M443.0 288.8h0M435.4 304.4h0M427.6 318.1h0M448.3 304.4h0M430.3 290.3h0M417.8 303.4h0M435.1 309.5h0M420.4 317.5h0M428.4 318.6h0M426.6 293.0h0M429.1 299.3h0M429.0 301.3h0M423.8 310.6h0M430.3 311.3h0M420.5 308.4h0M427.1 311.5h0M432.3 296.6h0M436.5 314.7h0M433.2 298.5h0M429.1 309.3h0M435.5 301.4h0M429.1 301.3h0M429.9 306.0h0M430.4 309.9h0M429.2 307.1h0M423.4 309.7h0M430.1 309.1h0M430.9 311.6h0M429.2 314.7h0M429.4 306.9h0M440.8 299.4h0M433.6 317.4h0M428.8 288.4h0M421.9 307.0h0M433.3 291.1h0M418.2 298.7h0M427.9 303.1h0M447.4 299.9h0M422.2 308.7h0M425.6 304.4h0M430.6 299.9h0M434.5 315.9h0M430.1 297.3h0M423.1 297.4h0M434.7 308.9h0M426.8 302.1h0M435.6 306.4h0M428.2 295.5h0M420.1 299.7h0M429.9 309.6h0M431.9 312.6h0M431.9 290.9h0M434.0 295.6h0M424.8 300.3h0M429.6 307.7h0M433.8 313.2h0M418.9 307.9h0" stroke="#b0b0b0" stroke-width="0.80" stroke-linecap="round" opacity="0.9"/>
<path d="M428.4 312.0h0M436.7 299.7h0M422.1 308.0h0M433.8 305.4h0M432.6 300.1h0M436.6 302.0h0M438.5 295.2h0M438.3 305.3h0M419.9 312.2h0M429.2 308.0h0M432.6 312.6h0M430.7 297.5h0M422.4 311.6h0M423.8 300.9h0M431.5 301.6h0M430.9 294.5h0M440.6 301.9h0M433.7 306.3h0M439.1 300.1h0M427.6 314.4h0M431.6 301.8h0M435.0 300.0h0M427.6 295.1h0M431.0 307.3h0M441.1 302.2h0M420.3 310.9h0M421.1 300.6h0M420.7 306.5h0M433.2 291.7h0M428.1 291.4h0M426.8 301.0h0M426.1 302.9h0M428.3 314.4h0M440.6 295.1h0M427.3 311.9h0M436.0 301.5h0M430.3 301.6h0M418.6 315.5h0M430.7 290.8h0M430.8 310.2h0M427.6 291.4h0M430.8 291.3h0M430.1 308.2h0M432.5 293.2h0M429.8 292.8h0M433.3 307.5h0M428.3 313.0h0M433.7 308.6h0M439.5 310.2h0M432.8 309.1h0M431.1 293.5h0M421.8 301.9h0M426.0 307.6h0M431.9 307.6h0M428.2 304.2h0M429.9 318.9h0M424.1 307.7h0M422.8 298.6h0M428.9 298.8h0M433.5 301.7h0M425.6 315.9h0M431.4 313.2h0M429.4 308.5h0M435.8 296.1h0M429.9 291.5h0M431.4 293.9h0M423.8 303.7h0M429.1 313.5h0M429.2 308.5h0M430.2 315.5h0M431.8 309.2h0M436.8 300.2h0M419.7 297.4h0M427.8 287.9h0M435.3 303.2h0" stroke="#c65ca6" stroke-width="0.80" stroke-linecap="round"/>
<path d="M425.3 329.2h0M424.8 334.0h0M428.2 340.6h0M423.5 326.1h0M429.9 335.1h0M425.9 332.8h0M427.0 333.4h0M435.7 329.7h0M431.5 328.0h0M427.9 345.3h0M434.0 331.1h0M426.4 340.2h0M426.6 331.0h0M424.3 333.8h0M434.0 336.8h0M427.1 332.0h0M430.6 341.4h0M432.9 336.6h0M432.4 327.9h0M428.1 335.5h0M430.7 342.6h0M439.2 328.3h0M427.5 342.6h0M427.5 334.6h0M426.7 332.6h0M421.6 335.5h0M428.5 334.4h0M419.3 337.1h0M426.4 342.6h0M428.0 335.2h0M430.5 332.6h0M421.2 335.7h0M422.4 336.7h0M427.5 339.7h0M436.2 333.5h0M428.1 342.0h0M436.5 343.3h0M422.3 337.7h0M428.7 333.1h0M420.4 339.6h0M423.5 327.8h0M422.1 327.2h0M425.1 343.1h0M423.7 337.9h0M429.4 338.0h0M431.9 339.2h0M422.2 326.9h0M429.7 335.0h0M425.8 341.3h0M425.8 349.3h0M434.3 335.9h0M428.8 339.1h0M419.9 330.4h0M424.2 343.1h0M426.9 337.5h0M425.9 337.0h0M429.2 326.7h0M444.0 332.3h0M434.5 336.7h0M431.0 331.7h0M419.6 332.5h0M419.8 332.5h0M429.5 336.0h0M431.9 330.7h0M422.7 336.7h0M437.5 336.4h0M423.4 344.9h0M422.5 343.6h0M433.4 325.0h0M426.2 329.8h0M423.3 326.5h0M425.9 341.9h0M427.8 333.2h0M426.6 339.3h0M431.2 335.1h0M431.4 330.6h0M435.0 329.2h0M425.6 335.9h0M436.4 327.4h0M430.0 337.1h0M430.2 332.0h0M424.9 330.8h0M423.4 345.5h0M419.4 337.5h0M431.8 334.7h0M419.9 330.0h0M420.3 342.1h0M434.0 341.2h0M428.9 332.6h0M432.3 334.2h0M429.2 341.3h0M426.8 341.8h0M423.7 331.9h0M430.0 331.7h0M423.7 334.3h0M429.1 334.8h0M429.0 341.5h0M423.3 342.4h0M426.4 341.6h0M427.9 339.4h0M436.7 330.2h0M427.9 326.8h0M428.2 335.8h0M421.8 330.0h0M433.1 335.6h0M423.3 338.2h0M433.0 337.5h0M424.0 336.1h0M426.4 346.2h0M442.0 334.5h0M427.6 333.5h0M435.6 332.0h0M431.3 340.2h0M426.3 332.6h0M424.3 334.4h0M423.8 336.8h0M425.2 339.2h0M427.7 332.7h0M424.5 328.2h0M429.4 332.2h0M420.7 331.7h0M421.8 337.5h0M425.3 328.5h0M427.5 330.7h0M422.5 342.6h0M441.1 337.1h0M430.0 331.4h0M419.5 336.4h0M419.2 337.8h0M426.2 331.9h0M429.6 337.1h0M423.8 340.5h0M426.4 335.8h0M425.7 342.1h0M430.3 333.8h0M432.0 347.1h0M424.2 336.0h0M423.4 335.7h0M426.2 338.7h0M434.7 335.5h0M422.2 335.1h0M428.0 343.1h0M422.7 348.4h0M430.5 332.0h0M439.1 331.0h0M431.6 330.7h0M432.2 339.1h0M437.6 330.3h0M435.2 331.8h0M421.6 335.4h0M422.6 335.6h0M430.2 341.8h0M424.5 338.3h0M422.7 338.6h0M422.4 338.0h0M420.0 327.3h0M422.4 342.4h0M438.2 330.6h0M428.4 340.6h0M425.1 335.5h0M432.5 333.9h0M420.7 334.5h0M432.5 333.8h0M427.0 342.0h0M423.2 333.8h0M436.1 343.6h0M423.2 329.8h0M422.7 331.6h0M430.5 344.9h0M431.1 338.8h0M434.6 340.6h0M421.0 344.9h0M430.0 342.2h0M424.7 335.5h0M431.3 342.2h0M421.9 340.6h0M424.6 330.7h0M428.5 337.5h0M429.0 341.4h0M422.4 336.7h0M437.6 344.7h0M425.5 339.3h0M432.3 337.4h0M430.7 341.9h0M438.4 337.2h0M422.5 335.4h0M423.6 341.4h0M430.2 340.3h0M425.3 342.1h0M430.7 336.3h0M426.1 340.6h0M430.8 331.9h0M426.4 331.0h0M424.6 337.5h0M431.7 338.7h0M428.0 340.9h0M420.7 327.5h0M431.5 340.1h0M424.7 338.3h0M431.5 340.2h0M432.2 339.2h0M430.9 326.6h0M427.8 330.2h0M430.1 340.3h0M430.2 328.0h0M427.2 335.7h0M429.9 333.7h0M426.5 337.7h0M431.6 334.7h0M430.1 332.5h0M425.6 334.3h0M436.6 337.8h0M428.8 341.9h0M431.6 336.7h0M434.6 338.5h0M424.4 330.8h0M435.4 336.2h0M439.6 329.2h0M435.8 337.5h0M422.1 333.5h0M436.5 334.7h0M428.9 346.2h0M430.5 332.8h0M425.1 331.8h0M425.3 342.0h0M420.2 330.0h0M423.8 326.0h0M436.8 346.2h0M428.3 332.4h0M420.0 337.4h0M427.6 341.8h0M432.6 327.0h0M433.3 339.5h0M426.9 347.5h0M425.3 327.4h0M437.7 337.9h0M433.5 331.5h0M432.6 338.9h0M420.5 325.3h0M431.7 333.2h0M424.5 337.7h0M435.3 344.1h0M435.1 334.8h0M420.0 336.3h0M437.0 330.2h0M421.5 336.9h0M433.1 330.0h0M422.8 336.2h0M437.0 340.4h0M424.9 330.7h0M422.2 339.8h0M422.0 340.9h0M434.0 341.8h0M434.1 340.9h0M427.9 339.0h0M433.1 329.7h0M428.3 344.5h0M422.8 341.0h0M419.7 339.3h0M428.2 339.8h0M427.4 335.6h0M419.3 341.8h0M422.6 331.4h0M431.5 334.1h0M423.9 336.9h0M431.2 335.2h0M425.9 337.1h0M419.9 332.9h0M421.4 340.4h0M424.3 335.0h0M419.9 326.1h0M425.7 333.7h0M426.9 339.8h0M436.7 334.4h0M433.0 327.7h0M435.7 335.6h0M437.1 335.5h0M432.3 338.6h0M427.9 327.0h0M432.9 327.9h0M421.9 337.8h0M424.2 331.5h0M432.7 337.8h0M428.9 339.7h0M421.0 344.6h0M433.9 337.7h0M433.4 339.7h0M429.5 331.6h0M424.0 340.2h0M427.4 347.1h0M432.9 341.6h0M424.1 332.1h0M423.0 334.8h0M424.2 327.6h0M423.2 335.7h0M431.7 330.6h0M426.7 332.9h0M440.2 338.9h0M430.4 340.5h0M424.1 330.2h0M425.4 341.9h0M421.6 327.7h0M425.8 334.4h0M426.5 340.5h0M424.0 334.5h0M430.2 332.0h0M433.8 342.0h0M428.3 339.7h0M427.7 343.3h0M427.9 338.5h0M433.0 330.3h0M430.2 340.1h0M431.5 328.4h0M426.6 337.4h0M429.5 347.4h0M433.5 328.2h0M426.9 334.7h0M419.9 344.1h0M426.8 341.4h0M420.6 331.8h0M425.9 331.1h0M428.2 339.5h0M427.8 329.6h0M421.4 335.6h0M431.1 329.7h0M427.0 335.2h0M428.2 326.9h0M425.6 345.4h0M435.0 339.6h0M443.1 340.6h0" stroke="#b0b0b0" stroke-width="0.80" stroke-linecap="round" opacity="0.9"/>
<path d="M428.3 331.3h0M431.6 331.3h0M430.9 336.0h0M437.3 341.8h0M424.6 332.5h0M431.5 340.0h0M421.3 333.7h0M424.5 332.7h0M427.7 333.9h0M425.9 340.5h0M441.5 336.3h0M428.0 337.0h0M425.7 333.9h0M419.8 331.6h0M430.9 332.3h0M437.2 332.6h0M426.9 327.0h0M423.7 346.1h0M433.0 340.8h0M431.9 342.6h0M437.7 332.4h0M424.5 327.1h0M426.4 331.5h0M421.0 337.7h0M433.1 341.7h0M434.4 334.7h0M434.4 338.2h0M428.7 331.8h0M426.8 343.2h0M422.4 333.5h0M428.3 336.7h0M424.1 335.3h0M423.7 335.1h0M425.6 348.3h0M431.5 349.0h0M422.5 334.8h0M437.3 330.1h0M436.0 342.7h0M429.3 336.1h0M429.3 336.9h0M434.4 338.9h0M428.5 339.4h0M433.6 347.4h0M425.9 340.8h0M425.0 332.0h0M436.1 330.3h0M425.2 334.2h0M429.8 331.7h0M421.4 337.4h0M432.6 334.6h0M426.9 333.1h0M425.3 325.7h0M435.5 333.4h0M430.6 339.1h0M435.5 344.6h0" stroke="#c65ca6" stroke-width="0.80" stroke-linecap="round"/>
<path d="M448.8 320.8h0M458.9 331.0h0M449.7 320.1h0M455.6 317.2h0M444.0 327.3h0M447.3 328.0h0M446.5 329.1h0M454.2 314.0h0M457.2 318.8h0M452.5 314.5h0M450.6 324.0h0M451.7 329.6h0M446.8 330.4h0M446.4 326.6h0M456.9 322.3h0M451.9 313.2h0M450.0 309.0h0M457.6 327.7h0M457.1 324.7h0M454.0 325.0h0M449.4 320.5h0M449.3 311.5h0M448.4 319.2h0M455.8 329.5h0M453.1 314.6h0M450.3 313.1h0M454.2 334.8h0M439.6 307.8h0M450.6 307.1h0M443.5 333.5h0M449.7 326.2h0M453.8 322.7h0M444.5 327.3h0M451.2 310.2h0M453.2 315.2h0M452.3 328.1h0M445.4 315.2h0M443.3 324.9h0M448.9 330.2h0M445.1 329.4h0M439.8 323.4h0M444.3 325.6h0M450.8 314.6h0M445.7 334.1h0M446.2 329.4h0M447.2 331.4h0M457.5 320.1h0M447.5 317.1h0M443.0 310.4h0M453.6 320.3h0M443.7 327.8h0M449.4 313.3h0M446.0 321.1h0M449.3 323.0h0M453.2 334.6h0M447.3 314.6h0M449.9 337.9h0M447.2 335.8h0M452.4 307.0h0M452.5 324.0h0M444.3 320.6h0M447.0 328.8h0M460.2 321.5h0M447.0 326.3h0M450.9 319.8h0M449.9 331.9h0M439.6 317.6h0M444.6 317.3h0M454.4 314.4h0M451.4 328.6h0M445.5 323.0h0M446.9 324.9h0M449.6 315.3h0M439.4 319.6h0M452.7 322.4h0M444.6 328.1h0M455.3 324.4h0M450.1 330.8h0M447.4 320.9h0M450.0 311.7h0M457.3 340.5h0M450.8 313.5h0M447.3 328.7h0M458.1 312.3h0M453.6 312.9h0M444.6 324.8h0M454.6 329.2h0M448.9 309.7h0M448.1 320.5h0M451.0 320.5h0M446.4 307.9h0M450.8 332.5h0M452.1 322.8h0M450.4 310.7h0M448.0 324.7h0M438.0 327.5h0M451.2 326.0h0M450.5 327.2h0M451.6 326.6h0M438.6 308.6h0M455.3 317.1h0M451.6 311.8h0M453.0 320.1h0M455.7 325.3h0M446.4 319.9h0M452.1 324.9h0M460.4 322.7h0M445.4 328.1h0M439.4 325.6h0M449.4 318.6h0M449.7 318.9h0M449.7 317.9h0M450.7 311.7h0M447.9 306.1h0M454.2 318.2h0M453.0 321.8h0M457.5 326.8h0M447.6 314.0h0M450.3 322.1h0M448.4 320.3h0M447.6 319.5h0M447.3 311.5h0M450.0 320.5h0M448.7 325.8h0M453.2 329.4h0M442.9 316.4h0M451.2 312.8h0M457.6 319.7h0M457.6 319.9h0M460.4 321.9h0M447.3 321.1h0M451.6 316.0h0M443.4 319.9h0M444.4 324.9h0M455.1 313.8h0M439.0 338.2h0M447.5 325.1h0M452.3 307.0h0M442.7 330.2h0M443.4 318.3h0M447.9 329.5h0M454.4 326.1h0M451.5 307.8h0M445.4 326.6h0M444.3 330.5h0M446.4 309.2h0M436.3 320.3h0M439.7 321.7h0M445.8 325.5h0M445.5 322.3h0M442.6 331.0h0M460.7 331.3h0M442.2 316.4h0M448.0 306.4h0M459.4 316.8h0M449.3 336.1h0M456.0 308.7h0M444.6 318.3h0M446.8 325.0h0M451.0 324.5h0M450.3 321.7h0M446.2 315.0h0M455.0 316.7h0M458.1 325.0h0M445.3 311.4h0M443.5 331.4h0M459.3 325.9h0M454.6 324.5h0M450.0 310.5h0M444.0 324.5h0M448.8 323.3h0M454.6 318.7h0M452.4 318.6h0M457.1 324.9h0M448.6 320.8h0M453.1 331.7h0M451.2 321.6h0M456.8 321.1h0M451.0 319.0h0M446.4 320.8h0M448.7 311.2h0M449.1 313.5h0M451.9 318.0h0M448.8 316.5h0M450.9 314.6h0M448.4 319.4h0M448.3 318.2h0M442.4 330.2h0M443.9 325.8h0M439.8 335.5h0M450.9 325.8h0M446.0 328.6h0M450.8 326.1h0M456.1 317.7h0M447.4 325.0h0M454.7 316.0h0M445.7 325.6h0M455.8 310.9h0M444.5 324.5h0M445.6 330.4h0M453.1 318.5h0M452.0 311.9h0M451.9 327.5h0M452.5 332.7h0M447.6 308.0h0M441.5 318.0h0M449.1 325.4h0M446.5 318.8h0M451.7 326.3h0M446.5 329.0h0M449.4 323.1h0M450.0 323.2h0M448.8 310.7h0M450.2 322.4h0M457.1 318.8h0M448.8 308.4h0M438.1 323.5h0M447.8 306.0h0M458.8 310.9h0M455.3 324.3h0M455.1 324.6h0M451.3 318.0h0M457.1 311.0h0M455.8 323.3h0M457.9 309.8h0M450.6 311.0h0M443.3 321.2h0M451.7 314.4h0M442.8 315.5h0M446.7 319.1h0" stroke="#b0b0b0" stroke-width="0.80" stroke-linecap="round" opacity="0.9"/>
<path d="M453.3 314.2h0M456.0 318.1h0M445.1 314.6h0M449.7 328.1h0M447.8 311.3h0M446.1 310.0h0M449.5 313.4h0M451.9 313.5h0M446.4 313.3h0M450.5 315.2h0M445.0 328.4h0M449.2 309.8h0M453.3 320.0h0M454.2 315.2h0M457.2 316.2h0M445.8 317.4h0M451.5 320.5h0M449.1 315.3h0M453.3 329.9h0M449.2 318.0h0M448.7 317.2h0M452.7 317.4h0M459.8 322.0h0M449.6 321.4h0M454.9 308.7h0M448.2 333.3h0M450.5 329.1h0M450.5 319.7h0M460.9 322.5h0M442.0 328.2h0M440.9 324.5h0M454.0 337.8h0M454.0 315.2h0M445.8 327.4h0M445.8 331.0h0M448.7 314.9h0M439.9 312.5h0M448.5 317.7h0M444.0 314.6h0M446.0 333.7h0" stroke="#c65ca6" stroke-width="0.80" stroke-linecap="round"/>
<path d="M433.0 337.0h0M454.5 348.0h0M443.3 339.6h0M447.0 339.6h0M433.0 327.8h0M435.7 330.2h0M452.2 344.4h0M425.8 345.9h0M444.3 332.3h0M430.5 336.4h0M437.2 335.9h0M461.4 345.7h0M431.2 342.5h0M424.1 336.9h0M444.7 343.7h0M431.1 332.0h0M434.8 340.6h0M437.0 337.8h0M423.9 341.9h0M431.6 334.9h0M439.7 330.4h0M444.6 328.9h0M425.2 345.2h0M442.9 338.5h0M448.7 340.1h0M439.1 340.2h0M447.8 338.6h0M454.3 335.2h0M453.3 334.0h0M441.1 338.5h0M444.8 338.7h0M429.4 331.3h0M440.7 343.3h0M456.3 347.0h0M450.5 333.0h0M453.8 335.8h0M457.1 328.4h0M441.7 337.3h0M438.8 340.4h0M455.7 345.2h0M429.9 345.3h0M442.5 336.5h0M419.3 341.1h0M444.5 344.9h0M447.9 344.5h0M431.1 341.6h0M449.0 341.4h0M423.4 344.1h0M449.0 338.0h0M445.8 348.6h0M438.2 344.6h0M433.2 349.8h0M453.0 343.1h0M443.7 344.7h0M445.0 343.4h0M425.5 337.8h0M456.3 338.3h0M426.8 341.6h0M423.2 338.0h0M440.4 336.9h0M440.2 340.1h0M428.6 333.5h0M441.8 334.9h0M433.3 334.6h0M428.2 330.9h0M423.4 345.9h0M433.4 335.2h0M446.5 346.6h0M446.6 349.9h0M455.0 349.4h0M440.2 339.4h0M448.6 325.9h0M433.1 349.6h0M428.8 342.5h0M437.0 337.2h0M430.4 331.4h0M437.9 329.3h0M444.1 325.9h0M442.1 342.6h0M429.6 332.2h0" stroke="#b0b0b0" stroke-width="0.80" stroke-linecap="round" opacity="0.9"/>
<rect x="415.50" y="277.80" width="58.40" height="73.40" fill="none" stroke="#231f20" stroke-width="1.1"/>
<path d="M415.6 285.4 L452.8 285.4 L453.1 301.0 L448.4 305.3 L439.7 314.8 L435.0 322.1 L420.7 321.8 L417.8 317.7 L415.6 312.6 Z" fill="none" stroke="#231f20" stroke-width="1.0" stroke-linejoin="round"/>
<path d="M418.6 351.2 L417.8 325.7 L420.7 323.5 L435.3 323.2 L442.6 314.1 L451.3 305.3 L462.7 304.6 L463.3 332.3 L465.2 350.5" fill="none" stroke="#231f20" stroke-width="1.0" stroke-linejoin="round"/>
<rect x="469.50" y="305.50" width="7.50" height="16.00" fill="#fff"/>
<text x="455" y="293.8" font-size="7.7">TR<tspan font-size="5" dy="1.4">EG</tspan></text>
<text x="470.4" y="315.7" font-size="7.2">Non-T<tspan font-size="5" dy="1.4">FH</tspan><tspan dy="-1.4">/T</tspan><tspan font-size="5" dy="1.4">REG</tspan></text>
<path d="M411.7 325.8 V355.0 H441.0" fill="none" stroke="#cf1f33" stroke-width="1.0"/>
<path d="M409.4 327.4 L411.7 322.8 L414.0 327.4 Z" fill="#cf1f33"/>
<path d="M439.4 352.7 L444.0 355.0 L439.4 357.3 Z" fill="#cf1f33"/>
<text x="407.80" y="340.50" font-size="7.9" text-anchor="middle" textLength="19.30" lengthAdjust="spacingAndGlyphs" transform="rotate(-90 407.80 340.50)">CD25</text>
<text x="412.70" y="363.70" font-size="7.7" textLength="24.20" lengthAdjust="spacingAndGlyphs">CD127</text>
<text x="8.60" y="269.80" font-size="10.5" font-weight="bold" style="fill:#000">F</text>
<text x="227.20" y="270.20" font-size="10.5" font-weight="bold" style="fill:#000">G</text>
<rect x="0.5" y="0.5" width="519" height="548" fill="none" stroke="#171313" stroke-width="1.1"/>
</svg>
</body></html>
